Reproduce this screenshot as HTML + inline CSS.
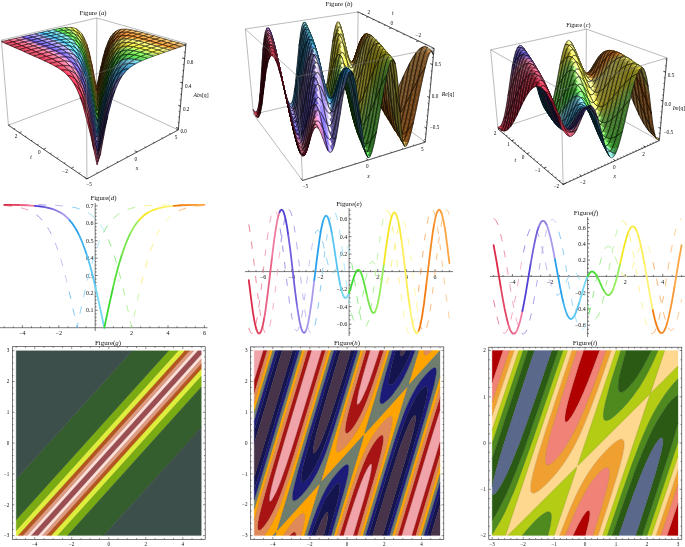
<!DOCTYPE html>
<html><head><meta charset="utf-8"><title>Figure</title>
<style>
html,body{margin:0;padding:0;background:#fff;}
svg{display:block;}
text{font-family:"Liberation Serif","DejaVu Serif",serif;fill:#111;}
.tk{font-size:5.1px;}
.t3{font-size:5.2px;fill:#000;}
.n3{font-size:5.7px;}
.tt{font-size:6.9px;}
.t3t{font-size:6.7px;}
.ax{font-size:6px;}
.m{fill:none;stroke:#000;stroke-width:6.2;stroke-opacity:.9}
</style></head><body>
<svg width="685" height="547" viewBox="0 0 685 547">
<rect width="685" height="547" fill="#fff"/>
<path fill="#9a4e52" stroke="#9a4e52" stroke-width="0.3" fill-rule="evenodd" d="M31,535.6 38.4,535.6 201.3,354.8 201.3,350.7 197.6,350.7Z"/>
<path fill="#ffe0d8" stroke="#ffe0d8" stroke-width="0.3" fill-rule="evenodd" d="M27.1,535.6 31,535.6 197.6,350.7 193.7,350.7ZM38.4,535.6 42.3,535.6 45.1,532.5 201.3,359.1 201.3,354.8Z"/>
<path fill="#e09a80" stroke="#e09a80" stroke-width="0.3" fill-rule="evenodd" d="M22.9,535.6 27.1,535.6 193.7,350.7 189.4,350.7ZM42.3,535.6 46.6,535.6 198.6,366.9 201.3,363.9 201.3,359.1Z"/>
<path fill="#b5561e" stroke="#b5561e" stroke-width="0.3" fill-rule="evenodd" d="M17.9,535.6 22.9,535.6 189.4,350.7 184.5,350.7ZM46.6,535.6 51.5,535.6 199.3,371.5 201.3,369.3 201.3,363.9Z"/>
<path fill="#dfee3a" stroke="#dfee3a" stroke-width="0.3" fill-rule="evenodd" d="M16.2,535.6 17.9,535.6 184.5,350.7 178.2,350.7 16.2,530.5ZM51.5,535.6 57.8,535.6 199.4,378.4 201.3,376.3 201.3,369.3Z"/>
<path fill="#7aab12" stroke="#7aab12" stroke-width="0.3" fill-rule="evenodd" d="M57.8,535.6 67.5,535.6 201.3,387 201.3,376.3ZM16.2,530.2 16.2,530.5 178.2,350.7 168.6,350.7 16.2,519.8Z"/>
<path fill="#355e2e" stroke="#355e2e" stroke-width="0.3" fill-rule="evenodd" d="M67.5,535.6 103.9,535.6 195.6,433.9 201.3,427.5 201.3,387ZM16.2,519.4 16.2,519.8 168.6,350.7 132.1,350.7 16.2,479.3Z"/>
<path fill="#3d4f4b" stroke="#3d4f4b" stroke-width="0.3" fill-rule="evenodd" d="M103.9,535.6 201.3,535.6 201.3,427.5ZM16.2,478.6 16.2,479.3 132.1,350.7 16.2,350.7Z"/>
<path fill="none" stroke="#000" stroke-opacity="0.35" stroke-width="0.3" d="M31,535.6 197.6,350.7M201.3,354.8 38.4,535.6M27.1,535.6 193.7,350.7M201.3,359.1 42.3,535.6M22.9,535.6 189.4,350.7M201.3,363.9 46.6,535.6M17.9,535.6 184.5,350.7M201.3,369.3 51.5,535.6M16.2,530.5 178.2,350.7M201.3,376.3 57.8,535.6M16.2,519.8 168.6,350.7M201.3,387 67.5,535.6M16.2,479.3 132.1,350.7M201.3,427.5 103.9,535.6"/>
<rect x="12.3" y="346.7" width="192.9" height="192.7" fill="none" stroke="#222" stroke-width="0.6"/>
<path fill="none" stroke="#222" stroke-width="0.5" d="M34.7,539.4v-2.2M34.7,346.7v2.2M71.7,539.4v-2.2M71.7,346.7v2.2M108.8,539.4v-2.2M108.8,346.7v2.2M145.8,539.4v-2.2M145.8,346.7v2.2M182.8,539.4v-2.2M182.8,346.7v2.2M16.2,539.4v-1.3M16.2,346.7v1.3M25.5,539.4v-1.3M25.5,346.7v1.3M44,539.4v-1.3M44,346.7v1.3M53.2,539.4v-1.3M53.2,346.7v1.3M62.5,539.4v-1.3M62.5,346.7v1.3M81,539.4v-1.3M81,346.7v1.3M90.2,539.4v-1.3M90.2,346.7v1.3M99.5,539.4v-1.3M99.5,346.7v1.3M118,539.4v-1.3M118,346.7v1.3M127.3,539.4v-1.3M127.3,346.7v1.3M136.5,539.4v-1.3M136.5,346.7v1.3M155,539.4v-1.3M155,346.7v1.3M164.3,539.4v-1.3M164.3,346.7v1.3M173.5,539.4v-1.3M173.5,346.7v1.3M192,539.4v-1.3M192,346.7v1.3M201.3,539.4v-1.3M201.3,346.7v1.3M12.3,535.6h2.2M205.2,535.6h-2.2M12.3,504.8h2.2M205.2,504.8h-2.2M12.3,474h2.2M205.2,474h-2.2M12.3,443.1h2.2M205.2,443.1h-2.2M12.3,412.3h2.2M205.2,412.3h-2.2M12.3,381.5h2.2M205.2,381.5h-2.2M12.3,350.7h2.2M205.2,350.7h-2.2M12.3,529.4h1.3M205.2,529.4h-1.3M12.3,523.3h1.3M205.2,523.3h-1.3M12.3,517.1h1.3M205.2,517.1h-1.3M12.3,510.9h1.3M205.2,510.9h-1.3M12.3,498.6h1.3M205.2,498.6h-1.3M12.3,492.5h1.3M205.2,492.5h-1.3M12.3,486.3h1.3M205.2,486.3h-1.3M12.3,480.1h1.3M205.2,480.1h-1.3M12.3,467.8h1.3M205.2,467.8h-1.3M12.3,461.6h1.3M205.2,461.6h-1.3M12.3,455.5h1.3M205.2,455.5h-1.3M12.3,449.3h1.3M205.2,449.3h-1.3M12.3,437h1.3M205.2,437h-1.3M12.3,430.8h1.3M205.2,430.8h-1.3M12.3,424.7h1.3M205.2,424.7h-1.3M12.3,418.5h1.3M205.2,418.5h-1.3M12.3,406.2h1.3M205.2,406.2h-1.3M12.3,400h1.3M205.2,400h-1.3M12.3,393.8h1.3M205.2,393.8h-1.3M12.3,387.7h1.3M205.2,387.7h-1.3M12.3,375.4h1.3M205.2,375.4h-1.3M12.3,369.2h1.3M205.2,369.2h-1.3M12.3,363h1.3M205.2,363h-1.3M12.3,356.9h1.3M205.2,356.9h-1.3"/>
<text x="34.7" y="545.7" text-anchor="middle" class="tk">−4</text>
<text x="71.7" y="545.7" text-anchor="middle" class="tk">−2</text>
<text x="108.8" y="545.7" text-anchor="middle" class="tk">0</text>
<text x="145.8" y="545.7" text-anchor="middle" class="tk">2</text>
<text x="182.8" y="545.7" text-anchor="middle" class="tk">4</text>
<text x="9.3" y="537.3" text-anchor="end" class="tk">−3</text>
<text x="9.3" y="506.5" text-anchor="end" class="tk">−2</text>
<text x="9.3" y="475.7" text-anchor="end" class="tk">−1</text>
<text x="9.3" y="444.8" text-anchor="end" class="tk">0</text>
<text x="9.3" y="414" text-anchor="end" class="tk">1</text>
<text x="9.3" y="383.2" text-anchor="end" class="tk">2</text>
<text x="9.3" y="352.4" text-anchor="end" class="tk">3</text>
<text x="108" y="345.2" text-anchor="middle" class="tt">Figure(<tspan font-style="italic">g</tspan>)</text>
<path fill="#f0a3a8" stroke="#f0a3a8" stroke-width="0.3" fill-rule="evenodd" d="M343.4,535.6 353.5,535.6 364.1,499.4 367.2,488.2 369.6,479.2 371.1,472.1 371.8,467 371.9,465.4 371.8,464.6 371.1,463.7 370.3,464.1 369.6,464.9 368.8,465.9 367.2,468.5 364.1,474.8 361,482.3 357.2,492.8 353.3,504.2 348.6,518.6ZM401.6,535.6 412,535.6 412.1,535.1 440,442.3 440,409.9 434.6,426.9 428.4,447ZM269.4,500.9 269.7,501.6 270.5,501.6 271.2,500.9 272.8,498.8 275.1,494.6 277.4,489.6 279.7,484 284.4,471.4 289.8,455.1 296.8,433 321.8,350.5 311.4,350.5 285.9,435.4 275.9,470 272.8,481.4 270.5,491.2 269.5,497 269.3,499.4ZM357.1,404.5 357.9,404.7 358.7,404.1 360.3,402 362.6,397.9 365.7,391.1 368.8,383.2 371.9,374.7 375.7,363.2 379.8,350.5 370,350.5 362.6,376.1 358.7,391.1 357.9,394.6 357,399.9 356.8,402.9ZM254.2,380.6 254.2,381.1 263.4,350.5 254.2,350.5Z"/>
<path fill="#a81414" stroke="#a81414" stroke-width="0.3" fill-rule="evenodd" d="M289.7,535.6 296.1,535.6 296,534.3 295.8,533.3 295.2,532.2 294.5,531.9 293.7,532.1 292.1,533.1ZM339.5,535.6 343.4,535.6 348.6,518.6 353.3,504.2 357.2,492.8 361,482.3 364.1,474.8 367.2,468.5 368.8,465.9 369.6,464.9 370.3,464.1 371.1,463.7 371.8,464.6 371.9,465.4 371.8,467 371.1,472.1 369.6,479.2 367.2,488.2 364.1,499.4 353.5,535.6 357.4,535.6 373.4,481.6 377.3,468 380.4,456.3 382.7,446.1 383.5,440.9 383.6,438.4 383.5,436.9 383.3,436.1 382.7,435.2 381.9,435 381.2,435.2 379.6,436.2 377.3,438.6 375,441.6 372.6,445.1 369.6,450.5 367.2,455.1 364.1,461.9 359.5,473.7 354.1,489.2 347.9,508.4ZM397.8,535.6 401.6,535.6 428.4,447 434.6,426.9 440,409.9 440,397.2 434.6,414.2 427.6,436.8ZM412,535.6 415.8,535.6 439.2,457.8 440,455.2 440,442.3ZM258.5,530.2 258.8,530.4 259.6,530.3 260.4,530 261.2,529.5 262.7,528.1 264.3,526.3 265.8,524.3 268.9,519.6 272,514.1 275.1,507.8 278.2,500.6 281.3,492.7 284.4,484.1 287.5,474.9 294.5,453.2 305.3,417.8 325.6,350.5 321.8,350.5 297.6,430.5 291.4,450.3 285.9,466.9 281.3,480 279,485.9 276.7,491.4 274.3,496.1 272.8,498.8 271.2,500.9 270.5,501.6 269.7,501.6 269.4,500.9 269.3,500.1 269.3,498.6 269.6,495.5 271.2,487.7 274.3,475.6 278.2,461.8 284.4,440.6 311.4,350.5 307.6,350.5 275.1,458.6 268.1,482.3 263.5,498.7 259.6,513.8 258,521.7 257.6,525.6 257.6,527.9 257.9,529.4 258.1,529.8ZM345.8,433 346.3,433.4 347.1,433.4 347.9,433.1 348.6,432.6 350.2,431.2 352.5,428.5 354.8,425.3 357.2,421.5 360.3,415.8 362.6,411 364.9,405.7 367.2,400 371.9,387.3 377.3,371.1 383.8,350.5 379.8,350.5 372.6,372.4 369.6,381.2 366.5,389.2 364.1,394.6 361.8,399.4 359.5,403.2 358.7,404.1 357.9,404.7 357.1,404.5 356.8,402.9 356.9,401.4 357.3,398.3 358.7,391.1 362.6,376.1 370,350.5 366,350.5 354.1,391 350.2,404.9 347.9,413.9 346.3,420.7 345.3,426.9 345.1,429.2 345.1,430.7 345.4,432.3ZM254.2,393.7 267.2,350.5 263.4,350.5 263.2,351.3 254.2,381.1Z"/>
<path fill="#e08a5a" stroke="#e08a5a" stroke-width="0.3" fill-rule="evenodd" d="M254.2,535.6 264.5,535.6 268.7,529.4 272.3,523.3 275.7,516.3 279,508.6 282.1,500.6 285.2,491.8 292.9,467.9 304.5,430.1 328.5,350.5 325.6,350.5 303.7,422.9 293.7,455.6 285.9,479.5 282.8,488.4 279.7,496.7 276.7,504.3 273.6,511 271.2,515.6 268.1,520.9 265,525.3 262.7,528.1 261.2,529.5 260.4,530 259.6,530.3 258.8,530.4 258.1,529.8 257.7,528.7 257.5,526.3 257.7,524 258.1,521.4 258.8,517.3 261.2,507.4 265.8,490.4 272.8,466.5 307.6,350.5 304.7,350.5 266.6,477.2 258.8,503.4 254.2,519.7ZM283.3,535.6 289.7,535.6 292.1,533.1 293.7,532.1 294.5,531.9 295.2,532.2 295.8,533.3 296,534.3 296.1,535.6 301.3,535.6 303.7,525.6 304.8,519.4 305,517.1 304.9,515.5 304.6,514 303.9,513.2 303,513.1 302.2,513.3 300.6,514.2 298.3,516.1 295.2,519.2 292.1,522.8 289,526.8 285.9,531.3ZM336.5,535.6 339.5,535.6 348.6,506 354.8,486.9 360.3,471.6 363.4,463.8 365.7,458.4 368,453.5 370.3,449.1 372.6,445.1 375,441.6 377.3,438.6 378.8,436.9 380.4,435.6 381.2,435.2 381.9,435 382.7,435.2 383.3,436.1 383.5,436.9 383.6,438.4 383.5,440.7 383.2,443.1 381.9,449.8 378.8,462.3 375,476.2 368,500.1 357.4,535.6 360.3,535.6 380.4,468.5 385.8,449.7 388.9,438.3 391.2,428.7 392,424.7 392.3,422.2 392.5,419.9 392.4,418.4 392,416.8 391.2,416.2 390.5,416.2 388.9,416.8 386.6,418.6 382.7,422.4 378.8,426.9 375,432.2 371.4,437.7 368.4,443.1 365.4,449.2 363,454.6 360.6,460.8 357.9,467.9 354.8,476.9 347.9,498.6ZM394.9,535.6 397.8,535.6 427.6,436.8 434.6,414.2 440,397.2 440,387.3 434.6,404.4 427.6,427.1ZM415.8,535.6 418.7,535.6 438.5,470.1 440,464.9 440,455.2ZM337.7,452.3 338.6,452.2 339.4,451.9 340.9,450.9 342.5,449.6 345.6,446.6 349.4,442.1 353.3,436.9 356.4,432.2 359.5,426.9 362.3,421.5 364.7,416.1 367,410.7 369.6,403.9 372.1,396.8 378.1,378.6 386.8,350.5 383.8,350.5 376.5,373.5 371.1,389.6 368,398 365.7,403.9 363.4,409.3 361,414.3 358.7,418.8 356.4,422.8 354.8,425.3 352.5,428.5 350.2,431.2 348.6,432.6 347.9,433.1 347.1,433.4 346.3,433.4 345.6,432.8 345.4,432.3 345.1,430.7 345.2,428.4 345.5,425.3 346,422.2 347.9,413.9 350.2,404.9 354.1,391 366,350.5 363.1,350.5 346.3,406.7 341.7,423.1 338.7,434.6 337,441.9 336.2,447.7 336.2,449.2 336.3,450.8 336.6,451.5 337,452.1ZM254.2,402.9 254.2,403.5 270.2,350.5 267.2,350.5 267,351.3 254.2,393.8ZM424.6,355.1 425.3,355.4 426.1,355.3 427.6,354.6 429.9,352.8 432.3,350.5 423.8,350.5 423.7,352 423.8,353.6 424.1,354.4Z"/>
<path fill="#ffa400" stroke="#ffa400" stroke-width="0.3" fill-rule="evenodd" d="M264.5,535.6 272.8,535.6 275.9,532.2 276.1,532.5 276.1,533.3 275.4,535.6 283.3,535.6 285.6,531.7 288.3,527.9 290.6,524.7 293.7,521 296.8,517.6 299.1,515.4 301.4,513.7 303,513.1 303.7,513.2 304.6,514 304.9,515.5 304.9,517.9 304.6,520.9 303.7,525.2 301.3,535.6 304.6,535.6 319.2,487.1 320,484.5 320.1,483.9 320,483.5 319.8,483.9 319.2,484.2 316.9,486.8 278.2,529.6 277.4,530.4 277.3,530.2 277.4,529.4 331.2,350.5 328.5,350.5 306.1,425 295.2,460.5 288.3,482.5 282.5,499.4 278.1,510.9 276.1,515.5 273.8,520.2 271.8,524 269.6,527.9 267.2,531.7ZM333.8,535.6 336.5,535.6 347.9,498.6 354.8,476.9 357.9,467.9 360.9,460 363.7,453.1 366.1,447.7 368.8,442.3 371.4,437.7 374.9,432.3 378.1,427.9 381.9,423.2 385,420 388.1,417.3 389.7,416.4 390.5,416.2 391.2,416.2 392,416.8 392.4,418.4 392.5,419.9 392,424.7 390.5,432.1 387.4,444.1 381.9,463.2 360.3,535.6 363,535.6 363.5,534.1 407.6,387.5 407.6,386.7 407.5,386.6 406.7,387.4 368,430.2 365.7,432.7 365.2,433 364.9,433.5 364.8,433 364.9,432.5 365.7,429.8 389.6,350.5 386.8,350.5 378.1,378.6 371.3,399.1 368.5,406.8 366,413 363.7,418.4 361.1,423.8 358.2,429.2 355.4,433.8 352.2,438.4 348.6,443 345.6,446.6 342.5,449.6 340.1,451.4 338.6,452.2 337.8,452.3 337,452.1 336.6,451.5 336.3,450.4 336.2,449.2 336.5,445.4 337.8,438.4 340.1,428.8 344.8,412.1 351.7,388.3 363.1,350.5 360.4,350.5 360.1,351.3 322.3,476.9 321.3,480.8 321.6,481.6 363.4,435.3 363.6,436.1 362.6,440.1ZM364.1,434.6 364.1,434.5ZM392.2,535.6 394.9,535.6 427.6,427.1 434.6,404.4 440,387.3 440,376.8ZM418.7,535.6 421.4,535.6 421.6,534.8 440,473.8 440,464.9ZM254.2,519.4 254.2,519.7 259.6,500.7 268.1,472 304.7,350.5 302,350.5 254.2,509.3ZM254.2,412.2 272.8,350.5 270.2,350.5 254.2,403.5ZM408.8,384.4 409,384.7 409.8,383.9 440,350.5 432.3,350.5 429.9,352.8 428.4,354 426.8,355 426.1,355.3 425.3,355.4 424.5,355.1 424.1,354.4 423.7,352.8 423.8,350.5 418.8,350.5 409,382.8Z"/>
<path fill="#6e7d6e" stroke="#6e7d6e" stroke-width="0.3" fill-rule="evenodd" d="M272.8,535.6 275.4,535.6 276.1,533.3 276.1,532.5 275.9,532.2ZM304.6,535.6 307.7,535.6 313.4,518.6 318.2,505.5 320.5,500.1 322.6,495.5 325,490.9 327.6,486.2 330.1,482.3 333.2,477.9 336.3,473.9 338.6,471.2 341.7,468 344,466 345.6,465.1 346.3,464.7 347.1,464.6 347.9,464.9 348.3,465.4 348.6,466.5 348.7,467.7 348.5,471.6 347.1,478.7 344.8,488.1 341.7,499.4 331.1,535.6 333.8,535.6 334.8,532.5 362.6,440.1 363.6,436.1 363.4,435.3 321.6,481.6 321.3,480.8 322.3,476.9 360.4,350.5 357.7,350.5 342.5,400.8 333.2,430.6 329.3,442.3 326.2,451.2 323.5,458.5 320.6,465.4 317.7,471.6 314.8,477 311.5,482.4 308.4,487 303.7,492.8 299.9,497 296.8,499.6 295.2,500.5 294.5,500.8 293.7,500.7 292.9,500.1 292.5,498.6 292.4,497 292.6,494.7 293,491.6 293.8,487.8 295.2,481.7 299.1,467.2 305.3,445.8 333.9,350.5 331.2,350.5 330.7,352 277.4,529.4 277.3,530.2 277.4,530.4 278.2,529.6 316.9,486.8 319.2,484.2 319.8,483.9 320,483.5 320.1,483.9 320,484.5 319.2,487.1ZM320.8,482.4 320.8,482.3ZM363,535.6 365.7,535.6 384.3,474.1 394.3,441.6 398.2,429.7 401.3,420.7 404.4,412.2 407.2,405.3 410.3,398.3 413.5,392.1 416.8,386.7 420.4,381.4 424.5,376.2 426.8,373.5 429.2,371.2 430.7,369.8 432.3,368.6 433.8,367.8 434.6,367.7 435.4,367.9 436.1,369 436.3,370.6 436.2,372.9 435.4,378.5 433.1,388.3 429.2,402.8 422.2,426.7 389.5,535.6 392.2,535.6 440,376.8 440,350.5 409,384.7 408.8,384.4 409,382.8 418.8,350.5 415.1,350.5 411.1,361.3 407.6,369.8 404.2,376.7 400.2,383.7 397.7,387.5 395.1,391.2 392,395.1 389.7,397.7 387.4,400.1 385,402.2 383.5,403.2 381.9,403.8 381.2,403.8 380.4,403.1 380,401.4 380,399.9 380.2,397.5 380.9,392.9 382.7,385.2 385,376.2 392.4,350.5 389.6,350.5 365.7,429.8 364.9,432.5 364.8,433 364.9,433.5 365.2,433 365.7,432.7 368,430.2 406.7,387.4 407.5,386.6 407.6,386.7 407.6,387.5ZM421.4,535.6 424,535.6 439.6,483.9 440,482.6 440,473.8ZM254.2,508.6 254.2,509.3 302,350.5 299.3,350.5 254.2,500ZM254.2,420.7 254.2,421.2 254.4,420.7 275.5,350.5 272.8,350.5 254.2,412.3Z"/>
<path fill="#1c1c78" stroke="#1c1c78" stroke-width="0.3" fill-rule="evenodd" d="M307.7,535.6 311,535.6 315.4,523.1 320,511.2 323.9,502.7 327.7,495.4 330.8,490.5 333.9,486.6 335.5,485 337,483.8 337.8,483.5 338.6,483.5 339.4,484.2 339.5,484.7 339.8,487 339.5,490.9 338.6,496.2 337,503 334.7,512 328,535.6 331.1,535.6 340.9,502.1 344,491 346.4,481.6 347.9,475.1 348.6,470 348.7,467.7 348.6,466.5 348.3,465.4 347.9,464.9 347.1,464.6 346.3,464.7 344.8,465.5 343.2,466.7 341.7,468 338.6,471.2 335.5,474.9 332.1,479.3 329,483.9 326.2,488.6 324.2,492.4 321.9,497 319.8,501.7 317.7,506.9 313,519.6ZM365.7,535.6 368.6,535.6 385,481.4 394.3,451.5 398.2,439.7 401.3,430.7 404.4,422.2 406.7,416.4 409.8,409.2 412.1,404.3 414.5,400 417.5,394.9 419.9,391.6 422.2,388.9 423.7,387.5 424.5,387 425.3,386.6 426.1,386.6 426.8,387.2 427.2,388.3 427.4,389.8 427.3,391.4 426.6,396.8 424.5,406.4 420.6,421 414.5,442.6 386.6,535.6 389.5,535.6 419.9,434.6 426.1,413.6 430.7,397.2 433.9,385.2 435.2,379 435.9,375.2 436.2,372.9 436.3,370.6 436.1,369 435.4,367.9 434.6,367.7 433.8,367.8 433,368.2 431.5,369.2 429.9,370.5 427.6,372.7 425.3,375.3 420.6,381.1 416.7,386.7 413.1,392.9 409.8,399.4 406.7,406.4 404.1,413 401.3,420.7 398.2,429.7 394.3,441.6 384.3,474.1ZM424,535.6 427,535.6 438.8,496.3 440,492.3 440,482.6ZM292.9,500.1 293.7,500.7 294.5,500.8 296,500.1 297.6,499 299.1,497.7 301.4,495.4 306.1,490 310,484.7 313.9,478.5 317.3,472.4 320.9,464.6 323.5,458.5 326.4,450.8 329.3,442.3 333.2,430.6 342.5,400.8 357.7,350.5 354.8,350.5 341.7,393.6 333.2,420.7 327,439 323.9,447.4 321.6,453.2 319.2,458.5 316.9,463.4 313.8,469.3 311.5,473.1 309.2,476.4 306.8,479.2 305.3,480.7 304.5,481.3 303.7,481.7 303,481.9 302.2,481.7 301.6,480.8 301.4,480.1 301.3,477.8 301.5,475.4 302.1,471.6 303.7,463.8 307.6,449 313,430 336.8,350.5 333.9,350.5 308.4,435.3 302.2,456.4 297.6,472.8 294.5,484.7 292.9,492.3 292.4,497 292.5,498.6ZM254.2,499.4 254.2,500 260.4,479.7 299.3,350.5 296.4,350.5 254.2,490.2ZM254.2,430.7 278.4,350.5 275.5,350.5 275.1,351.8 254.2,421.2ZM381,403.7 381.9,403.8 383.5,403.2 385.8,401.5 388.1,399.4 390.5,396.9 393.6,393.2 396.6,389.1 399.3,385.2 403.4,378.3 407.2,370.6 411.1,361.3 415.1,350.5 411.4,350.5 408.3,358.3 405.9,363.5 403.6,368.2 400.5,373.8 397.4,378.6 395.1,381.5 392.8,383.9 391.2,384.8 390.5,385 389.7,384.7 389.5,384.4 389.1,383.7 388.9,382.9 388.9,380 389.3,376.7 390,372.9 391.2,367.2 392.8,361 395.6,350.5 392.4,350.5 385,376.2 382.7,385 381.2,391.7 380.4,396 380,399.9 380.1,402.2 380.4,403.1Z"/>
<path fill="#14144e" stroke="#14144e" stroke-width="0.3" fill-rule="evenodd" d="M311,535.6 315.4,535.6 319.2,525.9 322.3,519.1 324.6,514.9 326.2,512.9 327,512.3 327.7,512.4 328,513.2 328.1,514.8 327.8,517.9 326.2,525.8 323.7,535.6 328,535.6 334.7,512 337,503 338.6,496.2 339.5,490.9 339.8,487 339.5,484.7 339.4,484.2 338.6,483.5 337.8,483.5 337,483.8 336.3,484.3 334.7,485.7 333.2,487.5 331.6,489.4 329.3,492.9 325.4,499.6 322.3,505.9 318.5,515 314.6,525.2ZM368.6,535.6 372.4,535.6 390.5,476.5 395.9,459.4 400.5,445.6 405.2,433 409,423.9 410.6,420.8 412.1,418.1 413.7,416 414.5,415.4 415.2,415.4 415.5,416.1 415.6,416.8 415.6,418.4 415.3,421.5 413.7,429.2 411.4,438.5 407.5,452.5 402.8,468.5 382.8,535.6 386.6,535.6 412.9,447.9 419.1,426.5 423,412.5 426,399.9 427.1,393.7 427.4,390.6 427.2,388.3 426.8,387.2 426.1,386.6 425.3,386.6 424.5,387 423.7,387.5 422.2,388.9 420.6,390.6 419.1,392.6 416,397.3 413.7,401.4 410.6,407.5 407.5,414.5 404.4,422.2 399,437.4 392.8,456.4 384.3,483.9ZM427,535.6 430.8,535.6 439.6,506.3 440,505 440,492.3ZM254.2,490.1 265,454.6 296.4,350.5 292.6,350.5 254.2,477.5ZM302.1,481.6 303,481.9 303.7,481.7 305.3,480.7 307.6,478.4 310.7,474.3 313.8,469.3 316.1,465 319.2,458.5 322.3,451.3 324.6,445.3 327.7,436.8 333.9,418.3 341.7,393.6 354.8,350.5 350.9,350.5 342.5,378.4 335.5,400.7 330.1,417.4 326.2,428.5 322.3,438.5 320,443.8 318.5,447 316.9,449.8 315.4,452.1 314.6,452.9 313.8,453.2 313.1,452.3 313,451.7 313.1,450 313.4,447.7 314.6,441.1 316.9,431.6 320,420.3 324.6,404.1 340.6,350.5 336.8,350.5 315.4,422.1 309.9,440.7 306.1,454.7 303,467 301.7,473.9 301.3,477 301.3,479.3 301.6,480.8ZM254.2,443.1 254.2,443.6 254.6,442.3 282.2,350.5 278.4,350.5 278.2,351.2 254.2,430.9ZM389.5,384.4 389.7,384.7 390.5,385 391.2,384.8 392.8,383.9 394.3,382.4 395.9,380.6 399,376.3 402.1,371.1 405.2,365.1 408.3,358.3 411.4,350.5 405.8,350.5 404.4,353 402.8,355.2 402.1,356 401.3,356.3 400.9,355.9 400.7,355.1 400.6,354.4 400.9,350.5 395.6,350.5 392,364 389.7,374.4 389.1,378.3 388.9,381.4 388.9,382.9 389.1,383.7Z"/>
<path fill="#48344a" stroke="#48344a" stroke-width="0.3" fill-rule="evenodd" d="M315.4,535.6 323.7,535.6 326.2,525.8 327.7,518.1 328.1,514.8 328,513.2 327.7,512.4 327,512.3 326.2,512.9 324.6,514.9 323.1,517.6 321.6,520.7 319.2,525.9ZM372.4,535.6 382.8,535.6 401.3,473.7 406.7,455.2 410.6,441.3 413.7,429.2 415.2,421.7 415.6,417.6 415.5,416.1 415.2,415.4 414.5,415.4 413.7,416 412.9,417 411.4,419.4 409.8,422.3 408.3,425.6 405.9,431 401.3,443.4 396.6,457 391.2,474ZM430.8,535.6 440,535.6 440,505ZM254.2,477 254.2,477.5 261.2,454.7 292.6,350.5 282.2,350.5 282.1,351 254.2,443.6ZM313.6,453.1 313.8,453.2 314.6,452.9 315.4,452.1 316.9,449.8 318.5,447 320,443.8 322.3,438.5 326.2,428.5 330.1,417.4 335.5,400.7 342.5,378.4 350.9,350.5 340.6,350.5 324.6,404.1 320,420.3 316.9,431.6 314.6,441.1 313.5,446.9 313.1,450 313,451.5 313.1,452.3ZM400.9,355.9 401.3,356.3 402.1,356 402.8,355.2 404.4,353 405.8,350.5 400.9,350.5 400.6,354.4 400.7,355.1Z"/>
<path fill="none" stroke="#000" stroke-opacity="0.35" stroke-width="0.3" d="M343.4,535.6 348.6,518.6 353.3,504.2 357.2,492.8 361,482.3 364.1,474.8 367.2,468.5 368.8,465.9 369.6,464.9 370.3,464.1 371.1,463.7 371.8,464.6 371.9,465.4 371.8,467 371.1,472.1 369.6,479.2 367.2,488.2 364.1,499.4 353.5,535.6M401.6,535.6 428.4,447 434.6,426.9 440,409.9M440,442.3 412,535.6M263.4,350.5 254.2,381.1M321.8,350.5 297.6,430.5 291.4,450.3 285.9,466.9 281.3,480 279,485.9 276.7,491.4 274.3,496.1 272.8,498.8 271.2,500.9 270.5,501.6 269.7,501.6 269.4,500.9 269.3,500.1 269.3,498.6 269.6,495.5 271.2,487.7 274.3,475.6 278.2,461.8 284.4,440.6 311.4,350.5M379.8,350.5 372.6,372.4 369.6,381.2 366.5,389.2 364.1,394.6 361.8,399.4 359.5,403.2 358.7,404.1 357.9,404.7 357.1,404.5 356.8,402.9 356.9,401.4 357.3,398.3 358.7,391.1 362.6,376.1 370,350.5M289.7,535.6 292.1,533.1 293.7,532.1 294.5,531.9 295.2,532.2 295.8,533.3 296,534.3 296.1,535.6M339.5,535.6 347.9,508.4 354.1,489.2 359.5,473.7 364.1,461.9 366.5,456.7 368.8,452 371.1,447.7 373.4,443.9 375.7,440.5 378.1,437.7 379.6,436.2 380.4,435.6 381.2,435.2 381.9,435 382.7,435.2 383.3,436.1 383.5,436.9 383.6,439.2 383.4,441.5 382.8,445.4 381.2,453.1 378.1,465.1 373.4,481.6 357.4,535.6M397.8,535.6 427.6,436.8 434.6,414.2 440,397.2M440,455.2 415.8,535.6M267.2,350.5 254.2,393.8M325.6,350.5 305.3,417.8 294.5,453.2 287.5,474.9 284.4,484.1 281.3,492.7 278.2,500.6 275.1,507.8 272,514.1 268.9,519.6 265.8,524.3 264.3,526.3 262.7,528.1 261.2,529.5 260.4,530 259.6,530.3 258.8,530.4 258.1,529.8 257.7,528.7 257.6,527.9 257.6,525.6 257.9,522.5 258.7,517.9 259.6,513.8 262.7,501.6 267.4,485 274.3,461.3 307.6,350.5M383.8,350.5 377.3,371.1 371.9,387.3 367.2,400 363.4,409.3 361,414.3 358.7,418.8 356.4,422.8 354.1,426.4 351.7,429.5 349.4,432 347.9,433.1 347.1,433.4 346.3,433.4 345.6,432.8 345.4,432.3 345.1,430.7 345.2,428.4 345.5,425.3 346,422.2 347.9,413.9 350.2,404.9 354.1,391 366,350.5M283.3,535.6 285.6,531.7 288.3,527.9 290.6,524.7 293.7,521 296.8,517.6 299.1,515.4 301.4,513.7 303,513.1 303.7,513.2 304.6,514 304.9,515.5 304.9,517.9 304.6,520.9 303.7,525.2 301.3,535.6M336.5,535.6 347.1,501.1 354.6,477.8 360,462.3 362.6,455.7 365,450 367.6,444.6 370.5,439.2 373.9,433.8 377.3,428.9 381.2,424.1 385,420 388.1,417.3 389.7,416.4 390.5,416.2 391.2,416.2 392,416.8 392.4,418.4 392.5,419.9 392.3,422.2 391.9,425.3 391.1,429.2 389.7,435.3 386.6,446.9 381.2,465.9 360.3,535.6M394.9,535.6 427.6,427.1 434.6,404.4 440,387.3M254.2,519.7 258.8,503.4 266.6,477.2 304.7,350.5M440,464.9 418.7,535.6M270.2,350.5 254.2,403.5M328.5,350.5 296.8,455.5 289.8,477.7 284.4,494.1 281.7,501.7 279.3,507.8 277.1,513.2 274.6,518.6 272.3,523.3 270.1,527.1 267.4,531.5 264.5,535.6M386.8,350.5 378.1,378.6 372.1,396.8 369.6,403.9 367,410.7 364.7,416.1 362.3,421.5 359.5,426.9 356.9,431.5 353.9,436.1 350.2,441.1 346.3,445.7 342.5,449.6 340.1,451.4 338.6,452.2 337.8,452.3 337,452.1 336.6,451.5 336.3,450.4 336.2,448.4 336.4,446.1 337,442.3 338.6,434.9 341.7,423.1 346.3,406.7 363.1,350.5M432.3,350.5 429.9,352.8 428.4,354 426.8,355 426.1,355.3 425.3,355.4 424.5,355.1 424.1,354.4 423.7,352.8 423.8,350.5M275.4,535.6 276.1,533.3 276.1,532.5 275.9,532.2 272.8,535.6M333.8,535.6 362.6,440.1 363.6,436.1 363.4,435.3 321.6,481.6 321.3,480.8 322.3,476.9 360.4,350.5M392.2,535.6 440,376.8M254.2,509.3 302,350.5M320.8,482.4 320.8,482.3 320.8,482.4M440,473.8 421.4,535.6M364.1,434.6 364.1,434.6M272.8,350.5 254.2,412.3M331.2,350.5 277.4,529.4 277.3,530.2 277.4,530.4 278.2,529.6 316.9,486.8 319.2,484.2 319.8,483.9 320,483.5 320.1,483.9 320,484.5 319.2,487.1 304.6,535.6M389.6,350.5 365.7,429.8 364.9,432.5 364.8,433 364.9,433.5 365.2,433 365.7,432.7 368,430.2 406.7,387.4 407.5,386.6 407.6,386.7 407.6,387.5 363,535.6M440,350.5 409,384.7 408.8,384.4 409,382.8 418.8,350.5M331.1,535.6 341.7,499.4 344.8,488.1 347.1,478.7 348.5,471.6 348.7,467.7 348.6,466.5 348.3,465.4 347.9,464.9 347.1,464.6 346.3,464.7 345.6,465.1 343.2,466.7 340.1,469.6 337,473 333.9,476.8 331,480.8 328.5,484.7 325.8,489.3 323.8,493.2 321.5,497.8 319.5,502.4 317.3,507.8 313,519.6 307.7,535.6M389.5,535.6 419.9,434.6 426.8,410.9 431.5,394.4 434.6,382.1 435.4,378.3 436.2,373.6 436.3,371.3 436.1,369.2 435.7,368.2 435.4,367.9 434.6,367.7 433.8,367.8 432.3,368.6 430.7,369.8 428.4,371.9 424.5,376.2 419.9,382.1 416,387.9 412.7,393.7 409.6,399.9 406.5,406.8 403.6,414.2 400.7,422.2 397.4,432.1 393.6,444.1 384.3,474.1 365.7,535.6M254.2,500 299.3,350.5M440,482.6 424,535.6M275.5,350.5 254.2,421.2M333.9,350.5 306.1,443.2 299.9,464.5 296,478.6 293.6,488.6 292.9,492.4 292.4,496.3 292.5,498.6 292.9,500.1 293.7,500.7 294.5,500.8 295.2,500.5 296.8,499.6 298.3,498.4 300.6,496.2 304.5,491.9 308.9,486.2 312.5,480.8 315.7,475.4 318.8,469.3 321.6,463.1 324.1,456.9 327,449 333.2,430.6 342.5,400.8 357.7,350.5M392.4,350.5 385,376.2 382.7,385.2 380.9,392.9 380.2,397.5 380,399.9 380,401.4 380.4,403.1 381.2,403.8 381.9,403.8 383.5,403.2 385,402.2 387.4,400.1 389.7,397.7 392,395.1 395.1,391.2 397.7,387.5 400.2,383.7 404.2,376.7 407.6,369.8 411.1,361.3 415.1,350.5M328,535.6 334.7,512 337,503 338.6,496.2 339.5,490.9 339.8,487 339.5,484.7 339.4,484.2 338.6,483.5 337.8,483.5 337,483.8 336.3,484.3 334.7,485.7 333.2,487.5 331.6,489.4 329.3,492.9 325.4,499.6 322.3,505.9 318.5,515 314.6,525.2 311,535.6M386.6,535.6 412.9,447.9 419.1,426.5 423,412.5 426,399.9 427.1,393.7 427.4,390.6 427.2,388.3 426.8,387.2 426.1,386.6 425.3,386.6 424.5,387 423.7,387.5 422.2,388.9 420.6,390.6 419.1,392.6 416,397.3 413.7,401.4 410.6,407.5 407.5,414.5 404.4,422.2 399,437.4 392.8,456.4 384.3,483.9 368.6,535.6M440,492.3 427,535.6M254.2,490.2 296.4,350.5M278.4,350.5 254.2,430.9M336.8,350.5 314.6,424.7 309.2,443.4 305.3,457.6 302.9,467.7 302.1,471.6 301.4,476.2 301.3,478.5 301.4,480.2 301.6,480.8 302.1,481.6 303,481.9 303.7,481.7 304.5,481.3 305.3,480.7 306.8,479.2 309.2,476.4 312.3,471.9 314.6,467.9 317.7,461.9 320,456.8 323.1,449.3 325.4,443.3 328.5,434.6 334.7,415.9 342.5,391 354.8,350.5M395.6,350.5 392.8,361 391.2,367.2 390,372.9 389.3,376.7 388.9,380 388.9,382.9 389.1,383.7 389.5,384.4 389.7,384.7 390.5,385 391.2,384.8 392.8,383.9 395.1,381.5 397.4,378.6 400.5,373.8 403.6,368.2 405.9,363.5 408.3,358.3 411.4,350.5M323.7,535.6 326.2,525.8 327.8,517.9 328.1,514.8 328,513.2 327.7,512.4 327,512.3 326.2,512.9 324.6,514.9 322.3,519.1 319.2,525.9 315.4,535.6M382.8,535.6 402.8,468.5 407.5,452.5 411.4,438.5 413.7,429.2 415.3,421.5 415.6,418.4 415.6,416.8 415.5,416.1 415.2,415.4 414.5,415.4 413.7,416 412.1,418.1 410.6,420.8 409,423.9 405.2,433 400.5,445.6 395.9,459.4 390.5,476.5 372.4,535.6M440,505 430.8,535.6M254.2,477.5 292.6,350.5M282.2,350.5 254.2,443.6M340.6,350.5 324.6,404.1 320,420.3 316.9,431.6 314.6,441.1 313.4,447.7 313.1,450 313,451.7 313.1,452.3 313.8,453.2 314.6,452.9 315.4,452.1 316.9,449.8 318.5,447 320,443.8 322.3,438.5 326.2,428.5 330.1,417.4 335.5,400.7 342.5,378.4 350.9,350.5M400.9,350.5 400.6,354.4 400.7,355.1 400.9,355.9 401.3,356.3 402.1,356 402.8,355.2 404.4,353 405.8,350.5"/>
<rect x="250.5" y="346.9" width="193.3" height="192.4" fill="none" stroke="#222" stroke-width="0.6"/>
<path fill="none" stroke="#222" stroke-width="0.5" d="M272.8,539.3v-2.2M272.8,346.9v2.2M309.9,539.3v-2.2M309.9,346.9v2.2M347.1,539.3v-2.2M347.1,346.9v2.2M384.3,539.3v-2.2M384.3,346.9v2.2M421.4,539.3v-2.2M421.4,346.9v2.2M254.2,539.3v-1.3M254.2,346.9v1.3M263.5,539.3v-1.3M263.5,346.9v1.3M282.1,539.3v-1.3M282.1,346.9v1.3M291.4,539.3v-1.3M291.4,346.9v1.3M300.6,539.3v-1.3M300.6,346.9v1.3M319.2,539.3v-1.3M319.2,346.9v1.3M328.5,539.3v-1.3M328.5,346.9v1.3M337.8,539.3v-1.3M337.8,346.9v1.3M356.4,539.3v-1.3M356.4,346.9v1.3M365.7,539.3v-1.3M365.7,346.9v1.3M375,539.3v-1.3M375,346.9v1.3M393.6,539.3v-1.3M393.6,346.9v1.3M402.8,539.3v-1.3M402.8,346.9v1.3M412.1,539.3v-1.3M412.1,346.9v1.3M430.7,539.3v-1.3M430.7,346.9v1.3M440,539.3v-1.3M440,346.9v1.3M250.5,535.6h2.2M443.8,535.6h-2.2M250.5,504.8h2.2M443.8,504.8h-2.2M250.5,473.9h2.2M443.8,473.9h-2.2M250.5,443.1h2.2M443.8,443.1h-2.2M250.5,412.2h2.2M443.8,412.2h-2.2M250.5,381.4h2.2M443.8,381.4h-2.2M250.5,350.5h2.2M443.8,350.5h-2.2M250.5,529.4h1.3M443.8,529.4h-1.3M250.5,523.3h1.3M443.8,523.3h-1.3M250.5,517.1h1.3M443.8,517.1h-1.3M250.5,510.9h1.3M443.8,510.9h-1.3M250.5,498.6h1.3M443.8,498.6h-1.3M250.5,492.4h1.3M443.8,492.4h-1.3M250.5,486.2h1.3M443.8,486.2h-1.3M250.5,480.1h1.3M443.8,480.1h-1.3M250.5,467.7h1.3M443.8,467.7h-1.3M250.5,461.6h1.3M443.8,461.6h-1.3M250.5,455.4h1.3M443.8,455.4h-1.3M250.5,449.2h1.3M443.8,449.2h-1.3M250.5,436.9h1.3M443.8,436.9h-1.3M250.5,430.7h1.3M443.8,430.7h-1.3M250.5,424.5h1.3M443.8,424.5h-1.3M250.5,418.4h1.3M443.8,418.4h-1.3M250.5,406h1.3M443.8,406h-1.3M250.5,399.9h1.3M443.8,399.9h-1.3M250.5,393.7h1.3M443.8,393.7h-1.3M250.5,387.5h1.3M443.8,387.5h-1.3M250.5,375.2h1.3M443.8,375.2h-1.3M250.5,369h1.3M443.8,369h-1.3M250.5,362.8h1.3M443.8,362.8h-1.3M250.5,356.7h1.3M443.8,356.7h-1.3"/>
<text x="272.8" y="545.6" text-anchor="middle" class="tk">−4</text>
<text x="309.9" y="545.6" text-anchor="middle" class="tk">−2</text>
<text x="347.1" y="545.6" text-anchor="middle" class="tk">0</text>
<text x="384.3" y="545.6" text-anchor="middle" class="tk">2</text>
<text x="421.4" y="545.6" text-anchor="middle" class="tk">4</text>
<text x="247.5" y="537.3" text-anchor="end" class="tk">−3</text>
<text x="247.5" y="506.4" text-anchor="end" class="tk">−2</text>
<text x="247.5" y="475.6" text-anchor="end" class="tk">−1</text>
<text x="247.5" y="444.8" text-anchor="end" class="tk">0</text>
<text x="247.5" y="413.9" text-anchor="end" class="tk">1</text>
<text x="247.5" y="383.1" text-anchor="end" class="tk">2</text>
<text x="247.5" y="352.2" text-anchor="end" class="tk">3</text>
<text x="347" y="345.2" text-anchor="middle" class="tt">Figure(<tspan font-style="italic">h</tspan>)</text>
<path fill="#b00000" stroke="#b00000" stroke-width="0.3" fill-rule="evenodd" d="M573,535.6 585.5,535.6 588.2,524.9 589,521.3 589.7,517.1 589.9,514.8 589.9,512.5 589.7,511.6 589.4,510.9 589,510.5 588.2,510.5 587.4,510.9 586.6,511.5 585.1,513.2 582.8,516.6 580.5,520.5 578.1,524.8 575.8,529.5ZM667.1,535.6 678,535.6 678,503.3ZM565.3,421.5 565.7,421.9 566.5,421.9 567.3,421.5 568.1,420.9 569.6,419.1 571.2,417 573.5,413.3 575.8,409.1 578.1,404.5 582.8,394.3 587.4,383.2 592.8,369.2 599.7,350.5 583.5,350.5 578.1,367.1 573.5,382.1 570.4,392.6 568.1,401.1 566.5,407.6 565.7,411.1 565.1,415.3 564.8,419.1 565,420.7ZM492.2,382.9 503.1,350.5 492.2,350.5Z"/>
<path fill="#f08278" stroke="#f08278" stroke-width="0.3" fill-rule="evenodd" d="M565.2,535.6 573,535.6 575.8,529.5 578.1,524.8 580.5,520.5 582.8,516.6 585.1,513.2 586.6,511.5 587.4,510.9 588.2,510.5 589,510.5 589.4,510.9 589.7,511.6 589.9,512.5 589.9,514.8 589.7,517.1 589,521.3 588.2,524.9 585.5,535.6 593,535.6 598.3,519 602.1,506.1 605.2,495.1 607.6,485.8 609.1,477.8 609.5,473.1 609.4,470.8 609.1,469.4 608.7,468.5 608,467.7 607.6,467.5 606.8,467.3 606,467.4 604.5,468.1 602.1,469.7 599.8,471.8 597.5,474.3 594.4,478.1 591.3,482.3 588.2,487 585.9,490.8 582.8,496.3 577.4,507 574.3,513.7 571.2,520.8ZM660.7,535.6 667.1,535.6 677.5,504.8 678,503.3 678,484.3ZM546.7,464.6 547.2,464.9 547.9,465 548.7,464.9 549.5,464.7 551,463.8 552.6,462.7 554.1,461.3 558,457.2 561.9,452.3 565.7,446.6 569.6,440.2 573.5,433.2 576.6,427 580.5,418.7 584.3,409.7 588.2,400.2 592.1,390.2 596.7,377.7 606.3,350.5 599.7,350.5 593.6,367.1 588.2,381.2 583.6,392.5 578.9,402.9 575,410.5 572.7,414.6 571.2,417 569.6,419.1 568.1,420.9 567.3,421.5 566.5,421.9 565.7,421.9 565.3,421.5 565,420.7 564.8,419.1 564.9,416.8 565.7,411.1 567.3,404.2 569.6,395.4 573.5,382.1 578.1,367.1 583.5,350.5 576.8,350.5 566.5,381.9 558.8,406 553.4,423.6 549.5,437.3 546.9,447.7 546,452.3 545.5,456.2 545.2,459.2 545.3,461.6 545.6,463.1 546,463.9ZM492.2,401.4 492.2,402.1 509.5,350.5 503.1,350.5 502.8,351.3 492.2,383Z"/>
<path fill="#f0a030" stroke="#f0a030" stroke-width="0.3" fill-rule="evenodd" d="M559.5,535.6 565.2,535.6 571.2,520.8 576.6,508.6 582,497.7 585.1,492.2 587.4,488.3 589.7,484.6 592.8,480.1 595.9,476.1 598.3,473.4 600.6,471 602.9,469.1 605.2,467.7 606.8,467.3 607.6,467.5 608.3,468 609.1,469.3 609.4,470.8 609.5,473.1 609.3,475.4 608.9,478.5 608.3,482.4 606,492.2 602.9,503.5 599,516.5 593,535.6 598.2,535.6 607.6,507 613.7,487.4 618.4,472 621.4,460.8 623.4,452.3 623.9,449.2 624.3,446.1 624.3,443.8 624.2,442.3 623.8,440.7 623,439.6 622.3,439.2 621.5,439.1 619.9,439.3 618.4,440 616.8,440.9 614.5,442.6 609.9,446.6 604.5,452 599,458.1 593.6,465 589,471.6 585.1,477.7 581.6,483.9 578.1,490.5 574.7,497.8 571.2,505.7 567.8,514 563.8,524ZM655.9,535.6 660.7,535.6 677.9,484.7 678,484.3 678,469.7ZM532.4,493.2 533.2,493.3 534,493.2 535.6,492.7 537.1,491.9 539.4,490.4 541.7,488.6 544.8,485.8 547.9,482.8 551,479.6 557.2,472.4 562.5,465.4 567.7,457.7 572.3,450 576.4,442.3 580.1,434.6 584.1,425.3 588.5,414.5 592.8,403.1 598.3,388.3 611.4,350.5 606.3,350.5 595.2,381.9 590.5,394.3 586.6,404.1 582.8,413.4 578.9,422.1 575,430.1 571.2,437.5 568.1,442.9 564.2,448.9 561.1,453.3 558,457.2 554.9,460.6 551.8,463.3 549.5,464.7 547.9,465 547.2,464.9 546.4,464.4 545.6,463.1 545.3,461.6 545.2,459.2 545.6,455.4 546.3,450.8 547.2,446.6 548.7,440.2 552.6,426.2 558,408.4 565.7,384.2 576.8,350.5 571.9,350.5 556.5,397 546.4,427.8 539.4,450 534.8,465.9 533.2,471.8 531.7,478.4 530.9,482.6 530.5,486.2 530.4,488.6 530.6,490.9 530.9,491.7 531.3,492.4 531.7,492.8ZM492.2,416.1 492.2,416.6 514.3,350.5 509.5,350.5 492.2,402.1Z"/>
<path fill="#ffd890" stroke="#ffd890" stroke-width="0.3" fill-rule="evenodd" d="M505.5,535.6 507.7,535.6 576.6,467 576.7,467.7 576.6,468.5 554.1,535.6 559.5,535.6 567.3,515.2 570.9,506.3 574.3,498.7 577.6,491.6 580.7,485.5 584.2,479.3 587.5,473.9 591.6,467.7 596.2,461.6 601.4,455.4 606,450.4 610.6,445.8 615.3,442 617.6,440.4 619.2,439.6 620.7,439.1 621.5,439.1 622.3,439.2 623,439.6 623.8,440.7 624.2,442.3 624.3,443.8 624.3,446.1 623.8,449.8 622.2,457.7 619.2,469.3 614.5,484.9 607.6,507 598.2,535.6 602.8,535.6 647,403.3 649.4,396.3 649.6,395.2 649.4,394.5 578.1,465.4 578,464.6 578.1,463.9 616.1,350.5 611.4,350.5 603.7,372.9 597.5,390.4 592.1,405.2 587.6,416.8 583.1,427.6 579,436.9 575,444.9 571,452.3 566.5,459.6 561.9,466.3 556.5,473.3 551,479.6 545.6,485.1 542.5,487.9 540.2,489.8 537.9,491.5 536.3,492.4 534.8,493 533.2,493.3 532.5,493.2 531.7,492.8 530.9,491.7 530.5,490.1 530.4,488.6 530.5,486.2 530.9,482.6 532.5,474.7 534.7,466.2 537.1,457.7 544.1,435.1 554.9,401.7 571.9,350.5 567.4,350.5ZM651.4,535.6 655.9,535.6 678,469.7 678,456.2ZM492.2,429.9 518.8,350.5 514.3,350.5 492.4,416.1 492.2,416.6ZM650.9,392.9 678,365.9 678,350.5 664.7,350.5 651.7,389.5 650.8,392.1Z"/>
<path fill="#b4cc14" stroke="#b4cc14" stroke-width="0.3" fill-rule="evenodd" d="M492.2,535.6 505.5,535.6 567.4,350.5 563,350.5 545.6,402.1 534,436.1 524.7,462.6 517.7,481.5 511.6,497 508.6,504 505.8,510.1 502.3,517.1 499.2,523 495.8,528.7 492.2,534.3ZM507.7,535.6 522.2,535.6 526.3,530.6 530.1,526.1 534,522.1 537.9,518.4 541,515.7 544.1,513.5 546.4,512.2 547.9,511.8 548.7,511.7 549.5,511.9 550.3,512.4 550.8,513.2 551.2,514.8 551.3,517.9 551.1,520.9 550.3,525.6 547.9,535.6 554.1,535.6 576.6,468.5 576.7,467.7 576.6,467ZM602.8,535.6 607.3,535.6 623,489.5 633.9,459.2 638.2,447.7 642.4,437.2 646.1,428.4 649.7,420.7 652.8,414.5 656.1,408.3 659.4,402.9 662.5,398.1 666.1,392.9 669.7,388.3 674.1,382.9 678,378.7 678,365.9 650.9,392.9 650.8,392.1 651.7,389.5 664.7,350.5 658,350.5 652.2,363.6 649.4,369.5 646.4,375.2 643.4,380.6 640.6,385.2 637.5,389.8 634.2,394.5 630,399.9 626.1,404.5 621.5,409.5 617.6,413.3 613.7,416.7 610.6,418.9 608.3,420.1 606.8,420.6 606,420.6 605.2,420.5 604.4,419.9 603.7,418.5 603.4,416.8 603.4,414.5 603.6,412.2 604.6,406 606.8,396.8 609.9,385.7 614.5,370.4 620.9,350.5 616.1,350.5 578.1,463.9 578,464.6 578.1,465.4 649.4,394.5 649.6,395.2 649.4,396.3 647,403.3ZM647,535.6 651.4,535.6 678,456.2 678,442 666.4,477.3ZM492.2,443.1 492.2,443.4 523.2,350.5 518.8,350.5 492.2,429.9Z"/>
<path fill="#4e8a1e" stroke="#4e8a1e" stroke-width="0.3" fill-rule="evenodd" d="M522.2,535.6 547.9,535.6 550.3,525.7 551.2,519.4 551.4,517.1 551.2,514.8 550.8,513.2 550.3,512.5 549.5,511.9 548.7,511.7 547.9,511.8 546.4,512.2 544.8,513 543.3,514 540.2,516.3 536.3,519.8 531.7,524.5 527,529.7ZM607.3,535.6 612.3,535.6 626.1,495.5 631.5,480.4 636.2,467.9 640.8,456.1 644.7,446.7 648.6,438 652.5,429.9 655.5,424 658.6,418.5 662.5,412.2 665.6,407.7 669.5,402.7 672.6,399.3 675.7,396.5 678,395.1 678,378.7 673.4,383.8 669.1,389.1 664.8,394.7 661,400.4 657.1,406.7 653.6,413 650.1,419.8 646.8,426.9 643.5,434.6 639.7,443.8 635.9,453.8 631.5,465.5 621.5,494ZM642.1,535.6 647,535.6 666.4,477.3 678,442 678,423.2 673.4,439.3 666.4,461.7 656.3,492.6ZM492.2,534.1 492.2,534.3 493.9,531.7 498.1,524.8 501.1,519.4 504.3,513.2 507.2,507.1 510.2,500.1 513.5,492.4 517,483.5 523.9,464.7 533.2,438.4 544.8,404.3 563,350.5 558.1,350.5 543.3,394.3 532.5,425.9 523.9,449.8 517,468.5 510.8,483.8 507.7,490.9 504.6,497.7 501.5,504 498.4,509.8 495.3,515.2 492.2,520.2ZM492.2,458.5 528.1,350.5 523.2,350.5 492.2,443.4ZM604.4,419.9 605.2,420.5 606,420.6 606.8,420.6 608.3,420.1 609.9,419.4 611.4,418.4 614.5,416 618.4,412.6 623,407.9 627.7,402.7 632.3,397 635.9,392.1 639.3,387.2 642.5,382.1 645.6,376.7 648.6,371.1 651.7,364.8 654.8,358 658,350.5 651.4,350.5 647,359.3 643.2,366.5 639.3,373 634.6,379.8 630.8,384.7 626.9,388.8 624.6,390.7 623,391.7 621.5,392.3 620.7,392.3 619.9,392.2 619.2,391.5 618.7,390.6 618.4,389.5 618.2,388.3 618.2,386 618.6,382.1 619.9,375.2 621.5,368.3 623.8,359.6 626.5,350.5 620.9,350.5 615.3,367.9 610.6,383.1 607.6,393.9 605.3,402.9 603.9,409.9 603.4,414.5 603.5,417.6 603.9,419.1Z"/>
<path fill="#2a5a14" stroke="#2a5a14" stroke-width="0.3" fill-rule="evenodd" d="M612.3,535.6 618.8,535.6 626.9,512.3 633.9,493.1 640.1,477 645.5,464 648.6,457.2 650.9,452.5 653.2,448.1 655.5,444.2 657.9,440.8 659.4,439 660.2,438.3 661,437.9 661.7,437.7 662.5,438.4 662.7,439.2 662.9,441.5 662.7,443.8 661.7,449.5 659.4,459.3 655.5,473.1 650.9,488.3 643.9,510.1 635.6,535.6 642.1,535.6 656.3,492.6 666.4,461.7 673.4,439.3 678,423.2 678,395.1 676.5,396 674.9,397.2 671.8,400.1 667.9,404.6 664.1,409.9 660.2,415.9 656.3,422.6 653.2,428.4 649.4,436.3 646.3,443.2 642.4,452.3 638.5,461.9 633.9,474.1 624.6,499.9ZM492.2,519.4 492.2,520.2 496.1,513.9 499.9,507 503,500.9 506.1,494.4 509.2,487.4 512.3,480.1 516.2,470.4 523.2,452 531.7,428.1 542.5,396.6 558.1,350.5 551.7,350.5 537.1,393.4 527,422.2 519.3,443.4 512.3,461.1 508.5,470.1 505.4,476.8 502.3,482.8 499.9,486.9 497.6,490.5 495.3,493.4 494.5,494.1 493.7,494.5 493,494.7 492.2,494ZM492.2,487 493.7,479.3 496.1,470.2 499.2,459.3 503,446.6 514.7,410.4 534.5,350.5 528.1,350.5 505.4,418.7 492.2,458.7ZM619.9,392.1 620.7,392.3 621.5,392.3 622.3,392.1 623.8,391.3 625.4,390.2 626.9,388.8 629.2,386.5 631.5,383.8 633.9,380.9 637.7,375.4 642.4,367.9 647,359.3 651.4,350.5 626.5,350.5 623.8,359.6 621.5,368.3 619.9,374.8 618.8,380.6 618.3,384.4 618.2,388.3 618.4,389.5 618.7,390.6 619.2,391.5Z"/>
<path fill="#5a688c" stroke="#5a688c" stroke-width="0.3" fill-rule="evenodd" d="M618.8,535.6 635.6,535.6 643.9,510.1 650.9,488.3 655.5,473.1 659.4,459.3 661.7,449.5 662.7,443.8 662.9,441.5 662.7,439.2 662.5,438.4 661.7,437.7 661,437.9 660.2,438.3 659.4,439 657.9,440.8 655.5,444.2 653.2,448.1 650.9,452.5 648.6,457.2 645.5,464 640.1,477 633.9,493.1 626.9,512.3ZM492.2,494 493,494.7 493.7,494.5 494.5,494.1 495.3,493.4 497.6,490.5 499.9,486.9 502.3,482.8 505.4,476.8 508.5,470.1 512.3,461.1 519.3,443.4 527,422.2 537.1,393.4 551.7,350.5 534.5,350.5 511.6,419.9 504.6,441.6 499.2,459.3 495.3,473.1 493,482.8 492.2,487.1Z"/>
<path fill="none" stroke="#000" stroke-opacity="0.35" stroke-width="0.3" d="M573,535.6 575.8,529.5 578.1,524.8 580.5,520.5 582.8,516.6 585.1,513.2 586.6,511.5 587.4,510.9 588.2,510.5 589,510.5 589.4,510.9 589.7,511.6 589.9,512.5 589.9,514.8 589.7,517.1 589,521.3 588.2,524.9 585.5,535.6M667.1,535.6 678,503.3M503.1,350.5 492.2,383M599.7,350.5 593.6,367.1 588.2,381.2 583.6,392.5 578.9,402.9 575,410.5 572.7,414.6 571.2,417 569.6,419.1 568.1,420.9 567.3,421.5 566.5,421.9 565.7,421.9 565.3,421.5 565,420.7 564.8,419.1 564.9,416.8 565.7,411.1 567.3,404.2 569.6,395.4 573.5,382.1 578.1,367.1 583.5,350.5M565.2,535.6 571.2,520.8 576.6,508.6 582,497.7 585.1,492.2 587.4,488.3 589.7,484.6 592.8,480.1 595.9,476.1 598.3,473.4 600.6,471 602.9,469.1 605.2,467.7 606.8,467.3 607.6,467.5 608.3,468 609.1,469.3 609.4,470.8 609.5,473.1 609.3,475.4 608.9,478.5 608.3,482.4 606,492.2 602.9,503.5 599,516.5 593,535.6M660.7,535.6 678,484.3M509.5,350.5 492.2,402.1M606.3,350.5 596.7,377.7 592.1,390.2 588.2,400.2 584.3,409.7 581.2,416.9 577.4,425.4 574.3,431.7 570.4,438.9 566.5,445.4 563.4,450.1 559.6,455.3 555.7,459.8 552.6,462.7 550.3,464.3 548.7,464.9 547.9,465 547.2,464.9 546.4,464.4 545.6,463.1 545.3,461.6 545.2,459.2 545.6,455.4 546.3,450.8 547.2,446.6 548.7,440.2 552.6,426.2 558,408.4 565.7,384.2 576.8,350.5M559.5,535.6 567.3,515.2 570.9,506.3 574.3,498.7 577.6,491.6 580.7,485.5 584.2,479.3 587.5,473.9 591.6,467.7 596.2,461.6 601.4,455.4 606,450.4 610.6,445.8 615.3,442 617.6,440.4 619.2,439.6 620.7,439.1 621.5,439.1 622.3,439.2 623,439.6 623.8,440.7 624.2,442.3 624.3,443.8 624.3,446.1 623.8,449.8 622.2,457.7 619.2,469.3 614.5,484.9 607.6,507 598.2,535.6M655.9,535.6 678,469.7M514.3,350.5 492.2,416.6M611.4,350.5 598.3,388.3 593.6,401.1 589,413.3 584.8,423.8 580.8,433 577.1,440.7 573.2,448.4 568.7,456.2 563.6,463.9 558,471.4 552.6,477.8 546.4,484.3 543.3,487.2 541,489.2 538.6,490.9 536.3,492.4 534.8,493 533.2,493.3 532.5,493.2 531.7,492.8 530.9,491.7 530.6,490.9 530.4,489.3 530.4,487 530.8,483.2 531.7,478.5 533.1,472.4 534.7,466.2 539.4,450 546.4,427.8 556.5,397 571.9,350.5M505.5,535.6 567.4,350.5M554.1,535.6 576.6,468.5 576.7,467.7 576.6,467 507.7,535.6M651.4,535.6 678,456.2M650.1,393.7 650.1,393.7M678,365.9 650.9,392.9 650.8,392.1 651.7,389.5 664.7,350.5M518.8,350.5 492.2,429.9M616.1,350.5 578.1,463.9 578,464.6 578.1,465.4 649.4,394.5 649.6,395.2 649.4,396.3 647,403.3 602.8,535.6M547.9,535.6 550.3,525.6 551.1,520.9 551.3,517.9 551.2,514.8 550.8,513.2 550.3,512.4 549.5,511.9 548.7,511.7 547.9,511.8 546.4,512.2 544.1,513.5 541,515.7 537.9,518.4 534,522.1 530.1,526.1 526.3,530.6 522.2,535.6M647,535.6 666.4,477.3 678,442M492.2,534.3 495.4,529.4 498.4,524.3 501.1,519.4 504.3,513.2 507.2,507.1 510.2,500.1 513.5,492.4 517,483.5 523.9,464.7 533.2,438.4 544.8,404.3 563,350.5M678,378.7 673.4,383.8 669.1,389.1 664.8,394.7 661,400.4 657.1,406.7 653.6,413 650.1,419.8 646.8,426.9 643.5,434.6 639.7,443.8 635.9,453.8 631.5,465.5 621.5,494 607.3,535.6M523.2,350.5 492.2,443.4M620.9,350.5 614.5,370.4 609.9,385.7 606.8,396.8 604.6,406 603.6,412.2 603.4,414.5 603.4,416.8 603.7,418.5 604.4,419.9 605.2,420.5 606,420.6 606.8,420.6 608.3,420.1 610.6,418.9 613.7,416.7 617.6,413.3 621.5,409.5 626.1,404.5 630,399.9 634.2,394.5 637.5,389.8 640.6,385.2 643.4,380.6 646.4,375.2 649.4,369.5 652.2,363.6 658,350.5M642.1,535.6 656.3,492.6 666.4,461.7 673.4,439.3 678,423.2M492.2,520.2 495.3,515.2 498.4,509.8 501.5,504 504.6,497.7 507.7,490.9 510.8,483.8 517,468.5 523.9,449.8 532.5,425.9 543.3,394.3 558.1,350.5M678,395.1 676.5,396 674.9,397.2 671.8,400.1 667.9,404.6 664.1,409.9 660.2,415.9 656.3,422.6 653.2,428.4 649.4,436.3 646.3,443.2 642.4,452.3 638.5,461.9 633.9,474.1 624.6,499.9 612.3,535.6M528.1,350.5 505.4,418.7 492.2,458.7M626.5,350.5 623.8,359.6 621.5,368.3 619.9,375.2 618.6,382.1 618.2,386 618.2,388.3 618.4,389.5 618.7,390.6 619.2,391.5 619.9,392.2 620.7,392.3 621.5,392.3 623,391.7 624.6,390.7 626.9,388.8 630.8,384.7 634.6,379.8 639.3,373 643.2,366.5 647,359.3 651.4,350.5M635.6,535.6 643.9,510.1 650.9,488.3 655.5,473.1 659.4,459.3 661.7,449.5 662.7,443.8 662.9,441.5 662.7,439.2 662.5,438.4 661.7,437.7 661,437.9 660.2,438.3 659.4,439 657.9,440.8 655.5,444.2 653.2,448.1 650.9,452.5 648.6,457.2 645.5,464 640.1,477 633.9,493.1 626.9,512.3 618.8,535.6M492.2,494 493,494.7 493.7,494.5 494.5,494.1 495.3,493.4 497.6,490.5 499.9,486.9 502.3,482.8 505.4,476.8 508.5,470.1 512.3,461.1 519.3,443.4 527,422.2 537.1,393.4 551.7,350.5M534.5,350.5 513.9,412.8 502.3,449.1 498.4,462 495.3,473.1 493.7,479.3 492.2,487.1"/>
<rect x="488.8" y="347.2" width="193" height="192.1" fill="none" stroke="#222" stroke-width="0.6"/>
<path fill="none" stroke="#222" stroke-width="0.5" d="M492.2,539.3v-2.2M492.2,347.2v2.2M523.2,539.3v-2.2M523.2,347.2v2.2M554.1,539.3v-2.2M554.1,347.2v2.2M585.1,539.3v-2.2M585.1,347.2v2.2M616.1,539.3v-2.2M616.1,347.2v2.2M647,539.3v-2.2M647,347.2v2.2M678,539.3v-2.2M678,347.2v2.2M498.4,539.3v-1.3M498.4,347.2v1.3M504.6,539.3v-1.3M504.6,347.2v1.3M510.8,539.3v-1.3M510.8,347.2v1.3M517,539.3v-1.3M517,347.2v1.3M529.4,539.3v-1.3M529.4,347.2v1.3M535.6,539.3v-1.3M535.6,347.2v1.3M541.7,539.3v-1.3M541.7,347.2v1.3M547.9,539.3v-1.3M547.9,347.2v1.3M560.3,539.3v-1.3M560.3,347.2v1.3M566.5,539.3v-1.3M566.5,347.2v1.3M572.7,539.3v-1.3M572.7,347.2v1.3M578.9,539.3v-1.3M578.9,347.2v1.3M591.3,539.3v-1.3M591.3,347.2v1.3M597.5,539.3v-1.3M597.5,347.2v1.3M603.7,539.3v-1.3M603.7,347.2v1.3M609.9,539.3v-1.3M609.9,347.2v1.3M622.3,539.3v-1.3M622.3,347.2v1.3M628.5,539.3v-1.3M628.5,347.2v1.3M634.6,539.3v-1.3M634.6,347.2v1.3M640.8,539.3v-1.3M640.8,347.2v1.3M653.2,539.3v-1.3M653.2,347.2v1.3M659.4,539.3v-1.3M659.4,347.2v1.3M665.6,539.3v-1.3M665.6,347.2v1.3M671.8,539.3v-1.3M671.8,347.2v1.3M488.8,535.6h2.2M681.8,535.6h-2.2M488.8,489.3h2.2M681.8,489.3h-2.2M488.8,443.1h2.2M681.8,443.1h-2.2M488.8,396.8h2.2M681.8,396.8h-2.2M488.8,350.5h2.2M681.8,350.5h-2.2M488.8,526.3h1.3M681.8,526.3h-1.3M488.8,517.1h1.3M681.8,517.1h-1.3M488.8,507.8h1.3M681.8,507.8h-1.3M488.8,498.6h1.3M681.8,498.6h-1.3M488.8,480.1h1.3M681.8,480.1h-1.3M488.8,470.8h1.3M681.8,470.8h-1.3M488.8,461.6h1.3M681.8,461.6h-1.3M488.8,452.3h1.3M681.8,452.3h-1.3M488.8,433.8h1.3M681.8,433.8h-1.3M488.8,424.5h1.3M681.8,424.5h-1.3M488.8,415.3h1.3M681.8,415.3h-1.3M488.8,406h1.3M681.8,406h-1.3M488.8,387.5h1.3M681.8,387.5h-1.3M488.8,378.3h1.3M681.8,378.3h-1.3M488.8,369h1.3M681.8,369h-1.3M488.8,359.8h1.3M681.8,359.8h-1.3"/>
<text x="492.2" y="545.6" text-anchor="middle" class="tk">−3</text>
<text x="523.2" y="545.6" text-anchor="middle" class="tk">−2</text>
<text x="554.1" y="545.6" text-anchor="middle" class="tk">−1</text>
<text x="585.1" y="545.6" text-anchor="middle" class="tk">0</text>
<text x="616.1" y="545.6" text-anchor="middle" class="tk">1</text>
<text x="647" y="545.6" text-anchor="middle" class="tk">2</text>
<text x="678" y="545.6" text-anchor="middle" class="tk">3</text>
<text x="485.8" y="537.3" text-anchor="end" class="tk">−2</text>
<text x="485.8" y="491" text-anchor="end" class="tk">−1</text>
<text x="485.8" y="444.8" text-anchor="end" class="tk">0</text>
<text x="485.8" y="398.5" text-anchor="end" class="tk">1</text>
<text x="485.8" y="352.2" text-anchor="end" class="tk">2</text>
<text x="585" y="345.2" text-anchor="middle" class="tt">Figure(<tspan font-style="italic">i</tspan>)</text>
<path fill="none" stroke="#222" stroke-width="0.6" d="M0,327.7H207.5M95.2,203V331M22.4,327.7v-2.4M58.8,327.7v-2.4M131.6,327.7v-2.4M168,327.7v-2.4M204.4,327.7v-2.4M4.2,327.7v-1.4M13.3,327.7v-1.4M31.5,327.7v-1.4M40.6,327.7v-1.4M49.7,327.7v-1.4M67.9,327.7v-1.4M77,327.7v-1.4M86.1,327.7v-1.4M104.3,327.7v-1.4M113.4,327.7v-1.4M122.5,327.7v-1.4M140.7,327.7v-1.4M149.8,327.7v-1.4M158.9,327.7v-1.4M177.1,327.7v-1.4M186.2,327.7v-1.4M195.3,327.7v-1.4M95.2,310.3h2.4M95.2,292.9h2.4M95.2,275.5h2.4M95.2,258.1h2.4M95.2,240.7h2.4M95.2,223.3h2.4M95.2,205.9h2.4M95.2,324.2h1.4M95.2,320.7h1.4M95.2,317.3h1.4M95.2,313.8h1.4M95.2,306.8h1.4M95.2,303.3h1.4M95.2,299.9h1.4M95.2,296.4h1.4M95.2,289.4h1.4M95.2,285.9h1.4M95.2,282.5h1.4M95.2,279h1.4M95.2,272h1.4M95.2,268.5h1.4M95.2,265.1h1.4M95.2,261.6h1.4M95.2,254.6h1.4M95.2,251.1h1.4M95.2,247.7h1.4M95.2,244.2h1.4M95.2,237.2h1.4M95.2,233.7h1.4M95.2,230.3h1.4M95.2,226.8h1.4M95.2,219.8h1.4M95.2,216.3h1.4M95.2,212.9h1.4M95.2,209.4h1.4"/><text x="22.4" y="334.9" text-anchor="middle" class="ax">−4</text><text x="58.8" y="334.9" text-anchor="middle" class="ax">−2</text><text x="131.6" y="334.9" text-anchor="middle" class="ax">2</text><text x="168" y="334.9" text-anchor="middle" class="ax">4</text><text x="204.4" y="334.9" text-anchor="middle" class="ax">6</text><text x="93.4" y="312.3" text-anchor="end" class="ax">0.1</text><text x="93.4" y="294.9" text-anchor="end" class="ax">0.2</text><text x="93.4" y="277.5" text-anchor="end" class="ax">0.3</text><text x="93.4" y="260.1" text-anchor="end" class="ax">0.4</text><text x="93.4" y="242.7" text-anchor="end" class="ax">0.5</text><text x="93.4" y="225.3" text-anchor="end" class="ax">0.6</text><text x="93.4" y="207.9" text-anchor="end" class="ax">0.7</text>
<g fill="none" stroke-width="0.8"><polyline points="4.2,205.5 8.3,205.8 12.1,206.2" stroke="#e66b80"/><polyline points="21,207.8 24.9,208.9 28.5,210.2" stroke="#f093ab"/><polyline points="36.5,214.8 39.5,217.3 42.3,220.2" stroke="#877ce1"/><polyline points="47.6,227.4 49.5,230.6 51.3,234.2" stroke="#9e93e8"/><polyline points="55.2,242.9 57.9,250.1" stroke="#afa4ec"/><polyline points="60.7,258.7 62.8,266.1" stroke="#bbb0ef"/><polyline points="65.2,275.1 67.1,282.6" stroke="#c5baf2"/><polyline points="69.2,291.7 70.8,298.8" stroke="#61b8f0"/><polyline points="73,308.6 74.5,315.6" stroke="#69bdf1"/><polyline points="76.5,325.1 77,327.6 78.1,322.7" stroke="#70c2f2"/><polyline points="79.9,313.8 81.5,306.3" stroke="#77c7f3"/><polyline points="83.5,297.1 85.3,289.5" stroke="#7eccf4"/><polyline points="87.4,280.5 89.3,273.1" stroke="#86d2f5"/><polyline points="91.8,263.8 93.9,256.7" stroke="#8fd9f6"/><polyline points="96.9,247.9 99.7,240.7" stroke="#9ae1f7"/><polyline points="103.6,232.4 105.6,228.8 107.6,225.6" stroke="#6ee36a"/><polyline points="113.3,218.5 114.8,217.1 116.3,215.8 117.7,214.6 119.3,213.5" stroke="#89e976"/><polyline points="127.5,209.4 131.1,208.3 135.1,207.3" stroke="#adf087"/><polyline points="144.2,206 151.9,205.4" stroke="#f9ef6e"/><polyline points="161.1,205 169,204.9" stroke="#fdf593"/><polyline points="178.1,204.8 186,204.7" stroke="#f7a960"/><polyline points="195.1,204.7 202.9,204.7" stroke="#fcbe7b"/></g>
<g fill="none" stroke-width="0.8"><polyline points="4.2,204.7 12.1,204.7" stroke="#e66b80"/><polyline points="21.3,204.7 29.2,204.7" stroke="#f094ac"/><polyline points="38.3,204.8 46.1,205" stroke="#8d82e3"/><polyline points="55.2,205.3 63.1,205.9" stroke="#b5aaee"/><polyline points="72.2,207.1 76.2,207.9 79.8,209" stroke="#6dc0f2"/><polyline points="88.1,212.7 89.7,213.8 91.3,214.9 92.9,216.2 94.4,217.6" stroke="#8cd6f6"/><polyline points="100.2,224.4 102.4,227.7 104.4,231.1" stroke="#a2e6f8"/><polyline points="108.4,239.4 111.2,246.5" stroke="#79e56f"/><polyline points="114.2,255.4 116.5,262.9" stroke="#86e875"/><polyline points="118.9,271.6 120.8,278.9" stroke="#91ea7a"/><polyline points="123.1,288.3 124.7,295.3" stroke="#9bed7f"/><polyline points="126.8,305 128.3,311.9" stroke="#a4ef83"/><polyline points="130.3,321.4 131.6,327.6 131.9,326.4" stroke="#acf087"/><polyline points="133.9,316.8 135.4,309.9" stroke="#b5f28b"/><polyline points="137.4,300.6 139,293.5" stroke="#bdf48f"/><polyline points="141.2,283.7 143,276.7" stroke="#f8ed61"/><polyline points="145.4,267.5 147.5,260.1" stroke="#f9ee6b"/><polyline points="150.3,251.3 153,243.9" stroke="#faf076"/><polyline points="156.6,235.5 158.3,232.1 160.2,228.7" stroke="#fcf285"/><polyline points="165.5,221.1 168.2,218.2 171,215.7" stroke="#fef69a"/><polyline points="178.8,210.8 182.4,209.3 186.2,208.1" stroke="#f7a960"/><polyline points="195.2,206.4 198.9,206 202.9,205.6" stroke="#fcbe7b"/></g>
<g fill="none" stroke-width="1.8" stroke-linecap="round"><polyline points="4.2,204.8 11.9,204.9" stroke="#db2b49"/><polyline points="11.9,204.9 19.5,205" stroke="#e14665"/><polyline points="19.5,205 27.2,205.3" stroke="#e86082"/><polyline points="27.2,205.3 34.9,205.8" stroke="#ef7b9e"/><polyline points="34.9,205.8 39.6,206.3 43.6,206.8" stroke="#5343d4"/><polyline points="43.6,206.8 48.2,207.8 52.2,208.9" stroke="#7060dc"/><polyline points="52.2,208.9 54.9,209.9 56.9,210.7 58.9,211.7 60.9,212.8" stroke="#8d7de4"/><polyline points="60.9,212.8 63.6,214.6 65.6,216.2 67.6,218.1 69.6,220.2" stroke="#aa9aec"/><polyline points="69.6,220.2 72.3,223.5 74.3,226.4 76.3,229.7 78.3,233.4" stroke="#28a1ec"/><polyline points="78.3,233.4 80.9,239.1 82.9,244 84.9,249.4 86.9,255.4" stroke="#42b3ee"/><polyline points="86.9,255.4 89,261.9 91,269.1 93,276.7 95.6,287.7" stroke="#5ac5f2"/><polyline points="95.6,287.7 99.6,305.6 104.3,327.7" stroke="#74d7f4"/><polyline points="104.3,327.7 109,305.6 113,287.7" stroke="#3bd92f"/><polyline points="113,287.7 115.6,276.7 117.6,269.1 119.6,261.9 121.7,255.4" stroke="#59e03d"/><polyline points="121.7,255.4 123.7,249.4 125.7,244 127.7,239.1 130.3,233.4" stroke="#77e64b"/><polyline points="130.3,233.4 132.3,229.7 134.3,226.4 136.3,223.5 139,220.2" stroke="#95ed59"/><polyline points="139,220.2 141,218.1 143,216.2 145,214.6 147.7,212.8" stroke="#f5e622"/><polyline points="147.7,212.8 149.7,211.7 151.7,210.7 153.7,209.9 156.4,208.9" stroke="#f8ea3c"/><polyline points="156.4,208.9 160.4,207.8 165,206.8" stroke="#fbee58"/><polyline points="165,206.8 169,206.3 173.7,205.8" stroke="#fef272"/><polyline points="173.7,205.8 181.4,205.3" stroke="#f27b11"/><polyline points="181.4,205.3 189.1,205" stroke="#f58923"/><polyline points="189.1,205 196.7,204.9" stroke="#f89734"/><polyline points="196.7,204.9 204.4,204.8" stroke="#fca646"/></g>
<text x="103.4" y="199.5" text-anchor="middle" class="tt">Figure(<tspan font-style="italic">d</tspan>)</text>
<path fill="none" stroke="#222" stroke-width="0.6" d="M245,271.6H453M349.1,208V336M263.1,271.6v-2.4M291.8,271.6v-2.4M320.4,271.6v-2.4M377.8,271.6v-2.4M406.4,271.6v-2.4M435.1,271.6v-2.4M248.8,271.6v-1.4M256,271.6v-1.4M270.3,271.6v-1.4M277.5,271.6v-1.4M284.6,271.6v-1.4M298.9,271.6v-1.4M306.1,271.6v-1.4M313.3,271.6v-1.4M327.6,271.6v-1.4M334.8,271.6v-1.4M341.9,271.6v-1.4M356.3,271.6v-1.4M363.4,271.6v-1.4M370.6,271.6v-1.4M384.9,271.6v-1.4M392.1,271.6v-1.4M399.3,271.6v-1.4M413.6,271.6v-1.4M420.8,271.6v-1.4M427.9,271.6v-1.4M442.2,271.6v-1.4M449.4,271.6v-1.4M349.1,324.2h2.4M349.1,306.6h2.4M349.1,289.1h2.4M349.1,254.1h2.4M349.1,236.6h2.4M349.1,219h2.4M349.1,332.9h1.4M349.1,328.5h1.4M349.1,319.8h1.4M349.1,315.4h1.4M349.1,311h1.4M349.1,302.3h1.4M349.1,297.9h1.4M349.1,293.5h1.4M349.1,284.7h1.4M349.1,280.4h1.4M349.1,276h1.4M349.1,267.2h1.4M349.1,262.8h1.4M349.1,258.5h1.4M349.1,249.7h1.4M349.1,245.3h1.4M349.1,240.9h1.4M349.1,232.2h1.4M349.1,227.8h1.4M349.1,223.4h1.4M349.1,214.7h1.4M349.1,210.3h1.4"/><text x="263.1" y="278.8" text-anchor="middle" class="ax">−6</text><text x="291.8" y="278.8" text-anchor="middle" class="ax">−4</text><text x="320.4" y="278.8" text-anchor="middle" class="ax">−2</text><text x="377.8" y="278.8" text-anchor="middle" class="ax">2</text><text x="406.4" y="278.8" text-anchor="middle" class="ax">4</text><text x="435.1" y="278.8" text-anchor="middle" class="ax">6</text><text x="347.3" y="326.2" text-anchor="end" class="ax">−0.6</text><text x="347.3" y="308.6" text-anchor="end" class="ax">−0.4</text><text x="347.3" y="291.1" text-anchor="end" class="ax">−0.2</text><text x="347.3" y="256.1" text-anchor="end" class="ax">0.2</text><text x="347.3" y="238.6" text-anchor="end" class="ax">0.4</text><text x="347.3" y="221" text-anchor="end" class="ax">0.6</text>
<g fill="none" stroke-width="0.8"><polyline points="248.8,327.8 249.3,329.6 249.9,331 250.4,332.2 250.8,332.8 251.3,333.3 251.9,333.5 252.3,333.4 252.8,333" stroke="#e5667b"/><polyline points="255.9,324.2 257.2,317.2" stroke="#e8748a"/><polyline points="258.7,307.7 259.8,299.8" stroke="#ea7b91"/><polyline points="261,290.2 261.8,283.4" stroke="#eb8096"/><polyline points="263,273.1 263.8,266.2" stroke="#ec859b"/><polyline points="265,256 265.8,249.4" stroke="#ed89a0"/><polyline points="267,240 268.1,232.5" stroke="#ef8fa6"/><polyline points="269.7,222.9 270.5,219 271.3,215.7" stroke="#f096ae"/><polyline points="276.1,211.7 276.6,213 277.2,214.6 278.2,218.7" stroke="#f4a6bf"/><polyline points="280.1,228.6 281.2,235.7" stroke="#7f73df"/><polyline points="282.5,245.6 283.3,252" stroke="#8479e0"/><polyline points="284.5,261.9 285.3,268.8" stroke="#897de2"/><polyline points="286.5,279 287.3,285.7" stroke="#8d82e3"/><polyline points="288.7,296.3 289.6,303.3" stroke="#9387e4"/><polyline points="291.1,313 292.3,319.6" stroke="#998de6"/><polyline points="295,329 295.5,329.9 296,330.4 296.6,330.7 297.1,330.6 297.6,330.1 298.2,329.4 298.7,328.3 299.4,326.5" stroke="#a59ae9"/><polyline points="301.5,317.6 302.9,310" stroke="#b1a6ed"/><polyline points="304.3,300.2 305.3,293.5" stroke="#b7acee"/><polyline points="306.6,283.4 307.5,276.3" stroke="#bdb1f0"/><polyline points="308.9,266.3 309.8,259.7" stroke="#c2b7f1"/><polyline points="311.3,250.2 312.6,242.8" stroke="#c8bdf3"/><polyline points="315,233.6 315.6,232.3 316.1,231.3 316.6,230.7 317.3,230.3 317.8,230.3 318.5,230.7 319.1,231.4 319.7,232.6" stroke="#66bbf1"/><polyline points="322.5,241.3 324.3,248.6" stroke="#73c4f3"/><polyline points="326.4,258 328.3,265.3" stroke="#7acaf3"/><polyline points="332.4,273.3 332.8,273.3 333.4,273.2 333.9,272.7 334.4,272.1 335.5,270.2 336.6,267.5" stroke="#89d4f5"/><polyline points="339.4,258.6 341.7,251.3" stroke="#95ddf7"/><polyline points="347,246.2 347.7,247.4 348.4,249 349,251 349.7,253.4" stroke="#a5e8f9"/><polyline points="351.7,262.9 352.9,269.9" stroke="#73e46c"/><polyline points="354.4,279.3 355.5,286.4" stroke="#79e56f"/><polyline points="356.9,296.2 358.1,303.9" stroke="#80e772"/><polyline points="359.7,313 360.5,316.9 361.3,320.2" stroke="#87e875"/><polyline points="366,326.7 366.6,325.9 367.2,324.4 367.9,322.4 368.6,320" stroke="#97ec7d"/><polyline points="370.6,309.9 371.7,303.1" stroke="#a0ee81"/><polyline points="373,293.4 373.9,286.1" stroke="#a6ef84"/><polyline points="375.1,276.3 375.9,269.6" stroke="#abf086"/><polyline points="377.1,259.6 377.9,253.1" stroke="#b0f189"/><polyline points="379.3,242.6 380.2,235.9" stroke="#b5f28b"/><polyline points="381.8,225.8 383.2,219" stroke="#bcf48e"/><polyline points="386.8,210.4 387.2,210.4 387.6,210.6 388,210.9 388.5,211.7 389.3,213.5 390.3,216.6" stroke="#f8ee65"/><polyline points="392.3,226.2 393.3,232.9" stroke="#f9ef6e"/><polyline points="394.8,243.4 395.6,249.7" stroke="#faf073"/><polyline points="396.8,259.7 397.6,266.5" stroke="#faf078"/><polyline points="398.8,276.9 399.6,283.7" stroke="#fbf17c"/><polyline points="400.8,293.7 401.8,301" stroke="#fbf281"/><polyline points="403.1,310.6 404.2,317.3" stroke="#fcf285"/><polyline points="406.2,327.1 407.1,330.2 407.9,332 408.5,332.8 408.9,333.2 409.3,333.4 409.7,333.4" stroke="#fdf48f"/><polyline points="413.3,324.9 414.6,318.2" stroke="#fef69c"/><polyline points="416.2,308 417.2,301.1" stroke="#fff7a2"/><polyline points="418.4,291.6 419.2,284.9" stroke="#f59e52"/><polyline points="420.4,274.6 421.2,267.7" stroke="#f5a056"/><polyline points="422.4,257.4 423.2,250.8" stroke="#f6a359"/><polyline points="424.5,240.3 425.5,233.6" stroke="#f6a65c"/><polyline points="427.1,223.7 427.9,219.6 428.5,216.7" stroke="#f7aa61"/><polyline points="432.9,210.2 433.6,211.3 434.3,212.9 435,215 435.6,217.5" stroke="#f9b26b"/><polyline points="437.5,227.2 438.6,234.1" stroke="#fab771"/><polyline points="439.9,243.9 440.7,250.3" stroke="#fbba75"/><polyline points="441.9,260.3 442.7,267.2" stroke="#fcbc78"/><polyline points="443.9,277.6 444.7,284.5" stroke="#fcbf7b"/><polyline points="445.9,294.4 446.9,301.7" stroke="#fdc27f"/><polyline points="448.2,311.3 449.4,318.7" stroke="#fec583"/></g>
<g fill="none" stroke-width="0.8"><polyline points="248.8,224.5 250,231.9" stroke="#e46377"/><polyline points="251.3,241.5 252.3,248.8" stroke="#e5697e"/><polyline points="253.5,258.7 254.3,265.6" stroke="#e66e83"/><polyline points="255.5,276 256.3,282.9" stroke="#e87388"/><polyline points="257.5,292.9 258.3,299.3" stroke="#e9778d"/><polyline points="259.6,309.1 260.7,316" stroke="#ea7d93"/><polyline points="262.6,325.7 263.2,328.3 263.9,330.3 264.6,331.9 265.3,333" stroke="#ec869d"/><polyline points="269.7,326.5 270.3,323.6 271.1,319.5" stroke="#f096ae"/><polyline points="272.7,309.6 273.7,302.9" stroke="#f29db5"/><polyline points="275,292.4 275.8,285.8" stroke="#f3a2ba"/><polyline points="277,275.5 277.8,268.6" stroke="#f5a7bf"/><polyline points="279,258.3 279.8,251.6" stroke="#f6abc5"/><polyline points="281,242.1 282,235.2" stroke="#8176df"/><polyline points="283.6,225 284.9,218.2" stroke="#877ce1"/><polyline points="288.5,209.7 288.9,209.7 289.3,209.9 289.7,210.3 290.3,211.1 291.1,213 292,216.1" stroke="#958ae5"/><polyline points="294,225.8 295.1,232.5" stroke="#9f94e8"/><polyline points="296.4,242.1 297.4,249.5" stroke="#a59ae9"/><polyline points="298.6,259.5 299.4,266.3" stroke="#a99eeb"/><polyline points="300.6,276.7 301.4,283.6" stroke="#aea3ec"/><polyline points="302.6,293.6 303.4,299.9" stroke="#b3a8ed"/><polyline points="304.7,309.6 305.9,317.2" stroke="#b8adef"/><polyline points="307.8,326.5 308.6,329.3 309.4,331.4 310.2,332.8 310.6,333.1 310.9,333.3" stroke="#c2b7f1"/><polyline points="314.9,325.4 315.6,322.4 316.4,318.1" stroke="#63b9f1"/><polyline points="317.8,308.8 318.8,302.1" stroke="#68bdf1"/><polyline points="320.1,291.6 320.9,285" stroke="#6dc0f2"/><polyline points="322.1,274.8 322.9,267.9" stroke="#71c3f2"/><polyline points="324.1,257.7 324.9,251.1" stroke="#75c6f3"/><polyline points="326.3,240.8 327.2,234.2" stroke="#79c9f3"/><polyline points="328.8,224.5 329.6,220.6 330.4,217.2" stroke="#7fcdf4"/><polyline points="335.2,212.8 335.8,214 336.3,215.5 337.5,220" stroke="#8dd7f6"/><polyline points="339.4,229.8 340.5,236.7" stroke="#94dcf6"/><polyline points="341.8,246.3 342.7,253.5" stroke="#98e0f7"/><polyline points="343.9,263.1 344.9,270.6" stroke="#9de3f8"/><polyline points="346.1,280.1 347,287.2" stroke="#a1e6f8"/><polyline points="348.4,296.6 349.6,304.1" stroke="#a6e9f9"/><polyline points="351.4,313.3 352.2,316.2 352.9,318.1 353.6,319.5 354.3,320.5" stroke="#75e46d"/><polyline points="358.9,313.7 359.7,310.6 360.7,306.4" stroke="#85e875"/><polyline points="362.6,296.8 363.8,290.2" stroke="#8dea78"/><polyline points="365.6,280.3 367.1,273.3" stroke="#95eb7c"/><polyline points="369.9,264.1 370.6,262.9 371.1,262.2 371.7,261.7 372.3,261.5 373,261.7 373.7,262.3 374.3,263.1 375,264.3" stroke="#a4ef83"/><polyline points="378.2,273 379.7,277.4 380.8,280.3" stroke="#b5f28b"/><polyline points="386.2,284 386.8,283 387.4,281.3 388.1,279.3 388.8,276.9" stroke="#f8ed63"/><polyline points="390.9,267.2 392.3,259.9" stroke="#f9ef6b"/><polyline points="393.9,250.7 395.2,243.1" stroke="#faf072"/><polyline points="396.9,234 397.9,229.8 398.7,226.7" stroke="#faf179"/><polyline points="403.5,221.2 404,222.2 404.7,223.8 405.4,225.9 406,228.5" stroke="#fcf388"/><polyline points="407.9,238 409,244.8" stroke="#fdf490"/><polyline points="410.5,255.3 411.3,261.4" stroke="#fdf595"/><polyline points="412.6,272.1 413.4,278.7" stroke="#fef59a"/><polyline points="414.6,288.4 415.5,295.7" stroke="#fef69e"/><polyline points="416.9,305.5 418,312.5" stroke="#fff7a3"/><polyline points="419.7,322.1 420.8,326.5 421.7,329.4" stroke="#f5a056"/><polyline points="426.7,327.8 427.5,324.8 428.4,320.5" stroke="#f7a961"/><polyline points="430,311.2 431.1,303.9" stroke="#f8ad65"/><polyline points="432.4,293.7 433.2,287.1" stroke="#f9b069"/><polyline points="434.4,277 435.2,270.1" stroke="#f9b36c"/><polyline points="436.4,259.8 437.2,253.1" stroke="#fab56f"/><polyline points="438.4,243.5 439.4,236.6" stroke="#fbb873"/><polyline points="440.8,227 442.3,219.2" stroke="#fbbb77"/><polyline points="445.3,210.5 445.8,210 446.3,209.8 446.7,209.9 447.3,210.3 447.7,210.9 448.2,211.9 448.7,213.3 449.3,215" stroke="#fdc380"/></g>
<g fill="none" stroke-width="1.8" stroke-linecap="round"><polyline points="248.8,280.1 251.2,299.5 252.9,312.2 254.1,319.3 254.7,322.4 255.9,327.6 256.5,329.6" stroke="#db2b49"/><polyline points="256.5,329.6 257.1,331.2 257.7,332.4 258.3,333.1 258.8,333.5 259.4,333.4 260,333 260.6,332.1 261.2,330.8 261.8,329 263,324.5 264.2,318.4" stroke="#e14665"/><polyline points="264.2,318.4 265.4,311.1 267.1,298.3 268.9,283.7 271.9,258.4" stroke="#e86082"/><polyline points="271.9,258.4 274.2,239.5 276,227.5 277.2,220.9 277.8,218.2 279,213.8 279.6,212.2" stroke="#ef7b9e"/><polyline points="279.6,212.2 280.2,210.8 280.9,210 281.6,209.7 282.2,210 282.9,210.8 283.6,212.1 284.2,214 284.9,216.3 285.6,219.2 286.9,226.2 288.2,234.7" stroke="#5242d4"/><polyline points="288.2,234.7 290.3,249.9 294.9,289.5 296.9,305" stroke="#7060dc"/><polyline points="296.9,305 298.3,314 299.6,321.5 300.3,324.6 301,327.3 301.6,329.4 302.3,331 303,332.2 303.6,332.7 304.3,332.8 305,332.3 305.6,331.3" stroke="#8c7ce4"/><polyline points="305.6,331.3 306.3,329.7 307,327.7 307.6,325.2 308.3,322.2 309.6,314.9 311.7,301.3 314.3,280" stroke="#aa9aec"/><polyline points="314.3,280 317.7,252.6 319.7,238.2 321,230.1 321.7,226.7 322.4,223.7 323,221.1" stroke="#28a1ec"/><polyline points="323,221.1 323.7,219.1 324.4,217.5 325,216.4 325.7,215.9 326.4,215.8 327,216.3 327.7,217.3 328.4,218.8 329,220.7 329.7,223 330.4,225.8 331.7,232.4" stroke="#42b3ee"/><polyline points="331.7,232.4 333.7,244.4 337.7,270.9 339.1,278.9 340.4,285.8" stroke="#5ac5f2"/><polyline points="340.4,285.8 341.7,291.3 342.4,293.5 343.1,295.3 343.8,296.6 344.4,297.5 345.1,297.9 345.8,298 346.4,297.6 347.1,296.8 347.8,295.7 348.4,294.3 349.1,292.6" stroke="#74d7f4"/><polyline points="349.1,292.6 350.4,288.6 353.1,279.7 354.4,275.7 355.8,272.5 356.5,271.3 357.1,270.5 357.8,270" stroke="#3bd92f"/><polyline points="357.8,270 358.5,269.9 359.1,270.1 359.8,270.8 360.5,271.8 361.1,273.2 361.8,274.9 362.5,277 363.8,281.8 366.5,293.4" stroke="#59e03d"/><polyline points="366.5,293.4 367.8,299.2 369.2,304.4 370.5,308.7 371.2,310.3 371.8,311.6 372.5,312.5 373.2,312.9 373.8,312.9 374.5,312.4 375.2,311.4" stroke="#77e64b"/><polyline points="375.2,311.4 375.8,310 376.5,308.1 377.2,305.8 377.9,303 379.2,296.2 381.2,283.6 383.9,264" stroke="#95ed59"/><polyline points="383.9,264 386.5,244.1 388.6,230.9 389.9,223.7 390.6,220.7 391.2,218.1 391.9,216 392.6,214.4" stroke="#f5e622"/><polyline points="392.6,214.4 393.2,213.2 393.9,212.6 394.6,212.5 395.2,213 395.9,213.9 396.6,215.4 397.2,217.4 397.9,219.9 398.6,222.8 399.9,230 401.3,238.8" stroke="#f8ea3c"/><polyline points="401.3,238.8 403.3,254 407.9,293.1 410,308.2" stroke="#fbee58"/><polyline points="410,308.2 411.3,316.7 412.6,323.7 413.3,326.6 414,328.9 414.6,330.8 415.3,332.1 416,332.9 416.6,333.2 417.3,333 418,332.2 418.6,330.8" stroke="#fef272"/><polyline points="418.6,330.8 419.2,329.2 420.4,324.9 421,322.1 422.2,315.6 424,303.7 426.3,284.8" stroke="#f27b11"/><polyline points="426.3,284.8 429.3,259.5 431.1,245 432.8,232.1 434,224.8" stroke="#f58923"/><polyline points="434,224.8 435.2,218.8 436.4,214.2 437,212.5 437.6,211.2 438.2,210.3 438.8,209.8 439.4,209.7 439.9,210.1 440.5,210.9 441.1,212.1 441.7,213.7" stroke="#f89734"/><polyline points="441.7,213.7 442.3,215.7 443.5,220.8 444.1,223.9 445.3,231 447,243.7 449.4,263.1" stroke="#fca646"/></g>
<text x="349" y="206" text-anchor="middle" class="tt">Figure(<tspan font-style="italic">e</tspan>)</text>
<path fill="none" stroke="#222" stroke-width="0.6" d="M490,276.4H685M587.6,217V337M512.4,276.4v-2.4M550,276.4v-2.4M625.2,276.4v-2.4M662.8,276.4v-2.4M493.6,276.4v-1.4M503,276.4v-1.4M521.8,276.4v-1.4M531.2,276.4v-1.4M540.6,276.4v-1.4M559.4,276.4v-1.4M568.8,276.4v-1.4M578.2,276.4v-1.4M597,276.4v-1.4M606.4,276.4v-1.4M615.8,276.4v-1.4M634.6,276.4v-1.4M644,276.4v-1.4M653.4,276.4v-1.4M672.2,276.4v-1.4M681.6,276.4v-1.4M587.6,325.2h2.4M587.6,309h2.4M587.6,292.7h2.4M587.6,260.1h2.4M587.6,243.8h2.4M587.6,227.6h2.4M587.6,333.4h1.4M587.6,329.3h1.4M587.6,321.2h1.4M587.6,317.1h1.4M587.6,313h1.4M587.6,304.9h1.4M587.6,300.8h1.4M587.6,296.7h1.4M587.6,288.6h1.4M587.6,284.5h1.4M587.6,280.5h1.4M587.6,272.3h1.4M587.6,268.3h1.4M587.6,264.2h1.4M587.6,256h1.4M587.6,252h1.4M587.6,247.9h1.4M587.6,239.8h1.4M587.6,235.7h1.4M587.6,231.6h1.4M587.6,223.5h1.4M587.6,219.4h1.4"/><text x="512.4" y="283.6" text-anchor="middle" class="ax">−4</text><text x="550" y="283.6" text-anchor="middle" class="ax">−2</text><text x="625.2" y="283.6" text-anchor="middle" class="ax">2</text><text x="662.8" y="283.6" text-anchor="middle" class="ax">4</text><text x="585.8" y="327.2" text-anchor="end" class="ax">−0.6</text><text x="585.8" y="311" text-anchor="end" class="ax">−0.4</text><text x="585.8" y="294.7" text-anchor="end" class="ax">−0.2</text><text x="585.8" y="262.1" text-anchor="end" class="ax">0.2</text><text x="585.8" y="245.8" text-anchor="end" class="ax">0.4</text><text x="585.8" y="229.6" text-anchor="end" class="ax">0.6</text>
<g fill="none" stroke-width="0.8"><polyline points="493.6,300 495,307.3" stroke="#e46378"/><polyline points="497,316.7 498,320.8 499,324.3" stroke="#e66d82"/><polyline points="502.9,332.4 503.5,332.9 504.1,333.1 504.8,333 505.4,332.7 506,332.1 506.6,331.3 507.3,330.2 508,328.6" stroke="#eb8096"/><polyline points="510.9,319.5 512.5,312.5" stroke="#ef90a8"/><polyline points="514.5,302.5 515.8,295.7" stroke="#f199b1"/><polyline points="517.4,286.4 518.7,279.1" stroke="#f3a0b9"/><polyline points="520.3,269.6 521.7,261.8" stroke="#f5a8c1"/><polyline points="523.4,252.5 525,245.4" stroke="#8175df"/><polyline points="527.3,236.1 528.7,232 529.5,230.2 530.1,229" stroke="#8c81e2"/><polyline points="536.5,230 537.7,232.9 539.1,237" stroke="#a397e9"/><polyline points="541.6,246.2 543.4,253.6" stroke="#aea3ec"/><polyline points="545.4,262.5 547.2,270.2" stroke="#b8acee"/><polyline points="549.4,279.2 550.5,283.2 551.5,286.3" stroke="#c2b7f1"/><polyline points="555.9,294.5 556.6,294.8 557.3,295 557.9,295 558.7,294.7 559.4,294.1 560.2,293.3 560.9,292.3 561.8,290.9" stroke="#69bdf1"/><polyline points="565.8,282.6 567.7,278.5 569.2,275.6" stroke="#7bcaf4"/><polyline points="576.1,273 577,274.2 577.9,275.8 578.8,277.6 579.6,279.8" stroke="#91daf6"/><polyline points="582.6,288.9 584.7,295.9" stroke="#9ee3f8"/><polyline points="587.3,304.9 588.5,308.8 589.8,312.2" stroke="#6ee36a"/><polyline points="595.4,318.8 595.9,318.5 596.4,318.1 597.4,316.9 598.4,315.1 599.6,312.4" stroke="#85e874"/><polyline points="602.2,303.5 604,295.9" stroke="#93eb7b"/><polyline points="605.8,286.5 607.1,279.8" stroke="#9ced7f"/><polyline points="608.9,270.2 610.2,262.5" stroke="#a4ef83"/><polyline points="612,253.1 613.4,246.1" stroke="#acf087"/><polyline points="615.5,236.5 616.5,232.6 617.4,229.6" stroke="#b6f28b"/><polyline points="621.5,221.3 622.2,220.9 622.8,220.8 623.4,221 624,221.4 624.7,222 625.3,222.9 625.9,224.1 626.7,225.7" stroke="#f8ed64"/><polyline points="629.4,234.7 631.1,241.8" stroke="#faf072"/><polyline points="632.9,251.3 634.2,258.2" stroke="#faf17a"/><polyline points="635.9,268.5 637.1,275.3" stroke="#fbf281"/><polyline points="638.7,285.1 639.8,291.8" stroke="#fcf387"/><polyline points="641.6,301.8 643,309" stroke="#fdf48e"/><polyline points="645,318.2 646,322.2 647,325.6" stroke="#fdf596"/><polyline points="651.2,333.5 651.9,333.7 652.4,333.7 653,333.4 653.6,332.9 654.3,332.2 654.9,331.1 656.1,328.4" stroke="#f59f54"/><polyline points="658.8,319.7 660.4,312.5" stroke="#f7a75e"/><polyline points="662.3,302.9 663.5,295.9" stroke="#f8ac64"/><polyline points="665.2,286.3 666.4,278.7" stroke="#f9b068"/><polyline points="667.9,269.5 669.2,261.9" stroke="#fab36d"/><polyline points="670.8,252.5 672.2,245.1" stroke="#fbb872"/><polyline points="674.2,235.6 676,228.8" stroke="#fcbc78"/><polyline points="679.6,220.1 680.1,219.6 680.6,219.2 681.1,218.9 681.6,218.9" stroke="#fdc482"/></g>
<g fill="none" stroke-width="0.8"><polyline points="493.6,218.8 494.1,218.9 494.6,219.1 495.1,219.5 495.7,220.3 496.9,222.2 498,224.9" stroke="#e5677c"/><polyline points="500.6,234 502.3,241.4" stroke="#e8768b"/><polyline points="504,250.5 505.3,257.5" stroke="#ea7e94"/><polyline points="506.9,267.2 508.1,274.8" stroke="#ec859c"/><polyline points="509.7,284 510.9,291.5" stroke="#ee8ca4"/><polyline points="512.5,300.9 513.9,308.2" stroke="#f094ac"/><polyline points="515.9,317.7 516.9,321.7 517.8,324.8" stroke="#f29eb6"/><polyline points="521.7,333.2 522.3,333.7 522.9,333.9 523.6,333.9 524.2,333.6 524.8,333 525.5,332.2 526.1,331.2 526.8,329.6" stroke="#8176df"/><polyline points="529.7,320.5 531.4,313.5" stroke="#9085e4"/><polyline points="533.2,304 534.6,296.3" stroke="#998ee6"/><polyline points="536.2,286.7 537.4,279.9" stroke="#a095e8"/><polyline points="539,269.9 540.1,263.1" stroke="#a79cea"/><polyline points="541.8,253.7 543.1,246.3" stroke="#aea3ec"/><polyline points="545.1,236.7 546.9,229.7" stroke="#b7acee"/><polyline points="550.4,220.9 551.2,220 551.8,219.6 552.5,219.3 553.2,219.4 553.8,219.8 554.6,220.5 555.2,221.4 555.9,222.8" stroke="#c9bef3"/><polyline points="558.9,231.7 560.7,239" stroke="#6abef2"/><polyline points="562.6,248.3 563.8,255.1" stroke="#72c4f2"/><polyline points="565.6,265.2 566.7,271.9" stroke="#78c8f3"/><polyline points="568.3,281.6 569.6,289" stroke="#7eccf4"/><polyline points="571.4,298.7 572.7,305.8" stroke="#85d1f5"/><polyline points="574.7,314.9 575.9,319.1 576.9,322.4" stroke="#8dd7f6"/><polyline points="581.8,329.7 582.3,329.6 582.8,329.3 583.3,328.9 583.9,328.2 585,326.3 586.2,323.7" stroke="#9ee4f8"/><polyline points="588.9,314.7 590.7,307.3" stroke="#71e46b"/><polyline points="592.7,297.9 594.1,291" stroke="#7ae670"/><polyline points="595.9,281.6 597.4,274.3" stroke="#83e773"/><polyline points="599.6,264.8 601.5,257.7" stroke="#8dea78"/><polyline points="604.8,248.9 605.6,247.8 606.3,247 607.1,246.4 607.9,246.2 608.6,246.3 609.4,246.7 610.1,247.3 610.9,248.2" stroke="#a0ee81"/><polyline points="614.9,256.3 617.6,263.5" stroke="#b5f28b"/><polyline points="621.4,272.2 622.2,273.4 622.9,274.5 623.7,275.4 624.3,275.9 625,276.3 625.7,276.5 626.3,276.5 627,276.2" stroke="#f8ee64"/><polyline points="631.9,268.6 633.2,265.5 634.7,261.3" stroke="#faf179"/><polyline points="637.8,252.7 639.6,248.4 641.1,245.6" stroke="#fcf387"/><polyline points="647.7,245.7 648.4,246.9 649.1,248.6 650.6,253" stroke="#fef69e"/><polyline points="653,262.1 654.6,269.4" stroke="#f59f54"/><polyline points="656.5,278.7 657.9,285.8" stroke="#f6a45a"/><polyline points="659.8,295.5 661.2,302.4" stroke="#f7a85f"/><polyline points="663.3,312.1 665.2,319.4" stroke="#f8ae66"/><polyline points="668.4,327.9 669.2,329.1 669.9,329.9 670.7,330.3 671.3,330.4 671.9,330.3 672.7,329.7 673.3,329 674.1,327.9" stroke="#fab772"/><polyline points="677.2,319.4 678.1,316.1 679.1,311.9" stroke="#fdc17e"/><polyline points="681,302.8 681.6,299.4" stroke="#fec583"/></g>
<g fill="none" stroke-width="1.8" stroke-linecap="round"><polyline points="493.6,245.1 496.4,260.5 500.8,287.3" stroke="#db2b49"/><polyline points="500.8,287.3 503,300.2 504.7,309 506.4,316.8 508,323.4" stroke="#e14665"/><polyline points="508,323.4 509.1,326.9 510.2,329.8 511.3,331.9 511.9,332.6 512.4,333.2 513,333.6 513.6,333.7 514.1,333.7 514.7,333.5 515.2,333" stroke="#e86082"/><polyline points="515.2,333 515.8,332.4 516.9,330.6 517.4,329.4 518.5,326.4 520.2,320.7 521.3,316.1 522.4,311" stroke="#ef7b9e"/><polyline points="522.4,311 523.7,304.6 525.6,294.2 530.6,264.2" stroke="#5242d4"/><polyline points="530.6,264.2 533.1,250.1 535,240.7 536.8,232.9 538.1,228.6 538.7,226.8" stroke="#7060dc"/><polyline points="538.7,226.8 540,223.9 540.6,222.8 541.2,221.9 541.9,221.3 542.5,220.9 543.1,220.8 543.7,221 544.4,221.3 545,222 545.6,222.9 546.2,224 546.9,225.3" stroke="#8c7ce4"/><polyline points="546.9,225.3 547.5,226.9 548.7,230.7 550.6,237.9 552.5,246.5 555,259.5" stroke="#aa9aec"/><polyline points="555,259.5 560,286.9 561.9,296.2 563.2,301.8" stroke="#28a1ec"/><polyline points="563.2,301.8 564.4,306.7 565.7,310.8 566.9,314.2 567.5,315.5 568.2,316.6 568.8,317.5 569.4,318.2 570.1,318.6 570.7,318.9 571.3,318.8" stroke="#41b3ee"/><polyline points="571.3,318.8 571.9,318.6 572.6,318.1 573.2,317.5 573.8,316.6 575.1,314.3 575.7,312.9 576.9,309.6 578.2,305.9 579.5,301.8" stroke="#5ac5f2"/><polyline points="579.5,301.8 582.6,290.9 584.5,284.7 586.3,279.3 587.6,276.4" stroke="#74d7f4"/><polyline points="587.6,276.4 588.9,274.1 589.5,273.2 590.1,272.6 590.7,272 591.4,271.7 592,271.6 592.6,271.6 593.2,271.8 593.9,272.2 594.5,272.8 595.7,274.3" stroke="#3bd92f"/><polyline points="595.7,274.3 596.4,275.3 597.6,277.6 598.9,280.2 602,287.1 603.9,290.8" stroke="#59e03d"/><polyline points="603.9,290.8 605.1,292.8 605.8,293.5 606.4,294.2 607,294.6 607.7,294.9 608.3,295 608.9,295 609.5,294.7 610.2,294.2 610.8,293.5 611.4,292.7 612,291.6" stroke="#77e64b"/><polyline points="612,291.6 612.7,290.3 613.9,287.2 615.8,281.3 617.7,274.2 620.2,263.5" stroke="#95ed59"/><polyline points="620.2,263.5 623.3,249.7 625.2,242.2 627.1,235.7 628.3,232.2" stroke="#f5e622"/><polyline points="628.3,232.2 629.6,229.4 630.2,228.4 630.8,227.5 631.5,226.9 632.1,226.5 632.7,226.4 633.3,226.5 634,226.8 634.6,227.4 635.2,228.2 635.9,229.2 636.5,230.5" stroke="#f8ea3c"/><polyline points="636.5,230.5 637.1,232 638.4,235.7 640.2,242.8 642.1,251.4 644.6,264.7" stroke="#fbee58"/><polyline points="644.6,264.7 650.3,297.2 652.8,310.2" stroke="#fef272"/><polyline points="652.8,310.2 653.9,315.3 655,319.9 656.7,325.6 657.8,328.5 658.3,329.8 659.4,331.6 660,332.3" stroke="#f27b11"/><polyline points="660,332.3 660.5,332.7 661.1,333 661.6,333.1 662.2,332.9 662.8,332.6 663.3,332 663.9,331.3 665,329.3 666.1,326.5 667.2,323" stroke="#f58923"/><polyline points="667.2,323 668.8,316.6 670.5,308.8 672.2,300.1 674.4,287.3" stroke="#f89734"/><polyline points="674.4,287.3 678.8,260.5 681.6,245.2" stroke="#fca646"/></g>
<text x="586" y="215" text-anchor="middle" class="tt">Figure(<tspan font-style="italic">f</tspan>)</text>
<path fill="none" stroke="#777" stroke-width="0.5" d="M8.4,125.2L96.4,92.1M178.3,129.9L96.4,92.1M96.4,92.1L96.9,18"/>
<g transform="scale(0.1)" fill="currentColor" stroke="currentColor" stroke-width="3" stroke-linejoin="round"><path color="#ffdd73" d="M963,882l24,-104 -22,88 -24,-103z"/><path color="#ec9b43" d="M939,767l24,115 -22,-119 -24,-127z"/><path color="#6d4b23" d="M985,810l25,-146 -23,114 -24,104z"/><path color="#ffac4c" d="M961,893l24,-83 -22,72 -24,-115z"/><path class="m" d="M961,893l24,-83 25,-146 -23,114 -22,88 -24,-103 -24,-127 22,131z"/>
<path color="#ed9236" d="M915,640l24,127 -22,-131 -24,-111z"/><path color="#f18b2a" d="M890,531l25,109 -22,-115 -26,-86z"/><path color="#ea9035" d="M937,771l24,122 -22,-126 -24,-127z"/><path color="#eb8728" d="M912,644l25,127 -22,-131 -25,-109z"/><path class="m" d="M912,644l25,127 24,122 -22,-126 -22,-131 -24,-111 -26,-86 23,92z"/>
<path color="#f9861e" d="M864,446l26,85 -23,-92 -26,-64z"/><path color="#ffd158" d="M837,384l27,62 -23,-71 -27,-43z"/><path color="#ef801c" d="M887,536l25,108 -22,-113 -26,-85z"/><path color="#ffc652" d="M860,453l27,83 -23,-90 -27,-62z"/><path class="m" d="M860,453l27,83 25,108 -22,-113 -23,-92 -26,-64 -27,-43 23,52z"/>
<path color="#ffff83" d="M810,342l27,42 -23,-52 -27,-28z"/><path color="#ffff76" d="M783,315l27,27 -23,-38 -27,-17z"/><path color="#ffff7a" d="M834,393l26,60 -23,-69 -27,-42z"/><path color="#ffff6e" d="M806,353l28,40 -24,-51 -27,-27z"/><path class="m" d="M806,353l28,40 26,60 -23,-69 -23,-52 -27,-28 -27,-17 23,28z"/>
<path color="#ffff64" d="M756,299l27,16 -23,-28 -27,-9z"/><path color="#ffff4e" d="M728,291l28,8 -23,-21 -28,-4z"/><path color="#ffff60" d="M779,327l27,26 -23,-38 -27,-16z"/><path color="#ffff4d" d="M751,312l28,15 -23,-28 -28,-8z"/><path class="m" d="M751,312l28,15 27,26 -23,-38 -23,-28 -27,-9 -28,-4 23,17z"/>
<path color="#ffff5c" d="M700,288l28,3 -23,-17 -28,0z"/><path color="#bcff7b" d="M671,288l29,0 -23,-14 -28,3z"/><path color="#ffff5e" d="M723,304l28,8 -23,-21 -28,-3z"/><path color="#c1ff7f" d="M694,301l29,3 -23,-16 -29,0z"/><path class="m" d="M694,301l29,3 28,8 -23,-21 -23,-17 -28,0 -28,3 22,11z"/>
<path color="#9fff6d" d="M643,290l28,-2 -22,-11 -29,3z"/><path color="#84ff60" d="M614,295l29,-5 -23,-10 -29,5z"/><path color="#a3ff70" d="M666,302l28,-1 -23,-13 -28,2z"/><path color="#87ff61" d="M637,305l29,-3 -23,-12 -29,5z"/><path class="m" d="M637,305l29,-3 28,-1 -23,-13 -22,-11 -29,3 -29,5 23,10z"/>
<path color="#6aff53" d="M585,300l29,-5 -23,-10 -29,6z"/><path color="#5efd66" d="M555,306l30,-6 -23,-9 -29,6z"/><path color="#6cff54" d="M607,309l30,-4 -23,-10 -29,5z"/><path color="#5fff67" d="M578,315l29,-6 -22,-9 -30,6z"/><path class="m" d="M578,315l29,-6 30,-4 -23,-10 -23,-10 -29,6 -29,6 22,9z"/>
<path color="#87fafa" d="M525,312l30,-6 -22,-9 -30,7z"/><path color="#80ecff" d="M495,319l30,-7 -22,-8 -30,6z"/><path color="#88fbfb" d="M548,321l30,-6 -23,-9 -30,6z"/><path color="#80edff" d="M518,327l30,-6 -23,-9 -30,7z"/><path class="m" d="M518,327l30,-6 30,-6 -23,-9 -22,-9 -30,7 -30,6 22,9z"/>
<path color="#6cdeff" d="M465,325l30,-6 -22,-9 -31,7z"/><path color="#58cfff" d="M434,332l31,-7 -23,-8 -30,7z"/><path color="#6cdeff" d="M487,334l31,-7 -23,-8 -30,6z"/><path color="#58d0ff" d="M456,341l31,-7 -22,-9 -31,7z"/><path class="m" d="M456,341l31,-7 31,-7 -23,-8 -22,-9 -31,7 -30,7 22,8z"/>
<path color="#44c1ff" d="M403,340l31,-8 -22,-8 -31,7z"/><path color="#8dbaff" d="M371,347l32,-7 -22,-9 -32,8z"/><path color="#44c1ff" d="M425,348l31,-7 -22,-9 -31,8z"/><path color="#8dbaff" d="M394,356l31,-8 -22,-8 -32,7z"/><path class="m" d="M394,356l31,-8 31,-7 -22,-9 -22,-8 -31,7 -32,8 22,8z"/>
<path color="#bcabff" d="M339,355l32,-8 -22,-8 -32,7z"/><path color="#a595ff" d="M307,362l32,-7 -22,-9 -32,8z"/><path color="#bcacff" d="M362,363l32,-7 -23,-9 -32,8z"/><path color="#a695ff" d="M329,371l33,-8 -23,-8 -32,7z"/><path class="m" d="M329,371l33,-8 32,-7 -23,-9 -22,-8 -32,7 -32,8 22,8z"/>
<path color="#8f7efd" d="M275,370l32,-8 -22,-8 -32,7z"/><path color="#7867f7" d="M242,378l33,-8 -22,-9 -33,8z"/><path color="#8f7efd" d="M297,379l32,-8 -22,-9 -32,8z"/><path color="#7868f7" d="M264,386l33,-7 -22,-9 -33,8z"/><path class="m" d="M264,386l33,-7 32,-8 -22,-9 -22,-8 -32,7 -33,8 22,9z"/>
<path color="#b176de" d="M209,385l33,-7 -22,-9 -33,8z"/><path color="#ff91b5" d="M175,393l34,-8 -22,-8 -34,7z"/><path color="#b176de" d="M231,394l33,-8 -22,-8 -33,7z"/><path color="#ff91b5" d="M197,402l34,-8 -22,-9 -34,8z"/><path class="m" d="M197,402l34,-8 33,-8 -22,-8 -22,-9 -33,8 -34,7 22,9z"/>
<path color="#ff7a9c" d="M141,401l34,-8 -22,-9 -34,8z"/><path color="#ff6283" d="M106,410l35,-9 -22,-9 -34,8z"/><path color="#ff7a9c" d="M163,411l34,-9 -22,-9 -34,8z"/><path color="#ff6283" d="M128,419l35,-8 -22,-10 -35,9z"/><path class="m" d="M128,419l35,-8 34,-9 -22,-9 -22,-9 -34,8 -34,8 21,10z"/>
<path color="#fc4b6a" d="M72,418l34,-8 -21,-10 -35,9z"/><path color="#f73452" d="M36,426l36,-8 -22,-9 -35,8z"/><path color="#fd4b6a" d="M93,427l35,-8 -22,-9 -34,8z"/><path color="#f73452" d="M58,436l35,-9 -21,-9 -36,8z"/><path class="m" d="M58,436l35,-9 35,-8 -22,-9 -21,-10 -35,9 -35,8 21,9z"/>
<path color="#6e4b23" d="M1009,694l25,-133 -24,103 -25,146z"/><path color="#6c461c" d="M983,842l26,-148 -24,116 -24,83z"/><path color="#704d24" d="M1033,589l26,-112 -25,84 -25,133z"/><path color="#6d461c" d="M1007,725l26,-136 -24,105 -26,148z"/><path class="m" d="M1007,725l26,-136 26,-112 -25,84 -24,103 -25,146 -24,83 22,-51z"/>
<path color="#f49738" d="M958,903l25,-61 -22,51 -24,-122z"/><path color="#e78527" d="M934,775l24,128 -21,-132 -25,-127z"/><path color="#6b4116" d="M981,875l26,-150 -24,117 -25,61z"/><path color="#ec8829" d="M956,910l25,-35 -23,28 -24,-128z"/><path class="m" d="M956,910l25,-35 26,-150 -24,117 -22,51 -24,-122 -25,-127 22,131z"/>
<path color="#e97d1a" d="M909,648l25,127 -22,-131 -25,-108z"/><path color="#f6be4e" d="M883,542l26,106 -22,-112 -27,-83z"/><path color="#e57a1a" d="M932,779l24,131 -22,-135 -25,-127z"/><path color="#efb84b" d="M906,653l26,126 -23,-131 -26,-106z"/><path class="m" d="M906,653l26,126 24,131 -22,-135 -22,-131 -25,-108 -27,-83 23,89z"/>
<path color="#fffa72" d="M857,461l26,81 -23,-89 -26,-60z"/><path color="#ffff66" d="M830,403l27,58 -23,-68 -28,-40z"/><path color="#fbf06d" d="M880,549l26,104 -23,-111 -26,-81z"/><path color="#fff85f" d="M853,469l27,80 -23,-88 -27,-58z"/><path class="m" d="M853,469l27,80 26,104 -23,-111 -23,-89 -26,-60 -28,-40 24,50z"/>
<path color="#ffff59" d="M802,364l28,39 -24,-50 -27,-26z"/><path color="#ffff49" d="M774,339l28,25 -23,-37 -28,-15z"/><path color="#ffff51" d="M826,413l27,56 -23,-66 -28,-39z"/><path color="#ffff43" d="M798,375l28,38 -24,-49 -28,-25z"/><path class="m" d="M798,375l28,38 27,56 -23,-66 -24,-50 -27,-26 -28,-15 23,27z"/>
<path color="#ffff5d" d="M746,325l28,14 -23,-27 -28,-8z"/><path color="#c4ff81" d="M718,318l28,7 -23,-21 -29,-3z"/><path color="#ffff59" d="M770,352l28,23 -24,-36 -28,-14z"/><path color="#c5ff81" d="M741,338l29,14 -24,-27 -28,-7z"/><path class="m" d="M741,338l29,14 28,23 -24,-36 -23,-27 -28,-8 -29,-3 24,17z"/>
<path color="#a7ff73" d="M689,315l29,3 -24,-17 -28,1z"/><path color="#8aff64" d="M660,316l29,-1 -23,-13 -29,3z"/><path color="#aaff75" d="M712,331l29,7 -23,-20 -29,-3z"/><path color="#8dff67" d="M683,330l29,1 -23,-16 -29,1z"/><path class="m" d="M683,330l29,1 29,7 -23,-20 -24,-17 -28,1 -29,3 23,11z"/>
<path color="#6eff56" d="M630,319l30,-3 -23,-11 -30,4z"/><path color="#61ff69" d="M601,324l29,-5 -23,-10 -29,6z"/><path color="#70ff58" d="M654,331l29,-1 -23,-14 -30,3z"/><path color="#63ff6b" d="M624,334l30,-3 -24,-12 -29,5z"/><path class="m" d="M624,334l30,-3 29,-1 -23,-14 -23,-11 -30,4 -29,6 23,9z"/>
<path color="#89fdfd" d="M571,330l30,-6 -23,-9 -30,6z"/><path color="#81eeff" d="M541,336l30,-6 -23,-9 -30,6z"/><path color="#8bffff" d="M594,339l30,-5 -23,-10 -30,6z"/><path color="#82f0ff" d="M564,345l30,-6 -23,-9 -30,6z"/><path class="m" d="M564,345l30,-6 30,-5 -23,-10 -23,-9 -30,6 -30,6 23,9z"/>
<path color="#6ddfff" d="M510,343l31,-7 -23,-9 -31,7z"/><path color="#59d0ff" d="M479,350l31,-7 -23,-9 -31,7z"/><path color="#6de0ff" d="M533,352l31,-7 -23,-9 -31,7z"/><path color="#59d1ff" d="M502,358l31,-6 -23,-9 -31,7z"/><path class="m" d="M502,358l31,-6 31,-7 -23,-9 -23,-9 -31,7 -31,7 23,9z"/>
<path color="#45c2ff" d="M448,357l31,-7 -23,-9 -31,7z"/><path color="#8dbaff" d="M416,364l32,-7 -23,-9 -31,8z"/><path color="#45c2ff" d="M471,366l31,-8 -23,-8 -31,7z"/><path color="#8ebbff" d="M439,373l32,-7 -23,-9 -32,7z"/><path class="m" d="M439,373l32,-7 31,-8 -23,-8 -23,-9 -31,7 -31,8 22,8z"/>
<path color="#bcacff" d="M384,372l32,-8 -22,-8 -32,7z"/><path color="#a695ff" d="M352,380l32,-8 -22,-9 -33,8z"/><path color="#bdacff" d="M407,381l32,-8 -23,-9 -32,8z"/><path color="#a695ff" d="M375,388l32,-7 -23,-9 -32,8z"/><path class="m" d="M375,388l32,-7 32,-8 -23,-9 -22,-8 -32,7 -33,8 23,9z"/>
<path color="#8f7efd" d="M319,387l33,-7 -23,-9 -32,8z"/><path color="#7868f7" d="M286,395l33,-8 -22,-8 -33,7z"/><path color="#8f7ffd" d="M342,396l33,-8 -23,-8 -33,7z"/><path color="#7968f7" d="M309,404l33,-8 -23,-9 -33,8z"/><path class="m" d="M309,404l33,-8 33,-8 -23,-8 -23,-9 -32,8 -33,7 22,9z"/>
<path color="#b176df" d="M253,403l33,-8 -22,-9 -33,8z"/><path color="#ff91b5" d="M219,412l34,-9 -22,-9 -34,8z"/><path color="#b177df" d="M275,413l34,-9 -23,-9 -33,8z"/><path color="#ff91b6" d="M241,421l34,-8 -22,-10 -34,9z"/><path class="m" d="M241,421l34,-8 34,-9 -23,-9 -22,-9 -33,8 -34,8 22,10z"/>
<path color="#ff7a9c" d="M185,420l34,-8 -22,-10 -34,9z"/><path color="#ff6284" d="M150,428l35,-8 -22,-9 -35,8z"/><path color="#ff7a9d" d="M207,429l34,-8 -22,-9 -34,8z"/><path color="#ff6384" d="M172,438l35,-9 -22,-9 -35,8z"/><path class="m" d="M172,438l35,-9 34,-8 -22,-9 -22,-10 -34,9 -35,8 22,9z"/>
<path color="#fd4b6b" d="M115,437l35,-9 -22,-9 -35,8z"/><path color="#f73452" d="M80,445l35,-8 -22,-10 -35,9z"/><path color="#fd4b6b" d="M137,446l35,-8 -22,-10 -35,9z"/><path color="#f73452" d="M102,455l35,-9 -22,-9 -35,8z"/><path class="m" d="M102,455l35,-9 35,-8 -22,-10 -22,-9 -35,8 -35,9 22,9z"/>
<path color="#745025" d="M1057,502l27,-90 -25,65 -26,112z"/><path color="#6f481d" d="M1031,618l26,-116 -24,87 -26,136z"/><path color="#7b5427" d="M1082,434l27,-69 -25,47 -27,90z"/><path color="#734a1e" d="M1056,528l26,-94 -25,68 -26,116z"/><path class="m" d="M1056,528l26,-94 27,-69 -25,47 -25,65 -26,112 -26,136 24,-107z"/>
<path color="#6b4116" d="M1005,757l26,-139 -24,107 -26,150z"/><path color="#6a3c0f" d="M979,908l26,-151 -24,118 -25,35z"/><path color="#6d4216" d="M1029,647l27,-119 -25,90 -26,139z"/><path color="#6a3c0f" d="M1003,790l26,-143 -24,110 -26,151z"/><path class="m" d="M1003,790l26,-143 27,-119 -25,90 -24,107 -26,150 -25,35 23,-2z"/>
<path color="#e77b1a" d="M954,917l25,-9 -23,2 -24,-131z"/><path color="#ebb54a" d="M929,783l25,134 -22,-138 -26,-126z"/><path color="#693709" d="M977,940l26,-150 -24,118 -25,9z"/><path color="#ebb54a" d="M952,923l25,17 -23,-23 -25,-134z"/><path class="m" d="M952,923l25,17 26,-150 -24,118 -23,2 -24,-131 -26,-126 23,130z"/>
<path color="#f4e869" d="M904,658l25,125 -23,-130 -26,-104z"/><path color="#faee5a" d="M877,556l27,102 -24,-109 -27,-80z"/><path color="#efe467" d="M927,788l25,135 -23,-140 -25,-125z"/><path color="#f2e657" d="M901,664l26,124 -23,-130 -27,-102z"/><path class="m" d="M901,664l26,124 25,135 -23,-140 -23,-130 -26,-104 -27,-80 24,87z"/>
<path color="#fff74b" d="M850,478l27,78 -24,-87 -27,-56z"/><path color="#ffff3d" d="M822,423l28,55 -24,-65 -28,-38z"/><path color="#f9ec47" d="M874,563l27,101 -24,-108 -27,-78z"/><path color="#fff537" d="M846,487l28,76 -24,-85 -28,-55z"/><path class="m" d="M846,487l28,76 27,101 -24,-108 -24,-87 -27,-56 -28,-38 24,48z"/>
<path color="#fbff53" d="M794,387l28,36 -24,-48 -28,-23z"/><path color="#c0ff7d" d="M765,364l29,23 -24,-35 -29,-14z"/><path color="#ecff4c" d="M818,434l28,53 -24,-64 -28,-36z"/><path color="#b7ff76" d="M789,399l29,35 -24,-47 -29,-23z"/><path class="m" d="M789,399l29,35 28,53 -24,-64 -24,-48 -28,-23 -29,-14 24,26z"/>
<path color="#abff75" d="M736,352l29,12 -24,-26 -29,-7z"/><path color="#90ff69" d="M707,346l29,6 -24,-21 -29,-1z"/><path color="#a7ff72" d="M760,378l29,21 -24,-35 -29,-12z"/><path color="#91ff69" d="M731,366l29,12 -24,-26 -29,-6z"/><path class="m" d="M731,366l29,12 29,21 -24,-35 -24,-26 -29,-7 -29,-1 24,16z"/>
<path color="#73ff5b" d="M678,344l29,2 -24,-16 -29,1z"/><path color="#65ff6d" d="M648,346l30,-2 -24,-13 -30,3z"/><path color="#76ff5d" d="M702,360l29,6 -24,-20 -29,-2z"/><path color="#68ff70" d="M672,359l30,1 -24,-16 -30,2z"/><path class="m" d="M672,359l30,1 29,6 -24,-20 -24,-16 -29,1 -30,3 24,12z"/>
<path color="#8dffff" d="M618,350l30,-4 -24,-12 -30,5z"/><path color="#84f3ff" d="M587,355l31,-5 -24,-11 -30,6z"/><path color="#90ffff" d="M642,361l30,-2 -24,-13 -30,4z"/><path color="#86f6ff" d="M611,366l31,-5 -24,-11 -31,5z"/><path class="m" d="M611,366l31,-5 30,-2 -24,-13 -24,-12 -30,5 -30,6 23,10z"/>
<path color="#6ee2ff" d="M557,361l30,-6 -23,-10 -31,7z"/><path color="#5ad2ff" d="M526,368l31,-7 -24,-9 -31,6z"/><path color="#70e4ff" d="M580,371l31,-5 -24,-11 -30,6z"/><path color="#5ad4ff" d="M549,377l31,-6 -23,-10 -31,7z"/><path class="m" d="M549,377l31,-6 31,-5 -24,-11 -23,-10 -31,7 -31,6 24,10z"/>
<path color="#45c3ff" d="M494,375l32,-7 -24,-10 -31,8z"/><path color="#8ebbff" d="M462,382l32,-7 -23,-9 -32,7z"/><path color="#46c4ff" d="M518,384l31,-7 -23,-9 -32,7z"/><path color="#8fbcff" d="M486,391l32,-7 -24,-9 -32,7z"/><path class="m" d="M486,391l32,-7 31,-7 -23,-9 -24,-10 -31,8 -32,7 23,9z"/>
<path color="#bdacff" d="M430,390l32,-8 -23,-9 -32,8z"/><path color="#a696ff" d="M398,398l32,-8 -23,-9 -32,7z"/><path color="#beadff" d="M454,399l32,-8 -24,-9 -32,8z"/><path color="#a796ff" d="M421,407l33,-8 -24,-9 -32,8z"/><path class="m" d="M421,407l33,-8 32,-8 -24,-9 -23,-9 -32,8 -32,7 23,10z"/>
<path color="#8f7ffe" d="M365,406l33,-8 -23,-10 -33,8z"/><path color="#7968f7" d="M332,414l33,-8 -23,-10 -33,8z"/><path color="#907ffe" d="M388,415l33,-8 -23,-9 -33,8z"/><path color="#7968f8" d="M355,423l33,-8 -23,-9 -33,8z"/><path class="m" d="M355,423l33,-8 33,-8 -23,-9 -23,-10 -33,8 -33,8 23,10z"/>
<path color="#b277df" d="M298,422l34,-8 -23,-10 -34,9z"/><path color="#ff92b6" d="M264,430l34,-8 -23,-9 -34,8z"/><path color="#b277df" d="M321,431l34,-8 -23,-9 -34,8z"/><path color="#ff92b6" d="M287,440l34,-9 -23,-9 -34,8z"/><path class="m" d="M287,440l34,-9 34,-8 -23,-9 -23,-10 -34,9 -34,8 23,9z"/>
<path color="#ff7a9d" d="M230,439l34,-9 -23,-9 -34,8z"/><path color="#ff6384" d="M195,447l35,-8 -23,-10 -35,9z"/><path color="#ff7a9d" d="M253,448l34,-8 -23,-10 -34,9z"/><path color="#ff6384" d="M218,457l35,-9 -23,-9 -35,8z"/><path class="m" d="M218,457l35,-9 34,-8 -23,-10 -23,-9 -34,8 -35,9 23,9z"/>
<path color="#fd4b6b" d="M160,456l35,-9 -23,-9 -35,8z"/><path color="#f73452" d="M124,465l36,-9 -23,-10 -35,9z"/><path color="#fd4c6b" d="M182,466l36,-9 -23,-10 -35,9z"/><path color="#f73553" d="M147,475l35,-9 -22,-10 -36,9z"/><path class="m" d="M147,475l35,-9 36,-9 -23,-10 -23,-9 -35,8 -35,9 22,10z"/>
<path color="#835a2a" d="M1108,385l26,-52 -25,32 -27,69z"/><path color="#784e20" d="M1081,457l27,-72 -26,49 -26,94z"/><path color="#8e622f" d="M1133,351l26,-39 -25,21 -26,52z"/><path color="#815422" d="M1107,406l26,-55 -25,34 -27,72z"/><path class="m" d="M1107,406l26,-55 26,-39 -25,21 -25,32 -27,69 -26,94 25,-71z"/>
<path color="#714417" d="M1055,554l26,-97 -25,71 -27,119z"/><path color="#6c3d10" d="M1028,677l27,-123 -26,93 -26,143z"/><path color="#764818" d="M1080,481l27,-75 -26,51 -26,97z"/><path color="#6f3f10" d="M1053,581l27,-100 -25,73 -27,123z"/><path class="m" d="M1053,581l27,-100 27,-75 -26,51 -25,71 -27,119 -26,143 25,-113z"/>
<path color="#683609" d="M1001,823l27,-146 -25,113 -26,150z"/><path color="#6d5320" d="M975,973l26,-150 -24,117 -25,-17z"/><path color="#6a3709" d="M1026,708l27,-127 -25,96 -27,146z"/><path color="#6b521f" d="M999,857l27,-149 -25,115 -26,150z"/><path class="m" d="M999,857l27,-149 27,-127 -25,96 -25,113 -26,150 -25,-17 23,50z"/>
<path color="#eee367" d="M949,929l26,44 -23,-50 -25,-135z"/><path color="#eee254" d="M924,793l25,136 -22,-141 -26,-124z"/><path color="#716c2f" d="M972,1004l27,-147 -24,116 -26,-44z"/><path color="#ece054" d="M947,935l25,69 -23,-75 -25,-136z"/><path class="m" d="M947,935l25,69 27,-147 -24,116 -23,-50 -25,-135 -26,-124 23,129z"/>
<path color="#f1e444" d="M898,670l26,123 -23,-129 -27,-101z"/><path color="#f8ea34" d="M870,571l28,99 -24,-107 -28,-76z"/><path color="#ecdf42" d="M921,798l26,137 -23,-142 -26,-123z"/><path color="#f0e231" d="M895,677l26,121 -23,-128 -28,-99z"/><path class="m" d="M895,677l26,121 26,137 -23,-142 -23,-129 -27,-101 -28,-76 24,84z"/>
<path color="#dff946" d="M842,497l28,74 -24,-84 -28,-53z"/><path color="#abff6d" d="M814,446l28,51 -24,-63 -29,-35z"/><path color="#d4ed41" d="M867,579l28,98 -25,-106 -28,-74z"/><path color="#a0fd65" d="M838,507l29,72 -25,-82 -28,-51z"/><path class="m" d="M838,507l29,72 28,98 -25,-106 -24,-84 -28,-53 -29,-35 25,47z"/>
<path color="#9fff6b" d="M785,412l29,34 -25,-47 -29,-21z"/><path color="#8eff66" d="M756,391l29,21 -25,-34 -29,-12z"/><path color="#94ff63" d="M810,457l28,50 -24,-61 -29,-34z"/><path color="#86ff60" d="M780,425l30,32 -25,-45 -29,-21z"/><path class="m" d="M780,425l30,32 28,50 -24,-61 -25,-47 -29,-21 -29,-12 25,25z"/>
<path color="#77ff5d" d="M726,380l30,11 -25,-25 -29,-6z"/><path color="#6aff73" d="M696,375l30,5 -24,-20 -30,-1z"/><path color="#74ff5b" d="M751,405l29,20 -24,-34 -30,-11z"/><path color="#6bff74" d="M721,395l30,10 -25,-25 -30,-5z"/><path class="m" d="M721,395l30,10 29,20 -24,-34 -25,-25 -29,-6 -30,-1 24,16z"/>
<path color="#94ffff" d="M666,375l30,0 -24,-16 -30,2z"/><path color="#89fbff" d="M635,377l31,-2 -24,-14 -31,5z"/><path color="#97ffff" d="M690,391l31,4 -25,-20 -30,0z"/><path color="#8cffff" d="M660,391l30,0 -24,-16 -31,2z"/><path class="m" d="M660,391l30,0 31,4 -25,-20 -24,-16 -30,2 -31,5 24,11z"/>
<path color="#71e7ff" d="M604,382l31,-5 -24,-11 -31,5z"/><path color="#5cd6ff" d="M573,387l31,-5 -24,-11 -31,6z"/><path color="#74ecff" d="M629,394l31,-3 -25,-14 -31,5z"/><path color="#5dd9ff" d="M597,398l32,-4 -25,-12 -31,5z"/><path class="m" d="M597,398l32,-4 31,-3 -25,-14 -24,-11 -31,5 -31,6 24,10z"/>
<path color="#47c5ff" d="M542,394l31,-7 -24,-10 -31,7z"/><path color="#8fbdff" d="M510,401l32,-7 -24,-10 -32,7z"/><path color="#48c7ff" d="M566,404l31,-6 -24,-11 -31,7z"/><path color="#90beff" d="M534,411l32,-7 -24,-10 -32,7z"/><path class="m" d="M534,411l32,-7 31,-6 -24,-11 -24,-10 -31,7 -32,7 24,10z"/>
<path color="#beadff" d="M477,408l33,-7 -24,-10 -32,8z"/><path color="#a796ff" d="M445,416l32,-8 -23,-9 -33,8z"/><path color="#bfaeff" d="M501,418l33,-7 -24,-10 -33,7z"/><path color="#a897ff" d="M469,426l32,-8 -24,-10 -32,8z"/><path class="m" d="M469,426l32,-8 33,-7 -24,-10 -24,-10 -32,8 -33,8 24,9z"/>
<path color="#907ffe" d="M412,424l33,-8 -24,-9 -33,8z"/><path color="#7968f8" d="M378,433l34,-9 -24,-9 -33,8z"/><path color="#9080ff" d="M436,434l33,-8 -24,-10 -33,8z"/><path color="#7969f8" d="M402,442l34,-8 -24,-10 -34,9z"/><path class="m" d="M402,442l34,-8 33,-8 -24,-10 -24,-9 -33,8 -33,8 23,10z"/>
<path color="#b277df" d="M345,441l33,-8 -23,-10 -34,8z"/><path color="#ff92b6" d="M310,449l35,-8 -24,-10 -34,9z"/><path color="#b277e0" d="M368,451l34,-9 -24,-9 -33,8z"/><path color="#ff92b6" d="M334,459l34,-8 -23,-10 -35,8z"/><path class="m" d="M334,459l34,-8 34,-9 -24,-9 -23,-10 -34,8 -34,9 23,9z"/>
<path color="#ff7a9d" d="M276,458l34,-9 -23,-9 -34,8z"/><path color="#ff6384" d="M241,467l35,-9 -23,-10 -35,9z"/><path color="#ff7b9d" d="M299,468l35,-9 -24,-10 -34,9z"/><path color="#ff6384" d="M264,477l35,-9 -23,-10 -35,9z"/><path class="m" d="M264,477l35,-9 35,-9 -24,-10 -23,-9 -34,8 -35,9 23,10z"/>
<path color="#fd4c6b" d="M205,476l36,-9 -23,-10 -36,9z"/><path color="#f83553" d="M170,485l35,-9 -23,-10 -35,9z"/><path color="#fe4c6b" d="M229,486l35,-9 -23,-10 -36,9z"/><path color="#f83553" d="M193,495l36,-9 -24,-10 -35,9z"/><path class="m" d="M193,495l36,-9 35,-9 -23,-10 -23,-10 -36,9 -35,9 23,10z"/>
<path color="#a47237" d="M1159,329l26,-30 -26,13 -26,39z"/><path color="#8c5b26" d="M1133,370l26,-41 -26,22 -26,55z"/><path color="#c08643" d="M1185,315l26,-22 -26,6 -26,30z"/><path color="#9f682d" d="M1159,346l26,-31 -26,14 -26,41z"/><path class="m" d="M1159,346l26,-31 26,-22 -26,6 -26,13 -26,39 -26,55 26,-36z"/>
<path color="#7e4d1b" d="M1106,427l27,-57 -26,36 -27,75z"/><path color="#744211" d="M1079,505l27,-78 -26,54 -27,100z"/><path color="#89541e" d="M1132,389l27,-43 -26,24 -27,57z"/><path color="#7c4613" d="M1105,449l27,-60 -26,38 -27,78z"/><path class="m" d="M1105,449l27,-60 27,-43 -26,24 -26,36 -27,75 -27,100 26,-76z"/>
<path color="#6d3909" d="M1052,609l27,-104 -26,76 -27,127z"/><path color="#6d5320" d="M1024,740l28,-131 -26,99 -27,149z"/><path color="#723c0a" d="M1078,531l27,-82 -26,56 -27,104z"/><path color="#705521" d="M1050,638l28,-107 -26,78 -28,131z"/><path class="m" d="M1050,638l28,-107 27,-82 -26,56 -26,76 -27,127 -27,149 25,-117z"/>
<path color="#6d672d" d="M997,892l27,-152 -25,117 -27,147z"/><path color="#777128" d="M970,1033l27,-141 -25,112 -25,-69z"/><path color="#6e692e" d="M1022,773l28,-135 -26,102 -27,152z"/><path color="#6c6624" d="M995,928l27,-155 -25,119 -27,141z"/><path class="m" d="M995,928l27,-155 28,-135 -26,102 -25,117 -27,147 -25,-69 23,98z"/>
<path color="#eadd41" d="M945,941l25,92 -23,-98 -26,-137z"/><path color="#ebdd2f" d="M919,804l26,137 -24,-143 -26,-121z"/><path color="#9a922b" d="M968,1057l27,-129 -25,105 -25,-92z"/><path color="#e8db2f" d="M942,947l26,110 -23,-116 -26,-137z"/><path class="m" d="M942,947l26,110 27,-129 -25,105 -23,-98 -26,-137 -26,-121 24,127z"/>
<path color="#cce53e" d="M891,684l28,120 -24,-127 -28,-98z"/><path color="#98f15f" d="M863,588l28,96 -24,-105 -29,-72z"/><path color="#c7df3c" d="M916,810l26,137 -23,-143 -28,-120z"/><path color="#92e85b" d="M888,691l28,119 -25,-126 -28,-96z"/><path class="m" d="M888,691l28,119 26,137 -23,-143 -24,-127 -28,-98 -29,-72 25,81z"/>
<path color="#8af95b" d="M835,518l28,70 -25,-81 -28,-50z"/><path color="#7dff58" d="M805,470l30,48 -25,-61 -30,-32z"/><path color="#83ed55" d="M860,597l28,94 -25,-103 -28,-70z"/><path color="#74f651" d="M830,529l30,68 -25,-79 -30,-48z"/><path class="m" d="M830,529l30,68 28,94 -25,-103 -25,-81 -28,-50 -30,-32 25,45z"/>
<path color="#6eff55" d="M776,439l29,31 -25,-45 -29,-20z"/><path color="#69ff72" d="M745,420l31,19 -25,-34 -30,-10z"/><path color="#66ff4e" d="M801,482l29,47 -25,-59 -29,-31z"/><path color="#63ff6c" d="M771,453l30,29 -25,-43 -31,-19z"/><path class="m" d="M771,453l30,29 29,47 -25,-59 -25,-45 -29,-20 -30,-10 24,25z"/>
<path color="#99ffff" d="M715,410l30,10 -24,-25 -31,-4z"/><path color="#8fffff" d="M684,407l31,3 -25,-19 -30,0z"/><path color="#98ffff" d="M740,435l31,18 -26,-33 -30,-10z"/><path color="#91ffff" d="M709,426l31,9 -25,-25 -31,-3z"/><path class="m" d="M709,426l31,9 31,18 -26,-33 -24,-25 -31,-4 -30,0 24,16z"/>
<path color="#77f1ff" d="M653,407l31,0 -24,-16 -31,3z"/><path color="#5fddff" d="M622,410l31,-3 -24,-13 -32,4z"/><path color="#7af7ff" d="M678,423l31,3 -25,-19 -31,0z"/><path color="#62e1ff" d="M647,424l31,-1 -25,-16 -31,3z"/><path class="m" d="M647,424l31,-1 31,3 -25,-19 -24,-16 -31,3 -32,4 25,12z"/>
<path color="#49caff" d="M590,415l32,-5 -25,-12 -31,6z"/><path color="#92c0ff" d="M558,421l32,-6 -24,-11 -32,7z"/><path color="#4bceff" d="M615,427l32,-3 -25,-14 -32,5z"/><path color="#94c3ff" d="M583,433l32,-6 -25,-12 -32,6z"/><path class="m" d="M583,433l32,-6 32,-3 -25,-14 -25,-12 -31,6 -32,7 24,10z"/>
<path color="#c0b0ff" d="M526,428l32,-7 -24,-10 -33,7z"/><path color="#a898ff" d="M493,436l33,-8 -25,-10 -32,8z"/><path color="#c2b1ff" d="M551,439l32,-6 -25,-12 -32,7z"/><path color="#aa99ff" d="M518,446l33,-7 -25,-11 -33,8z"/><path class="m" d="M518,446l33,-7 32,-6 -25,-12 -24,-10 -33,7 -32,8 24,10z"/>
<path color="#9180ff" d="M460,444l33,-8 -24,-10 -33,8z"/><path color="#7a69f9" d="M426,452l34,-8 -24,-10 -34,8z"/><path color="#9281ff" d="M484,454l34,-8 -25,-10 -33,8z"/><path color="#7a6afa" d="M451,462l33,-8 -24,-10 -34,8z"/><path class="m" d="M451,462l33,-8 34,-8 -25,-10 -24,-10 -33,8 -34,8 24,10z"/>
<path color="#b378e0" d="M392,461l34,-9 -24,-10 -34,9z"/><path color="#ff92b7" d="M358,469l34,-8 -24,-10 -34,8z"/><path color="#b378e1" d="M417,471l34,-9 -25,-10 -34,9z"/><path color="#ff93b7" d="M382,479l35,-8 -25,-10 -34,8z"/><path class="m" d="M382,479l35,-8 34,-9 -25,-10 -24,-10 -34,9 -34,8 24,10z"/>
<path color="#ff7b9e" d="M323,478l35,-9 -24,-10 -35,9z"/><path color="#ff6384" d="M288,487l35,-9 -24,-10 -35,9z"/><path color="#ff7b9e" d="M347,488l35,-9 -24,-10 -35,9z"/><path color="#ff6485" d="M312,497l35,-9 -24,-10 -35,9z"/><path class="m" d="M312,497l35,-9 35,-9 -24,-10 -24,-10 -35,9 -35,9 24,10z"/>
<path color="#fe4c6b" d="M252,496l36,-9 -24,-10 -35,9z"/><path color="#f83553" d="M216,505l36,-9 -23,-10 -36,9z"/><path color="#fe4c6c" d="M276,507l36,-10 -24,-10 -36,9z"/><path color="#f83553" d="M240,516l36,-9 -24,-11 -36,9z"/><path class="m" d="M240,516l36,-9 36,-10 -24,-10 -24,-10 -35,9 -36,9 23,10z"/>
<path color="#d8984d" d="M1211,308l26,-17 -26,2 -26,22z"/><path color="#bb7c37" d="M1185,332l26,-24 -26,7 -26,31z"/><path color="#eba656" d="M1237,306l26,-14 -26,-1 -26,17z"/><path color="#d38d40" d="M1211,325l26,-19 -26,2 -26,24z"/><path class="m" d="M1211,325l26,-19 26,-14 -26,-1 -26,2 -26,22 -26,31 26,-14z"/>
<path color="#9a5f23" d="M1158,364l27,-32 -26,14 -27,43z"/><path color="#864c15" d="M1131,409l27,-45 -26,25 -27,60z"/><path color="#b6712b" d="M1185,349l26,-24 -26,7 -27,32z"/><path color="#955619" d="M1158,383l27,-34 -27,15 -27,45z"/><path class="m" d="M1158,383l27,-34 26,-24 -26,7 -26,14 -27,43 -27,60 26,-40z"/>
<path color="#79400b" d="M1104,472l27,-63 -26,40 -27,82z"/><path color="#745922" d="M1076,557l28,-85 -26,59 -28,107z"/><path color="#83450d" d="M1131,430l27,-47 -27,26 -27,63z"/><path color="#7b5f25" d="M1103,495l28,-65 -27,42 -28,85z"/><path class="m" d="M1103,495l28,-65 27,-47 -27,26 -26,40 -27,82 -28,107 26,-81z"/>
<path color="#716c2f" d="M1048,668l28,-111 -26,81 -28,135z"/><path color="#6d6725" d="M1020,806l28,-138 -26,105 -27,155z"/><path color="#767031" d="M1075,583l28,-88 -27,62 -28,111z"/><path color="#706a26" d="M1047,699l28,-116 -27,85 -28,138z"/><path class="m" d="M1047,699l28,-116 28,-88 -27,62 -26,81 -28,135 -27,155 25,-122z"/>
<path color="#6b651c" d="M993,964l27,-158 -25,122 -27,129z"/><path color="#ffff4a" d="M966,1077l27,-113 -25,93 -26,-110z"/><path color="#6c661c" d="M1019,841l28,-142 -27,107 -27,158z"/><path color="#6a6413" d="M991,1001l28,-160 -26,123 -27,113z"/><path class="m" d="M991,1001l28,-160 28,-142 -27,107 -25,122 -27,129 -26,-110 24,130z"/>
<path color="#c5dc3b" d="M940,954l26,123 -24,-130 -26,-137z"/><path color="#8ee258" d="M913,817l27,137 -24,-144 -28,-119z"/><path color="#d9f343" d="M963,1092l28,-91 -25,76 -26,-123z"/><path color="#8cdf57" d="M937,960l26,132 -23,-138 -27,-137z"/><path class="m" d="M937,960l26,132 28,-91 -25,76 -24,-130 -26,-137 -28,-119 25,126z"/>
<path color="#7de451" d="M885,699l28,118 -25,-126 -28,-94z"/><path color="#6de94c" d="M856,607l29,92 -25,-102 -30,-68z"/><path color="#79de4f" d="M910,824l27,136 -24,-143 -28,-118z"/><path color="#68e048" d="M881,708l29,116 -25,-125 -29,-92z"/><path class="m" d="M881,708l29,116 27,136 -24,-143 -25,-126 -28,-94 -30,-68 26,78z"/>
<path color="#5ef347" d="M826,541l30,66 -26,-78 -29,-47z"/><path color="#5bff64" d="M796,496l30,45 -25,-59 -30,-29z"/><path color="#58e642" d="M852,618l29,90 -25,-101 -30,-66z"/><path color="#54f15c" d="M822,553l30,65 -26,-77 -30,-45z"/><path class="m" d="M822,553l30,65 29,90 -25,-101 -26,-78 -29,-47 -30,-29 25,43z"/>
<path color="#91ffff" d="M766,467l30,29 -25,-43 -31,-18z"/><path color="#90ffff" d="M735,450l31,17 -26,-32 -31,-9z"/><path color="#88ffff" d="M792,509l30,44 -26,-57 -30,-29z"/><path color="#8affff" d="M761,482l31,27 -26,-42 -31,-17z"/><path class="m" d="M761,482l31,27 30,44 -26,-57 -25,-43 -31,-18 -31,-9 26,24z"/>
<path color="#7cfbff" d="M704,442l31,8 -26,-24 -31,-3z"/><path color="#64e7ff" d="M672,440l32,2 -26,-19 -31,1z"/><path color="#7bfbff" d="M729,466l32,16 -26,-32 -31,-8z"/><path color="#66ebff" d="M698,459l31,7 -25,-24 -32,-2z"/><path class="m" d="M698,459l31,7 32,16 -26,-32 -26,-24 -31,-3 -31,1 25,16z"/>
<path color="#4dd2ff" d="M640,441l32,-1 -25,-16 -32,3z"/><path color="#97c6ff" d="M608,445l32,-4 -25,-14 -32,6z"/><path color="#4fd7ff" d="M666,457l32,2 -26,-19 -32,1z"/><path color="#9acaff" d="M634,459l32,-2 -26,-16 -32,4z"/><path class="m" d="M634,459l32,-2 32,2 -26,-19 -25,-16 -32,3 -32,6 25,12z"/>
<path color="#c5b3ff" d="M576,450l32,-5 -25,-12 -32,6z"/><path color="#ab9aff" d="M543,457l33,-7 -25,-11 -33,7z"/><path color="#c8b7ff" d="M601,463l33,-4 -26,-14 -32,5z"/><path color="#ad9cff" d="M568,469l33,-6 -25,-13 -33,7z"/><path class="m" d="M568,469l33,-6 33,-4 -26,-14 -25,-12 -32,6 -33,7 25,11z"/>
<path color="#9382ff" d="M509,465l34,-8 -25,-11 -34,8z"/><path color="#7b6afb" d="M476,473l33,-8 -25,-11 -33,8z"/><path color="#9483ff" d="M534,476l34,-7 -25,-12 -34,8z"/><path color="#7c6bfc" d="M501,483l33,-7 -25,-11 -33,8z"/><path class="m" d="M501,483l33,-7 34,-7 -25,-12 -25,-11 -34,8 -33,8 25,11z"/>
<path color="#b479e1" d="M441,481l35,-8 -25,-11 -34,9z"/><path color="#ff93b7" d="M407,490l34,-9 -24,-10 -35,8z"/><path color="#b479e2" d="M466,492l35,-9 -25,-10 -35,8z"/><path color="#ff94b8" d="M432,500l34,-8 -25,-11 -34,9z"/><path class="m" d="M432,500l34,-8 35,-9 -25,-10 -25,-11 -34,9 -35,8 25,11z"/>
<path color="#ff7b9e" d="M372,499l35,-9 -25,-11 -35,9z"/><path color="#ff6485" d="M337,508l35,-9 -25,-11 -35,9z"/><path color="#ff7c9e" d="M397,509l35,-9 -25,-10 -35,9z"/><path color="#ff6485" d="M361,519l36,-10 -25,-10 -35,9z"/><path class="m" d="M361,519l36,-10 35,-9 -25,-10 -25,-11 -35,9 -35,9 25,11z"/>
<path color="#fe4c6c" d="M301,517l36,-9 -25,-11 -36,10z"/><path color="#f83553" d="M264,527l37,-10 -25,-10 -36,9z"/><path color="#fe4d6c" d="M325,528l36,-9 -24,-11 -36,9z"/><path color="#f93654" d="M289,538l36,-10 -24,-11 -37,10z"/><path class="m" d="M289,538l36,-10 36,-9 -24,-11 -25,-11 -36,10 -36,9 24,11z"/>
<path color="#fdb45d" d="M1264,307l25,-12 -26,-3 -26,14z"/><path color="#e69b48" d="M1238,322l26,-15 -27,-1 -26,19z"/><path color="#ffbc62" d="M1291,310l25,-10 -27,-5 -25,12z"/><path color="#f9a84f" d="M1265,323l26,-13 -27,-3 -26,15z"/><path class="m" d="M1265,323l26,-13 25,-10 -27,-5 -26,-3 -26,14 -26,19 27,-3z"/>
<path color="#cf8234" d="M1212,341l26,-19 -27,3 -26,24z"/><path color="#b16720" d="M1185,367l27,-26 -27,8 -27,34z"/><path color="#e28f3b" d="M1238,338l27,-15 -27,-1 -26,19z"/><path color="#ca7727" d="M1212,358l26,-20 -26,3 -27,26z"/><path class="m" d="M1212,358l26,-20 27,-15 -27,-1 -27,3 -26,24 -27,34 27,-16z"/>
<path color="#914d10" d="M1158,402l27,-35 -27,16 -27,47z"/><path color="#856628" d="M1130,451l28,-49 -27,28 -28,65z"/><path color="#ac5d15" d="M1185,385l27,-27 -27,9 -27,35z"/><path color="#91702d" d="M1157,422l28,-37 -27,17 -28,49z"/><path class="m" d="M1157,422l28,-37 27,-27 -27,9 -27,16 -27,47 -28,65 27,-44z"/>
<path color="#7d7734" d="M1102,519l28,-68 -27,44 -28,88z"/><path color="#746e27" d="M1074,611l28,-92 -27,64 -28,116z"/><path color="#868038" d="M1129,473l28,-51 -27,29 -28,68z"/><path color="#7b742a" d="M1101,544l28,-71 -27,46 -28,92z"/><path class="m" d="M1101,544l28,-71 28,-51 -27,29 -27,44 -28,88 -28,116 27,-88z"/>
<path color="#6f681d" d="M1045,730l29,-119 -27,88 -28,142z"/><path color="#6b6413" d="M1017,876l28,-146 -26,111 -28,160z"/><path color="#736c1e" d="M1072,640l29,-96 -27,67 -29,119z"/><path color="#6d6713" d="M1044,763l28,-123 -27,90 -28,146z"/><path class="m" d="M1044,763l28,-123 29,-96 -27,67 -27,88 -28,142 -28,160 26,-125z"/>
<path color="#596419" d="M988,1038l29,-162 -26,125 -28,91z"/><path color="#92e85b" d="M961,1105l27,-67 -25,54 -26,-132z"/><path color="#5a6519" d="M1015,912l29,-149 -27,113 -29,162z"/><path color="#3f6626" d="M986,1076l29,-164 -27,126 -27,67z"/><path class="m" d="M986,1076l29,-164 29,-149 -27,113 -26,125 -28,91 -26,-132 24,145z"/>
<path color="#77db4d" d="M934,967l27,138 -24,-145 -27,-136z"/><path color="#65da45" d="M907,831l27,136 -24,-143 -29,-116z"/><path color="#7adf4f" d="M959,1116l27,-40 -25,29 -27,-138z"/><path color="#63d644" d="M932,974l27,142 -25,-149 -27,-136z"/><path class="m" d="M932,974l27,142 27,-40 -25,29 -24,-145 -27,-136 -29,-116 26,123z"/>
<path color="#53dc3e" d="M878,716l29,115 -26,-123 -29,-90z"/><path color="#4ee455" d="M848,629l30,87 -26,-98 -30,-65z"/><path color="#50d63c" d="M903,839l29,135 -25,-143 -29,-115z"/><path color="#4ada51" d="M874,726l29,113 -25,-123 -30,-87z"/><path class="m" d="M874,726l29,113 29,135 -25,-143 -26,-123 -29,-90 -30,-65 26,76z"/>
<path color="#7ef0f0" d="M818,566l30,63 -26,-76 -30,-44z"/><path color="#81f4ff" d="M787,524l31,42 -26,-57 -31,-27z"/><path color="#76e3e3" d="M844,640l30,86 -26,-97 -30,-63z"/><path color="#78e5ff" d="M813,579l31,61 -26,-74 -31,-42z"/><path class="m" d="M813,579l31,61 30,86 -26,-97 -26,-76 -30,-44 -31,-27 26,42z"/>
<path color="#76f4ff" d="M756,498l31,26 -26,-42 -32,-16z"/><path color="#65ebff" d="M724,483l32,15 -27,-32 -31,-7z"/><path color="#6ee7ff" d="M782,538l31,41 -26,-55 -31,-26z"/><path color="#61e5ff" d="M750,514l32,24 -26,-40 -32,-15z"/><path class="m" d="M750,514l32,24 31,41 -26,-55 -26,-42 -32,-16 -31,-7 26,24z"/>
<path color="#50dbff" d="M692,476l32,7 -26,-24 -32,-2z"/><path color="#9ecfff" d="M659,474l33,2 -26,-19 -32,2z"/><path color="#50dcff" d="M718,500l32,14 -26,-31 -32,-7z"/><path color="#a1d3ff" d="M686,494l32,6 -26,-24 -33,-2z"/><path class="m" d="M686,494l32,6 32,14 -26,-31 -26,-24 -32,-2 -32,2 25,15z"/>
<path color="#ccbbff" d="M627,477l32,-3 -25,-15 -33,4z"/><path color="#b09fff" d="M594,481l33,-4 -26,-14 -33,6z"/><path color="#d1bfff" d="M653,493l33,1 -27,-20 -32,3z"/><path color="#b4a2ff" d="M620,495l33,-2 -26,-16 -33,4z"/><path class="m" d="M620,495l33,-2 33,1 -27,-20 -25,-15 -33,4 -33,6 26,12z"/>
<path color="#9685ff" d="M560,487l34,-6 -26,-12 -34,7z"/><path color="#7d6cfe" d="M526,495l34,-8 -26,-11 -33,7z"/><path color="#9887ff" d="M586,500l34,-5 -26,-14 -34,6z"/><path color="#7f6dff" d="M552,507l34,-7 -26,-13 -34,8z"/><path class="m" d="M552,507l34,-7 34,-5 -26,-14 -26,-12 -34,7 -33,7 25,12z"/>
<path color="#b57ae3" d="M492,503l34,-8 -25,-12 -35,9z"/><path color="#ff94b9" d="M457,511l35,-8 -26,-11 -34,8z"/><path color="#b77be5" d="M518,514l34,-7 -26,-12 -34,8z"/><path color="#ff95ba" d="M483,523l35,-9 -26,-11 -35,8z"/><path class="m" d="M483,523l35,-9 34,-7 -26,-12 -25,-12 -35,9 -34,8 25,11z"/>
<path color="#ff7c9f" d="M422,520l35,-9 -25,-11 -35,9z"/><path color="#ff6486" d="M386,530l36,-10 -25,-11 -36,10z"/><path color="#ff7da0" d="M448,531l35,-8 -26,-12 -35,9z"/><path color="#ff6586" d="M412,541l36,-10 -26,-11 -36,10z"/><path class="m" d="M412,541l36,-10 35,-8 -26,-12 -25,-11 -35,9 -36,10 25,11z"/>
<path color="#ff4d6c" d="M350,539l36,-9 -25,-11 -36,9z"/><path color="#f93654" d="M314,549l36,-10 -25,-11 -36,10z"/><path color="#ff4d6d" d="M376,550l36,-9 -26,-11 -36,9z"/><path color="#f93654" d="M339,560l37,-10 -26,-11 -36,10z"/><path class="m" d="M339,560l37,-10 36,-9 -26,-11 -25,-11 -36,9 -36,10 25,11z"/>
<path color="#ffc265" d="M1318,315l25,-9 -27,-6 -25,10z"/><path color="#ffb054" d="M1292,326l26,-11 -27,-5 -26,13z"/><path color="#ffc667" d="M1345,321l26,-9 -28,-6 -25,9z"/><path color="#ffb657" d="M1319,331l26,-10 -27,-6 -26,11z"/><path class="m" d="M1319,331l26,-10 26,-9 -28,-6 -27,-6 -25,10 -26,13 27,3z"/>
<path color="#f59c41" d="M1266,339l26,-13 -27,-3 -27,15z"/><path color="#dd832d" d="M1239,355l27,-16 -28,-1 -26,20z"/><path color="#ffa445" d="M1293,342l26,-11 -27,-5 -26,13z"/><path color="#f19033" d="M1267,355l26,-13 -27,-3 -27,16z"/><path class="m" d="M1267,355l26,-13 26,-11 -27,-5 -27,-3 -27,15 -26,20 27,-3z"/>
<path color="#c66c1b" d="M1212,376l27,-21 -27,3 -27,27z"/><path color="#ad8637" d="M1185,404l27,-28 -27,9 -28,37z"/><path color="#d97820" d="M1240,372l27,-17 -28,0 -27,21z"/><path color="#c89b42" d="M1213,393l27,-21 -28,4 -27,28z"/><path class="m" d="M1213,393l27,-21 27,-17 -28,0 -27,3 -27,27 -28,37 28,-18z"/>
<path color="#928b3e" d="M1157,442l28,-38 -28,18 -28,51z"/><path color="#847d2d" d="M1129,496l28,-54 -28,31 -28,71z"/><path color="#ada54b" d="M1185,423l28,-30 -28,11 -28,38z"/><path color="#908832" d="M1157,463l28,-40 -28,19 -28,54z"/><path class="m" d="M1157,463l28,-40 28,-30 -28,11 -28,18 -28,51 -28,71 28,-48z"/>
<path color="#797220" d="M1100,570l29,-74 -28,48 -29,96z"/><path color="#716a14" d="M1071,669l29,-99 -28,70 -28,123z"/><path color="#827b22" d="M1128,519l29,-56 -28,33 -29,74z"/><path color="#777016" d="M1099,596l29,-77 -28,51 -29,99z"/><path class="m" d="M1099,596l29,-77 29,-56 -28,33 -28,48 -29,96 -28,123 27,-94z"/>
<path color="#5c6719" d="M1042,797l29,-128 -27,94 -29,149z"/><path color="#3f6626" d="M1013,950l29,-153 -27,115 -29,164z"/><path color="#5f6b1a" d="M1070,699l29,-103 -28,73 -29,128z"/><path color="#406827" d="M1040,831l30,-132 -28,98 -29,153z"/><path class="m" d="M1040,831l30,-132 29,-103 -28,73 -27,94 -29,149 -29,164 27,-126z"/>
<path color="#356421" d="M984,1115l29,-165 -27,126 -27,40z"/><path color="#64d844" d="M956,1126l28,-11 -25,1 -27,-142z"/><path color="#356421" d="M1011,988l29,-157 -27,119 -29,165z"/><path color="#2c621d" d="M981,1153l30,-165 -27,127 -28,11z"/><path class="m" d="M981,1153l30,-165 29,-157 -27,119 -27,126 -27,40 -27,-142 24,152z"/>
<path color="#4ed23a" d="M929,982l27,144 -24,-152 -29,-135z"/><path color="#47d34e" d="M900,847l29,135 -26,-143 -29,-113z"/><path color="#4fd23a" d="M954,1136l27,17 -25,-27 -27,-144z"/><path color="#45cf4c" d="M926,990l28,146 -25,-154 -29,-135z"/><path class="m" d="M926,990l28,146 27,17 -25,-27 -24,-152 -29,-135 -29,-113 26,121z"/>
<path color="#70d9d9" d="M870,736l30,111 -26,-121 -30,-86z"/><path color="#70d8ff" d="M840,652l30,84 -26,-96 -31,-61z"/><path color="#6cd2d2" d="M897,856l29,134 -26,-143 -30,-111z"/><path color="#6acef4" d="M867,747l30,109 -27,-120 -30,-84z"/><path class="m" d="M867,747l30,109 29,134 -26,-143 -26,-121 -30,-86 -31,-61 27,73z"/>
<path color="#65d9ff" d="M809,593l31,59 -27,-73 -31,-41z"/><path color="#5adaff" d="M777,554l32,39 -27,-55 -32,-24z"/><path color="#5eccff" d="M836,665l31,82 -27,-95 -31,-59z"/><path color="#52ccff" d="M804,607l32,58 -27,-72 -32,-39z"/><path class="m" d="M804,607l32,58 31,82 -27,-95 -27,-73 -31,-41 -32,-24 27,40z"/>
<path color="#4cd7ff" d="M745,530l32,24 -27,-40 -32,-14z"/><path color="#a2d5ff" d="M712,517l33,13 -27,-30 -32,-6z"/><path color="#46ccff" d="M772,570l32,37 -27,-53 -32,-24z"/><path color="#9ed0ff" d="M739,547l33,23 -27,-40 -33,-13z"/><path class="m" d="M739,547l33,23 32,37 -27,-53 -27,-40 -32,-14 -32,-6 26,23z"/>
<path color="#d6c3ff" d="M679,512l33,5 -26,-23 -33,-1z"/><path color="#b8a6ff" d="M646,511l33,1 -26,-19 -33,2z"/><path color="#d7c5ff" d="M706,535l33,12 -27,-30 -33,-5z"/><path color="#bcaaff" d="M673,530l33,5 -27,-23 -33,-1z"/><path class="m" d="M673,530l33,5 33,12 -27,-30 -26,-23 -33,-1 -33,2 26,16z"/>
<path color="#9c8aff" d="M612,514l34,-3 -26,-16 -34,5z"/><path color="#816fff" d="M578,520l34,-6 -26,-14 -34,7z"/><path color="#a08eff" d="M639,530l34,0 -27,-19 -34,3z"/><path color="#8472ff" d="M605,534l34,-4 -27,-16 -34,6z"/><path class="m" d="M605,534l34,-4 34,0 -27,-19 -26,-16 -34,5 -34,7 26,13z"/>
<path color="#b97de8" d="M544,526l34,-6 -26,-13 -34,7z"/><path color="#ff96bb" d="M509,534l35,-8 -26,-12 -35,9z"/><path color="#bc7feb" d="M570,540l35,-6 -27,-14 -34,6z"/><path color="#ff98bd" d="M535,547l35,-7 -26,-14 -35,8z"/><path class="m" d="M535,547l35,-7 35,-6 -27,-14 -26,-13 -34,7 -35,9 26,11z"/>
<path color="#ff7ea1" d="M474,543l35,-9 -26,-11 -35,8z"/><path color="#ff6587" d="M438,552l36,-9 -26,-12 -36,10z"/><path color="#ff7fa2" d="M500,555l35,-8 -26,-13 -35,9z"/><path color="#ff6687" d="M464,564l36,-9 -26,-12 -36,9z"/><path class="m" d="M464,564l36,-9 35,-8 -26,-13 -26,-11 -35,8 -36,10 26,11z"/>
<path color="#ff4d6d" d="M402,562l36,-10 -26,-11 -36,9z"/><path color="#fa3654" d="M365,571l37,-9 -26,-12 -37,10z"/><path color="#ff4e6e" d="M428,573l36,-9 -26,-12 -36,10z"/><path color="#fa3755" d="M391,583l37,-10 -26,-11 -37,9z"/><path class="m" d="M391,583l37,-10 36,-9 -26,-12 -26,-11 -36,9 -37,10 26,11z"/>
<path color="#ffc869" d="M1373,327l26,-8 -28,-7 -26,9z"/><path color="#ffba59" d="M1347,336l26,-9 -28,-6 -26,10z"/><path color="#ffca6a" d="M1401,335l26,-8 -28,-8 -26,8z"/><path color="#ffbc5a" d="M1375,343l26,-8 -28,-8 -26,9z"/><path class="m" d="M1375,343l26,-8 26,-8 -28,-8 -28,-7 -26,9 -26,10 28,5z"/>
<path color="#ffaa48" d="M1321,346l26,-10 -28,-5 -26,11z"/><path color="#fe9837" d="M1295,358l26,-12 -28,-4 -26,13z"/><path color="#ffae4a" d="M1349,352l26,-9 -28,-7 -26,10z"/><path color="#ff9e39" d="M1323,363l26,-11 -28,-6 -26,12z"/><path class="m" d="M1323,363l26,-11 26,-9 -28,-7 -28,-5 -26,11 -26,13 28,3z"/>
<path color="#ed8425" d="M1268,372l27,-14 -28,-3 -27,17z"/><path color="#dcac4b" d="M1241,389l27,-17 -28,0 -27,21z"/><path color="#fb8c28" d="M1296,375l27,-12 -28,-5 -27,14z"/><path color="#f0bc53" d="M1269,389l27,-14 -28,-3 -27,17z"/><path class="m" d="M1269,389l27,-14 27,-12 -28,-5 -28,-3 -27,17 -27,21 28,-4z"/>
<path color="#c8bf59" d="M1213,412l28,-23 -28,4 -28,30z"/><path color="#a8a03d" d="M1185,443l28,-31 -28,11 -28,40z"/><path color="#ded464" d="M1241,407l28,-18 -28,0 -28,23z"/><path color="#c4ba49" d="M1213,431l28,-24 -28,5 -28,31z"/><path class="m" d="M1213,431l28,-24 28,-18 -28,0 -28,4 -28,30 -28,40 28,-20z"/>
<path color="#8d8526" d="M1156,485l29,-42 -28,20 -29,56z"/><path color="#807818" d="M1127,543l29,-58 -28,34 -29,77z"/><path color="#a49b2e" d="M1185,463l28,-32 -28,12 -29,42z"/><path color="#8b821b" d="M1156,507l29,-44 -29,22 -29,58z"/><path class="m" d="M1156,507l29,-44 28,-32 -28,12 -28,20 -29,56 -29,77 28,-53z"/>
<path color="#64701c" d="M1098,624l29,-81 -28,53 -29,103z"/><path color="#426b28" d="M1068,731l30,-107 -28,75 -30,132z"/><path color="#6b781e" d="M1127,568l29,-61 -29,36 -29,81z"/><path color="#46712a" d="M1097,652l30,-84 -29,56 -30,107z"/><path class="m" d="M1097,652l30,-84 29,-61 -29,36 -28,53 -29,103 -30,132 28,-100z"/>
<path color="#366622" d="M1038,867l30,-136 -28,100 -29,157z"/><path color="#2b611d" d="M1008,1027l30,-160 -27,121 -30,165z"/><path color="#386923" d="M1067,763l30,-111 -29,79 -30,136z"/><path color="#2c631d" d="M1036,903l31,-140 -29,104 -30,160z"/><path class="m" d="M1036,903l31,-140 30,-111 -29,79 -28,100 -29,157 -30,165 27,-126z"/>
<path color="#226119" d="M979,1191l29,-164 -27,126 -27,-17z"/><path color="#45cf4c" d="M951,1145l28,46 -25,-55 -28,-146z"/><path color="#225f18" d="M1006,1067l30,-164 -28,124 -29,164z"/><path color="#1e6222" d="M977,1228l29,-161 -27,124 -28,-46z"/><path class="m" d="M977,1228l29,-161 30,-164 -28,124 -27,126 -27,-17 -28,-146 25,155z"/>
<path color="#69cece" d="M923,998l28,147 -25,-155 -29,-134z"/><path color="#66c7ec" d="M893,865l30,133 -26,-142 -30,-109z"/><path color="#69cccc" d="M949,1155l28,73 -26,-83 -28,-147z"/><path color="#63c3e7" d="M920,1007l29,148 -26,-157 -30,-133z"/><path class="m" d="M920,1007l29,148 28,73 -26,-83 -25,-155 -29,-134 -30,-109 26,118z"/>
<path color="#58c2f3" d="M863,758l30,107 -26,-118 -31,-82z"/><path color="#4bc0fe" d="M831,678l32,80 -27,-93 -32,-58z"/><path color="#55bbeb" d="M890,875l30,132 -27,-142 -30,-107z"/><path color="#47b6f2" d="M859,770l31,105 -27,-117 -32,-80z"/><path class="m" d="M859,770l31,105 30,132 -27,-142 -26,-118 -31,-82 -32,-58 27,71z"/>
<path color="#3fbfff" d="M799,622l32,56 -27,-71 -32,-37z"/><path color="#95c6ff" d="M767,586l32,36 -27,-52 -33,-23z"/><path color="#39b3fd" d="M827,692l32,78 -28,-92 -32,-56z"/><path color="#8bb9ff" d="M794,638l33,54 -28,-70 -32,-36z"/><path class="m" d="M794,638l33,54 32,78 -28,-92 -27,-71 -32,-37 -33,-23 28,39z"/>
<path color="#d4c1ff" d="M733,565l34,21 -28,-39 -33,-12z"/><path color="#beacff" d="M700,554l33,11 -27,-30 -33,-5z"/><path color="#cab8ff" d="M761,603l33,35 -27,-52 -34,-21z"/><path color="#bba8ff" d="M728,583l33,20 -28,-38 -33,-11z"/><path class="m" d="M728,583l33,20 33,35 -27,-52 -28,-39 -33,-12 -33,-5 27,24z"/>
<path color="#a391ff" d="M666,549l34,5 -27,-24 -34,0z"/><path color="#8775ff" d="M632,550l34,-1 -27,-19 -34,4z"/><path color="#a592ff" d="M694,573l34,10 -28,-29 -34,-5z"/><path color="#8a78ff" d="M659,569l35,4 -28,-24 -34,1z"/><path class="m" d="M659,569l35,4 34,10 -28,-29 -27,-24 -34,0 -34,4 27,16z"/>
<path color="#c082f0" d="M597,554l35,-4 -27,-16 -35,6z"/><path color="#ff9bc0" d="M562,560l35,-6 -27,-14 -35,7z"/><path color="#c485f5" d="M624,570l35,-1 -27,-19 -35,4z"/><path color="#ff9ec4" d="M589,575l35,-5 -27,-16 -35,6z"/><path class="m" d="M589,575l35,-5 35,-1 -27,-19 -27,-16 -35,6 -35,7 27,13z"/>
<path color="#ff80a4" d="M527,568l35,-8 -27,-13 -35,8z"/><path color="#ff6789" d="M491,576l36,-8 -27,-13 -36,9z"/><path color="#ff82a6" d="M554,581l35,-6 -27,-15 -35,8z"/><path color="#ff688a" d="M518,589l36,-8 -27,-13 -36,8z"/><path class="m" d="M518,589l36,-8 35,-6 -27,-15 -27,-13 -35,8 -36,9 27,12z"/>
<path color="#ff4f6e" d="M454,585l37,-9 -27,-12 -36,9z"/><path color="#fb3755" d="M417,595l37,-10 -26,-12 -37,10z"/><path color="#ff4f6f" d="M481,598l37,-9 -27,-13 -37,9z"/><path color="#fc3856" d="M444,608l37,-10 -27,-13 -37,10z"/><path class="m" d="M444,608l37,-10 37,-9 -27,-13 -27,-12 -36,9 -37,10 26,12z"/>
<path color="#ffcb6b" d="M1429,342l26,-8 -28,-7 -26,8z"/><path color="#ffbe5b" d="M1404,350l25,-8 -28,-7 -26,8z"/><path color="#ffcc6b" d="M1458,350l26,-8 -29,-8 -26,8z"/><path color="#ffbf5c" d="M1432,358l26,-8 -29,-8 -25,8z"/><path class="m" d="M1432,358l26,-8 26,-8 -29,-8 -28,-7 -26,8 -26,8 29,7z"/>
<path color="#ffb04b" d="M1378,359l26,-9 -29,-7 -26,9z"/><path color="#ffa13b" d="M1351,369l27,-10 -29,-7 -26,11z"/><path color="#ffb24c" d="M1406,367l26,-9 -28,-8 -26,9z"/><path color="#ffa43c" d="M1380,376l26,-9 -28,-8 -27,10z"/><path class="m" d="M1380,376l26,-9 26,-9 -28,-8 -29,-7 -26,9 -26,11 28,6z"/>
<path color="#ff922a" d="M1324,379l27,-10 -28,-6 -27,12z"/><path color="#ffc859" d="M1297,392l27,-13 -28,-4 -27,14z"/><path color="#ff952c" d="M1353,385l27,-9 -29,-7 -27,10z"/><path color="#ffd05d" d="M1326,396l27,-11 -29,-6 -27,13z"/><path class="m" d="M1326,396l27,-11 27,-9 -29,-7 -28,-6 -27,12 -27,14 28,3z"/>
<path color="#f2e76f" d="M1270,407l27,-15 -28,-3 -28,18z"/><path color="#dad053" d="M1242,425l28,-18 -29,0 -28,24z"/><path color="#fff777" d="M1299,409l27,-13 -29,-4 -27,15z"/><path color="#eee35c" d="M1271,425l28,-16 -29,-2 -28,18z"/><path class="m" d="M1271,425l28,-16 27,-13 -29,-4 -28,-3 -28,18 -28,24 29,-6z"/>
<path color="#c0b539" d="M1214,450l28,-25 -29,6 -28,32z"/><path color="#a09621" d="M1185,484l29,-34 -29,13 -29,44z"/><path color="#d7cb42" d="M1243,444l28,-19 -29,0 -28,25z"/><path color="#bbb129" d="M1214,470l29,-26 -29,6 -29,34z"/><path class="m" d="M1214,470l29,-26 28,-19 -29,0 -29,6 -28,32 -29,44 29,-23z"/>
<path color="#748222" d="M1156,530l29,-46 -29,23 -29,61z"/><path color="#4a782d" d="M1126,594l30,-64 -29,38 -30,84z"/><path color="#859528" d="M1185,505l29,-35 -29,14 -29,46z"/><path color="#518232" d="M1155,554l30,-49 -29,25 -30,64z"/><path class="m" d="M1155,554l30,-49 29,-35 -29,14 -29,23 -29,61 -30,84 29,-58z"/>
<path color="#3a6e25" d="M1096,681l30,-87 -29,58 -30,111z"/><path color="#2d661e" d="M1065,796l31,-115 -29,82 -31,140z"/><path color="#3f7528" d="M1125,620l30,-66 -29,40 -30,87z"/><path color="#306b20" d="M1095,711l30,-91 -29,61 -31,115z"/><path class="m" d="M1095,711l30,-91 30,-66 -29,40 -29,58 -30,111 -31,140 29,-107z"/>
<path color="#226118" d="M1035,941l30,-145 -29,107 -30,164z"/><path color="#1d5e20" d="M1004,1108l31,-167 -29,126 -29,161z"/><path color="#236419" d="M1064,831l31,-120 -30,85 -30,145z"/><path color="#1d5f21" d="M1033,979l31,-148 -29,110 -31,167z"/><path class="m" d="M1033,979l31,-148 31,-120 -30,85 -29,107 -30,164 -29,161 27,-120z"/>
<path color="#336767" d="M974,1263l30,-155 -27,120 -28,-73z"/><path color="#62c1e5" d="M946,1165l28,98 -25,-108 -29,-148z"/><path color="#2e5d5d" d="M1002,1150l31,-171 -29,129 -30,155z"/><path color="#418097" d="M972,1293l30,-143 -28,113 -28,-98z"/><path class="m" d="M972,1293l30,-143 31,-171 -29,129 -27,120 -28,-73 -29,-148 26,158z"/>
<path color="#52b7e5" d="M917,1016l29,149 -26,-158 -30,-132z"/><path color="#43afe9" d="M886,886l31,130 -27,-141 -31,-105z"/><path color="#51b5e3" d="M943,1175l29,118 -26,-128 -29,-149z"/><path color="#41abe4" d="M913,1026l30,149 -26,-159 -31,-130z"/><path class="m" d="M913,1026l30,149 29,118 -26,-128 -26,-158 -30,-132 -31,-105 27,116z"/>
<path color="#35aaf1" d="M855,782l31,104 -27,-116 -32,-78z"/><path color="#81aeff" d="M822,706l33,76 -28,-90 -33,-54z"/><path color="#32a3e8" d="M883,897l30,129 -27,-140 -31,-104z"/><path color="#7aa4f2" d="M850,795l33,102 -28,-115 -33,-76z"/><path class="m" d="M850,795l33,102 30,129 -27,-140 -27,-116 -32,-78 -33,-54 28,68z"/>
<path color="#bdacff" d="M789,654l33,52 -28,-68 -33,-35z"/><path color="#b3a0ff" d="M756,621l33,33 -28,-51 -33,-20z"/><path color="#b1a0fe" d="M818,721l32,74 -28,-89 -33,-52z"/><path color="#a796ff" d="M784,671l34,50 -29,-67 -33,-33z"/><path class="m" d="M784,671l34,50 32,74 -28,-89 -28,-68 -33,-35 -33,-20 28,38z"/>
<path color="#a390ff" d="M722,602l34,19 -28,-38 -34,-10z"/><path color="#8c79ff" d="M687,592l35,10 -28,-29 -35,-4z"/><path color="#9b89ff" d="M750,639l34,32 -28,-50 -34,-19z"/><path color="#8a77ff" d="M715,621l35,18 -28,-37 -35,-10z"/><path class="m" d="M715,621l35,18 34,32 -28,-50 -28,-38 -34,-10 -35,-4 28,23z"/>
<path color="#c988fb" d="M652,589l35,3 -28,-23 -35,1z"/><path color="#ffa2c8" d="M617,591l35,-2 -28,-19 -35,5z"/><path color="#cc8aff" d="M680,612l35,9 -28,-29 -35,-3z"/><path color="#ffa6cd" d="M645,610l35,2 -28,-23 -35,2z"/><path class="m" d="M645,610l35,2 35,9 -28,-29 -28,-23 -35,1 -35,5 28,16z"/>
<path color="#ff85a9" d="M581,596l36,-5 -28,-16 -35,6z"/><path color="#ff6a8c" d="M545,603l36,-7 -27,-15 -36,8z"/><path color="#ff88ad" d="M609,613l36,-3 -28,-19 -36,5z"/><path color="#ff6c8f" d="M573,618l36,-5 -28,-17 -36,7z"/><path class="m" d="M573,618l36,-5 36,-3 -28,-19 -28,-16 -35,6 -36,8 27,14z"/>
<path color="#ff5071" d="M508,611l37,-8 -27,-14 -37,9z"/><path color="#fe3857" d="M471,620l37,-9 -27,-13 -37,10z"/><path color="#ff5272" d="M536,625l37,-7 -28,-15 -37,8z"/><path color="#ff3958" d="M499,634l37,-9 -28,-14 -37,9z"/><path class="m" d="M499,634l37,-9 37,-7 -28,-15 -27,-14 -37,9 -37,10 27,12z"/>
<path color="#ffcc6b" d="M1487,358l26,-7 -29,-9 -26,8z"/><path color="#ffc05c" d="M1462,366l25,-8 -29,-8 -26,8z"/><path color="#ffcd6c" d="M1517,367l25,-8 -29,-8 -26,7z"/><path color="#ffc05c" d="M1491,375l26,-8 -30,-9 -25,8z"/><path class="m" d="M1491,375l26,-8 25,-8 -29,-8 -29,-9 -26,8 -26,8 30,8z"/>
<path color="#ffb34c" d="M1435,375l27,-9 -30,-8 -26,9z"/><path color="#ffa53c" d="M1409,383l26,-8 -29,-8 -26,9z"/><path color="#ffb34d" d="M1465,383l26,-8 -29,-9 -27,9z"/><path color="#ffa63d" d="M1439,391l26,-8 -30,-8 -26,8z"/><path class="m" d="M1439,391l26,-8 26,-8 -29,-9 -30,-8 -26,9 -26,9 29,7z"/>
<path color="#ff982d" d="M1382,393l27,-10 -29,-7 -27,9z"/><path color="#ffd560" d="M1355,403l27,-10 -29,-8 -27,11z"/><path color="#ff992d" d="M1412,400l27,-9 -30,-8 -27,10z"/><path color="#ffd861" d="M1385,410l27,-10 -30,-7 -27,10z"/><path class="m" d="M1385,410l27,-10 27,-9 -30,-8 -29,-7 -27,9 -27,11 29,7z"/>
<path color="#ffff7c" d="M1328,414l27,-11 -29,-7 -27,13z"/><path color="#fff363" d="M1300,427l28,-13 -29,-5 -28,16z"/><path color="#ffff7f" d="M1357,420l28,-10 -30,-7 -27,11z"/><path color="#fffd68" d="M1330,432l27,-12 -29,-6 -28,13z"/><path class="m" d="M1330,432l27,-12 28,-10 -30,-7 -29,-7 -27,13 -28,16 29,2z"/>
<path color="#eade4a" d="M1272,443l28,-16 -29,-2 -28,19z"/><path color="#d3c731" d="M1243,464l29,-21 -29,1 -29,26z"/><path color="#fcef50" d="M1302,446l28,-14 -30,-5 -28,16z"/><path color="#e6da37" d="M1273,462l29,-16 -30,-3 -29,21z"/><path class="m" d="M1273,462l29,-16 28,-14 -30,-5 -29,-2 -28,19 -29,26 29,-6z"/>
<path color="#9daf32" d="M1214,491l29,-27 -29,6 -29,35z"/><path color="#5d9339" d="M1185,527l29,-36 -29,14 -30,49z"/><path color="#b2c63b" d="M1244,484l29,-22 -30,2 -29,27z"/><path color="#6fae46" d="M1215,512l29,-28 -30,7 -29,36z"/><path class="m" d="M1215,512l29,-28 29,-22 -30,2 -29,6 -29,35 -30,49 30,-27z"/>
<path color="#447f2c" d="M1155,578l30,-51 -30,27 -30,66z"/><path color="#337122" d="M1124,648l31,-70 -30,42 -30,91z"/><path color="#4d8d32" d="M1185,550l30,-38 -30,15 -30,51z"/><path color="#387b25" d="M1154,603l31,-53 -30,28 -31,70z"/><path class="m" d="M1154,603l31,-53 30,-38 -30,15 -30,27 -30,66 -30,91 29,-63z"/>
<path color="#25681a" d="M1093,743l31,-95 -29,63 -31,120z"/><path color="#1e6222" d="M1062,866l31,-123 -29,88 -31,148z"/><path color="#276e1c" d="M1123,676l31,-73 -30,45 -31,95z"/><path color="#206623" d="M1092,775l31,-99 -30,67 -31,123z"/><path class="m" d="M1092,775l31,-99 31,-73 -30,45 -29,63 -31,120 -31,148 29,-113z"/>
<path color="#2f5e5e" d="M1031,1019l31,-153 -29,113 -31,171z"/><path color="#2b5868" d="M999,1193l32,-174 -29,131 -30,143z"/><path color="#306060" d="M1060,903l32,-128 -30,91 -31,153z"/><path color="#2b5969" d="M1029,1060l31,-157 -29,116 -32,174z"/><path class="m" d="M1029,1060l31,-157 32,-128 -30,91 -29,113 -31,171 -30,143 27,-100z"/>
<path color="#77f3ff" d="M969,1318l30,-125 -27,100 -29,-118z"/><path color="#40a9e1" d="M940,1185l29,133 -26,-143 -30,-149z"/><path color="#235267" d="M997,1236l32,-176 -30,133 -30,125z"/><path color="#49bbf8" d="M967,1338l30,-102 -28,82 -29,-133z"/><path class="m" d="M967,1338l30,-102 32,-176 -30,133 -27,100 -29,-118 -30,-149 27,159z"/>
<path color="#309fe2" d="M910,1036l30,149 -27,-159 -30,-129z"/><path color="#749de9" d="M879,909l31,127 -27,-139 -33,-102z"/><path color="#2f9cdf" d="M937,1196l30,142 -27,-153 -30,-149z"/><path color="#7199e3" d="M907,1047l30,149 -27,-160 -31,-127z"/><path class="m" d="M907,1047l30,149 30,142 -27,-153 -27,-159 -30,-129 -33,-102 29,114z"/>
<path color="#a797f1" d="M846,809l33,100 -29,-114 -32,-74z"/><path color="#9c8bf9" d="M813,737l33,72 -28,-88 -34,-50z"/><path color="#a091e7" d="M875,921l32,126 -28,-138 -33,-100z"/><path color="#9383ec" d="M842,824l33,97 -29,-112 -33,-72z"/><path class="m" d="M842,824l33,97 32,126 -28,-138 -29,-114 -32,-74 -34,-50 29,66z"/>
<path color="#917fff" d="M779,689l34,48 -29,-66 -34,-32z"/><path color="#8371ff" d="M744,658l35,31 -29,-50 -35,-18z"/><path color="#8676f5" d="M808,754l34,70 -29,-87 -34,-48z"/><path color="#7a68ff" d="M773,707l35,47 -29,-65 -35,-31z"/><path class="m" d="M773,707l35,47 34,70 -29,-87 -29,-66 -34,-32 -35,-18 29,37z"/>
<path color="#cb89fe" d="M709,641l35,17 -29,-37 -35,-9z"/><path color="#ffa8d1" d="M673,633l36,8 -29,-29 -35,-2z"/><path color="#c382f5" d="M738,678l35,29 -29,-49 -35,-17z"/><path color="#ffa7d0" d="M702,662l36,16 -29,-37 -36,-8z"/><path class="m" d="M702,662l36,16 35,29 -29,-49 -29,-37 -35,-9 -35,-2 28,23z"/>
<path color="#ff8cb2" d="M637,632l36,1 -28,-23 -36,3z"/><path color="#ff6f92" d="M601,635l36,-3 -28,-19 -36,5z"/><path color="#ff8eb5" d="M666,655l36,7 -29,-29 -36,-1z"/><path color="#ff7296" d="M630,654l36,1 -29,-23 -36,3z"/><path class="m" d="M630,654l36,1 36,7 -29,-29 -28,-23 -36,3 -36,5 28,17z"/>
<path color="#ff5475" d="M564,641l37,-6 -28,-17 -37,7z"/><path color="#ff3a59" d="M527,648l37,-7 -28,-16 -37,9z"/><path color="#ff5678" d="M593,658l37,-4 -29,-19 -37,6z"/><path color="#ff3c5b" d="M555,664l38,-6 -29,-17 -37,7z"/><path class="m" d="M555,664l38,-6 37,-4 -29,-19 -28,-17 -37,7 -37,9 28,14z"/>
<path color="#ffcd6c" d="M1547,375l25,-8 -30,-8 -25,8z"/><path color="#ffc15d" d="M1521,383l26,-8 -30,-8 -26,8z"/><path color="#ffcd6c" d="M1577,384l25,-8 -30,-9 -25,8z"/><path color="#ffc15d" d="M1551,392l26,-8 -30,-9 -26,8z"/><path class="m" d="M1551,392l26,-8 25,-8 -30,-9 -30,-8 -25,8 -26,8 30,8z"/>
<path color="#ffb44d" d="M1495,391l26,-8 -30,-8 -26,8z"/><path color="#ffa73d" d="M1468,400l27,-9 -30,-8 -26,8z"/><path color="#ffb44d" d="M1525,400l26,-8 -30,-9 -26,8z"/><path color="#ffa83e" d="M1499,409l26,-9 -30,-9 -27,9z"/><path class="m" d="M1499,409l26,-9 26,-8 -30,-9 -30,-8 -26,8 -26,8 29,9z"/>
<path color="#ff9a2e" d="M1442,409l26,-9 -29,-9 -27,9z"/><path color="#ffda63" d="M1415,418l27,-9 -30,-9 -27,10z"/><path color="#ff9b2e" d="M1472,417l27,-8 -31,-9 -26,9z"/><path color="#ffdc63" d="M1445,426l27,-9 -30,-8 -27,9z"/><path class="m" d="M1445,426l27,-9 27,-8 -31,-9 -29,-9 -27,9 -27,10 30,8z"/>
<path color="#ffff82" d="M1387,427l28,-9 -30,-8 -28,10z"/><path color="#ffff6b" d="M1360,438l27,-11 -30,-7 -27,12z"/><path color="#ffff83" d="M1418,436l27,-10 -30,-8 -28,9z"/><path color="#ffff6d" d="M1390,446l28,-10 -31,-9 -27,11z"/><path class="m" d="M1390,446l28,-10 27,-10 -30,-8 -30,-8 -28,10 -27,12 30,6z"/>
<path color="#fff954" d="M1332,450l28,-12 -30,-6 -28,14z"/><path color="#f8eb3d" d="M1303,465l29,-15 -30,-4 -29,16z"/><path color="#ffff57" d="M1362,457l28,-11 -30,-8 -28,12z"/><path color="#fff641" d="M1334,469l28,-12 -30,-7 -29,15z"/><path class="m" d="M1334,469l28,-12 28,-11 -30,-8 -30,-6 -28,14 -29,16 30,3z"/>
<path color="#c3d942" d="M1274,482l29,-17 -30,-3 -29,22z"/><path color="#7fc652" d="M1245,504l29,-22 -30,2 -29,28z"/><path color="#d3eb49" d="M1305,484l29,-15 -31,-4 -29,17z"/><path color="#8cd95b" d="M1276,502l29,-18 -31,-2 -29,22z"/><path class="m" d="M1276,502l29,-18 29,-15 -31,-4 -30,-3 -29,22 -29,28 30,-8z"/>
<path color="#5da83d" d="M1215,534l30,-30 -30,8 -30,38z"/><path color="#3f882b" d="M1185,574l30,-40 -30,16 -31,53z"/><path color="#6cc048" d="M1246,525l30,-23 -31,2 -30,30z"/><path color="#4ca235" d="M1216,556l30,-31 -31,9 -30,40z"/><path class="m" d="M1216,556l30,-31 30,-23 -31,2 -30,8 -30,38 -31,53 31,-29z"/>
<path color="#2b771f" d="M1154,629l31,-55 -31,29 -31,73z"/><path color="#226c26" d="M1123,705l31,-76 -31,47 -31,99z"/><path color="#308224" d="M1185,598l31,-42 -31,18 -31,55z"/><path color="#257429" d="M1154,656l31,-58 -31,31 -31,76z"/><path class="m" d="M1154,656l31,-58 31,-42 -31,18 -31,29 -31,73 -31,99 31,-70z"/>
<path color="#326464" d="M1091,808l32,-103 -31,70 -32,128z"/><path color="#2d5b6c" d="M1059,941l32,-133 -31,95 -31,157z"/><path color="#356a6a" d="M1122,736l32,-80 -31,49 -32,103z"/><path color="#2e5e70" d="M1089,842l33,-106 -31,72 -32,133z"/><path class="m" d="M1089,842l33,-106 32,-80 -31,49 -31,70 -32,128 -31,157 30,-119z"/>
<path color="#235368" d="M1027,1102l32,-161 -30,119 -32,176z"/><path color="#1b4c66" d="M995,1281l32,-179 -30,134 -30,102z"/><path color="#24546b" d="M1057,980l32,-138 -30,99 -32,161z"/><path color="#1b4d67" d="M1024,1145l33,-165 -30,122 -32,179z"/><path class="m" d="M1024,1145l33,-165 32,-138 -30,99 -30,119 -32,176 -30,102 28,-57z"/>
<path color="#32a4e9" d="M964,1355l31,-74 -28,57 -30,-142z"/><path color="#6f96df" d="M934,1207l30,148 -27,-159 -30,-149z"/><path color="#134666" d="M992,1326l32,-181 -29,136 -31,74z"/><path color="#719ae4" d="M962,1371l30,-45 -28,29 -30,-148z"/><path class="m" d="M962,1371l30,-45 32,-181 -29,136 -28,57 -30,-142 -30,-149 27,160z"/>
<path color="#9b8ce0" d="M903,1059l31,148 -27,-160 -32,-126z"/><path color="#8c7de2" d="M871,934l32,125 -28,-138 -33,-97z"/><path color="#998add" d="M931,1218l31,153 -28,-164 -31,-148z"/><path color="#8779db" d="M900,1071l31,147 -28,-159 -32,-125z"/><path class="m" d="M900,1071l31,147 31,153 -28,-164 -27,-160 -32,-126 -33,-97 29,110z"/>
<path color="#7e6ee7" d="M837,839l34,95 -29,-110 -34,-70z"/><path color="#7160f0" d="M803,771l34,68 -29,-85 -35,-47z"/><path color="#7868dd" d="M867,948l33,123 -29,-137 -34,-95z"/><path color="#6959e3" d="M832,855l35,93 -30,-109 -34,-68z"/><path class="m" d="M832,855l35,93 33,123 -29,-137 -29,-110 -34,-70 -35,-47 30,64z"/>
<path color="#b879e8" d="M767,726l36,45 -30,-64 -35,-29z"/><path color="#ffa1c9" d="M732,698l35,28 -29,-48 -36,-16z"/><path color="#ab70d9" d="M797,789l35,66 -29,-84 -36,-45z"/><path color="#ff97be" d="M762,745l35,44 -30,-63 -35,-28z"/><path class="m" d="M762,745l35,44 35,66 -29,-84 -30,-64 -35,-29 -36,-16 30,36z"/>
<path color="#ff8eb5" d="M696,683l36,15 -30,-36 -36,-7z"/><path color="#ff7499" d="M659,677l37,6 -30,-28 -36,-1z"/><path color="#ff88af" d="M725,719l37,26 -30,-47 -36,-15z"/><path color="#ff7499" d="M689,705l36,14 -29,-36 -37,-6z"/><path class="m" d="M689,705l36,14 37,26 -30,-47 -30,-36 -36,-7 -36,-1 29,23z"/>
<path color="#ff597b" d="M622,677l37,0 -29,-23 -37,4z"/><path color="#ff3e5e" d="M584,681l38,-4 -29,-19 -38,6z"/><path color="#ff5a7d" d="M652,700l37,5 -30,-28 -37,0z"/><path color="#ff4060" d="M614,701l38,-1 -30,-23 -38,4z"/><path class="m" d="M614,701l38,-1 37,5 -30,-28 -29,-23 -37,4 -38,6 29,17z"/>
<path color="#ffce6c" d="M1607,393l26,-8 -31,-9 -25,8z"/><path color="#ffc15d" d="M1582,401l25,-8 -30,-9 -26,8z"/><path color="#ffce6c" d="M1638,402l26,-8 -31,-9 -26,8z"/><path color="#ffc25d" d="M1613,410l25,-8 -31,-9 -25,8z"/><path class="m" d="M1613,410l25,-8 26,-8 -31,-9 -31,-9 -25,8 -26,8 31,9z"/>
<path color="#ffb54d" d="M1556,409l26,-8 -31,-9 -26,8z"/><path color="#ffa83e" d="M1529,418l27,-9 -31,-9 -26,9z"/><path color="#ffb54e" d="M1587,418l26,-8 -31,-9 -26,8z"/><path color="#ffa93e" d="M1560,427l27,-9 -31,-9 -27,9z"/><path class="m" d="M1560,427l27,-9 26,-8 -31,-9 -31,-9 -26,8 -26,9 30,9z"/>
<path color="#ff9c2e" d="M1503,426l26,-8 -30,-9 -27,8z"/><path color="#ffdd64" d="M1476,435l27,-9 -31,-9 -27,9z"/><path color="#ff9c2f" d="M1534,435l26,-8 -31,-9 -26,8z"/><path color="#ffde64" d="M1507,444l27,-9 -31,-9 -27,9z"/><path class="m" d="M1507,444l27,-9 26,-8 -31,-9 -30,-9 -27,8 -27,9 31,9z"/>
<path color="#ffff84" d="M1448,444l28,-9 -31,-9 -27,10z"/><path color="#ffff6f" d="M1421,454l27,-10 -30,-8 -28,10z"/><path color="#ffff85" d="M1479,453l28,-9 -31,-9 -28,9z"/><path color="#ffff70" d="M1452,463l27,-10 -31,-9 -27,10z"/><path class="m" d="M1452,463l27,-10 28,-9 -31,-9 -31,-9 -27,10 -28,10 31,8z"/>
<path color="#ffff59" d="M1393,464l28,-10 -31,-8 -28,11z"/><path color="#fffd43" d="M1364,476l29,-12 -31,-7 -28,12z"/><path color="#ffff5a" d="M1424,473l28,-10 -31,-9 -28,10z"/><path color="#ffff44" d="M1395,483l29,-10 -31,-9 -29,12z"/><path class="m" d="M1395,483l29,-10 28,-10 -31,-9 -31,-8 -28,11 -28,12 30,7z"/>
<path color="#def74d" d="M1336,489l28,-13 -30,-7 -29,15z"/><path color="#99ec64" d="M1306,504l30,-15 -31,-5 -29,18z"/><path color="#e5ff50" d="M1367,495l28,-12 -31,-7 -28,13z"/><path color="#a2f86a" d="M1338,509l29,-14 -31,-6 -30,15z"/><path class="m" d="M1338,509l29,-14 28,-12 -31,-7 -30,-7 -29,15 -29,18 30,2z"/>
<path color="#78d351" d="M1277,523l29,-19 -30,-2 -30,23z"/><path color="#59ba3f" d="M1247,547l30,-24 -31,2 -30,31z"/><path color="#84e65a" d="M1308,524l30,-15 -32,-5 -29,19z"/><path color="#64cd48" d="M1278,544l30,-20 -31,-1 -30,24z"/><path class="m" d="M1278,544l30,-20 30,-15 -32,-5 -30,-2 -30,23 -30,31 31,-9z"/>
<path color="#3c9c2d" d="M1216,579l31,-32 -31,9 -31,42z"/><path color="#2a7f2e" d="M1185,623l31,-44 -31,19 -31,58z"/><path color="#47b436" d="M1247,569l31,-25 -31,3 -31,32z"/><path color="#339738" d="M1216,603l31,-34 -31,10 -31,44z"/><path class="m" d="M1216,603l31,-34 31,-25 -31,3 -31,9 -31,42 -31,58 31,-33z"/>
<path color="#397272" d="M1153,684l32,-61 -31,33 -32,80z"/><path color="#316376" d="M1121,767l32,-83 -31,52 -33,106z"/><path color="#3f7c7c" d="M1185,649l31,-46 -31,20 -32,61z"/><path color="#356b7f" d="M1153,713l32,-64 -32,35 -32,83z"/><path class="m" d="M1153,713l32,-64 31,-46 -31,20 -31,33 -32,80 -33,106 32,-75z"/>
<path color="#25576e" d="M1088,878l33,-111 -32,75 -32,138z"/><path color="#1c4e69" d="M1055,1020l33,-142 -31,102 -33,165z"/><path color="#285c74" d="M1120,799l33,-86 -32,54 -33,111z"/><path color="#1d516d" d="M1087,915l33,-116 -32,79 -33,142z"/><path class="m" d="M1087,915l33,-116 33,-86 -32,54 -32,75 -32,138 -33,165 31,-125z"/>
<path color="#134766" d="M1022,1190l33,-170 -31,125 -32,181z"/><path color="#314466" d="M990,1372l32,-182 -30,136 -30,45z"/><path color="#134868" d="M1053,1061l34,-146 -32,105 -33,170z"/><path color="#314466" d="M1020,1235l33,-174 -31,129 -32,182z"/><path class="m" d="M1020,1235l33,-174 34,-146 -32,105 -31,125 -32,181 -30,45 28,1z"/>
<path color="#9a8bdf" d="M959,1386l31,-14 -28,-1 -31,-153z"/><path color="#8576d8" d="M928,1230l31,156 -28,-168 -31,-147z"/><path color="#453e65" d="M987,1418l33,-183 -30,137 -31,14z"/><path color="#8576d8" d="M956,1401l31,17 -28,-32 -31,-156z"/><path class="m" d="M956,1401l31,17 33,-183 -30,137 -28,-1 -31,-153 -31,-147 28,159z"/>
<path color="#7465d6" d="M896,1084l32,146 -28,-159 -33,-123z"/><path color="#6354d9" d="M862,963l34,121 -29,-136 -35,-93z"/><path color="#7162d2" d="M925,1243l31,158 -28,-171 -32,-146z"/><path color="#6051d1" d="M892,1097l33,146 -29,-159 -34,-121z"/><path class="m" d="M892,1097l33,146 31,158 -28,-171 -28,-159 -33,-123 -35,-93 30,108z"/>
<path color="#a168cd" d="M827,872l35,91 -30,-108 -35,-66z"/><path color="#ff8cb1" d="M792,808l35,64 -30,-83 -35,-44z"/><path color="#9962c3" d="M858,978l34,119 -30,-134 -35,-91z"/><path color="#fc83a6" d="M823,889l35,89 -31,-106 -35,-64z"/><path class="m" d="M823,889l35,89 34,119 -30,-134 -30,-108 -35,-66 -35,-44 30,63z"/>
<path color="#ff7fa5" d="M756,766l36,42 -30,-63 -37,-26z"/><path color="#ff6f94" d="M719,741l37,25 -31,-47 -36,-14z"/><path color="#ff7599" d="M786,827l37,62 -31,-81 -36,-42z"/><path color="#ff678b" d="M750,787l36,40 -30,-61 -37,-25z"/><path class="m" d="M750,787l36,40 37,62 -31,-81 -30,-63 -37,-26 -36,-14 30,36z"/>
<path color="#ff5a7d" d="M682,728l37,13 -30,-36 -37,-5z"/><path color="#ff4162" d="M644,724l38,4 -30,-28 -38,1z"/><path color="#ff5679" d="M712,764l38,23 -31,-46 -37,-13z"/><path color="#ff4162" d="M674,752l38,12 -30,-36 -38,-4z"/><path class="m" d="M674,752l38,12 38,23 -31,-46 -30,-36 -37,-5 -38,1 30,23z"/>
<path color="#ffce6d" d="M1670,411l25,-8 -31,-9 -26,8z"/><path color="#ffc25d" d="M1644,419l26,-8 -32,-9 -25,8z"/><path color="#ffce6d" d="M1702,420l25,-8 -32,-9 -25,8z"/><path color="#ffc25e" d="M1676,428l26,-8 -32,-9 -26,8z"/><path class="m" d="M1676,428l26,-8 25,-8 -32,-9 -31,-9 -26,8 -25,8 31,9z"/>
<path color="#ffb54e" d="M1618,427l26,-8 -31,-9 -26,8z"/><path color="#ffa93e" d="M1592,436l26,-9 -31,-9 -27,9z"/><path color="#ffb64e" d="M1650,437l26,-9 -32,-9 -26,8z"/><path color="#ffa93e" d="M1624,446l26,-9 -32,-10 -26,9z"/><path class="m" d="M1624,446l26,-9 26,-9 -32,-9 -31,-9 -26,8 -27,9 32,9z"/>
<path color="#ff9c2f" d="M1565,445l27,-9 -32,-9 -26,8z"/><path color="#ffde65" d="M1538,454l27,-9 -31,-10 -27,9z"/><path color="#ff9d2f" d="M1597,454l27,-8 -32,-10 -27,9z"/><path color="#ffdf65" d="M1570,463l27,-9 -32,-9 -27,9z"/><path class="m" d="M1570,463l27,-9 27,-8 -32,-10 -32,-9 -26,8 -27,9 31,10z"/>
<path color="#ffff85" d="M1511,463l27,-9 -31,-10 -28,9z"/><path color="#ffff70" d="M1483,472l28,-9 -32,-10 -27,10z"/><path color="#ffff86" d="M1543,472l27,-9 -32,-9 -27,9z"/><path color="#ffff71" d="M1515,481l28,-9 -32,-9 -28,9z"/><path class="m" d="M1515,481l28,-9 27,-9 -32,-9 -31,-10 -28,9 -27,10 31,9z"/>
<path color="#ffff5b" d="M1455,482l28,-10 -31,-9 -28,10z"/><path color="#ffff46" d="M1427,492l28,-10 -31,-9 -29,10z"/><path color="#ffff5c" d="M1487,491l28,-10 -32,-9 -28,10z"/><path color="#ffff46" d="M1459,501l28,-10 -32,-9 -28,10z"/><path class="m" d="M1459,501l28,-10 28,-10 -32,-9 -31,-9 -28,10 -29,10 32,9z"/>
<path color="#eaff52" d="M1398,503l29,-11 -32,-9 -28,12z"/><path color="#a7ff6e" d="M1369,515l29,-12 -31,-8 -29,14z"/><path color="#edff53" d="M1430,512l29,-11 -32,-9 -29,11z"/><path color="#abff71" d="M1401,523l29,-11 -32,-9 -29,12z"/><path class="m" d="M1401,523l29,-11 29,-11 -32,-9 -32,-9 -28,12 -29,14 31,6z"/>
<path color="#8cf360" d="M1340,529l29,-14 -31,-6 -30,15z"/><path color="#6ee050" d="M1310,546l30,-17 -32,-5 -30,20z"/><path color="#91fb64" d="M1372,536l29,-13 -32,-8 -29,14z"/><path color="#76ed55" d="M1342,550l30,-14 -32,-7 -30,17z"/><path class="m" d="M1342,550l30,-14 29,-13 -32,-8 -31,-6 -30,15 -30,20 32,2z"/>
<path color="#51c73e" d="M1279,566l31,-20 -32,-2 -31,25z"/><path color="#3eaf44" d="M1248,592l31,-26 -32,3 -31,34z"/><path color="#5ada46" d="M1311,567l31,-17 -32,-4 -31,20z"/><path color="#47c34e" d="M1281,589l30,-22 -32,-1 -31,26z"/><path class="m" d="M1281,589l30,-22 31,-17 -32,-4 -32,-2 -31,25 -31,34 32,-11z"/>
<path color="#4c9292" d="M1217,628l31,-36 -32,11 -31,46z"/><path color="#3b758a" d="M1185,676l32,-48 -32,21 -32,64z"/><path color="#5aabab" d="M1249,616l32,-27 -33,3 -31,36z"/><path color="#4688a1" d="M1217,653l32,-37 -32,12 -32,48z"/><path class="m" d="M1217,653l32,-37 32,-27 -33,3 -32,11 -31,46 -32,64 32,-37z"/>
<path color="#2b637d" d="M1152,742l33,-66 -32,37 -33,86z"/><path color="#1e5572" d="M1119,833l33,-91 -32,57 -33,116z"/><path color="#306c88" d="M1185,704l32,-51 -32,23 -33,66z"/><path color="#215b7a" d="M1152,773l33,-69 -33,38 -33,91z"/><path class="m" d="M1152,773l33,-69 32,-51 -32,23 -32,37 -33,86 -33,116 32,-82z"/>
<path color="#144a6b" d="M1085,952l34,-119 -32,82 -34,146z"/><path color="#324568" d="M1051,1104l34,-152 -32,109 -33,174z"/><path color="#154e71" d="M1118,867l34,-94 -33,60 -34,119z"/><path color="#33476b" d="M1084,992l34,-125 -33,85 -34,152z"/><path class="m" d="M1084,992l34,-125 34,-94 -33,60 -32,82 -34,146 -33,174 31,-131z"/>
<path color="#443e64" d="M1018,1282l33,-178 -31,131 -33,183z"/><path color="#3c3564" d="M985,1464l33,-182 -31,136 -31,-17z"/><path color="#463f66" d="M1050,1148l34,-156 -33,112 -33,178z"/><path color="#3b3462" d="M1015,1330l35,-182 -32,134 -33,182z"/><path class="m" d="M1015,1330l35,-182 34,-156 -33,112 -31,131 -33,183 -31,-17 29,63z"/>
<path color="#7162d2" d="M953,1416l32,48 -29,-63 -31,-158z"/><path color="#5d4fcd" d="M921,1256l32,160 -28,-173 -33,-146z"/><path color="#342d63" d="M982,1509l33,-179 -30,134 -32,-48z"/><path color="#5d4ecc" d="M950,1431l32,78 -29,-93 -32,-160z"/><path class="m" d="M950,1431l32,78 33,-179 -30,134 -29,-63 -31,-158 -33,-146 29,159z"/>
<path color="#935ebc" d="M888,1112l33,144 -29,-159 -34,-119z"/><path color="#f07c9d" d="M853,995l35,117 -30,-134 -35,-89z"/><path color="#905cb8" d="M918,1270l32,161 -29,-175 -33,-144z"/><path color="#e87798" d="M884,1127l34,143 -30,-158 -35,-117z"/><path class="m" d="M884,1127l34,143 32,161 -29,-175 -29,-159 -34,-119 -35,-89 30,106z"/>
<path color="#f86d8f" d="M817,908l36,87 -30,-106 -37,-62z"/><path color="#ff5f81" d="M781,848l36,60 -31,-81 -36,-40z"/><path color="#ec6787" d="M849,1012l35,115 -31,-132 -36,-87z"/><path color="#f45777" d="M812,927l37,85 -32,-104 -36,-60z"/><path class="m" d="M812,927l37,85 35,115 -31,-132 -30,-106 -37,-62 -36,-40 31,61z"/>
<path color="#ff4f71" d="M743,809l38,39 -31,-61 -38,-23z"/><path color="#ff3d5f" d="M705,787l38,22 -31,-45 -38,-12z"/><path color="#ff4768" d="M775,869l37,58 -31,-79 -38,-39z"/><path color="#ff3758" d="M737,832l38,37 -32,-60 -38,-22z"/><path class="m" d="M737,832l38,37 37,58 -31,-79 -31,-61 -38,-23 -38,-12 31,35z"/>
<path color="#ffce6d" d="M1734,429l25,-8 -32,-9 -25,8z"/><path color="#ffc25e" d="M1708,438l26,-9 -32,-9 -26,8z"/><path color="#ffce6d" d="M1766,439l26,-9 -33,-9 -25,8z"/><path color="#ffc25e" d="M1741,447l25,-8 -32,-10 -26,9z"/><path class="m" d="M1741,447l25,-8 26,-9 -33,-9 -32,-9 -25,8 -26,8 32,10z"/>
<path color="#ffb64e" d="M1682,446l26,-8 -32,-10 -26,9z"/><path color="#ffa93f" d="M1656,455l26,-9 -32,-9 -26,9z"/><path color="#ffb64e" d="M1715,456l26,-9 -33,-9 -26,8z"/><path color="#ffa93f" d="M1689,465l26,-9 -33,-10 -26,9z"/><path class="m" d="M1689,465l26,-9 26,-9 -33,-9 -32,-10 -26,9 -26,9 32,9z"/>
<path color="#ff9d2f" d="M1629,464l27,-9 -32,-9 -27,8z"/><path color="#ffdf65" d="M1602,473l27,-9 -32,-10 -27,9z"/><path color="#ff9d2f" d="M1662,474l27,-9 -33,-10 -27,9z"/><path color="#ffdf65" d="M1635,483l27,-9 -33,-10 -27,9z"/><path class="m" d="M1635,483l27,-9 27,-9 -33,-10 -32,-9 -27,8 -27,9 32,10z"/>
<path color="#ffff86" d="M1575,482l27,-9 -32,-10 -27,9z"/><path color="#ffff71" d="M1547,491l28,-9 -32,-10 -28,9z"/><path color="#ffff86" d="M1608,492l27,-9 -33,-10 -27,9z"/><path color="#ffff71" d="M1580,501l28,-9 -33,-10 -28,9z"/><path class="m" d="M1580,501l28,-9 27,-9 -33,-10 -32,-10 -27,9 -28,9 32,10z"/>
<path color="#ffff5c" d="M1520,501l27,-10 -32,-10 -28,10z"/><path color="#ffff47" d="M1491,511l29,-10 -33,-10 -28,10z"/><path color="#ffff5c" d="M1552,511l28,-10 -33,-10 -27,10z"/><path color="#ffff47" d="M1524,521l28,-10 -32,-10 -29,10z"/><path class="m" d="M1524,521l28,-10 28,-10 -33,-10 -32,-10 -28,10 -28,10 32,10z"/>
<path color="#efff54" d="M1463,521l28,-10 -32,-10 -29,11z"/><path color="#adff72" d="M1434,532l29,-11 -33,-9 -29,11z"/><path color="#f0ff55" d="M1495,531l29,-10 -33,-10 -28,10z"/><path color="#afff73" d="M1466,542l29,-11 -32,-10 -29,11z"/><path class="m" d="M1466,542l29,-11 29,-10 -33,-10 -32,-10 -29,11 -29,11 33,9z"/>
<path color="#94ff66" d="M1404,544l30,-12 -33,-9 -29,13z"/><path color="#7af659" d="M1374,557l30,-13 -32,-8 -30,14z"/><path color="#96ff68" d="M1437,553l29,-11 -32,-10 -30,12z"/><path color="#7efc5c" d="M1407,565l30,-12 -33,-9 -30,13z"/><path class="m" d="M1407,565l30,-12 29,-11 -32,-10 -33,-9 -29,13 -30,14 32,7z"/>
<path color="#60e84b" d="M1344,572l30,-15 -32,-7 -31,17z"/><path color="#50d556" d="M1313,590l31,-18 -33,-5 -30,22z"/><path color="#64f14f" d="M1377,578l30,-13 -33,-8 -30,15z"/><path color="#56e35d" d="M1346,594l31,-16 -33,-6 -31,18z"/><path class="m" d="M1346,594l31,-16 30,-13 -33,-8 -32,-7 -31,17 -30,22 32,1z"/>
<path color="#67bfbf" d="M1282,612l31,-22 -32,-1 -32,27z"/><path color="#54a0bc" d="M1250,641l32,-29 -33,4 -32,37z"/><path color="#72d1d1" d="M1315,613l31,-19 -33,-4 -31,22z"/><path color="#60b4d3" d="M1283,636l32,-23 -33,-1 -32,29z"/><path class="m" d="M1283,636l32,-23 31,-19 -33,-4 -32,-1 -32,27 -32,37 33,-12z"/>
<path color="#397d9c" d="M1218,679l32,-38 -33,12 -32,51z"/><path color="#256385" d="M1185,732l33,-53 -33,25 -33,69z"/><path color="#4594b8" d="M1251,666l32,-30 -33,5 -32,38z"/><path color="#2c7298" d="M1218,706l33,-40 -33,13 -33,53z"/><path class="m" d="M1218,706l33,-40 32,-30 -33,5 -33,12 -32,51 -33,69 33,-41z"/>
<path color="#175478" d="M1151,805l34,-73 -33,41 -34,94z"/><path color="#364b70" d="M1117,903l34,-98 -33,62 -34,125z"/><path color="#1a5b83" d="M1185,762l33,-56 -33,26 -34,73z"/><path color="#3a5077" d="M1151,838l34,-76 -34,43 -34,98z"/><path class="m" d="M1151,838l34,-76 33,-56 -33,26 -33,41 -34,94 -34,125 33,-89z"/>
<path color="#484169" d="M1082,1032l35,-129 -33,89 -34,156z"/><path color="#3c3563" d="M1048,1193l34,-161 -32,116 -35,182z"/><path color="#4b446e" d="M1116,940l35,-102 -34,65 -35,129z"/><path color="#3e3666" d="M1081,1074l35,-134 -34,92 -34,161z"/><path class="m" d="M1081,1074l35,-134 35,-102 -34,65 -33,89 -34,156 -35,182 33,-137z"/>
<path color="#322b5f" d="M1013,1379l35,-186 -33,137 -33,179z"/><path color="#2d2567" d="M979,1551l34,-172 -31,130 -32,-78z"/><path color="#322b60" d="M1046,1240l35,-166 -33,119 -35,186z"/><path color="#28215c" d="M1011,1430l35,-190 -33,139 -34,172z"/><path class="m" d="M1011,1430l35,-190 35,-166 -33,119 -33,137 -33,179 -32,-78 29,120z"/>
<path color="#8e5bb6" d="M947,1446l32,105 -29,-120 -32,-161z"/><path color="#e37494" d="M914,1285l33,161 -29,-176 -34,-143z"/><path color="#5f3d79" d="M977,1589l34,-159 -32,121 -32,-105z"/><path color="#e07292" d="M944,1461l33,128 -30,-143 -33,-161z"/><path class="m" d="M944,1461l33,128 34,-159 -32,121 -29,-120 -32,-161 -34,-143 30,158z"/>
<path color="#e36281" d="M880,1143l34,142 -30,-158 -35,-115z"/><path color="#e85170" d="M844,1030l36,113 -31,-131 -37,-85z"/><path color="#de5f7e" d="M911,1300l33,161 -30,-176 -34,-142z"/><path color="#df4d6b" d="M875,1159l36,141 -31,-157 -36,-113z"/><path class="m" d="M875,1159l36,141 33,161 -30,-176 -30,-158 -35,-115 -37,-85 32,103z"/>
<path color="#f04160" d="M807,947l37,83 -32,-103 -37,-58z"/><path color="#fb3050" d="M769,891l38,56 -32,-78 -38,-37z"/><path color="#e33c59" d="M839,1048l36,111 -31,-129 -37,-83z"/><path color="#ec2b48" d="M801,968l38,80 -32,-101 -38,-56z"/><path class="m" d="M801,968l38,80 36,111 -31,-129 -32,-103 -37,-58 -38,-37 32,59z"/>
<path color="#ffcf6d" d="M1799,449l26,-9 -33,-10 -26,9z"/><path color="#ffc25e" d="M1774,457l25,-8 -33,-10 -25,8z"/><path color="#ffcf6d" d="M1833,458l25,-8 -33,-10 -26,9z"/><path color="#ffc35e" d="M1807,467l26,-9 -34,-9 -25,8z"/><path class="m" d="M1807,467l26,-9 25,-8 -33,-10 -33,-10 -26,9 -25,8 33,10z"/>
<path color="#ffb64f" d="M1748,466l26,-9 -33,-10 -26,9z"/><path color="#ffaa3f" d="M1722,475l26,-9 -33,-10 -26,9z"/><path color="#ffb64f" d="M1781,476l26,-9 -33,-10 -26,9z"/><path color="#ffaa3f" d="M1755,485l26,-9 -33,-10 -26,9z"/><path class="m" d="M1755,485l26,-9 26,-9 -33,-10 -33,-10 -26,9 -26,9 33,10z"/>
<path color="#ff9d2f" d="M1695,484l27,-9 -33,-10 -27,9z"/><path color="#ffdf66" d="M1668,493l27,-9 -33,-10 -27,9z"/><path color="#ff9d30" d="M1729,494l26,-9 -33,-10 -27,9z"/><path color="#ffe066" d="M1702,503l27,-9 -34,-10 -27,9z"/><path class="m" d="M1702,503l27,-9 26,-9 -33,-10 -33,-10 -27,9 -27,9 33,10z"/>
<path color="#ffff87" d="M1641,502l27,-9 -33,-10 -27,9z"/><path color="#ffff72" d="M1613,512l28,-10 -33,-10 -28,9z"/><path color="#ffff87" d="M1675,513l27,-10 -34,-10 -27,9z"/><path color="#ffff72" d="M1647,522l28,-9 -34,-11 -28,10z"/><path class="m" d="M1647,522l28,-9 27,-10 -34,-10 -33,-10 -27,9 -28,9 33,11z"/>
<path color="#ffff5d" d="M1586,521l27,-9 -33,-11 -28,10z"/><path color="#ffff48" d="M1557,531l29,-10 -34,-10 -28,10z"/><path color="#ffff5d" d="M1619,532l28,-10 -34,-10 -27,9z"/><path color="#ffff48" d="M1591,542l28,-10 -33,-11 -29,10z"/><path class="m" d="M1591,542l28,-10 28,-10 -34,-10 -33,-11 -28,10 -28,10 33,10z"/>
<path color="#f1ff55" d="M1529,541l28,-10 -33,-10 -29,10z"/><path color="#b0ff74" d="M1500,552l29,-11 -34,-10 -29,11z"/><path color="#f2ff56" d="M1562,552l29,-10 -34,-11 -28,10z"/><path color="#b1ff75" d="M1533,562l29,-10 -33,-11 -29,11z"/><path class="m" d="M1533,562l29,-10 29,-10 -34,-11 -33,-10 -29,10 -29,11 34,10z"/>
<path color="#98ff69" d="M1470,563l30,-11 -34,-10 -29,11z"/><path color="#80ff5d" d="M1440,574l30,-11 -33,-10 -30,12z"/><path color="#99ff6a" d="M1504,573l29,-11 -33,-10 -30,11z"/><path color="#81ff5e" d="M1474,584l30,-11 -34,-10 -30,11z"/><path class="m" d="M1474,584l30,-11 29,-11 -33,-10 -34,-10 -29,11 -30,12 33,9z"/>
<path color="#67f751" d="M1410,587l30,-13 -33,-9 -30,13z"/><path color="#5aed61" d="M1380,601l30,-14 -33,-9 -31,16z"/><path color="#69fa53" d="M1444,596l30,-12 -34,-10 -30,13z"/><path color="#5df364" d="M1413,609l31,-13 -34,-9 -30,14z"/><path class="m" d="M1413,609l31,-13 30,-12 -34,-10 -33,-9 -30,13 -31,16 34,7z"/>
<path color="#7ae0e0" d="M1348,617l32,-16 -34,-7 -31,19z"/><path color="#6bc5e7" d="M1317,636l31,-19 -33,-4 -32,23z"/><path color="#80eaea" d="M1382,624l31,-15 -33,-8 -32,16z"/><path color="#74d4f8" d="M1351,640l31,-16 -34,-7 -31,19z"/><path class="m" d="M1351,640l31,-16 31,-15 -33,-8 -34,-7 -31,19 -32,23 34,0z"/>
<path color="#50a7cf" d="M1285,660l32,-24 -34,0 -32,30z"/><path color="#3688b4" d="M1252,692l33,-32 -34,6 -33,40z"/><path color="#5ab8e3" d="M1319,661l32,-21 -34,-4 -32,24z"/><path color="#409bcc" d="M1286,686l33,-25 -34,-1 -33,32z"/><path class="m" d="M1286,686l33,-25 32,-21 -34,-4 -34,0 -32,30 -33,40 34,-14z"/>
<path color="#206894" d="M1219,734l33,-42 -34,14 -33,56z"/><path color="#3f5781" d="M1185,792l34,-58 -34,28 -34,76z"/><path color="#287caf" d="M1253,719l33,-33 -34,6 -33,42z"/><path color="#486291" d="M1219,763l34,-44 -34,15 -34,58z"/><path class="m" d="M1219,763l34,-44 33,-33 -34,6 -34,14 -33,56 -34,76 34,-46z"/>
<path color="#504875" d="M1150,872l35,-80 -34,46 -35,102z"/><path color="#40396b" d="M1115,978l35,-106 -34,68 -35,134z"/><path color="#574e7f" d="M1185,824l34,-61 -34,29 -35,80z"/><path color="#453d71" d="M1149,907l36,-83 -35,48 -35,106z"/><path class="m" d="M1149,907l36,-83 34,-61 -34,29 -34,46 -35,102 -35,134 34,-96z"/>
<path color="#342d63" d="M1079,1117l36,-139 -34,96 -35,166z"/><path color="#29225e" d="M1043,1288l36,-171 -33,123 -35,190z"/><path color="#362f67" d="M1114,1018l35,-111 -34,71 -36,139z"/><path color="#2a2360" d="M1077,1162l37,-144 -35,99 -36,171z"/><path class="m" d="M1077,1162l37,-144 35,-111 -34,71 -34,96 -35,166 -35,190 32,-142z"/>
<path color="#402752" d="M1008,1481l35,-193 -32,142 -34,159z"/><path color="#ffa2ca" d="M974,1621l34,-140 -31,108 -33,-128z"/><path color="#402853" d="M1041,1338l36,-176 -34,126 -35,193z"/><path color="#663241" d="M1006,1534l35,-196 -33,143 -34,140z"/><path class="m" d="M1006,1534l35,-196 36,-176 -34,126 -32,142 -34,159 -33,-128 30,160z"/>
<path color="#db5e7c" d="M941,1478l33,143 -30,-160 -33,-161z"/><path color="#d94b68" d="M907,1316l34,162 -30,-178 -36,-141z"/><path color="#f26a8b" d="M971,1649l35,-115 -32,87 -33,-143z"/><path color="#d64966" d="M938,1494l33,155 -30,-171 -34,-162z"/><path class="m" d="M938,1494l33,155 35,-115 -32,87 -30,-160 -33,-161 -36,-141 32,157z"/>
<path color="#da3855" d="M871,1177l36,139 -32,-157 -36,-111z"/><path color="#df2643" d="M834,1068l37,109 -32,-129 -38,-80z"/><path color="#d43652" d="M903,1333l35,161 -31,-178 -36,-139z"/><path color="#d6243f" d="M866,1196l37,137 -32,-156 -37,-109z"/><path class="m" d="M866,1196l37,137 35,161 -31,-178 -32,-157 -36,-111 -38,-80 33,100z"/></g>
<path fill="none" stroke="#777" stroke-width="0.5" d="M86.9,178.9L178.3,129.9M86.5,77.2L186,43.4M1.4,40.1L96.9,18M86.9,178.9L8.4,125.2M86.5,77.2L1.4,40.1M186,43.4L96.9,18M86.9,178.9L86.5,77.2M8.4,125.2L1.4,40.1M178.3,129.9L186,43.4"/>
<text x="89.2" y="186.2" text-anchor="middle" class="t3">−5</text><text x="135.9" y="160.7" text-anchor="middle" class="t3">0</text><text x="176" y="138.7" text-anchor="middle" class="t3">5</text><text x="137" y="169.9" text-anchor="middle" class="n3"><tspan font-style="italic">x</tspan></text><text x="65" y="172.7" text-anchor="middle" class="t3">−2</text><text x="39.3" y="154.3" text-anchor="middle" class="t3">0</text><text x="16" y="138.4" text-anchor="middle" class="t3">2</text><text x="31" y="158.9" text-anchor="middle" class="n3"><tspan font-style="italic">t</tspan></text><text x="183.7" y="132.9" text-anchor="middle" class="t3">0.0</text><text x="186.2" y="111.2" text-anchor="middle" class="t3">0.2</text><text x="188.2" y="88" text-anchor="middle" class="t3">0.4</text><text x="190.2" y="63.5" text-anchor="middle" class="t3">0.6</text><text x="201" y="96.7" text-anchor="middle" class="n3"><tspan font-style="italic">Abs</tspan>[q]</text><path fill="none" stroke="#111" stroke-width="0.6" d="M86.9,178.9L178.3,129.9M86.9,178.9L84.4,177.2M137,152L134.5,150.7M178.3,129.9L175.9,128.8M97.7,173L96.5,172.2M108.1,167.5L106.9,166.7M118.1,162.1L116.9,161.4M127.7,157L126.5,156.2M137,152L135.7,151.3M145.9,147.3L144.6,146.6M154.4,142.7L153.2,142M162.7,138.3L161.4,137.6M170.6,134L169.4,133.4M86.9,178.9L8.4,125.2M71.3,168.2L74,166.9M43.5,149.2L46.2,148M19.3,132.7L21.9,131.7M86.9,178.9L88.3,178.1M78.9,173.4L80.4,172.7M64,163.2L65.4,162.5M56.9,158.4L58.3,157.7M50.1,153.7L51.5,153.1M37.1,144.9L38.5,144.3M31,140.7L32.4,140.1M25.1,136.6L26.4,136.1M13.8,128.9L15.1,128.4M8.4,125.2L9.7,124.7M178.3,129.9L186,43.4M178.4,128.4L176,127.3M180.4,106.2L177.9,105.1M182.5,82.9L179.9,82M184.6,58.6L182,57.8M178.4,128.4L177.2,127.8M178.9,122.9L177.7,122.3M179.4,117.4L178.1,116.8M179.9,111.8L178.6,111.3M180.4,106.2L179.1,105.6M180.9,100.5L179.6,99.9M181.4,94.7L180.1,94.2M181.9,88.8L180.6,88.3M182.5,82.9L181.1,82.5M183,77L181.6,76.5M183.5,70.9L182.2,70.5M184.1,64.8L182.7,64.4M184.6,58.6L183.2,58.2M185.2,52.4L183.8,52M185.7,46L184.3,45.6"/>
<text x="93" y="14.9" text-anchor="middle" class="t3t">Figure (<tspan font-style="italic">a</tspan>)</text>
<path fill="none" stroke="#777" stroke-width="0.5" d="M253.5,114.3L356.9,90.1M425.2,142.2L356.9,90.1M356.9,90.1L358.2,12"/>
<g transform="scale(0.1)" fill="currentColor" stroke="currentColor" stroke-width="3" stroke-linejoin="round"><path color="#bb8340" d="M3579,513l15,-22 -19,35 -15,41z"/><path color="#c4863e" d="M3563,551l16,-38 -19,54 -16,46z"/><path color="#c38239" d="M3547,596l16,-45 -19,62 -16,38z"/><path color="#bc7932" d="M3531,634l16,-38 -19,55 -15,20z"/><path color="#8f6431" d="M3598,476l15,6 -19,9 -15,22z"/><path color="#bc813c" d="M3582,495l16,-19 -19,37 -16,38z"/><path color="#c48239" d="M3566,533l16,-38 -19,56 -16,45z"/><path color="#c37e34" d="M3550,578l16,-45 -19,63 -16,38z"/><path class="m" d="M3550,578l16,-45 16,-38 16,-19 15,6 -19,9 -19,35 -15,41 -16,46 -16,38 -15,20 18,-37z"/>
<path color="#905a22" d="M3516,653l15,-19 -18,37 -15,-6z"/><path color="#5e3812" d="M3500,648l16,5 -18,12 -15,-34z"/><path color="#5d360f" d="M3485,614l15,34 -17,-17 -15,-60z"/><path color="#5d330c" d="M3470,556l15,58 -17,-43 -15,-78z"/><path color="#ba752c" d="M3534,616l16,-38 -19,56 -15,19z"/><path color="#8e561e" d="M3518,637l16,-21 -18,37 -16,-5z"/><path color="#5d360f" d="M3503,633l15,4 -18,11 -15,-34z"/><path color="#5d330c" d="M3488,601l15,32 -18,-19 -15,-58z"/><path class="m" d="M3488,601l15,32 15,4 16,-21 16,-38 -19,56 -18,37 -15,-6 -15,-34 -15,-60 -15,-78 17,63z"/>
<path color="#5c3109" d="M3455,480l15,76 -17,-63 -15,-87z"/><path color="#5d360d" d="M3439,398l16,82 -17,-74 -16,-82z"/><path color="#5e4217" d="M3424,323l15,75 -17,-74 -16,-65z"/><path color="#ffd45c" d="M3407,267l17,56 -18,-64 -16,-38z"/><path color="#5c3109" d="M3472,546l16,55 -18,-45 -15,-76z"/><path color="#5d360d" d="M3457,474l15,72 -17,-66 -16,-82z"/><path color="#5e4217" d="M3441,398l16,76 -18,-76 -15,-75z"/><path color="#f3ca57" d="M3425,330l16,68 -17,-75 -17,-56z"/><path class="m" d="M3425,330l16,68 16,76 15,72 16,55 -18,-45 -17,-63 -15,-87 -16,-82 -16,-65 -16,-38 17,46z"/>
<path color="#ffffa3" d="M3391,242l16,25 -17,-46 -17,-2z"/><path color="#c2b957" d="M3375,252l16,-10 -18,-23 -16,36z"/><path color="#80792f" d="M3358,298l17,-46 -18,3 -16,70z"/><path color="#756f26" d="M3342,378l16,-80 -17,27 -15,97z"/><path color="#ffff80" d="M3409,284l16,46 -18,-63 -16,-25z"/><path color="#ffffc2" d="M3392,269l17,15 -18,-42 -16,10z"/><path color="#98913b" d="M3376,290l16,-21 -17,-17 -17,46z"/><path color="#7b7528" d="M3360,347l16,-57 -18,8 -16,80z"/><path class="m" d="M3360,347l16,-57 16,-21 17,15 16,46 -18,-63 -17,-46 -17,-2 -16,36 -16,70 -15,97 16,-44z"/>
<path color="#706a20" d="M3327,480l15,-102 -16,44 -15,113z"/><path color="#6e681b" d="M3312,596l15,-116 -16,55 -15,117z"/><path color="#6e6716" d="M3297,711l15,-115 -16,56 -15,110z"/><path color="#6f6812" d="M3282,815l15,-104 -16,51 -14,92z"/><path color="#736d20" d="M3344,433l16,-86 -18,31 -15,102z"/><path color="#6f691b" d="M3328,541l16,-108 -17,47 -15,116z"/><path color="#6e6716" d="M3313,656l15,-115 -16,55 -15,115z"/><path color="#6e6712" d="M3298,768l15,-112 -16,55 -15,104z"/><path class="m" d="M3298,768l15,-112 15,-115 16,-108 16,-86 -18,31 -16,44 -15,113 -15,117 -15,110 -14,92 15,-39z"/>
<path color="#676c18" d="M3268,898l14,-83 -15,39 -15,67z"/><path color="#637722" d="M3253,953l15,-55 -16,23 -15,35z"/><path color="#93cd51" d="M3237,976l16,-23 -16,3 -16,2z"/><path color="#97f85f" d="M3221,963l16,13 -16,-18 -16,-33z"/><path color="#656a17" d="M3283,865l15,-97 -16,47 -14,83z"/><path color="#5c701f" d="M3268,938l15,-73 -15,33 -15,55z"/><path color="#5a822e" d="M3253,981l15,-43 -15,15 -16,23z"/><path color="#b7ff7a" d="M3237,990l16,-9 -16,-5 -16,-13z"/><path class="m" d="M3237,990l16,-9 15,-43 15,-73 15,-97 -16,47 -15,39 -15,67 -15,35 -16,2 -16,-33 16,38z"/>
<path color="#31581e" d="M3204,918l17,45 -16,-38 -17,-65z"/><path color="#2d571c" d="M3186,842l18,76 -16,-58 -19,-91z"/><path color="#28561a" d="M3167,742l19,100 -17,-73 -19,-109z"/><path color="#245518" d="M3148,628l19,114 -17,-82 -20,-117z"/><path color="#7fe251" d="M3221,964l16,26 -16,-27 -17,-45z"/><path color="#2d571c" d="M3203,906l18,58 -17,-46 -18,-76z"/><path color="#28561a" d="M3185,819l18,87 -17,-64 -19,-100z"/><path color="#245518" d="M3166,712l19,107 -18,-77 -19,-114z"/><path class="m" d="M3166,712l19,107 18,87 18,58 16,26 -16,-27 -16,-38 -17,-65 -19,-91 -19,-109 -20,-117 18,85z"/>
<path color="#205516" d="M3128,510l20,118 -18,-85 -20,-115z"/><path color="#1b5414" d="M3107,399l21,111 -18,-82 -21,-98z"/><path color="#175312" d="M3087,310l20,89 -18,-69 -19,-72z"/><path color="#1c5327" d="M3067,251l20,59 -17,-52 -19,-36z"/><path color="#205516" d="M3146,595l20,117 -18,-84 -20,-118z"/><path color="#1b5414" d="M3125,478l21,117 -18,-85 -21,-111z"/><path color="#175312" d="M3105,374l20,104 -18,-79 -20,-89z"/><path color="#1c5327" d="M3085,295l20,79 -18,-64 -20,-59z"/><path class="m" d="M3085,295l20,79 20,104 21,117 20,117 -18,-84 -18,-85 -20,-115 -21,-98 -19,-72 -19,-36 16,29z"/>
<path color="#88ffed" d="M3049,231l18,20 -16,-29 -18,4z"/><path color="#437b8b" d="M3032,252l17,-21 -16,-5 -16,45z"/><path color="#336475" d="M3016,312l16,-60 -15,19 -14,81z"/><path color="#2c5b6e" d="M3002,406l14,-94 -13,40 -13,107z"/><path color="#6ce2c4" d="M3066,250l19,45 -18,-44 -18,-20z"/><path color="#7dd9f5" d="M3047,247l19,3 -17,-19 -17,21z"/><path color="#376c7e" d="M3031,284l16,-37 -15,5 -16,60z"/><path color="#2d5e71" d="M3016,359l15,-75 -15,28 -14,94z"/><path class="m" d="M3016,359l15,-75 16,-37 19,3 19,45 -18,-44 -16,-29 -18,4 -16,45 -14,81 -13,107 12,-53z"/>
<path color="#26566b" d="M2990,521l12,-115 -12,53 -12,123z"/><path color="#22536a" d="M2978,648l12,-127 -12,61 -12,126z"/><path color="#1e506a" d="M2966,773l12,-125 -12,60 -11,118z"/><path color="#1a4e6b" d="M2954,884l12,-111 -11,53 -13,98z"/><path color="#27576d" d="M3002,464l14,-105 -14,47 -12,115z"/><path color="#22536a" d="M2990,586l12,-122 -12,57 -12,127z"/><path color="#1e506a" d="M2978,714l12,-128 -12,62 -12,125z"/><path color="#1a4d6a" d="M2966,835l12,-121 -12,59 -12,111z"/><path class="m" d="M2966,835l12,-121 12,-128 12,-122 14,-105 -14,47 -12,53 -12,123 -12,126 -11,118 -13,98 12,-40z"/>
<path color="#174d6e" d="M2942,973l12,-89 -12,40 -13,72z"/><path color="#205277" d="M2928,1033l14,-60 -13,23 -15,39z"/><path color="#5887c2" d="M2912,1058l16,-25 -14,2 -16,4z"/><path color="#95aeff" d="M2894,1048l18,10 -14,-19 -19,-31z"/><path color="#164c6b" d="M2954,940l12,-105 -12,49 -12,89z"/><path color="#1e4d70" d="M2940,1018l14,-78 -12,33 -14,60z"/><path color="#365781" d="M2926,1065l14,-47 -12,15 -16,25z"/><path color="#b6d1ff" d="M2909,1076l17,-11 -14,-7 -18,-10z"/><path class="m" d="M2909,1076l17,-11 14,-47 14,-78 12,-105 -12,49 -12,40 -13,72 -15,39 -16,4 -19,-31 15,40z"/>
<path color="#998ad8" d="M2875,1003l19,45 -15,-40 -21,-64z"/><path color="#8679c9" d="M2853,927l22,76 -17,-59 -23,-92z"/><path color="#7a6cc1" d="M2829,826l24,101 -18,-75 -24,-111z"/><path color="#322c56" d="M2804,709l25,117 -18,-85 -26,-121z"/><path color="#a697ea" d="M2891,1052l18,24 -15,-28 -19,-45z"/><path color="#8a7ccf" d="M2870,993l21,59 -16,-49 -22,-76z"/><path color="#7b6ec4" d="M2847,906l23,87 -17,-66 -24,-101z"/><path color="#7063be" d="M2822,797l25,109 -18,-80 -25,-117z"/><path class="m" d="M2822,797l25,109 23,87 21,59 18,24 -15,-28 -15,-40 -21,-64 -23,-92 -24,-111 -26,-121 19,89z"/>
<path color="#2e2855" d="M2778,586l26,123 -19,-89 -26,-119z"/><path color="#5f52bb" d="M2751,471l27,115 -19,-85 -26,-103z"/><path color="#594cbf" d="M2726,376l25,95 -18,-73 -24,-78z"/><path color="#5849cc" d="M2703,312l23,64 -17,-56 -22,-41z"/><path color="#2e2855" d="M2797,675l25,122 -18,-88 -26,-123z"/><path color="#5e51b9" d="M2770,553l27,122 -19,-89 -27,-115z"/><path color="#574aba" d="M2744,444l26,109 -19,-82 -25,-95z"/><path color="#5244c1" d="M2719,360l25,84 -18,-68 -23,-64z"/><path class="m" d="M2719,360l25,84 26,109 27,122 25,122 -18,-88 -19,-89 -26,-119 -26,-103 -24,-78 -22,-41 16,33z"/>
<path color="#a474f6" d="M2682,287l21,25 -16,-33 -19,0z"/><path color="#643c6c" d="M2664,304l18,-17 -14,-8 -16,43z"/><path color="#68364f" d="M2649,363l15,-59 -12,18 -13,80z"/><path color="#6c3343" d="M2637,456l12,-93 -10,39 -10,108z"/><path color="#865ccd" d="M2697,310l22,50 -16,-48 -21,-25z"/><path color="#c57cd3" d="M2677,302l20,8 -15,-23 -18,17z"/><path color="#713b56" d="M2660,336l17,-34 -13,2 -15,59z"/><path color="#6f3545" d="M2646,411l14,-75 -11,27 -12,93z"/><path class="m" d="M2646,411l14,-75 17,-34 20,8 22,50 -16,-48 -16,-33 -19,0 -16,43 -13,80 -10,108 8,-54z"/>
<path color="#682d3c" d="M2627,574l10,-118 -8,54 -9,126z"/><path color="#662736" d="M2619,704l8,-130 -7,62 -8,130z"/><path color="#652331" d="M2611,833l8,-129 -7,62 -8,122z"/><path color="#651e2c" d="M2602,950l9,-117 -7,55 -9,104z"/><path color="#692d3d" d="M2635,516l11,-105 -9,45 -10,118z"/><path color="#662836" d="M2626,641l9,-125 -8,58 -8,130z"/><path color="#642231" d="M2618,773l8,-132 -7,63 -8,129z"/><path color="#641e2c" d="M2609,899l9,-126 -7,60 -9,117z"/><path class="m" d="M2609,899l9,-126 8,-132 9,-125 11,-105 -9,45 -8,54 -9,126 -8,130 -8,122 -9,104 7,-42z"/>
<path color="#661a28" d="M2592,1044l10,-94 -7,42 -12,77z"/><path color="#6d1625" d="M2579,1109l13,-65 -9,25 -14,44z"/><path color="#9d1f33" d="M2564,1139l15,-30 -10,4 -17,8z"/><path color="#f82c4b" d="M2545,1133l19,6 -12,-18 -22,-28z"/><path color="#641927" d="M2600,1009l9,-110 -7,51 -10,94z"/><path color="#671523" d="M2589,1093l11,-84 -8,35 -13,65z"/><path color="#731322" d="M2575,1144l14,-51 -10,16 -15,30z"/><path color="#ff3b59" d="M2558,1160l17,-16 -11,-5 -19,-6z"/><path class="m" d="M2558,1160l17,-16 14,-51 11,-84 9,-110 -7,51 -7,42 -12,77 -14,44 -17,8 -22,-28 15,40z"/>
<path color="#614320" d="M3617,465l14,37 -18,-20 -15,-6z"/><path color="#8f622e" d="M3601,456l16,9 -19,11 -16,19z"/><path color="#bc7d37" d="M3585,475l16,-19 -19,39 -16,38z"/><path color="#c37e34" d="M3569,514l16,-39 -19,58 -16,45z"/><path color="#614320" d="M3635,482l14,64 -18,-44 -14,-37z"/><path color="#60411d" d="M3621,444l14,38 -18,-17 -16,-9z"/><path color="#8f5f2a" d="M3605,435l16,9 -20,12 -16,19z"/><path color="#bb7932" d="M3589,455l16,-20 -20,40 -16,39z"/><path class="m" d="M3589,455l16,-20 16,9 14,38 14,64 -18,-44 -18,-20 -15,-6 -16,19 -16,38 -16,45 19,-64z"/>
<path color="#c2792e" d="M3553,559l16,-45 -19,64 -16,38z"/><path color="#b96f26" d="M3537,600l16,-41 -19,57 -16,21z"/><path color="#8d5219" d="M3521,623l16,-23 -19,37 -15,-4z"/><path color="#5d330c" d="M3505,622l16,1 -18,10 -15,-32z"/><path color="#c1782e" d="M3573,495l16,-40 -20,59 -16,45z"/><path color="#bf7327" d="M3556,544l17,-49 -20,64 -16,41z"/><path color="#b66a20" d="M3540,588l16,-44 -19,56 -16,23z"/><path color="#8c4e14" d="M3524,615l16,-27 -19,35 -16,-1z"/><path class="m" d="M3524,615l16,-27 16,-44 17,-49 16,-40 -20,59 -19,64 -16,38 -16,21 -15,-4 -15,-32 17,21z"/>
<path color="#5c3109" d="M3490,594l15,28 -17,-21 -16,-55z"/><path color="#5d360d" d="M3474,542l16,52 -18,-48 -15,-72z"/><path color="#5e4217" d="M3459,475l15,67 -17,-68 -16,-76z"/><path color="#5f4e20" d="M3443,405l16,70 -18,-77 -16,-68z"/><path color="#5c3109" d="M3508,617l16,-2 -19,7 -15,-28z"/><path color="#5d360d" d="M3492,593l16,24 -18,-23 -16,-52z"/><path color="#5e4217" d="M3477,546l15,47 -18,-51 -15,-67z"/><path color="#f1c856" d="M3461,485l16,61 -18,-71 -16,-70z"/><path class="m" d="M3461,485l16,61 15,47 16,24 16,-2 -19,7 -17,-21 -16,-55 -15,-72 -16,-76 -16,-68 18,75z"/>
<path color="#fff775" d="M3427,345l16,60 -18,-75 -16,-46z"/><path color="#ffff86" d="M3410,308l17,37 -18,-61 -17,-15z"/><path color="#ffffb7" d="M3394,303l16,5 -18,-39 -16,21z"/><path color="#8c8530" d="M3377,334l17,-31 -18,-13 -16,57z"/><path color="#fcf171" d="M3445,421l16,64 -18,-80 -16,-60z"/><path color="#ffff73" d="M3429,369l16,52 -18,-76 -17,-37z"/><path color="#ffff93" d="M3412,340l17,29 -19,-61 -16,-5z"/><path color="#ffff7e" d="M3395,344l17,-4 -18,-37 -17,31z"/><path class="m" d="M3395,344l17,-4 17,29 16,52 16,64 -18,-80 -18,-75 -16,-46 -17,-15 -16,21 -16,57 17,-13z"/>
<path color="#787222" d="M3361,399l16,-65 -17,13 -16,86z"/><path color="#726b1c" d="M3345,492l16,-93 -17,34 -16,108z"/><path color="#6f6816" d="M3329,601l16,-109 -17,49 -15,115z"/><path color="#6e6712" d="M3314,715l15,-114 -16,55 -15,112z"/><path color="#867e28" d="M3379,383l16,-39 -18,-10 -16,65z"/><path color="#766f1d" d="M3362,454l17,-71 -18,16 -16,93z"/><path color="#716a17" d="M3346,551l16,-97 -17,38 -16,109z"/><path color="#6e6712" d="M3330,661l16,-110 -17,50 -15,114z"/><path class="m" d="M3330,661l16,-110 16,-97 17,-71 16,-39 -18,-10 -17,13 -16,86 -16,108 -15,115 -15,112 16,-53z"/>
<path color="#636817" d="M3299,821l15,-106 -16,53 -15,97z"/><path color="#596c1e" d="M3284,910l15,-89 -16,44 -15,73z"/><path color="#507428" d="M3269,972l15,-62 -16,28 -15,43z"/><path color="#619e3e" d="M3253,1002l16,-30 -16,9 -16,9z"/><path color="#636817" d="M3315,772l15,-111 -16,54 -15,106z"/><path color="#586a1d" d="M3300,872l15,-100 -16,49 -15,89z"/><path color="#4c6e26" d="M3285,951l15,-79 -16,38 -15,62z"/><path color="#4a7a2d" d="M3269,1001l16,-50 -16,21 -16,30z"/><path class="m" d="M3269,1001l16,-50 15,-79 15,-100 15,-111 -16,54 -16,53 -15,97 -15,73 -15,43 -16,9 16,12z"/>
<path color="#95ff61" d="M3237,998l16,4 -16,-12 -16,-26z"/><path color="#2d571c" d="M3220,959l17,39 -16,-34 -18,-58z"/><path color="#28561a" d="M3202,889l18,70 -17,-53 -18,-87z"/><path color="#245518" d="M3184,794l18,95 -17,-70 -19,-107z"/><path color="#8cec5f" d="M3253,1019l16,-18 -16,1 -16,-4z"/><path color="#79e84f" d="M3237,1001l16,18 -16,-21 -17,-39z"/><path color="#28561a" d="M3219,950l18,51 -17,-42 -18,-70z"/><path color="#245518" d="M3201,869l18,81 -17,-61 -18,-95z"/><path class="m" d="M3201,869l18,81 18,51 16,18 16,-18 -16,1 -16,-12 -16,-26 -18,-58 -18,-87 -19,-107 18,82z"/>
<path color="#205516" d="M3164,681l20,113 -18,-82 -20,-117z"/><path color="#1b5414" d="M3144,561l20,120 -18,-86 -21,-117z"/><path color="#175312" d="M3123,448l21,113 -19,-83 -20,-104z"/><path color="#1c5327" d="M3103,352l20,96 -18,-74 -20,-79z"/><path color="#205516" d="M3182,765l19,104 -17,-75 -20,-113z"/><path color="#1b5414" d="M3162,648l20,117 -18,-84 -20,-120z"/><path color="#175312" d="M3142,529l20,119 -18,-87 -21,-113z"/><path color="#1c5327" d="M3121,420l21,109 -19,-81 -20,-96z"/><path class="m" d="M3121,420l21,109 20,119 20,117 19,104 -17,-75 -18,-82 -20,-117 -21,-117 -20,-104 -20,-79 18,57z"/>
<path color="#265247" d="M3083,285l20,67 -18,-57 -19,-45z"/><path color="#8dfbff" d="M3064,256l19,29 -17,-35 -19,-3z"/><path color="#47869c" d="M3046,269l18,-13 -17,-9 -16,37z"/><path color="#2f6377" d="M3030,323l16,-54 -15,15 -15,75z"/><path color="#265247" d="M3101,335l20,85 -18,-68 -20,-67z"/><path color="#75d5f3" d="M3081,282l20,53 -18,-50 -19,-29z"/><path color="#90ffff" d="M3062,269l19,13 -17,-26 -18,13z"/><path color="#356d83" d="M3045,299l17,-30 -16,0 -16,54z"/><path class="m" d="M3045,299l17,-30 19,13 20,53 20,85 -18,-68 -18,-57 -19,-45 -19,-3 -16,37 -15,75 14,-36z"/>
<path color="#28596f" d="M3015,412l15,-89 -14,36 -14,105z"/><path color="#22546b" d="M3002,525l13,-113 -13,52 -12,122z"/><path color="#1e506a" d="M2990,652l12,-127 -12,61 -12,128z"/><path color="#1a4d69" d="M2978,780l12,-128 -12,62 -12,121z"/><path color="#295c72" d="M3029,368l16,-69 -15,24 -15,89z"/><path color="#23556d" d="M3015,469l14,-101 -14,44 -13,113z"/><path color="#1e506a" d="M3002,590l13,-121 -13,56 -12,127z"/><path color="#1a4d69" d="M2990,720l12,-130 -12,62 -12,128z"/><path class="m" d="M2990,720l12,-130 13,-121 14,-101 16,-69 -15,24 -14,36 -14,105 -12,122 -12,128 -12,121 12,-55z"/>
<path color="#164b6a" d="M2966,896l12,-116 -12,55 -12,105z"/><path color="#1c4b6d" d="M2953,992l13,-96 -12,44 -14,78z"/><path color="#304e74" d="M2939,1058l14,-66 -13,26 -14,47z"/><path color="#5a699c" d="M2924,1092l15,-34 -13,7 -17,11z"/><path color="#164a69" d="M2978,845l12,-125 -12,60 -12,116z"/><path color="#1c496a" d="M2965,955l13,-110 -12,51 -13,96z"/><path color="#2d4b6f" d="M2952,1040l13,-85 -12,37 -14,66z"/><path color="#45517b" d="M2937,1094l15,-54 -13,18 -15,34z"/><path class="m" d="M2937,1094l15,-54 13,-85 13,-110 12,-125 -12,60 -12,55 -12,105 -14,78 -14,47 -17,11 15,16z"/>
<path color="#c7b5ff" d="M2906,1089l18,3 -15,-16 -18,-24z"/><path color="#9283da" d="M2886,1050l20,39 -15,-37 -21,-59z"/><path color="#7e70c8" d="M2865,979l21,71 -16,-57 -23,-87z"/><path color="#7164bf" d="M2841,881l24,98 -18,-73 -25,-109z"/><path color="#b9aafd" d="M2921,1113l16,-19 -13,-2 -18,-3z"/><path color="#a393f1" d="M2903,1095l18,18 -15,-24 -20,-39z"/><path color="#8375cf" d="M2882,1043l21,52 -17,-45 -21,-71z"/><path color="#7365c2" d="M2859,960l23,83 -17,-64 -24,-98z"/><path class="m" d="M2859,960l23,83 21,52 18,18 16,-19 -13,-2 -15,-16 -18,-24 -21,-59 -23,-87 -25,-109 19,84z"/>
<path color="#2e2855" d="M2816,765l25,116 -19,-84 -25,-122z"/><path color="#2a2453" d="M2789,641l27,124 -19,-90 -27,-122z"/><path color="#5648b8" d="M2763,522l26,119 -19,-88 -26,-109z"/><path color="#4f41ba" d="M2737,421l26,101 -19,-78 -25,-84z"/><path color="#675abc" d="M2835,853l24,107 -18,-79 -25,-116z"/><path color="#2a2453" d="M2809,732l26,121 -19,-88 -27,-124z"/><path color="#261f52" d="M2782,608l27,124 -20,-91 -26,-119z"/><path color="#4d40b7" d="M2756,493l26,115 -19,-86 -26,-101z"/><path class="m" d="M2756,493l26,115 27,124 26,121 24,107 -18,-79 -19,-84 -25,-122 -27,-122 -26,-109 -25,-84 18,61z"/>
<path color="#7953bb" d="M2713,348l24,73 -18,-61 -22,-50z"/><path color="#c578d3" d="M2691,315l22,33 -16,-38 -20,-8z"/><path color="#965174" d="M2672,324l19,-9 -14,-13 -17,34z"/><path color="#753848" d="M2656,375l16,-51 -12,12 -14,75z"/><path color="#734eb2" d="M2730,402l26,91 -19,-72 -24,-73z"/><path color="#a865b5" d="M2706,344l24,58 -17,-54 -22,-33z"/><path color="#ff99d5" d="M2685,327l21,17 -15,-29 -19,9z"/><path color="#823f51" d="M2668,353l17,-26 -13,-3 -16,51z"/><path class="m" d="M2668,353l17,-26 21,17 24,58 26,91 -19,-72 -18,-61 -22,-50 -20,-8 -17,34 -14,75 10,-36z"/>
<path color="#6b2e3e" d="M2643,464l13,-89 -10,36 -11,105z"/><path color="#672837" d="M2633,579l10,-115 -8,52 -9,125z"/><path color="#652331" d="M2624,710l9,-131 -7,62 -8,132z"/><path color="#631e2b" d="M2616,842l8,-132 -6,63 -9,126z"/><path color="#6f3040" d="M2653,421l15,-68 -12,22 -13,89z"/><path color="#682937" d="M2641,522l12,-101 -10,43 -10,115z"/><path color="#652331" d="M2632,646l9,-124 -8,57 -9,131z"/><path color="#631d2b" d="M2623,780l9,-134 -8,64 -8,132z"/><path class="m" d="M2623,780l9,-134 9,-124 12,-101 15,-68 -12,22 -10,36 -11,105 -9,125 -8,132 -9,126 7,-57z"/>
<path color="#631926" d="M2608,963l8,-121 -7,57 -9,110z"/><path color="#641422" d="M2598,1064l10,-101 -8,46 -11,84z"/><path color="#69101e" d="M2585,1136l13,-72 -9,29 -14,51z"/><path color="#811223" d="M2570,1174l15,-38 -10,8 -17,16z"/><path color="#621926" d="M2615,910l8,-130 -7,62 -8,121z"/><path color="#621421" d="M2606,1025l9,-115 -7,53 -10,101z"/><path color="#65101d" d="M2595,1116l11,-91 -8,39 -13,72z"/><path color="#6d0d1b" d="M2581,1175l14,-59 -10,20 -15,38z"/><path class="m" d="M2581,1175l14,-59 11,-91 9,-115 8,-130 -7,62 -7,57 -9,110 -11,84 -14,51 -17,16 12,14z"/>
<path color="#614320" d="M3654,525l13,83 -18,-62 -14,-64z"/><path color="#60411d" d="M3640,459l14,66 -19,-43 -14,-38z"/><path color="#603f1a" d="M3625,421l15,38 -19,-15 -16,-9z"/><path color="#905d27" d="M3609,414l16,7 -20,14 -16,20z"/><path color="#614320" d="M3672,586l12,96 -17,-74 -13,-83z"/><path color="#60411d" d="M3658,500l14,86 -18,-61 -14,-66z"/><path color="#603f1a" d="M3644,435l14,65 -18,-41 -15,-38z"/><path color="#5f3c17" d="M3629,399l15,36 -19,-14 -16,-7z"/><path class="m" d="M3629,399l15,36 14,65 14,86 12,96 -17,-74 -18,-62 -14,-64 -14,-38 -16,-9 -16,20 20,-41z"/>
<path color="#b9742c" d="M3593,437l16,-23 -20,41 -16,40z"/><path color="#bf7327" d="M3576,480l17,-43 -20,58 -17,49z"/><path color="#bc6d21" d="M3559,533l17,-53 -20,64 -16,44z"/><path color="#723f0f" d="M3543,581l16,-48 -19,55 -16,27z"/><path color="#915b23" d="M3613,395l16,4 -20,15 -16,23z"/><path color="#b76e26" d="M3596,422l17,-27 -20,42 -17,43z"/><path color="#6e3f12" d="M3579,470l17,-48 -20,58 -17,53z"/><path color="#6d3c0e" d="M3562,528l17,-58 -20,63 -16,48z"/><path class="m" d="M3562,528l17,-58 17,-48 17,-27 16,4 -20,15 -20,41 -16,40 -17,49 -16,44 -16,27 19,-34z"/>
<path color="#84470e" d="M3526,613l17,-32 -19,34 -16,2z"/><path color="#ff9b2b" d="M3510,620l16,-7 -18,4 -16,-24z"/><path color="#ffb744" d="M3494,601l16,19 -18,-27 -15,-47z"/><path color="#fbd15a" d="M3479,559l15,42 -17,-55 -16,-61z"/><path color="#723d0c" d="M3545,581l17,-53 -19,53 -17,32z"/><path color="#864e14" d="M3529,618l16,-37 -19,32 -16,7z"/><path color="#ffd859" d="M3513,631l16,-13 -19,2 -16,-19z"/><path color="#ffeb69" d="M3497,618l16,13 -19,-30 -15,-42z"/><path class="m" d="M3497,618l16,13 16,-13 16,-37 17,-53 -19,53 -19,34 -16,2 -16,-24 -15,-47 -16,-61 18,74z"/>
<path color="#fef373" d="M3463,503l16,56 -18,-74 -16,-64z"/><path color="#fffa6e" d="M3447,445l16,58 -18,-82 -16,-52z"/><path color="#ffff73" d="M3430,400l17,45 -18,-76 -17,-29z"/><path color="#ffffa7" d="M3414,378l16,22 -18,-60 -17,4z"/><path color="#ffff7a" d="M3481,581l16,37 -18,-59 -16,-56z"/><path color="#fffb6f" d="M3465,530l16,51 -18,-78 -16,-58z"/><path color="#ffff6b" d="M3448,478l17,52 -18,-85 -17,-45z"/><path color="#ffff74" d="M3432,438l16,40 -18,-78 -16,-22z"/><path class="m" d="M3432,438l16,40 17,52 16,51 16,37 -18,-59 -18,-74 -16,-64 -16,-52 -17,-29 -17,4 19,34z"/>
<path color="#dad054" d="M3397,390l17,-12 -19,-34 -16,39z"/><path color="#817a21" d="M3380,435l17,-45 -18,-7 -17,71z"/><path color="#756e18" d="M3364,512l16,-77 -18,19 -16,97z"/><path color="#706912" d="M3347,610l17,-98 -18,39 -16,110z"/><path color="#ffffb6" d="M3415,423l17,15 -18,-60 -17,12z"/><path color="#b6ac3b" d="M3398,440l17,-17 -18,-33 -17,45z"/><path color="#7e771b" d="M3381,490l17,-50 -18,-5 -16,77z"/><path color="#736c13" d="M3365,569l16,-79 -17,22 -17,98z"/><path class="m" d="M3365,569l16,-79 17,-50 17,-17 17,15 -18,-60 -19,-34 -16,39 -17,71 -16,97 -16,110 17,-51z"/>
<path color="#636817" d="M3332,719l15,-109 -17,51 -15,111z"/><path color="#57691d" d="M3316,825l16,-106 -17,53 -15,100z"/><path color="#4a6b24" d="M3301,917l15,-92 -16,47 -15,79z"/><path color="#437129" d="M3285,986l16,-69 -16,34 -16,50z"/><path color="#646917" d="M3349,668l16,-99 -18,41 -15,109z"/><path color="#57691d" d="M3333,774l16,-106 -17,51 -16,106z"/><path color="#496a24" d="M3317,874l16,-100 -17,51 -15,92z"/><path color="#416c27" d="M3302,958l15,-84 -16,43 -16,69z"/><path class="m" d="M3302,958l15,-84 16,-100 16,-106 16,-99 -18,41 -17,51 -15,111 -15,100 -15,79 -16,50 16,-15z"/>
<path color="#4b8430" d="M3270,1025l15,-39 -16,15 -16,18z"/><path color="#92ff63" d="M3253,1029l17,-4 -17,-6 -16,-18z"/><path color="#28561a" d="M3236,999l17,30 -16,-28 -18,-51z"/><path color="#245518" d="M3219,936l17,63 -17,-49 -18,-81z"/><path color="#407428" d="M3286,1016l16,-58 -17,28 -15,39z"/><path color="#5aa93c" d="M3270,1043l16,-27 -16,9 -17,4z"/><path color="#74ef4e" d="M3253,1034l17,9 -17,-14 -17,-30z"/><path color="#245518" d="M3236,991l17,43 -17,-35 -17,-63z"/><path class="m" d="M3236,991l17,43 17,9 16,-27 16,-58 -17,28 -16,15 -16,18 -16,-18 -18,-51 -18,-81 18,67z"/>
<path color="#205516" d="M3200,845l19,91 -18,-67 -19,-104z"/><path color="#1b5414" d="M3180,735l20,110 -18,-80 -20,-117z"/><path color="#175312" d="M3160,615l20,120 -18,-87 -20,-119z"/><path color="#1c5327" d="M3140,498l20,117 -18,-86 -21,-109z"/><path color="#205516" d="M3218,917l18,74 -17,-55 -19,-91z"/><path color="#1b5414" d="M3199,818l19,99 -18,-72 -20,-110z"/><path color="#175312" d="M3179,703l20,115 -19,-83 -20,-120z"/><path color="#1c5327" d="M3158,583l21,120 -19,-88 -20,-117z"/><path class="m" d="M3158,583l21,120 20,115 19,99 18,74 -17,-55 -18,-67 -19,-104 -20,-117 -20,-119 -21,-109 19,78z"/>
<path color="#265247" d="M3119,397l21,101 -19,-78 -20,-85z"/><path color="#2b515d" d="M3099,323l20,74 -18,-62 -20,-53z"/><path color="#78e4ff" d="M3079,285l20,38 -18,-41 -19,-13z"/><path color="#53a1bf" d="M3061,290l18,-5 -17,-16 -17,30z"/><path color="#265247" d="M3137,470l21,113 -18,-85 -21,-101z"/><path color="#2b515d" d="M3117,378l20,92 -18,-73 -20,-74z"/><path color="#284f5c" d="M3097,317l20,61 -18,-55 -20,-38z"/><path color="#84feff" d="M3077,296l20,21 -18,-32 -18,5z"/><path class="m" d="M3077,296l20,21 20,61 20,92 21,113 -18,-85 -19,-78 -20,-85 -20,-53 -19,-13 -17,30 16,-9z"/>
<path color="#2c6279" d="M3044,336l17,-46 -16,9 -16,69z"/><path color="#24576f" d="M3029,419l15,-83 -15,32 -14,101z"/><path color="#1e516b" d="M3015,530l14,-111 -14,50 -13,121z"/><path color="#1a4d69" d="M3002,657l13,-127 -13,60 -12,130z"/><path color="#34708b" d="M3060,317l17,-21 -16,-6 -17,46z"/><path color="#255a74" d="M3043,379l17,-62 -16,19 -15,83z"/><path color="#1f526d" d="M3029,475l14,-96 -14,40 -14,111z"/><path color="#1a4d6a" d="M3015,595l14,-120 -14,55 -13,127z"/><path class="m" d="M3015,595l14,-120 14,-96 17,-62 17,-21 -16,-6 -16,9 -16,69 -14,101 -13,121 -12,130 12,-63z"/>
<path color="#164a69" d="M2990,787l12,-130 -12,63 -12,125z"/><path color="#1b4869" d="M2978,908l12,-121 -12,58 -13,110z"/><path color="#2c496c" d="M2965,1010l13,-102 -13,47 -13,85z"/><path color="#3f4b72" d="M2951,1084l14,-74 -13,30 -15,54z"/><path color="#164a69" d="M3002,725l13,-130 -13,62 -12,130z"/><path color="#1b4869" d="M2990,854l12,-129 -12,62 -12,121z"/><path color="#2b476a" d="M2977,969l13,-115 -12,54 -13,102z"/><path color="#3d486d" d="M2964,1061l13,-92 -12,41 -14,74z"/><path class="m" d="M2964,1061l13,-92 13,-115 12,-129 13,-130 -13,62 -12,63 -12,125 -13,110 -13,85 -15,54 14,-10z"/>
<path color="#605788" d="M2935,1124l16,-40 -14,10 -16,19z"/><path color="#ccbaff" d="M2918,1129l17,-5 -14,-11 -18,-18z"/><path color="#8c7ddd" d="M2899,1097l19,32 -15,-34 -21,-52z"/><path color="#7668c7" d="M2877,1031l22,66 -17,-54 -23,-83z"/><path color="#534b76" d="M2949,1123l15,-62 -13,23 -16,40z"/><path color="#8377be" d="M2933,1149l16,-26 -14,1 -17,5z"/><path color="#a291fc" d="M2915,1139l18,10 -15,-20 -19,-32z"/><path color="#7b6dd0" d="M2894,1093l21,46 -16,-42 -22,-66z"/><path class="m" d="M2894,1093l21,46 18,10 16,-26 15,-62 -13,23 -14,10 -16,19 -18,-18 -21,-52 -23,-83 18,71z"/>
<path color="#685bbe" d="M2853,937l24,94 -18,-71 -24,-107z"/><path color="#2a2453" d="M2828,823l25,114 -18,-84 -26,-121z"/><path color="#261f52" d="M2802,698l26,125 -19,-91 -27,-124z"/><path color="#4c3fb5" d="M2775,575l27,123 -20,-90 -26,-115z"/><path color="#6a5dc1" d="M2872,1015l22,78 -17,-62 -24,-94z"/><path color="#5f51ba" d="M2847,911l25,104 -19,-78 -25,-114z"/><path color="#261f52" d="M2821,790l26,121 -19,-88 -26,-125z"/><path color="#211b51" d="M2794,664l27,126 -19,-92 -27,-123z"/><path class="m" d="M2794,664l27,126 26,121 25,104 22,78 -17,-62 -18,-71 -24,-107 -26,-121 -27,-124 -26,-115 19,82z"/>
<path color="#704cad" d="M2748,468l27,107 -19,-82 -26,-91z"/><path color="#9c5da8" d="M2723,388l25,80 -18,-66 -24,-58z"/><path color="#e67cb2" d="M2700,345l23,43 -17,-44 -21,-17z"/><path color="#cc6883" d="M2681,346l19,-1 -15,-18 -17,26z"/><path color="#6e4baa" d="M2767,545l27,119 -19,-89 -27,-107z"/><path color="#9659a2" d="M2741,446l26,99 -19,-77 -25,-80z"/><path color="#cd6d9e" d="M2717,380l24,66 -18,-58 -23,-43z"/><path color="#ff93b9" d="M2695,354l22,26 -17,-35 -19,1z"/><path class="m" d="M2695,354l22,26 24,66 26,99 27,119 -19,-89 -19,-82 -26,-91 -24,-58 -21,-17 -17,26 13,-7z"/>
<path color="#763444" d="M2664,390l17,-44 -13,7 -15,68z"/><path color="#6b2a39" d="M2650,473l14,-83 -11,31 -12,101z"/><path color="#662331" d="M2639,585l11,-112 -9,49 -9,124z"/><path color="#631e2b" d="M2630,716l9,-131 -7,61 -9,134z"/><path color="#893d50" d="M2676,372l19,-18 -14,-8 -17,44z"/><path color="#702b3b" d="M2661,433l15,-61 -12,18 -14,83z"/><path color="#682432" d="M2648,530l13,-97 -11,40 -11,112z"/><path color="#641e2c" d="M2638,652l10,-122 -9,55 -9,131z"/><path class="m" d="M2638,652l10,-122 13,-97 15,-61 19,-18 -14,-8 -13,7 -15,68 -12,101 -9,124 -9,134 7,-64z"/>
<path color="#621926" d="M2622,850l8,-134 -7,64 -8,130z"/><path color="#611421" d="M2613,977l9,-127 -7,60 -9,115z"/><path color="#620f1c" d="M2603,1084l10,-107 -7,48 -11,91z"/><path color="#660c19" d="M2591,1163l12,-79 -8,32 -14,59z"/><path color="#621926" d="M2629,787l9,-135 -8,64 -8,134z"/><path color="#611421" d="M2621,920l8,-133 -7,63 -9,127z"/><path color="#610f1c" d="M2611,1041l10,-121 -8,57 -10,107z"/><path color="#630b18" d="M2601,1139l10,-98 -8,43 -12,79z"/><path class="m" d="M2601,1139l10,-98 10,-121 8,-133 9,-135 -8,64 -7,64 -8,130 -9,115 -11,91 -14,59 10,-12z"/>
<path color="#614320" d="M3689,660l13,98 -18,-76 -12,-96z"/><path color="#60411d" d="M3676,561l13,99 -17,-74 -14,-86z"/><path color="#603f1a" d="M3663,474l13,87 -18,-61 -14,-65z"/><path color="#5f3c17" d="M3648,411l15,63 -19,-39 -15,-36z"/><path color="#614320" d="M3707,738l12,95 -17,-75 -13,-98z"/><path color="#60411d" d="M3694,634l13,104 -18,-78 -13,-99z"/><path color="#603f1a" d="M3681,533l13,101 -18,-73 -13,-87z"/><path color="#5f3c17" d="M3668,447l13,86 -18,-59 -15,-63z"/><path class="m" d="M3668,447l13,86 13,101 13,104 12,95 -17,-75 -18,-76 -12,-96 -14,-86 -14,-65 -15,-36 19,12z"/>
<path color="#5e3a15" d="M3633,378l15,33 -19,-12 -16,-4z"/><path color="#975b1f" d="M3617,380l16,-2 -20,17 -17,27z"/><path color="#b5691f" d="M3600,412l17,-32 -21,42 -17,48z"/><path color="#6e3d0e" d="M3583,467l17,-55 -21,58 -17,58z"/><path color="#5e3a15" d="M3653,387l15,60 -20,-36 -15,-33z"/><path color="#5e3812" d="M3637,361l16,26 -20,-9 -16,2z"/><path color="#9d5b1b" d="M3621,370l16,-9 -20,19 -17,32z"/><path color="#713f0f" d="M3603,410l18,-40 -21,42 -17,55z"/><path class="m" d="M3603,410l18,-40 16,-9 16,26 15,60 -20,-36 -19,-12 -16,-4 -17,27 -17,48 -17,58 21,-61z"/>
<path color="#6e3a0b" d="M3565,531l18,-64 -21,61 -17,53z"/><path color="#734310" d="M3548,590l17,-59 -20,50 -16,37z"/><path color="#886023" d="M3531,633l17,-43 -19,28 -16,13z"/><path color="#ffff8f" d="M3515,651l16,-18 -18,-2 -16,-13z"/><path color="#6d3a0b" d="M3586,472l17,-62 -20,57 -18,64z"/><path color="#6e4010" d="M3568,542l18,-70 -21,59 -17,59z"/><path color="#75521d" d="M3551,608l17,-66 -20,48 -17,43z"/><path color="#897231" d="M3534,657l17,-49 -20,25 -16,18z"/><path class="m" d="M3534,657l17,-49 17,-66 18,-70 17,-62 -20,57 -21,61 -17,53 -16,37 -16,13 -16,-13 18,33z"/>
<path color="#ffff93" d="M3499,643l16,8 -18,-33 -16,-37z"/><path color="#ffff77" d="M3483,611l16,32 -18,-62 -16,-51z"/><path color="#ffff6b" d="M3467,566l16,45 -18,-81 -17,-52z"/><path color="#ffff67" d="M3450,518l17,48 -19,-88 -16,-40z"/><path color="#ffffb9" d="M3517,680l17,-23 -19,-6 -16,-8z"/><path color="#ffff9a" d="M3501,677l16,3 -18,-37 -16,-32z"/><path color="#ffff75" d="M3485,650l16,27 -18,-66 -16,-45z"/><path color="#ffff66" d="M3468,608l17,42 -18,-84 -17,-48z"/><path class="m" d="M3468,608l17,42 16,27 16,3 17,-23 -19,-6 -18,-33 -16,-37 -16,-51 -17,-52 -16,-40 18,80z"/>
<path color="#ffff74" d="M3434,483l16,35 -18,-80 -17,-15z"/><path color="#ffffb8" d="M3417,472l17,11 -19,-60 -17,17z"/><path color="#a69d2e" d="M3400,493l17,-21 -19,-32 -17,50z"/><path color="#7c7516" d="M3383,546l17,-53 -19,-3 -16,79z"/><path color="#ffff62" d="M3452,564l16,44 -18,-90 -16,-35z"/><path color="#ffff71" d="M3435,532l17,32 -18,-81 -17,-11z"/><path color="#ffffaf" d="M3418,524l17,8 -18,-60 -17,21z"/><path color="#9e9524" d="M3401,547l17,-23 -18,-31 -17,53z"/><path class="m" d="M3401,547l17,-23 17,8 17,32 16,44 -18,-90 -18,-80 -17,-15 -17,17 -17,50 -16,79 18,-23z"/>
<path color="#676d18" d="M3366,626l17,-80 -18,23 -16,99z"/><path color="#586a1d" d="M3350,723l16,-97 -17,42 -16,106z"/><path color="#496a24" d="M3334,825l16,-102 -17,51 -16,100z"/><path color="#3f6a27" d="M3318,918l16,-93 -17,49 -15,84z"/><path color="#6f751b" d="M3384,601l17,-54 -18,-1 -17,80z"/><path color="#5a6d1e" d="M3368,680l16,-79 -18,25 -16,97z"/><path color="#4a6b24" d="M3351,774l17,-94 -18,43 -16,102z"/><path color="#3f6a26" d="M3335,871l16,-97 -17,51 -16,93z"/><path class="m" d="M3335,871l16,-97 17,-94 16,-79 17,-54 -18,-1 -18,23 -16,99 -16,106 -16,100 -15,84 16,-40z"/>
<path color="#3d6d26" d="M3302,993l16,-75 -16,40 -16,58z"/><path color="#3e7928" d="M3286,1040l16,-47 -16,23 -16,27z"/><path color="#75e852" d="M3270,1054l16,-14 -16,3 -17,-9z"/><path color="#245518" d="M3253,1034l17,20 -17,-20 -17,-43z"/><path color="#3b6a25" d="M3319,957l16,-86 -17,47 -16,75z"/><path color="#396e24" d="M3303,1022l16,-65 -17,36 -16,47z"/><path color="#3e8129" d="M3287,1058l16,-36 -17,18 -16,14z"/><path color="#6cf24c" d="M3270,1061l17,-3 -17,-4 -17,-20z"/><path class="m" d="M3270,1061l17,-3 16,-36 16,-65 16,-86 -17,47 -16,40 -16,58 -16,27 -17,-9 -17,-43 17,43z"/>
<path color="#205516" d="M3235,979l18,55 -17,-43 -18,-74z"/><path color="#1b5414" d="M3217,895l18,84 -17,-62 -19,-99z"/><path color="#175312" d="M3197,789l20,106 -18,-77 -20,-115z"/><path color="#1c5327" d="M3177,670l20,119 -18,-86 -21,-120z"/><path color="#205516" d="M3253,1028l17,33 -17,-27 -18,-55z"/><path color="#1b5414" d="M3235,963l18,65 -18,-49 -18,-84z"/><path color="#175312" d="M3216,870l19,93 -18,-68 -20,-106z"/><path color="#1c5327" d="M3196,758l20,112 -19,-81 -20,-119z"/><path class="m" d="M3196,758l20,112 19,93 18,65 17,33 -17,-27 -17,-43 -18,-74 -19,-99 -20,-115 -21,-120 19,87z"/>
<path color="#265247" d="M3156,551l21,119 -19,-87 -21,-113z"/><path color="#2b515d" d="M3135,445l21,106 -19,-81 -20,-92z"/><path color="#284f5c" d="M3115,364l20,81 -18,-67 -20,-61z"/><path color="#68d2fc" d="M3095,318l20,46 -18,-47 -20,-21z"/><path color="#265247" d="M3175,638l21,120 -19,-88 -21,-119z"/><path color="#2b515d" d="M3155,523l20,115 -19,-87 -21,-106z"/><path color="#284f5c" d="M3134,424l21,99 -20,-78 -20,-81z"/><path color="#244c5c" d="M3113,356l21,68 -19,-60 -20,-46z"/><path class="m" d="M3113,356l21,68 21,99 20,115 21,120 -19,-88 -19,-87 -21,-113 -20,-92 -20,-61 -20,-21 18,22z"/>
<path color="#69cefb" d="M3076,313l19,5 -18,-22 -17,21z"/><path color="#29627d" d="M3059,351l17,-38 -16,4 -17,62z"/><path color="#205570" d="M3043,428l16,-77 -16,28 -14,96z"/><path color="#1a4e6b" d="M3028,536l15,-108 -14,47 -14,120z"/><path color="#6fe6ff" d="M3093,325l20,31 -18,-38 -19,-5z"/><path color="#377d9f" d="M3075,338l18,-13 -17,-12 -17,38z"/><path color="#225976" d="M3058,393l17,-55 -16,13 -16,77z"/><path color="#1b506d" d="M3043,483l15,-90 -15,35 -15,108z"/><path class="m" d="M3043,483l15,-90 17,-55 18,-13 20,31 -18,-38 -18,-22 -17,21 -17,62 -14,96 -14,120 13,-59z"/>
<path color="#164a69" d="M3015,662l13,-126 -13,59 -13,130z"/><path color="#1b4868" d="M3002,794l13,-132 -13,63 -12,129z"/><path color="#2b4769" d="M2990,920l12,-126 -12,60 -13,115z"/><path color="#3b466b" d="M2977,1027l13,-107 -13,49 -13,92z"/><path color="#164b6a" d="M3028,601l15,-118 -15,53 -13,126z"/><path color="#1b4869" d="M3015,731l13,-130 -13,61 -13,132z"/><path color="#2b4669" d="M3003,863l12,-132 -13,63 -12,126z"/><path color="#3a4569" d="M2990,983l13,-120 -13,57 -13,107z"/><path class="m" d="M2990,983l13,-120 12,-132 13,-130 15,-118 -15,53 -13,59 -13,130 -12,129 -13,115 -13,92 13,-34z"/>
<path color="#4e476f" d="M2963,1108l14,-81 -13,34 -15,62z"/><path color="#544c7e" d="M2948,1156l15,-48 -14,15 -16,26z"/><path color="#c5b3ff" d="M2930,1169l18,-13 -15,-7 -18,-10z"/><path color="#8777e1" d="M2911,1144l19,25 -15,-30 -21,-46z"/><path color="#4c446c" d="M2976,1082l14,-99 -13,44 -14,81z"/><path color="#4c4472" d="M2962,1151l14,-69 -13,26 -15,48z"/><path color="#615798" d="M2945,1185l17,-34 -14,5 -18,13z"/><path color="#a492ff" d="M2927,1182l18,3 -15,-16 -19,-25z"/><path class="m" d="M2927,1182l18,3 17,-34 14,-69 14,-99 -13,44 -13,34 -15,62 -16,26 -18,-10 -21,-46 17,51z"/>
<path color="#6e60c7" d="M2890,1084l21,60 -17,-51 -22,-78z"/><path color="#6052bc" d="M2866,994l24,90 -18,-69 -25,-104z"/><path color="#5548b6" d="M2841,881l25,113 -19,-83 -26,-121z"/><path color="#211b51" d="M2814,756l27,125 -20,-91 -27,-126z"/><path color="#7466d2" d="M2907,1143l20,39 -16,-38 -21,-60z"/><path color="#6254c0" d="M2885,1070l22,73 -17,-59 -24,-90z"/><path color="#5648b8" d="M2860,969l25,101 -19,-76 -25,-113z"/><path color="#211b51" d="M2834,850l26,119 -19,-88 -27,-125z"/><path class="m" d="M2834,850l26,119 25,101 22,73 20,39 -16,-38 -17,-51 -22,-78 -25,-104 -26,-121 -27,-126 20,92z"/>
<path color="#6d4aa9" d="M2787,630l27,126 -20,-92 -27,-119z"/><path color="#93569e" d="M2760,517l27,113 -20,-85 -26,-99z"/><path color="#c16694" d="M2734,430l26,87 -19,-71 -24,-66z"/><path color="#f17798" d="M2711,379l23,51 -17,-50 -22,-26z"/><path color="#30204c" d="M2807,722l27,128 -20,-94 -27,-126z"/><path color="#90559c" d="M2780,599l27,123 -20,-92 -27,-113z"/><path color="#bb638f" d="M2753,494l27,105 -20,-82 -26,-87z"/><path color="#dc6b8a" d="M2728,419l25,75 -19,-64 -23,-51z"/><path class="m" d="M2728,419l25,75 27,105 27,123 27,128 -20,-94 -20,-92 -27,-119 -26,-99 -24,-66 -22,-26 16,25z"/>
<path color="#ff80a2" d="M2690,370l21,9 -16,-25 -19,18z"/><path color="#793041" d="M2672,406l18,-36 -14,2 -15,61z"/><path color="#6b2534" d="M2658,483l14,-77 -11,27 -13,97z"/><path color="#651e2c" d="M2646,593l12,-110 -10,47 -10,122z"/><path color="#ff7b9f" d="M2705,384l23,35 -17,-40 -21,-9z"/><path color="#a14258" d="M2685,394l20,-10 -15,-14 -18,36z"/><path color="#712737" d="M2668,448l17,-54 -13,12 -14,77z"/><path color="#671f2d" d="M2655,540l13,-92 -10,35 -12,110z"/><path class="m" d="M2655,540l13,-92 17,-54 20,-10 23,35 -17,-40 -16,-25 -19,18 -15,61 -13,97 -10,122 8,-59z"/>
<path color="#621926" d="M2636,722l10,-129 -8,59 -9,135z"/><path color="#611421" d="M2628,859l8,-137 -7,65 -8,133z"/><path color="#600f1c" d="M2619,990l9,-131 -7,61 -10,121z"/><path color="#610b18" d="M2609,1103l10,-113 -8,51 -10,98z"/><path color="#631927" d="M2644,659l11,-119 -9,53 -10,129z"/><path color="#611421" d="M2635,794l9,-135 -8,63 -8,137z"/><path color="#600f1b" d="M2626,931l9,-137 -7,65 -9,131z"/><path color="#5f0b17" d="M2617,1057l9,-126 -7,59 -10,113z"/><path class="m" d="M2617,1057l9,-126 9,-137 9,-135 11,-119 -9,53 -8,59 -9,135 -8,133 -10,121 -10,98 8,-36z"/>
<path color="#614320" d="M3724,816l12,85 -17,-68 -12,-95z"/><path color="#60411d" d="M3712,714l12,102 -17,-78 -13,-104z"/><path color="#603f1a" d="M3700,606l12,108 -18,-80 -13,-101z"/><path color="#5f3c17" d="M3687,504l13,102 -19,-73 -13,-86z"/><path color="#614320" d="M3742,889l12,71 -18,-59 -12,-85z"/><path color="#60411d" d="M3730,795l12,94 -18,-73 -12,-102z"/><path color="#603f1a" d="M3717,687l13,108 -18,-81 -12,-108z"/><path color="#5f3c17" d="M3705,576l12,111 -17,-81 -13,-102z"/><path class="m" d="M3705,576l12,111 13,108 12,94 12,71 -18,-59 -17,-68 -12,-95 -13,-104 -13,-101 -13,-86 19,57z"/>
<path color="#5e3a15" d="M3673,421l14,83 -19,-57 -15,-60z"/><path color="#5e3812" d="M3658,367l15,54 -20,-34 -16,-26z"/><path color="#5f370f" d="M3642,349l16,18 -21,-6 -16,9z"/><path color="#7b4410" d="M3625,366l17,-17 -21,21 -18,40z"/><path color="#5e3a15" d="M3692,476l13,100 -18,-72 -14,-83z"/><path color="#5e3812" d="M3678,397l14,79 -19,-55 -15,-54z"/><path color="#5d360f" d="M3662,351l16,46 -20,-30 -16,-18z"/><path color="#713e0f" d="M3646,342l16,9 -20,-2 -17,17z"/><path class="m" d="M3646,342l16,9 16,46 14,79 13,100 -18,-72 -19,-57 -15,-60 -16,-26 -16,9 -18,40 22,-44z"/>
<path color="#703c0b" d="M3607,415l18,-49 -22,44 -17,62z"/><path color="#6e4010" d="M3589,485l18,-70 -21,57 -18,70z"/><path color="#704f1c" d="M3571,563l18,-78 -21,57 -17,66z"/><path color="#776329" d="M3554,635l17,-72 -20,45 -17,49z"/><path color="#78400d" d="M3628,370l18,-28 -21,24 -18,49z"/><path color="#704110" d="M3610,428l18,-58 -21,45 -18,70z"/><path color="#6f4e1b" d="M3592,507l18,-79 -21,57 -18,78z"/><path color="#725e27" d="M3574,592l18,-85 -21,56 -17,72z"/><path class="m" d="M3574,592l18,-85 18,-79 18,-58 18,-28 -21,24 -22,44 -17,62 -18,70 -17,66 -17,49 20,-22z"/>
<path color="#8a843e" d="M3536,689l18,-54 -20,22 -17,23z"/><path color="#ffffa9" d="M3520,717l16,-28 -19,-9 -16,-3z"/><path color="#ffffa2" d="M3503,718l17,-1 -19,-40 -16,-27z"/><path color="#ffff72" d="M3487,695l16,23 -18,-68 -17,-42z"/><path color="#797335" d="M3556,670l18,-78 -20,43 -18,54z"/><path color="#898339" d="M3539,729l17,-59 -20,19 -16,28z"/><path color="#ffff95" d="M3522,762l17,-33 -19,-12 -17,1z"/><path color="#ffffa6" d="M3505,766l17,-4 -19,-44 -16,-23z"/><path class="m" d="M3505,766l17,-4 17,-33 17,-59 18,-78 -20,43 -20,22 -17,23 -16,-3 -16,-27 -17,-42 19,87z"/>
<path color="#ffff61" d="M3470,656l17,39 -19,-87 -16,-44z"/><path color="#ffff5b" d="M3454,615l16,41 -18,-92 -17,-32z"/><path color="#ffff6b" d="M3437,584l17,31 -19,-83 -17,-8z"/><path color="#ffffa2" d="M3420,577l17,7 -19,-60 -17,23z"/><path color="#ffff6d" d="M3489,745l16,21 -18,-71 -17,-39z"/><path color="#ffff59" d="M3472,708l17,37 -19,-89 -16,-41z"/><path color="#ffff52" d="M3456,667l16,41 -18,-93 -17,-31z"/><path color="#ffff60" d="M3439,637l17,30 -19,-83 -17,-7z"/><path class="m" d="M3439,637l17,30 16,41 17,37 16,21 -18,-71 -19,-87 -16,-44 -17,-32 -17,-8 -17,23 19,30z"/>
<path color="#8c922a" d="M3403,600l17,-23 -19,-30 -17,54z"/><path color="#617522" d="M3386,653l17,-53 -19,1 -16,79z"/><path color="#4c6d25" d="M3369,730l17,-77 -18,27 -17,94z"/><path color="#3f6a27" d="M3352,821l17,-91 -18,44 -16,97z"/><path color="#ffffb0" d="M3422,630l17,7 -19,-60 -17,23z"/><path color="#7c9331" d="M3404,651l18,-21 -19,-30 -17,53z"/><path color="#517529" d="M3387,702l17,-51 -18,2 -17,77z"/><path color="#416d28" d="M3370,775l17,-73 -18,28 -17,91z"/><path class="m" d="M3370,775l17,-73 17,-51 18,-21 17,7 -19,-60 -19,-30 -17,54 -16,79 -17,94 -16,97 17,-50z"/>
<path color="#3a6924" d="M3336,911l16,-90 -17,50 -16,86z"/><path color="#366a22" d="M3320,989l16,-78 -17,46 -16,65z"/><path color="#357023" d="M3304,1045l16,-56 -17,33 -16,36z"/><path color="#459d30" d="M3287,1070l17,-25 -17,13 -17,3z"/><path color="#3a6924" d="M3354,861l16,-86 -18,46 -16,90z"/><path color="#356822" d="M3337,945l17,-84 -18,50 -16,78z"/><path color="#316a20" d="M3321,1015l16,-70 -17,44 -16,56z"/><path color="#317321" d="M3304,1061l17,-46 -17,30 -17,25z"/><path class="m" d="M3304,1061l17,-46 16,-70 17,-84 16,-86 -18,46 -17,50 -16,86 -16,65 -16,36 -17,3 17,9z"/>
<path color="#56de3e" d="M3270,1061l17,9 -17,-9 -17,-33z"/><path color="#1b5414" d="M3253,1017l17,44 -17,-33 -18,-65z"/><path color="#175312" d="M3234,943l19,74 -18,-54 -19,-93z"/><path color="#1c5327" d="M3215,843l19,100 -18,-73 -20,-112z"/><path color="#4bbd37" d="M3287,1076l17,-15 -17,9 -17,-9z"/><path color="#1b5414" d="M3270,1056l17,20 -17,-15 -17,-44z"/><path color="#175312" d="M3252,1003l18,53 -17,-39 -19,-74z"/><path color="#1c5327" d="M3233,919l19,84 -18,-60 -19,-100z"/><path class="m" d="M3233,919l19,84 18,53 17,20 17,-15 -17,9 -17,-9 -17,-33 -18,-65 -19,-93 -20,-112 19,85z"/>
<path color="#265247" d="M3195,727l20,116 -19,-85 -21,-120z"/><path color="#2b515d" d="M3174,608l21,119 -20,-89 -20,-115z"/><path color="#284f5c" d="M3153,497l21,111 -19,-85 -21,-99z"/><path color="#244c5c" d="M3132,409l21,88 -19,-73 -21,-68z"/><path color="#265247" d="M3214,814l19,105 -18,-76 -20,-116z"/><path color="#2b515d" d="M3193,696l21,118 -19,-87 -21,-119z"/><path color="#284f5c" d="M3172,579l21,117 -19,-88 -21,-111z"/><path color="#244c5c" d="M3151,476l21,103 -19,-82 -21,-88z"/><path class="m" d="M3151,476l21,103 21,117 21,118 19,105 -18,-76 -19,-85 -21,-120 -20,-115 -21,-99 -21,-68 19,53z"/>
<path color="#5ac3f1" d="M3111,354l21,55 -19,-53 -20,-31z"/><path color="#76f4ff" d="M3092,340l19,14 -18,-29 -18,13z"/><path color="#276383" d="M3074,370l18,-30 -17,-2 -17,55z"/><path color="#1c5371" d="M3058,440l16,-70 -16,23 -15,90z"/><path color="#214a5c" d="M3130,399l21,77 -19,-67 -21,-55z"/><path color="#5cd0ff" d="M3110,360l20,39 -19,-45 -19,-14z"/><path color="#449bc9" d="M3091,363l19,-3 -18,-20 -18,30z"/><path color="#1e5979" d="M3073,409l18,-46 -17,7 -16,70z"/><path class="m" d="M3073,409l18,-46 19,-3 20,39 21,77 -19,-67 -19,-53 -20,-31 -18,13 -17,55 -15,90 15,-43z"/>
<path color="#164c6b" d="M3043,543l15,-103 -15,43 -15,118z"/><path color="#1b4869" d="M3029,668l14,-125 -15,58 -13,130z"/><path color="#2b4668" d="M3015,802l14,-134 -14,63 -12,132z"/><path color="#3a4569" d="M3003,931l12,-129 -12,61 -13,120z"/><path color="#174e6e" d="M3057,494l16,-85 -15,31 -15,103z"/><path color="#1c496a" d="M3043,608l14,-114 -14,49 -14,125z"/><path color="#2b4769" d="M3029,738l14,-130 -14,60 -14,134z"/><path color="#3a4468" d="M3016,872l13,-134 -14,64 -12,129z"/><path class="m" d="M3016,872l13,-134 14,-130 14,-114 16,-85 -15,31 -15,43 -15,118 -13,130 -12,132 -13,120 13,-52z"/>
<path color="#4a436a" d="M2989,1044l14,-113 -13,52 -14,99z"/><path color="#48416d" d="M2975,1132l14,-88 -13,38 -14,69z"/><path color="#4b4377" d="M2960,1188l15,-56 -13,19 -17,34z"/><path color="#9a8bf3" d="M2943,1208l17,-20 -15,-3 -18,-3z"/><path color="#494269" d="M3002,997l14,-125 -13,59 -14,113z"/><path color="#463f6a" d="M2989,1102l13,-105 -13,47 -14,88z"/><path color="#453d6e" d="M2974,1178l15,-76 -14,30 -15,56z"/><path color="#4e4583" d="M2958,1220l16,-42 -14,10 -17,20z"/><path class="m" d="M2958,1220l16,-42 15,-76 13,-105 14,-125 -13,59 -13,52 -14,99 -14,69 -17,34 -18,-3 16,26z"/>
<path color="#8373e8" d="M2924,1190l19,18 -16,-26 -20,-39z"/><path color="#6658c7" d="M2903,1137l21,53 -17,-47 -22,-73z"/><path color="#574abb" d="M2879,1051l24,86 -18,-67 -25,-101z"/><path color="#4c3fb4" d="M2854,941l25,110 -19,-82 -26,-119z"/><path color="#a795ff" d="M2940,1225l18,-5 -15,-12 -19,-18z"/><path color="#6e5fd4" d="M2920,1193l20,32 -16,-35 -21,-53z"/><path color="#5a4cbf" d="M2898,1126l22,67 -17,-56 -24,-86z"/><path color="#4d40b6" d="M2873,1029l25,97 -19,-75 -25,-110z"/><path class="m" d="M2873,1029l25,97 22,67 20,32 18,-5 -15,-12 -16,-26 -20,-39 -22,-73 -25,-101 -26,-119 20,91z"/>
<path color="#30204c" d="M2827,816l27,125 -20,-91 -27,-128z"/><path color="#402545" d="M2800,688l27,128 -20,-94 -27,-123z"/><path color="#b7618c" d="M2772,570l28,118 -20,-89 -27,-105z"/><path color="#d26684" d="M2746,475l26,95 -19,-76 -25,-75z"/><path color="#30204c" d="M2847,911l26,118 -19,-88 -27,-125z"/><path color="#402545" d="M2820,782l27,129 -20,-95 -27,-128z"/><path color="#b55f8b" d="M2792,655l28,127 -20,-94 -28,-118z"/><path color="#cc6380" d="M2765,544l27,111 -20,-85 -26,-95z"/><path class="m" d="M2765,544l27,111 28,127 27,129 26,118 -19,-88 -20,-91 -27,-128 -27,-123 -27,-105 -25,-75 18,56z"/>
<path color="#e56787" d="M2721,415l25,60 -18,-56 -23,-35z"/><path color="#ff81a7" d="M2699,397l22,18 -16,-31 -20,10z"/><path color="#7e2c3e" d="M2681,425l18,-28 -14,-3 -17,54z"/><path color="#6b202f" d="M2665,496l16,-71 -13,23 -13,92z"/><path color="#d55f7d" d="M2739,462l26,82 -19,-69 -25,-60z"/><path color="#f76688" d="M2715,418l24,44 -18,-47 -22,-18z"/><path color="#c64d67" d="M2694,418l21,0 -16,-21 -18,28z"/><path color="#722332" d="M2677,464l17,-46 -13,7 -16,71z"/><path class="m" d="M2677,464l17,-46 21,0 24,44 26,82 -19,-69 -18,-56 -23,-35 -20,10 -17,54 -13,92 10,-44z"/>
<path color="#651927" d="M2653,601l12,-105 -10,44 -11,119z"/><path color="#611421" d="M2643,729l10,-128 -9,58 -9,135z"/><path color="#5f0f1b" d="M2634,868l9,-139 -8,65 -9,137z"/><path color="#5f0a17" d="M2625,1003l9,-135 -8,63 -9,126z"/><path color="#671a28" d="M2663,550l14,-86 -12,32 -12,105z"/><path color="#621421" d="M2651,667l12,-117 -10,51 -10,128z"/><path color="#600f1c" d="M2641,802l10,-135 -8,62 -9,139z"/><path color="#5e0a17" d="M2632,942l9,-140 -7,66 -9,135z"/><path class="m" d="M2632,942l9,-140 10,-135 12,-117 14,-86 -12,32 -10,44 -11,119 -9,135 -9,137 -9,126 8,-54z"/>
<path color="#614320" d="M3760,954l13,54 -19,-48 -12,-71z"/><path color="#60411d" d="M3747,872l13,82 -18,-65 -12,-94z"/><path color="#603f1a" d="M3735,770l12,102 -17,-77 -13,-108z"/><path color="#5f3c17" d="M3723,657l12,113 -18,-83 -12,-111z"/><path color="#614320" d="M3778,1010l14,34 -19,-36 -13,-54z"/><path color="#60411d" d="M3765,944l13,66 -18,-56 -13,-82z"/><path color="#603f1a" d="M3753,851l12,93 -18,-72 -12,-102z"/><path color="#5f3c17" d="M3741,741l12,110 -18,-81 -12,-113z"/><path class="m" d="M3741,741l12,110 12,93 13,66 14,34 -19,-36 -19,-48 -12,-71 -12,-94 -13,-108 -12,-111 18,81z"/>
<path color="#5e3a15" d="M3711,545l12,112 -18,-81 -13,-100z"/><path color="#5e3812" d="M3697,448l14,97 -19,-69 -14,-79z"/><path color="#5d360f" d="M3683,377l14,71 -19,-51 -16,-46z"/><path color="#5d330c" d="M3667,340l16,37 -21,-26 -16,-9z"/><path color="#5e3a15" d="M3729,625l12,116 -18,-84 -12,-112z"/><path color="#5e3812" d="M3716,515l13,110 -18,-80 -14,-97z"/><path color="#5d360f" d="M3703,423l13,92 -19,-67 -14,-71z"/><path color="#5d330c" d="M3688,361l15,62 -20,-46 -16,-37z"/><path class="m" d="M3688,361l15,62 13,92 13,110 12,116 -18,-84 -18,-81 -13,-100 -14,-79 -16,-46 -16,-9 21,-2z"/>
<path color="#975111" d="M3650,342l17,-2 -21,2 -18,28z"/><path color="#764511" d="M3632,382l18,-40 -22,28 -18,58z"/><path color="#714f1c" d="M3614,451l18,-69 -22,46 -18,79z"/><path color="#715d27" d="M3595,538l19,-87 -22,56 -18,85z"/><path color="#5c3109" d="M3671,335l17,26 -21,-21 -17,2z"/><path color="#864f14" d="M3654,350l17,-15 -21,7 -18,40z"/><path color="#75531d" d="M3636,402l18,-52 -22,32 -18,69z"/><path color="#725e27" d="M3617,481l19,-79 -22,49 -19,87z"/><path class="m" d="M3617,481l19,-79 18,-52 17,-15 17,26 -21,-21 -21,2 -18,28 -18,58 -18,79 -18,85 21,-54z"/>
<path color="#746e32" d="M3577,630l18,-92 -21,54 -18,78z"/><path color="#797330" d="M3559,713l18,-83 -21,40 -17,59z"/><path color="#888233" d="M3541,776l18,-63 -20,16 -17,33z"/><path color="#ffff84" d="M3524,811l17,-35 -19,-14 -17,4z"/><path color="#726d32" d="M3598,577l19,-96 -22,57 -18,92z"/><path color="#736e2e" d="M3579,675l19,-98 -21,53 -18,83z"/><path color="#78722c" d="M3561,762l18,-87 -20,38 -18,63z"/><path color="#88812e" d="M3543,828l18,-66 -20,14 -17,35z"/><path class="m" d="M3543,828l18,-66 18,-87 19,-98 19,-96 -22,57 -21,54 -18,78 -17,59 -17,33 -17,4 19,45z"/>
<path color="#ffffa3" d="M3507,817l17,-6 -19,-45 -16,-21z"/><path color="#ffff65" d="M3491,798l16,19 -18,-72 -17,-37z"/><path color="#ffff4f" d="M3474,761l17,37 -19,-90 -16,-41z"/><path color="#ffff47" d="M3457,720l17,41 -18,-94 -17,-30z"/><path color="#ffff78" d="M3526,864l17,-36 -19,-17 -17,6z"/><path color="#ffff9a" d="M3509,871l17,-7 -19,-47 -16,-19z"/><path color="#ffff59" d="M3493,851l16,20 -18,-73 -17,-37z"/><path color="#ffff43" d="M3476,814l17,37 -19,-90 -17,-41z"/><path class="m" d="M3476,814l17,37 16,20 17,-7 17,-36 -19,-17 -19,-45 -16,-21 -17,-37 -16,-41 -17,-30 18,83z"/>
<path color="#ffff6b" d="M3440,689l17,31 -18,-83 -17,-7z"/><path color="#ffffc0" d="M3423,679l17,10 -18,-59 -18,21z"/><path color="#6b963a" d="M3406,698l17,-19 -19,-28 -17,51z"/><path color="#46752b" d="M3389,745l17,-47 -19,4 -17,73z"/><path color="#ffff51" d="M3459,771l17,43 -19,-94 -17,-31z"/><path color="#ffff74" d="M3442,737l17,34 -19,-82 -17,-10z"/><path color="#ffffcd" d="M3425,724l17,13 -19,-58 -17,19z"/><path color="#619a3f" d="M3407,738l18,-14 -19,-26 -17,47z"/><path class="m" d="M3407,738l18,-14 17,13 17,34 17,43 -19,-94 -18,-83 -17,-7 -18,21 -17,51 -17,73 19,-30z"/>
<path color="#3c6c25" d="M3372,814l17,-69 -19,30 -16,86z"/><path color="#356822" d="M3355,894l17,-80 -18,47 -17,84z"/><path color="#30671f" d="M3338,971l17,-77 -18,51 -16,70z"/><path color="#2d6a1e" d="M3321,1033l17,-62 -17,44 -17,46z"/><path color="#417429" d="M3390,781l17,-43 -18,7 -17,69z"/><path color="#366a23" d="M3373,845l17,-64 -18,33 -17,80z"/><path color="#30671f" d="M3356,919l17,-74 -18,49 -17,77z"/><path color="#2b661d" d="M3339,990l17,-71 -18,52 -17,62z"/><path class="m" d="M3339,990l17,-71 17,-74 17,-64 17,-43 -18,7 -19,30 -16,86 -17,84 -16,70 -17,46 17,-28z"/>
<path color="#2d7720" d="M3305,1070l16,-37 -17,28 -17,15z"/><path color="#1b5414" d="M3288,1075l17,-5 -18,6 -17,-20z"/><path color="#175312" d="M3270,1046l18,29 -18,-19 -18,-53z"/><path color="#1c5327" d="M3252,984l18,62 -18,-43 -19,-84z"/><path color="#286a1c" d="M3322,1045l17,-55 -18,43 -16,37z"/><path color="#297a1e" d="M3305,1073l17,-28 -17,25 -17,5z"/><path color="#175312" d="M3288,1070l17,3 -17,2 -18,-29z"/><path color="#1c5327" d="M3270,1032l18,38 -18,-24 -18,-62z"/><path class="m" d="M3270,1032l18,38 17,3 17,-28 17,-55 -18,43 -17,28 -17,15 -17,-20 -18,-53 -19,-84 19,65z"/>
<path color="#265247" d="M3232,894l20,90 -19,-65 -19,-105z"/><path color="#2b515d" d="M3212,784l20,110 -18,-80 -21,-118z"/><path color="#284f5c" d="M3192,666l20,118 -19,-88 -21,-117z"/><path color="#244c5c" d="M3171,554l21,112 -20,-87 -21,-103z"/><path color="#265247" d="M3251,962l19,70 -18,-48 -20,-90z"/><path color="#2b515d" d="M3232,867l19,95 -19,-68 -20,-110z"/><path color="#284f5c" d="M3211,755l21,112 -20,-83 -20,-118z"/><path color="#244c5c" d="M3190,639l21,116 -19,-89 -21,-112z"/><path class="m" d="M3190,639l21,116 21,112 19,95 19,70 -18,-48 -19,-65 -19,-105 -21,-118 -21,-117 -21,-103 20,78z"/>
<path color="#214a5c" d="M3149,460l22,94 -20,-78 -21,-77z"/><path color="#4eb7e9" d="M3129,397l20,63 -19,-61 -20,-39z"/><path color="#67ebff" d="M3109,373l20,24 -19,-37 -19,3z"/><path color="#26688c" d="M3090,393l19,-20 -18,-10 -18,46z"/><path color="#214a5c" d="M3169,533l21,106 -19,-85 -22,-94z"/><path color="#1d475b" d="M3148,450l21,83 -20,-73 -20,-63z"/><path color="#4dbffb" d="M3127,401l21,49 -19,-53 -20,-24z"/><path color="#5ed7ff" d="M3108,394l19,7 -18,-28 -19,20z"/><path class="m" d="M3108,394l19,7 21,49 21,83 21,106 -19,-85 -20,-78 -21,-77 -20,-39 -19,3 -18,46 17,-16z"/>
<path color="#185173" d="M3073,455l17,-62 -17,16 -16,85z"/><path color="#1c4a6c" d="M3057,553l16,-98 -16,39 -14,114z"/><path color="#2b476a" d="M3043,675l14,-122 -14,55 -14,130z"/><path color="#3a4468" d="M3029,809l14,-134 -14,63 -13,134z"/><path color="#1c597e" d="M3089,431l19,-37 -18,-1 -17,62z"/><path color="#1d4d70" d="M3073,508l16,-77 -16,24 -16,98z"/><path color="#2c486b" d="M3057,617l16,-109 -16,45 -14,122z"/><path color="#3a4569" d="M3043,746l14,-129 -14,58 -14,134z"/><path class="m" d="M3043,746l14,-129 16,-109 16,-77 19,-37 -18,-1 -17,16 -16,85 -14,114 -14,130 -13,134 13,-63z"/>
<path color="#494268" d="M3016,942l13,-133 -13,63 -14,125z"/><path color="#453e68" d="M3002,1061l14,-119 -14,55 -13,105z"/><path color="#423b6a" d="M2988,1156l14,-95 -13,41 -15,76z"/><path color="#433b72" d="M2973,1219l15,-63 -14,22 -16,42z"/><path color="#494268" d="M3029,881l14,-135 -14,63 -13,133z"/><path color="#443d67" d="M3016,1010l13,-129 -13,61 -14,119z"/><path color="#413968" d="M3002,1121l14,-111 -14,51 -14,95z"/><path color="#3f376b" d="M2987,1205l15,-84 -14,35 -15,63z"/><path class="m" d="M2987,1205l15,-84 14,-111 13,-129 14,-135 -14,63 -13,63 -14,125 -13,105 -15,76 -16,42 15,-1z"/>
<path color="#6a5eb6" d="M2956,1247l17,-28 -15,1 -18,5z"/><path color="#806ff2" d="M2937,1237l19,10 -16,-22 -20,-32z"/><path color="#5e50c8" d="M2916,1190l21,47 -17,-44 -22,-67z"/><path color="#4f41b9" d="M2893,1110l23,80 -18,-64 -25,-97z"/><path color="#433a79" d="M2971,1255l16,-50 -14,14 -17,28z"/><path color="#a08eff" d="M2953,1268l18,-13 -15,-8 -19,-10z"/><path color="#6758d9" d="M2933,1243l20,25 -16,-31 -21,-47z"/><path color="#5143bf" d="M2911,1182l22,61 -17,-53 -23,-80z"/><path class="m" d="M2911,1182l22,61 20,25 18,-13 16,-50 -14,14 -15,1 -18,5 -20,-32 -22,-67 -25,-97 20,81z"/>
<path color="#6d4aa9" d="M2867,1003l26,107 -20,-81 -26,-118z"/><path color="#402545" d="M2841,878l26,125 -20,-92 -27,-129z"/><path color="#512a3e" d="M2813,748l28,130 -21,-96 -28,-127z"/><path color="#c9617e" d="M2785,625l28,123 -21,-93 -27,-111z"/><path color="#6f4bab" d="M2887,1089l24,93 -18,-72 -26,-107z"/><path color="#8f549a" d="M2861,973l26,116 -20,-86 -26,-125z"/><path color="#512a3e" d="M2833,844l28,129 -20,-95 -28,-130z"/><path color="#c7607c" d="M2805,714l28,130 -20,-96 -28,-123z"/><path class="m" d="M2805,714l28,130 28,129 26,116 24,93 -18,-72 -20,-81 -26,-118 -27,-129 -28,-127 -27,-111 20,81z"/>
<path color="#cd5b78" d="M2758,523l27,102 -20,-81 -26,-82z"/><path color="#dc5978" d="M2732,454l26,69 -19,-61 -24,-44z"/><path color="#ff6d91" d="M2709,428l23,26 -17,-36 -21,0z"/><path color="#842a3c" d="M2690,447l19,-19 -15,-10 -17,46z"/><path color="#c85875" d="M2777,598l28,116 -20,-89 -27,-102z"/><path color="#d05370" d="M2751,507l26,91 -19,-75 -26,-69z"/><path color="#e95575" d="M2726,454l25,53 -19,-53 -23,-26z"/><path color="#ff5e7e" d="M2704,445l22,9 -17,-26 -19,19z"/><path class="m" d="M2704,445l22,9 25,53 26,91 28,116 -20,-89 -20,-81 -26,-82 -24,-44 -21,0 -17,46 13,-17z"/>
<path color="#6b1b2a" d="M2673,510l17,-63 -13,17 -14,86z"/><path color="#641422" d="M2660,611l13,-101 -10,40 -12,117z"/><path color="#600f1c" d="M2649,738l11,-127 -9,56 -10,135z"/><path color="#5e0a17" d="M2640,877l9,-139 -8,64 -9,140z"/><path color="#751e2e" d="M2686,483l18,-38 -14,2 -17,63z"/><path color="#671523" d="M2670,563l16,-80 -13,27 -13,101z"/><path color="#620f1c" d="M2658,677l12,-114 -10,48 -11,127z"/><path color="#5f0b17" d="M2648,811l10,-134 -9,61 -9,139z"/><path class="m" d="M2648,811l10,-134 12,-114 16,-80 18,-38 -14,2 -13,17 -14,86 -12,117 -10,135 -9,140 8,-65z"/>
<path color="#ffbd5d" d="M3797,1054l15,13 -20,-23 -14,-34z"/><path color="#60411d" d="M3784,1006l13,48 -19,-44 -13,-66z"/><path color="#603f1a" d="M3771,928l13,78 -19,-62 -12,-93z"/><path color="#5f3c17" d="M3759,826l12,102 -18,-77 -12,-110z"/><path color="#ffed81" d="M3817,1085l15,-9 -20,-9 -15,-13z"/><path color="#60411d" d="M3803,1057l14,28 -20,-31 -13,-48z"/><path color="#603f1a" d="M3790,997l13,60 -19,-51 -13,-78z"/><path color="#5f3c17" d="M3777,907l13,90 -19,-69 -12,-102z"/><path class="m" d="M3777,907l13,90 13,60 14,28 15,-9 -20,-9 -20,-23 -14,-34 -13,-66 -12,-93 -12,-110 18,85z"/>
<path color="#5e3a15" d="M3747,711l12,115 -18,-85 -12,-116z"/><path color="#5e3812" d="M3735,593l12,118 -18,-86 -13,-110z"/><path color="#5d360f" d="M3722,486l13,107 -19,-78 -13,-92z"/><path color="#5d330c" d="M3708,401l14,85 -19,-63 -15,-62z"/><path color="#5e3a15" d="M3766,798l11,109 -18,-81 -12,-115z"/><path color="#5e3812" d="M3754,678l12,120 -19,-87 -12,-118z"/><path color="#5d360f" d="M3741,561l13,117 -19,-85 -13,-107z"/><path color="#5d330c" d="M3728,459l13,102 -19,-75 -14,-85z"/><path class="m" d="M3728,459l13,102 13,117 12,120 11,109 -18,-81 -18,-85 -12,-116 -13,-110 -13,-92 -15,-62 20,40z"/>
<path color="#5c3109" d="M3692,350l16,51 -20,-40 -17,-26z"/><path color="#e08525" d="M3676,338l16,12 -21,-15 -17,15z"/><path color="#805a20" d="M3658,366l18,-28 -22,12 -18,52z"/><path color="#756128" d="M3639,430l19,-64 -22,36 -19,79z"/><path color="#5c3109" d="M3713,384l15,75 -20,-58 -16,-51z"/><path color="#5d360d" d="M3697,345l16,39 -21,-34 -16,-12z"/><path color="#b17e30" d="M3680,347l17,-2 -21,-7 -18,28z"/><path color="#7c672b" d="M3661,390l19,-43 -22,19 -19,64z"/><path class="m" d="M3661,390l19,-43 17,-2 16,39 15,75 -20,-58 -20,-40 -17,-26 -17,15 -18,52 -19,79 22,-51z"/>
<path color="#736d32" d="M3620,520l19,-90 -22,51 -19,96z"/><path color="#726c2d" d="M3601,624l19,-104 -22,57 -19,98z"/><path color="#736d29" d="M3582,727l19,-103 -22,51 -18,87z"/><path color="#787227" d="M3563,817l19,-90 -21,35 -18,66z"/><path color="#757033" d="M3642,467l19,-77 -22,40 -19,90z"/><path color="#726c2d" d="M3623,567l19,-100 -22,53 -19,104z"/><path color="#716b29" d="M3603,677l20,-110 -22,57 -19,103z"/><path color="#736d25" d="M3584,784l19,-107 -21,50 -19,90z"/><path class="m" d="M3584,784l19,-107 20,-110 19,-100 19,-77 -22,40 -22,51 -19,96 -19,98 -18,87 -18,66 20,-11z"/>
<path color="#888129" d="M3545,883l18,-66 -20,11 -17,36z"/><path color="#ffff72" d="M3528,919l17,-36 -19,-19 -17,7z"/><path color="#ffff8b" d="M3511,925l17,-6 -19,-48 -16,-20z"/><path color="#ffff4b" d="M3495,903l16,22 -18,-74 -17,-37z"/><path color="#787223" d="M3566,875l18,-91 -21,33 -18,66z"/><path color="#898125" d="M3548,940l18,-65 -21,8 -17,36z"/><path color="#ffff74" d="M3530,974l18,-34 -20,-21 -17,6z"/><path color="#ffff75" d="M3513,977l17,-3 -19,-49 -16,-22z"/><path class="m" d="M3513,977l17,-3 18,-34 18,-65 18,-91 -21,33 -20,11 -17,36 -17,7 -16,-20 -17,-37 19,89z"/>
<path color="#ffff4c" d="M3478,863l17,40 -19,-89 -17,-43z"/><path color="#e6ff5b" d="M3461,818l17,45 -19,-92 -17,-34z"/><path color="#d9ff7b" d="M3444,780l17,38 -19,-81 -17,-13z"/><path color="#ffffc1" d="M3427,762l17,18 -19,-56 -18,14z"/><path color="#ffff53" d="M3497,952l16,25 -18,-74 -17,-40z"/><path color="#deff56" d="M3480,908l17,44 -19,-89 -17,-45z"/><path color="#bcff65" d="M3463,858l17,50 -19,-90 -17,-38z"/><path color="#b2ff75" d="M3446,816l17,42 -19,-78 -17,-18z"/><path class="m" d="M3446,816l17,42 17,50 17,44 16,25 -18,-74 -19,-89 -17,-43 -17,-34 -17,-13 -18,14 20,24z"/>
<path color="#5d9f3e" d="M3409,772l18,-10 -20,-24 -17,43z"/><path color="#3b7226" d="M3392,809l17,-37 -19,9 -17,64z"/><path color="#316920" d="M3374,868l18,-59 -19,36 -17,74z"/><path color="#2b651d" d="M3357,937l17,-69 -18,51 -17,71z"/><path color="#d9ff9c" d="M3428,793l18,23 -19,-54 -18,10z"/><path color="#5aa53d" d="M3411,797l17,-4 -19,-21 -17,37z"/><path color="#357123" d="M3393,829l18,-32 -19,12 -18,59z"/><path color="#2c671d" d="M3375,883l18,-54 -19,39 -17,69z"/><path class="m" d="M3375,883l18,-54 18,-32 17,-4 18,23 -19,-54 -20,-24 -17,43 -17,64 -17,74 -17,71 18,-53z"/>
<path color="#26651b" d="M3340,1001l17,-64 -18,53 -17,55z"/><path color="#236a1a" d="M3323,1049l17,-48 -18,44 -17,28z"/><path color="#20721a" d="M3306,1070l17,-21 -18,24 -17,-3z"/><path color="#1c5327" d="M3288,1059l18,11 -18,0 -18,-38z"/><path color="#25641a" d="M3358,946l17,-63 -18,54 -17,64z"/><path color="#216418" d="M3341,1005l17,-59 -18,55 -17,48z"/><path color="#2c9923" d="M3323,1047l18,-42 -18,44 -17,21z"/><path color="#246932" d="M3306,1062l17,-15 -17,23 -18,-11z"/><path class="m" d="M3306,1062l17,-15 18,-42 17,-59 17,-63 -18,54 -18,53 -17,55 -17,28 -17,-3 -18,-38 18,27z"/>
<path color="#265247" d="M3270,1015l18,44 -18,-27 -19,-70z"/><path color="#2b515d" d="M3251,939l19,76 -19,-53 -19,-95z"/><path color="#284f5c" d="M3231,840l20,99 -19,-72 -21,-112z"/><path color="#244c5c" d="M3210,728l21,112 -20,-85 -21,-116z"/><path color="#265247" d="M3288,1045l18,17 -18,-3 -18,-44z"/><path color="#2b515d" d="M3269,995l19,50 -18,-30 -19,-76z"/><path color="#284f5c" d="M3250,916l19,79 -18,-56 -20,-99z"/><path color="#244c5c" d="M3230,815l20,101 -19,-76 -21,-112z"/><path class="m" d="M3230,815l20,101 19,79 19,50 18,17 -18,-3 -18,-27 -19,-70 -19,-95 -21,-112 -21,-116 20,89z"/>
<path color="#214a5c" d="M3189,616l21,112 -20,-89 -21,-106z"/><path color="#1d475b" d="M3168,518l21,98 -20,-83 -21,-83z"/><path color="#44ade4" d="M3146,446l22,72 -20,-68 -21,-49z"/><path color="#52d3ff" d="M3126,413l20,33 -19,-45 -19,-7z"/><path color="#214a5c" d="M3209,704l21,111 -20,-87 -21,-112z"/><path color="#1d475b" d="M3188,597l21,107 -20,-88 -21,-98z"/><path color="#19445b" d="M3166,508l22,89 -20,-79 -22,-72z"/><path color="#41b2f2" d="M3145,450l21,58 -20,-62 -20,-33z"/><path class="m" d="M3145,450l21,58 22,89 21,107 21,111 -20,-87 -20,-89 -21,-106 -21,-83 -21,-49 -19,-7 18,19z"/>
<path color="#2d7faf" d="M3107,422l19,-9 -18,-19 -19,37z"/><path color="#205276" d="M3089,475l18,-53 -18,9 -16,77z"/><path color="#2d4a6d" d="M3072,566l17,-91 -16,33 -16,109z"/><path color="#3b456a" d="M3057,684l15,-118 -15,51 -14,129z"/><path color="#63f2ff" d="M3125,432l20,18 -19,-37 -19,9z"/><path color="#265e87" d="M3106,458l19,-26 -18,-10 -18,53z"/><path color="#2f4d72" d="M3089,526l17,-68 -17,17 -17,91z"/><path color="#3c476c" d="M3072,629l17,-103 -17,40 -15,118z"/><path class="m" d="M3072,629l17,-103 17,-68 19,-26 20,18 -19,-37 -18,-19 -19,37 -16,77 -16,109 -14,129 14,-62z"/>
<path color="#494268" d="M3043,818l14,-134 -14,62 -14,135z"/><path color="#443d67" d="M3029,953l14,-135 -14,63 -13,129z"/><path color="#403966" d="M3016,1076l13,-123 -13,57 -14,111z"/><path color="#3d3568" d="M3001,1178l15,-102 -14,45 -15,84z"/><path color="#494269" d="M3057,755l15,-126 -15,55 -14,134z"/><path color="#443d67" d="M3043,891l14,-136 -14,63 -14,135z"/><path color="#3f3866" d="M3029,1023l14,-132 -14,62 -13,123z"/><path color="#3b3466" d="M3015,1140l14,-117 -13,53 -15,102z"/><path class="m" d="M3015,1140l14,-117 14,-132 14,-136 15,-126 -15,55 -14,62 -14,135 -13,129 -14,111 -15,84 14,-27z"/>
<path color="#3c346d" d="M2986,1249l15,-71 -14,27 -16,50z"/><path color="#4c4291" d="M2969,1285l17,-36 -15,6 -18,13z"/><path color="#806fff" d="M2950,1283l19,2 -16,-17 -20,-25z"/><path color="#5648c9" d="M2929,1243l21,40 -17,-40 -22,-61z"/><path color="#393168" d="M3001,1231l14,-91 -14,38 -15,71z"/><path color="#3a3272" d="M2984,1289l17,-58 -15,18 -17,36z"/><path color="#796ae6" d="M2967,1310l17,-21 -15,-4 -19,-2z"/><path color="#6252df" d="M2947,1292l20,18 -17,-27 -21,-40z"/><path class="m" d="M2947,1292l20,18 17,-21 17,-58 14,-91 -14,38 -14,27 -16,50 -18,13 -20,-25 -22,-61 18,61z"/>
<path color="#714daf" d="M2906,1168l23,75 -18,-61 -24,-93z"/><path color="#91559c" d="M2881,1065l25,103 -19,-79 -26,-116z"/><path color="#512a3e" d="M2854,942l27,123 -20,-92 -28,-129z"/><path color="#5a2a37" d="M2826,810l28,132 -21,-98 -28,-130z"/><path color="#7650b5" d="M2925,1238l22,54 -18,-49 -23,-75z"/><path color="#93579e" d="M2901,1150l24,88 -19,-70 -25,-103z"/><path color="#b55f8a" d="M2875,1037l26,113 -20,-85 -27,-123z"/><path color="#5a2a37" d="M2847,908l28,129 -21,-95 -28,-132z"/><path class="m" d="M2847,908l28,129 26,113 24,88 22,54 -18,-49 -18,-61 -24,-93 -26,-116 -28,-129 -28,-130 21,96z"/>
<path color="#c65773" d="M2798,683l28,127 -21,-96 -28,-116z"/><path color="#c9506c" d="M2770,574l28,109 -21,-85 -26,-91z"/><path color="#d44c6a" d="M2744,497l26,77 -19,-67 -25,-53z"/><path color="#ff5778" d="M2720,461l24,36 -18,-43 -22,-9z"/><path color="#c45672" d="M2819,776l28,132 -21,-98 -28,-127z"/><path color="#c54e6a" d="M2790,654l29,122 -21,-93 -28,-109z"/><path color="#ca4864" d="M2763,556l27,98 -20,-80 -26,-77z"/><path color="#dd4765" d="M2737,493l26,63 -19,-59 -24,-36z"/><path class="m" d="M2737,493l26,63 27,98 29,122 28,132 -21,-98 -21,-96 -28,-116 -26,-91 -25,-53 -22,-9 16,16z"/>
<path color="#9c2c41" d="M2699,471l21,-10 -16,-16 -18,38z"/><path color="#6c1625" d="M2682,527l17,-56 -13,12 -16,80z"/><path color="#640f1d" d="M2668,622l14,-95 -12,36 -12,114z"/><path color="#600b17" d="M2656,747l12,-125 -10,55 -10,134z"/><path color="#ff5c7f" d="M2714,475l23,18 -17,-32 -21,10z"/><path color="#791a2a" d="M2695,505l19,-30 -15,-4 -17,56z"/><path color="#67101e" d="M2679,578l16,-73 -13,22 -14,95z"/><path color="#610b18" d="M2666,687l13,-109 -11,44 -12,125z"/><path class="m" d="M2666,687l13,-109 16,-73 19,-30 23,18 -17,-32 -16,-16 -18,38 -16,80 -12,114 -10,134 8,-64z"/>
<path color="#be8949" d="M3837,1103l17,-30 -22,3 -15,9z"/><path color="#ffc45e" d="M3822,1097l15,6 -20,-18 -14,-28z"/><path color="#603f1a" d="M3808,1056l14,41 -19,-40 -13,-60z"/><path color="#5f3c17" d="M3796,982l12,74 -18,-59 -13,-90z"/><path color="#896030" d="M3859,1108l18,-52 -23,17 -17,30z"/><path color="#ffdb78" d="M3842,1124l17,-16 -22,-5 -15,-6z"/><path color="#603f1a" d="M3828,1104l14,20 -20,-27 -14,-41z"/><path color="#5f3c17" d="M3815,1049l13,55 -20,-48 -12,-74z"/><path class="m" d="M3815,1049l13,55 14,20 17,-16 18,-52 -23,17 -22,3 -15,9 -14,-28 -13,-60 -13,-90 19,75z"/>
<path color="#5e3a15" d="M3784,883l12,99 -19,-75 -11,-109z"/><path color="#5e3812" d="M3772,767l12,116 -18,-85 -12,-120z"/><path color="#5d360f" d="M3760,645l12,122 -18,-89 -13,-117z"/><path color="#5d330c" d="M3748,530l12,115 -19,-84 -13,-102z"/><path color="#5e3a15" d="M3802,964l13,85 -19,-67 -12,-99z"/><path color="#5e3812" d="M3791,856l11,108 -18,-81 -12,-116z"/><path color="#5d360f" d="M3779,735l12,121 -19,-89 -12,-122z"/><path color="#5d330c" d="M3767,612l12,123 -19,-90 -12,-115z"/><path class="m" d="M3767,612l12,123 12,121 11,108 13,85 -19,-67 -19,-75 -11,-109 -12,-120 -13,-117 -13,-102 20,71z"/>
<path color="#5c3109" d="M3734,435l14,95 -20,-71 -15,-75z"/><path color="#5d360d" d="M3719,372l15,63 -21,-51 -16,-39z"/><path color="#5e4217" d="M3702,347l17,25 -22,-27 -17,2z"/><path color="#8e7633" d="M3684,365l18,-18 -22,0 -19,43z"/><path color="#5c3109" d="M3754,502l13,110 -19,-82 -14,-95z"/><path color="#5d360d" d="M3740,416l14,86 -20,-67 -15,-63z"/><path color="#5e4217" d="M3724,366l16,50 -21,-44 -17,-25z"/><path color="#fad15f" d="M3707,356l17,10 -22,-19 -18,18z"/><path class="m" d="M3707,356l17,10 16,50 14,86 13,110 -19,-82 -20,-71 -15,-75 -16,-39 -17,2 -19,43 23,-25z"/>
<path color="#7a7435" d="M3665,422l19,-57 -23,25 -19,77z"/><path color="#736e2e" d="M3645,511l20,-89 -23,45 -19,100z"/><path color="#716b29" d="M3625,620l20,-109 -22,56 -20,110z"/><path color="#716b24" d="M3606,736l19,-116 -22,57 -19,107z"/><path color="#857f3b" d="M3688,390l19,-34 -23,9 -19,57z"/><path color="#77712f" d="M3668,461l20,-71 -23,32 -20,89z"/><path color="#726c29" d="M3648,562l20,-101 -23,50 -20,109z"/><path color="#706a24" d="M3628,679l20,-117 -23,58 -19,116z"/><path class="m" d="M3628,679l20,-117 20,-101 20,-71 19,-34 -23,9 -23,25 -19,77 -19,100 -20,110 -19,107 22,-48z"/>
<path color="#736c20" d="M3586,845l20,-109 -22,48 -18,91z"/><path color="#78721e" d="M3568,935l18,-90 -20,30 -18,65z"/><path color="#8a8320" d="M3550,997l18,-62 -20,5 -18,34z"/><path color="#ffff7c" d="M3533,1028l17,-31 -20,-23 -17,3z"/><path color="#706a20" d="M3608,798l20,-119 -22,57 -20,109z"/><path color="#726c1c" d="M3589,907l19,-109 -22,47 -18,90z"/><path color="#79721a" d="M3570,995l19,-88 -21,28 -18,62z"/><path color="#8e861d" d="M3552,1053l18,-58 -20,2 -17,31z"/><path class="m" d="M3552,1053l18,-58 19,-88 19,-109 20,-119 -22,57 -22,48 -18,91 -18,65 -18,34 -17,3 20,51z"/>
<path color="#ffff75" d="M3516,1026l17,2 -20,-51 -16,-25z"/><path color="#e6ff5b" d="M3499,996l17,30 -19,-74 -17,-44z"/><path color="#b5ff60" d="M3482,947l17,49 -19,-88 -17,-50z"/><path color="#9cfd64" d="M3465,892l17,55 -19,-89 -17,-42z"/><path color="#ffffa2" d="M3535,1078l17,-25 -19,-25 -17,-2z"/><path color="#ffff73" d="M3518,1070l17,8 -19,-52 -17,-30z"/><path color="#baff63" d="M3501,1034l17,36 -19,-74 -17,-49z"/><path color="#96f560" d="M3484,979l17,55 -19,-87 -17,-55z"/><path class="m" d="M3484,979l17,55 17,36 17,8 17,-25 -19,-25 -20,-51 -16,-25 -17,-44 -17,-50 -17,-42 19,76z"/>
<path color="#98ff64" d="M3448,844l17,48 -19,-76 -18,-23z"/><path color="#a9ff76" d="M3430,815l18,29 -20,-51 -17,4z"/><path color="#54aa3a" d="M3412,813l18,2 -19,-18 -18,32z"/><path color="#2f6f20" d="M3394,840l18,-27 -19,16 -18,54z"/><path color="#89ef58" d="M3467,917l17,62 -19,-87 -17,-48z"/><path color="#81f456" d="M3450,863l17,54 -19,-73 -18,-29z"/><path color="#83ff5b" d="M3432,828l18,35 -20,-48 -18,-2z"/><path color="#4bab34" d="M3414,821l18,7 -20,-15 -18,27z"/><path class="m" d="M3414,821l18,7 18,35 17,54 17,62 -19,-87 -19,-76 -18,-23 -17,4 -18,32 -18,54 19,-43z"/>
<path color="#26651b" d="M3377,888l17,-48 -19,43 -17,63z"/><path color="#206218" d="M3359,947l18,-59 -19,58 -17,59z"/><path color="#30a426" d="M3342,1001l17,-54 -18,58 -18,42z"/><path color="#369849" d="M3324,1039l18,-38 -19,46 -17,15z"/><path color="#296d1d" d="M3396,842l18,-21 -20,19 -17,48z"/><path color="#216418" d="M3378,886l18,-44 -19,46 -18,59z"/><path color="#31a727" d="M3360,941l18,-55 -19,61 -17,54z"/><path color="#3ba550" d="M3342,992l18,-51 -18,60 -18,38z"/><path class="m" d="M3342,992l18,-51 18,-55 18,-44 18,-21 -20,19 -19,43 -17,63 -17,59 -18,42 -17,15 18,-23z"/>
<path color="#2c6053" d="M3306,1050l18,-11 -18,23 -18,-17z"/><path color="#2b515d" d="M3288,1028l18,22 -18,-5 -19,-50z"/><path color="#284f5c" d="M3269,974l19,54 -19,-33 -19,-79z"/><path color="#244c5c" d="M3249,893l20,81 -19,-58 -20,-101z"/><path color="#479682" d="M3325,1027l17,-35 -18,47 -18,11z"/><path color="#2f5965" d="M3307,1035l18,-8 -19,23 -18,-22z"/><path color="#284f5c" d="M3288,1010l19,25 -19,-7 -19,-54z"/><path color="#244c5c" d="M3269,954l19,56 -19,-36 -20,-81z"/><path class="m" d="M3269,954l19,56 19,25 18,-8 17,-35 -18,47 -18,23 -18,-17 -19,-50 -19,-79 -20,-101 19,78z"/>
<path color="#214a5c" d="M3229,792l20,101 -19,-78 -21,-111z"/><path color="#1d475b" d="M3208,684l21,108 -20,-88 -21,-107z"/><path color="#19445b" d="M3187,585l21,99 -20,-87 -22,-89z"/><path color="#3ba6e1" d="M3165,507l22,78 -21,-77 -21,-58z"/><path color="#214a5c" d="M3249,872l20,82 -20,-61 -20,-101z"/><path color="#1d475b" d="M3228,773l21,99 -20,-80 -21,-108z"/><path color="#19445b" d="M3207,670l21,103 -20,-89 -21,-99z"/><path color="#16425a" d="M3186,579l21,91 -20,-85 -22,-78z"/><path class="m" d="M3186,579l21,91 21,103 21,99 20,82 -20,-61 -19,-78 -21,-111 -21,-107 -22,-89 -21,-58 20,57z"/>
<path color="#41bfff" d="M3144,463l21,44 -20,-57 -20,-18z"/><path color="#5fc1ff" d="M3124,460l20,3 -19,-31 -19,26z"/><path color="#34547c" d="M3106,502l18,-42 -18,-2 -17,68z"/><path color="#3e496f" d="M3089,584l17,-82 -17,24 -17,103z"/><path color="#36a9ec" d="M3164,513l22,66 -21,-72 -21,-44z"/><path color="#65dcff" d="M3144,483l20,30 -20,-50 -20,-3z"/><path color="#4d77aa" d="M3124,496l20,-13 -20,-23 -18,42z"/><path color="#424e76" d="M3106,553l18,-57 -18,6 -17,82z"/><path class="m" d="M3106,553l18,-57 20,-13 20,30 22,66 -21,-72 -20,-57 -20,-18 -19,26 -17,68 -17,103 17,-45z"/>
<path color="#4a436a" d="M3073,696l16,-112 -17,45 -15,126z"/><path color="#443d67" d="M3058,828l15,-132 -16,59 -14,136z"/><path color="#3f3865" d="M3044,964l14,-136 -15,63 -14,132z"/><path color="#3b3465" d="M3029,1092l15,-128 -15,59 -14,117z"/><path color="#4c456d" d="M3089,646l17,-93 -17,31 -16,112z"/><path color="#453e68" d="M3073,767l16,-121 -16,50 -15,132z"/><path color="#3f3865" d="M3058,901l15,-134 -15,61 -14,136z"/><path color="#3a3364" d="M3044,1036l14,-135 -14,63 -15,128z"/><path class="m" d="M3044,1036l14,-135 15,-134 16,-121 17,-93 -17,31 -17,45 -15,126 -14,136 -14,132 -14,117 14,-48z"/>
<path color="#373065" d="M3015,1199l14,-107 -14,48 -14,91z"/><path color="#352e6a" d="M3000,1278l15,-79 -14,32 -17,58z"/><path color="#3b327d" d="M2983,1323l17,-45 -16,11 -17,21z"/><path color="#8270ff" d="M2964,1329l19,-6 -16,-13 -20,-18z"/><path color="#362f64" d="M3029,1157l15,-121 -15,56 -14,107z"/><path color="#332c66" d="M3014,1255l15,-98 -14,42 -15,79z"/><path color="#322a6d" d="M2998,1321l16,-66 -14,23 -17,45z"/><path color="#4f43ab" d="M2980,1351l18,-30 -15,2 -19,6z"/><path class="m" d="M2980,1351l18,-30 16,-66 15,-98 15,-121 -15,56 -14,48 -14,91 -17,58 -17,21 -20,-18 17,37z"/>
<path color="#7e57c2" d="M2943,1296l21,33 -17,-37 -22,-54z"/><path color="#9759a2" d="M2920,1227l23,69 -18,-58 -24,-88z"/><path color="#b7608c" d="M2895,1128l25,99 -19,-77 -26,-113z"/><path color="#5a2a37" d="M2868,1007l27,121 -20,-91 -28,-129z"/><path color="#9367de" d="M2961,1341l19,10 -16,-22 -21,-33z"/><path color="#9d5daa" d="M2939,1294l22,47 -18,-45 -23,-69z"/><path color="#ba628e" d="M2915,1212l24,82 -19,-67 -25,-99z"/><path color="#c7607d" d="M2889,1102l26,110 -20,-84 -27,-121z"/><path class="m" d="M2889,1102l26,110 24,82 22,47 19,10 -16,-22 -17,-37 -22,-54 -24,-88 -26,-113 -28,-129 21,99z"/>
<path color="#592633" d="M2840,874l28,133 -21,-99 -28,-132z"/><path color="#c34d69" d="M2811,743l29,131 -21,-98 -29,-122z"/><path color="#c54661" d="M2783,628l28,115 -21,-89 -27,-98z"/><path color="#ce415d" d="M2756,543l27,85 -20,-72 -26,-63z"/><path color="#592633" d="M2861,974l28,128 -21,-95 -28,-133z"/><path color="#58222e" d="M2833,840l28,134 -21,-100 -29,-131z"/><path color="#c2455f" d="M2804,713l29,127 -22,-97 -28,-115z"/><path color="#c63e59" d="M2776,608l28,105 -21,-85 -27,-85z"/><path class="m" d="M2776,608l28,105 29,127 28,134 28,128 -21,-95 -21,-99 -28,-132 -29,-122 -27,-98 -26,-63 19,50z"/>
<path color="#ef4463" d="M2731,497l25,46 -19,-50 -23,-18z"/><path color="#c0324b" d="M2709,498l22,-1 -17,-22 -19,30z"/><path color="#6e1220" d="M2691,546l18,-48 -14,7 -16,73z"/><path color="#630b18" d="M2676,636l15,-90 -12,32 -13,109z"/><path color="#d43a56" d="M2749,536l27,72 -20,-65 -25,-46z"/><path color="#ff4869" d="M2725,509l24,27 -18,-39 -22,1z"/><path color="#801727" d="M2705,529l20,-20 -16,-11 -18,48z"/><path color="#680c1a" d="M2688,595l17,-66 -14,17 -15,90z"/><path class="m" d="M2688,595l17,-66 20,-20 24,27 27,72 -20,-65 -19,-50 -23,-18 -19,30 -16,73 -13,109 10,-51z"/>
<path color="#7d572a" d="M3881,1100l20,-72 -24,28 -18,52z"/><path color="#9b6c36" d="M3864,1138l17,-38 -22,8 -17,16z"/><path color="#ffce62" d="M3848,1140l16,-2 -22,-14 -14,-20z"/><path color="#5f3c17" d="M3834,1105l14,35 -20,-36 -13,-55z"/><path color="#775328" d="M3905,1079l21,-91 -25,40 -20,72z"/><path color="#835a2a" d="M3886,1138l19,-59 -24,21 -17,38z"/><path color="#e8a153" d="M3869,1162l17,-24 -22,0 -16,2z"/><path color="#ffaa47" d="M3854,1149l15,13 -21,-22 -14,-35z"/><path class="m" d="M3854,1149l15,13 17,-24 19,-59 21,-91 -25,40 -24,28 -18,52 -17,16 -14,-20 -13,-55 19,56z"/>
<path color="#5e3a15" d="M3821,1037l13,68 -19,-56 -13,-85z"/><path color="#5e3812" d="M3809,941l12,96 -19,-73 -11,-108z"/><path color="#5d360f" d="M3798,825l11,116 -18,-85 -12,-121z"/><path color="#5d330c" d="M3786,701l12,124 -19,-90 -12,-123z"/><path color="#5e3a15" d="M3840,1101l14,48 -20,-44 -13,-68z"/><path color="#5e3812" d="M3828,1020l12,81 -19,-64 -12,-96z"/><path color="#5d360f" d="M3816,914l12,106 -19,-79 -11,-116z"/><path color="#5d330c" d="M3805,793l11,121 -18,-89 -12,-124z"/><path class="m" d="M3805,793l11,121 12,106 12,81 14,48 -20,-44 -19,-56 -13,-85 -11,-108 -12,-121 -12,-123 19,89z"/>
<path color="#5c3109" d="M3774,581l12,120 -19,-89 -13,-110z"/><path color="#5d360d" d="M3760,477l14,104 -20,-79 -14,-86z"/><path color="#5e4217" d="M3746,403l14,74 -20,-61 -16,-50z"/><path color="#5f4e20" d="M3729,367l17,36 -22,-37 -17,-10z"/><path color="#5c3109" d="M3793,667l12,126 -19,-92 -12,-120z"/><path color="#5d360d" d="M3781,551l12,116 -19,-86 -14,-104z"/><path color="#5e4217" d="M3767,456l14,95 -21,-74 -14,-74z"/><path color="#5f4e20" d="M3751,395l16,61 -21,-53 -17,-36z"/><path class="m" d="M3751,395l16,61 14,95 12,116 12,126 -19,-92 -19,-89 -13,-110 -14,-86 -16,-50 -17,-10 22,11z"/>
<path color="#b2aa52" d="M3711,374l18,-7 -22,-11 -19,34z"/><path color="#7d7733" d="M3692,423l19,-49 -23,16 -20,71z"/><path color="#746e2a" d="M3672,508l20,-85 -24,38 -20,101z"/><path color="#716b24" d="M3651,619l21,-111 -24,54 -20,117z"/><path color="#ffff88" d="M3734,375l17,20 -22,-28 -18,7z"/><path color="#8e873a" d="M3716,398l18,-23 -23,-1 -19,49z"/><path color="#79732c" d="M3696,463l20,-65 -24,25 -20,85z"/><path color="#726c25" d="M3675,562l21,-99 -24,45 -21,111z"/><path class="m" d="M3675,562l21,-99 20,-65 18,-23 17,20 -22,-28 -22,-11 -19,34 -20,71 -20,101 -20,117 23,-60z"/>
<path color="#70691f" d="M3631,742l20,-123 -23,60 -20,119z"/><path color="#706a1b" d="M3611,864l20,-122 -23,56 -19,109z"/><path color="#736c18" d="M3591,971l20,-107 -22,43 -19,88z"/><path color="#7a7315" d="M3573,1054l18,-83 -21,24 -18,58z"/><path color="#706a20" d="M3654,681l21,-119 -24,57 -20,123z"/><path color="#6f691b" d="M3633,809l21,-128 -23,61 -20,122z"/><path color="#706917" d="M3613,930l20,-121 -22,55 -20,107z"/><path color="#736c13" d="M3594,1034l19,-104 -22,41 -18,83z"/><path class="m" d="M3594,1034l19,-104 20,-121 21,-128 21,-119 -24,57 -23,60 -20,119 -19,109 -19,88 -18,58 21,1z"/>
<path color="#878e27" d="M3555,1106l18,-52 -21,-1 -17,25z"/><path color="#ffffbd" d="M3537,1124l18,-18 -20,-28 -17,-8z"/><path color="#d0ff73" d="M3520,1108l17,16 -19,-54 -17,-36z"/><path color="#99f961" d="M3504,1065l16,43 -19,-74 -17,-55z"/><path color="#70761c" d="M3575,1112l19,-78 -21,20 -18,52z"/><path color="#8ca63a" d="M3557,1156l18,-44 -20,-6 -18,18z"/><path color="#ffffb3" d="M3540,1165l17,-9 -20,-32 -17,-16z"/><path color="#a5ff6b" d="M3523,1140l17,25 -20,-57 -16,-43z"/><path class="m" d="M3523,1140l17,25 17,-9 18,-44 19,-78 -21,20 -21,-1 -17,25 -17,-8 -17,-36 -17,-55 20,86z"/>
<path color="#84e955" d="M3487,1002l17,63 -20,-86 -17,-62z"/><path color="#77e34e" d="M3469,934l18,68 -20,-85 -17,-54z"/><path color="#6ee44a" d="M3452,873l17,61 -19,-71 -18,-35z"/><path color="#67ec48" d="M3434,832l18,41 -20,-45 -18,-7z"/><path color="#85ea56" d="M3506,1088l17,52 -19,-75 -17,-63z"/><path color="#74de4c" d="M3489,1017l17,71 -19,-86 -18,-68z"/><path color="#28561a" d="M3472,942l17,75 -20,-83 -17,-61z"/><path color="#245518" d="M3454,875l18,67 -20,-69 -18,-41z"/><path class="m" d="M3454,875l18,67 17,75 17,71 17,52 -19,-75 -20,-86 -17,-62 -17,-54 -18,-35 -18,-7 20,11z"/>
<path color="#26641a" d="M3416,820l18,12 -20,-11 -18,21z"/><path color="#349927" d="M3397,837l19,-17 -20,22 -18,44z"/><path color="#31a627" d="M3379,877l18,-40 -19,49 -18,55z"/><path color="#3ca951" d="M3361,929l18,-52 -19,64 -18,51z"/><path color="#205516" d="M3436,828l18,47 -20,-43 -18,-12z"/><path color="#206218" d="M3418,811l18,17 -20,-8 -19,17z"/><path color="#2d9924" d="M3399,825l19,-14 -21,26 -18,40z"/><path color="#3ca751" d="M3381,863l18,-38 -20,52 -18,52z"/><path class="m" d="M3381,863l18,-38 19,-14 18,17 18,47 -20,-43 -20,-11 -18,21 -18,44 -18,55 -18,51 19,-63z"/>
<path color="#4fa790" d="M3343,979l18,-50 -19,63 -17,35z"/><path color="#5093a8" d="M3325,1012l18,-33 -18,48 -18,8z"/><path color="#2a5361" d="M3307,1018l18,-6 -18,23 -19,-25z"/><path color="#244c5c" d="M3288,993l19,25 -19,-8 -19,-56z"/><path color="#50aa93" d="M3362,914l19,-51 -20,66 -18,50z"/><path color="#5aa5bc" d="M3344,962l18,-48 -19,65 -18,33z"/><path color="#4a8ea6" d="M3326,995l18,-33 -19,50 -18,6z"/><path color="#254e5f" d="M3307,1002l19,-7 -19,23 -19,-25z"/><path class="m" d="M3307,1002l19,-7 18,-33 18,-48 19,-51 -20,66 -19,63 -17,35 -18,8 -19,-25 -19,-56 19,39z"/>
<path color="#214a5c" d="M3269,937l19,56 -19,-39 -20,-82z"/><path color="#1d475b" d="M3248,856l21,81 -20,-65 -21,-99z"/><path color="#19445b" d="M3228,760l20,96 -20,-83 -21,-103z"/><path color="#16425a" d="M3206,663l22,97 -21,-90 -21,-91z"/><path color="#214a5c" d="M3288,978l19,24 -19,-9 -19,-56z"/><path color="#1d475b" d="M3268,923l20,55 -19,-41 -21,-81z"/><path color="#19445b" d="M3248,845l20,78 -20,-67 -20,-96z"/><path color="#16425a" d="M3227,754l21,91 -20,-85 -22,-97z"/><path class="m" d="M3227,754l21,91 20,78 20,55 19,24 -19,-9 -19,-39 -20,-82 -21,-99 -21,-103 -21,-91 20,84z"/>
<path color="#33a0e1" d="M3185,581l21,82 -20,-84 -22,-66z"/><path color="#4bb2ff" d="M3163,527l22,54 -21,-68 -20,-30z"/><path color="#b5ffff" d="M3143,512l20,15 -19,-44 -20,13z"/><path color="#4e5b89" d="M3124,540l19,-28 -19,-16 -18,57z"/><path color="#319ddc" d="M3206,664l21,90 -21,-91 -21,-82z"/><path color="#43a4eb" d="M3184,592l22,72 -21,-83 -22,-54z"/><path color="#80c6ff" d="M3163,551l21,41 -21,-65 -20,-15z"/><path color="#bcd5ff" d="M3143,549l20,2 -20,-39 -19,28z"/><path class="m" d="M3143,549l20,2 21,41 22,72 21,90 -21,-91 -20,-84 -22,-66 -20,-30 -20,13 -18,57 18,-13z"/>
<path color="#504872" d="M3105,609l19,-69 -18,13 -17,93z"/><path color="#463f6a" d="M3089,713l16,-104 -16,37 -16,121z"/><path color="#403966" d="M3073,840l16,-127 -16,54 -15,134z"/><path color="#3a3364" d="M3058,975l15,-135 -15,61 -14,135z"/><path color="#59517e" d="M3123,590l20,-41 -19,-9 -19,69z"/><path color="#49426e" d="M3105,671l18,-81 -18,19 -16,104z"/><path color="#413a68" d="M3089,783l16,-112 -16,42 -16,127z"/><path color="#3b3465" d="M3073,914l16,-131 -16,57 -15,135z"/><path class="m" d="M3073,914l16,-131 16,-112 18,-81 20,-41 -19,-9 -18,13 -17,93 -16,121 -15,134 -14,135 14,-61z"/>
<path color="#362f63" d="M3044,1106l14,-131 -14,61 -15,121z"/><path color="#322b63" d="M3029,1219l15,-113 -15,51 -15,98z"/><path color="#2f2867" d="M3013,1306l16,-87 -15,36 -16,66z"/><path color="#312873" d="M2997,1358l16,-52 -15,15 -18,30z"/><path color="#362f63" d="M3059,1048l14,-134 -15,61 -14,131z"/><path color="#312a62" d="M3044,1173l15,-125 -15,58 -15,113z"/><path color="#2e2663" d="M3028,1277l16,-104 -15,46 -16,87z"/><path color="#2c2468" d="M3012,1352l16,-75 -15,29 -16,52z"/><path class="m" d="M3012,1352l16,-75 16,-104 15,-125 14,-134 -15,61 -14,61 -15,121 -15,98 -16,66 -18,30 17,7z"/>
<path color="#ae80fd" d="M2978,1373l19,-15 -17,-7 -19,-10z"/><path color="#ab67b8" d="M2957,1348l21,25 -17,-32 -22,-47z"/><path color="#bf6593" d="M2935,1286l22,62 -18,-54 -24,-82z"/><path color="#ca617e" d="M2910,1192l25,94 -20,-74 -26,-110z"/><path color="#533a7f" d="M2995,1390l17,-38 -15,6 -19,15z"/><path color="#cd80dc" d="M2975,1389l20,1 -17,-17 -21,-25z"/><path color="#ca6b9b" d="M2953,1349l22,40 -18,-41 -22,-62z"/><path color="#ce6481" d="M2930,1274l23,75 -18,-63 -25,-94z"/><path class="m" d="M2930,1274l23,75 22,40 20,1 17,-38 -15,6 -17,-7 -19,-10 -22,-47 -24,-82 -26,-110 21,90z"/>
<path color="#c45672" d="M2883,1074l27,118 -21,-90 -28,-128z"/><path color="#58222e" d="M2854,941l29,133 -22,-100 -28,-134z"/><path color="#c0445e" d="M2825,807l29,134 -21,-101 -29,-127z"/><path color="#c13c56" d="M2796,686l29,121 -21,-94 -28,-105z"/><path color="#c65773" d="M2904,1169l26,105 -20,-82 -27,-118z"/><path color="#58222e" d="M2876,1042l28,127 -21,-95 -29,-133z"/><path color="#561e2a" d="M2847,907l29,135 -22,-101 -29,-134z"/><path color="#bf3b55" d="M2818,775l29,132 -22,-100 -29,-121z"/><path class="m" d="M2818,775l29,132 29,135 28,127 26,105 -20,-82 -21,-90 -28,-128 -28,-134 -29,-127 -28,-105 20,78z"/>
<path color="#c83651" d="M2768,592l28,94 -20,-78 -27,-72z"/><path color="#e13452" d="M2743,537l25,55 -19,-56 -24,-27z"/><path color="#f93d5b" d="M2720,528l23,9 -18,-28 -20,20z"/><path color="#710e1d" d="M2701,568l19,-40 -15,1 -17,66z"/><path color="#c2334e" d="M2789,663l29,112 -22,-89 -28,-94z"/><path color="#cd2e49" d="M2762,583l27,80 -21,-71 -25,-55z"/><path color="#f83352" d="M2737,545l25,38 -19,-46 -23,-9z"/><path color="#97172a" d="M2715,556l22,-11 -17,-17 -19,40z"/><path class="m" d="M2715,556l22,-11 25,38 27,80 29,112 -22,-89 -20,-78 -27,-72 -24,-27 -20,20 -17,66 13,-27z"/>
<path color="#745127" d="M3930,1046l22,-106 -26,48 -21,91z"/><path color="#7a5326" d="M3909,1126l21,-80 -25,33 -19,59z"/><path color="#8f602c" d="M3891,1172l18,-46 -23,12 -17,24z"/><path color="#ffd768" d="M3875,1181l16,-9 -22,-10 -15,-13z"/><path color="#735026" d="M3956,1004l23,-120 -27,56 -22,106z"/><path color="#765025" d="M3934,1101l22,-97 -26,42 -21,80z"/><path color="#7f5425" d="M3914,1168l20,-67 -25,25 -18,46z"/><path color="#b87b39" d="M3897,1200l17,-32 -23,4 -16,9z"/><path class="m" d="M3897,1200l17,-32 20,-67 22,-97 23,-120 -27,56 -26,48 -21,91 -19,59 -17,24 -15,-13 21,32z"/>
<path color="#5e3a15" d="M3860,1154l15,27 -21,-32 -14,-48z"/><path color="#5e3812" d="M3847,1091l13,63 -20,-53 -12,-81z"/><path color="#5d360f" d="M3835,999l12,92 -19,-71 -12,-106z"/><path color="#5d330c" d="M3824,885l11,114 -19,-85 -11,-121z"/><path color="#ffb046" d="M3881,1195l16,5 -22,-19 -15,-27z"/><path color="#5e3812" d="M3867,1152l14,43 -21,-41 -13,-63z"/><path color="#5d360f" d="M3854,1077l13,75 -20,-61 -12,-92z"/><path color="#5d330c" d="M3843,974l11,103 -19,-78 -11,-114z"/><path class="m" d="M3843,974l11,103 13,75 14,43 16,5 -22,-19 -21,-32 -14,-48 -12,-81 -12,-106 -11,-121 19,92z"/>
<path color="#5c3109" d="M3813,759l11,126 -19,-92 -12,-126z"/><path color="#5d360d" d="M3801,634l12,125 -20,-92 -12,-116z"/><path color="#5e4217" d="M3788,524l13,110 -20,-83 -14,-95z"/><path color="#5f4e20" d="M3773,440l15,84 -21,-68 -16,-61z"/><path color="#5c3109" d="M3832,853l11,121 -19,-89 -11,-126z"/><path color="#5d360d" d="M3820,725l12,128 -19,-94 -12,-125z"/><path color="#5e4217" d="M3808,603l12,122 -19,-91 -13,-110z"/><path color="#5f4e20" d="M3795,501l13,102 -20,-79 -15,-84z"/><path class="m" d="M3795,501l13,102 12,122 12,128 11,121 -19,-89 -19,-92 -12,-126 -12,-116 -14,-95 -16,-61 22,45z"/>
<path color="#605c2a" d="M3757,393l16,47 -22,-45 -17,-20z"/><path color="#e8de67" d="M3739,390l18,3 -23,-18 -18,23z"/><path color="#827b30" d="M3720,431l19,-41 -23,8 -20,65z"/><path color="#756f26" d="M3699,511l21,-80 -24,32 -21,99z"/><path color="#605c2a" d="M3779,430l16,71 -22,-61 -16,-47z"/><path color="#ffff76" d="M3763,399l16,31 -22,-37 -18,-3z"/><path color="#9f973d" d="M3744,414l19,-15 -24,-9 -19,41z"/><path color="#7b7528" d="M3724,471l20,-57 -24,17 -21,80z"/><path class="m" d="M3724,471l20,-57 19,-15 16,31 16,71 -22,-61 -22,-45 -17,-20 -18,23 -20,65 -21,99 24,-51z"/>
<path color="#716b20" d="M3678,621l21,-110 -24,51 -21,119z"/><path color="#6f691b" d="M3657,748l21,-127 -24,60 -21,128z"/><path color="#6f6816" d="M3636,878l21,-130 -24,61 -20,121z"/><path color="#706912" d="M3616,998l20,-120 -23,52 -19,104z"/><path color="#736d21" d="M3703,566l21,-95 -25,40 -21,110z"/><path color="#70691b" d="M3681,685l22,-119 -25,55 -21,127z"/><path color="#6e6816" d="M3660,817l21,-132 -24,63 -21,130z"/><path color="#6e6712" d="M3639,948l21,-131 -24,61 -20,120z"/><path class="m" d="M3639,948l21,-131 21,-132 22,-119 21,-95 -25,40 -24,51 -21,119 -21,128 -20,121 -19,104 22,-36z"/>
<path color="#696e19" d="M3596,1096l20,-98 -22,36 -19,78z"/><path color="#667a24" d="M3578,1166l18,-70 -21,16 -18,44z"/><path color="#a4dd63" d="M3560,1200l18,-34 -21,-10 -17,9z"/><path color="#d2ff8f" d="M3542,1199l18,1 -20,-35 -17,-25z"/><path color="#656a18" d="M3618,1064l21,-116 -23,50 -20,98z"/><path color="#5d7020" d="M3599,1156l19,-92 -22,32 -18,70z"/><path color="#5b812f" d="M3580,1215l19,-59 -21,10 -18,34z"/><path color="#dfffa4" d="M3563,1239l17,-24 -20,-15 -18,-1z"/><path class="m" d="M3563,1239l17,-24 19,-59 19,-92 21,-116 -23,50 -22,36 -19,78 -18,44 -17,9 -17,-25 19,59z"/>
<path color="#8df55b" d="M3526,1165l16,34 -19,-59 -17,-52z"/><path color="#74de4c" d="M3509,1103l17,62 -20,-77 -17,-71z"/><path color="#28561a" d="M3492,1024l17,79 -20,-86 -17,-75z"/><path color="#245518" d="M3474,941l18,83 -20,-82 -18,-67z"/><path color="#a3ff6d" d="M3545,1227l18,12 -21,-40 -16,-34z"/><path color="#78e54f" d="M3528,1182l17,45 -19,-62 -17,-62z"/><path color="#28561a" d="M3511,1110l17,72 -19,-79 -17,-79z"/><path color="#245518" d="M3494,1023l17,87 -19,-86 -18,-83z"/><path class="m" d="M3494,1023l17,87 17,72 17,45 18,12 -21,-40 -19,-59 -17,-52 -17,-71 -17,-75 -18,-67 20,66z"/>
<path color="#205516" d="M3456,868l18,73 -20,-66 -18,-47z"/><path color="#1b5414" d="M3438,817l18,51 -20,-40 -18,-17z"/><path color="#1b6015" d="M3419,797l19,20 -20,-6 -19,14z"/><path color="#37994a" d="M3401,808l18,-11 -20,28 -18,38z"/><path color="#205516" d="M3477,934l17,89 -20,-82 -18,-73z"/><path color="#1b5414" d="M3459,855l18,79 -21,-66 -18,-51z"/><path color="#175312" d="M3440,801l19,54 -21,-38 -19,-20z"/><path color="#215f2d" d="M3421,778l19,23 -21,-4 -18,11z"/><path class="m" d="M3421,778l19,23 19,54 18,79 17,89 -20,-82 -20,-66 -18,-47 -18,-17 -19,14 -18,38 20,-55z"/>
<path color="#50a892" d="M3382,845l19,-37 -20,55 -19,51z"/><path color="#5ca8bf" d="M3363,896l19,-51 -20,69 -18,48z"/><path color="#53a0bb" d="M3345,946l18,-50 -19,66 -18,33z"/><path color="#4389a5" d="M3326,980l19,-34 -19,49 -19,7z"/><path color="#499a85" d="M3402,789l19,-11 -20,30 -19,37z"/><path color="#5ba6bd" d="M3383,826l19,-37 -20,56 -19,51z"/><path color="#54a3be" d="M3364,879l19,-53 -20,70 -18,50z"/><path color="#4b9ab9" d="M3346,931l18,-52 -19,67 -19,34z"/><path class="m" d="M3346,931l18,-52 19,-53 19,-37 19,-11 -20,30 -20,55 -19,51 -18,48 -18,33 -19,7 19,-22z"/>
<path color="#214b5e" d="M3307,989l19,-9 -19,22 -19,-24z"/><path color="#1d475b" d="M3288,967l19,22 -19,-11 -20,-55z"/><path color="#19445b" d="M3268,916l20,51 -20,-44 -20,-78z"/><path color="#16425a" d="M3248,841l20,75 -20,-71 -21,-91z"/><path color="#3c84a4" d="M3327,969l19,-38 -20,49 -19,9z"/><path color="#1e495d" d="M3308,981l19,-12 -20,20 -19,-22z"/><path color="#19445b" d="M3288,963l20,18 -20,-14 -20,-51z"/><path color="#16425a" d="M3268,916l20,47 -20,-47 -20,-75z"/><path class="m" d="M3268,916l20,47 20,18 19,-12 19,-38 -20,49 -19,22 -19,-24 -20,-55 -20,-78 -21,-91 21,87z"/>
<path color="#319cdb" d="M3227,756l21,85 -21,-87 -21,-90z"/><path color="#409fe4" d="M3205,675l22,81 -21,-92 -22,-72z"/><path color="#6dacfa" d="M3184,613l21,62 -21,-83 -21,-41z"/><path color="#c9e6ff" d="M3162,583l22,30 -21,-62 -20,-2z"/><path color="#329fdf" d="M3248,846l20,70 -20,-75 -21,-85z"/><path color="#409ee3" d="M3226,768l22,78 -21,-90 -22,-81z"/><path color="#66a3ee" d="M3205,694l21,74 -21,-93 -21,-62z"/><path color="#9db6ff" d="M3183,642l22,52 -21,-81 -22,-30z"/><path class="m" d="M3183,642l22,52 21,74 22,78 20,70 -20,-75 -21,-87 -21,-90 -22,-72 -21,-41 -20,-2 19,34z"/>
<path color="#9185c5" d="M3142,594l20,-11 -19,-34 -20,41z"/><path color="#4f4777" d="M3123,647l19,-53 -19,-4 -18,81z"/><path color="#433c6b" d="M3106,738l17,-91 -18,24 -16,112z"/><path color="#3c3466" d="M3089,856l17,-118 -17,45 -16,131z"/><path color="#ffffff" d="M3162,624l21,18 -21,-59 -20,11z"/><path color="#695f99" d="M3142,646l20,-22 -20,-30 -19,53z"/><path color="#484072" d="M3123,709l19,-63 -19,1 -17,91z"/><path color="#3d3669" d="M3106,808l17,-99 -17,29 -17,118z"/><path class="m" d="M3106,808l17,-99 19,-63 20,-22 21,18 -21,-59 -19,-34 -20,41 -18,81 -16,112 -16,131 16,-58z"/>
<path color="#362f63" d="M3074,988l15,-132 -16,58 -14,134z"/><path color="#312a62" d="M3059,1119l15,-131 -15,60 -15,125z"/><path color="#2d2662" d="M3044,1237l15,-118 -15,54 -16,104z"/><path color="#292264" d="M3028,1331l16,-94 -16,40 -16,75z"/><path color="#362f64" d="M3090,929l16,-121 -17,48 -15,132z"/><path color="#312a62" d="M3074,1061l16,-132 -16,59 -15,131z"/><path color="#2c2561" d="M3059,1188l15,-127 -15,58 -15,118z"/><path color="#282161" d="M3043,1297l16,-109 -15,49 -16,94z"/><path class="m" d="M3043,1297l16,-109 15,-127 16,-132 16,-121 -17,48 -16,58 -14,134 -15,125 -16,104 -16,75 16,-21z"/>
<path color="#422d67" d="M3011,1392l17,-61 -16,21 -17,38z"/><path color="#a86bb4" d="M2992,1415l19,-23 -16,-2 -20,-1z"/><path color="#e079ad" d="M2972,1399l20,16 -17,-26 -22,-40z"/><path color="#d66886" d="M2949,1345l23,54 -19,-50 -23,-75z"/><path color="#3d2960" d="M3027,1379l16,-82 -15,34 -17,61z"/><path color="#603967" d="M3009,1426l18,-47 -16,13 -19,23z"/><path color="#ff98d2" d="M2990,1435l19,-9 -17,-11 -20,-16z"/><path color="#e46f90" d="M2968,1404l22,31 -18,-36 -23,-54z"/><path class="m" d="M2968,1404l22,31 19,-9 18,-47 16,-82 -15,34 -16,21 -17,38 -20,-1 -22,-40 -23,-75 19,71z"/>
<path color="#c95975" d="M2924,1257l25,88 -19,-71 -26,-105z"/><path color="#c24d68" d="M2898,1141l26,116 -20,-88 -28,-127z"/><path color="#561e2a" d="M2869,1009l29,132 -22,-99 -29,-135z"/><path color="#bd3a54" d="M2840,873l29,136 -22,-102 -29,-132z"/><path color="#ce5b78" d="M2945,1335l23,69 -19,-59 -25,-88z"/><path color="#c44e6a" d="M2919,1235l26,100 -21,-78 -26,-116z"/><path color="#561e2a" d="M2891,1112l28,123 -21,-94 -29,-132z"/><path color="#551925" d="M2862,976l29,136 -22,-103 -29,-136z"/><path class="m" d="M2862,976l29,136 28,123 26,100 23,69 -19,-59 -19,-71 -26,-105 -28,-127 -29,-135 -29,-132 22,98z"/>
<path color="#be324c" d="M2810,747l30,126 -22,-98 -29,-112z"/><path color="#c32b45" d="M2782,645l28,102 -21,-84 -27,-80z"/><path color="#d62743" d="M2755,581l27,64 -20,-62 -25,-38z"/><path color="#ff3959" d="M2731,562l24,19 -18,-36 -22,11z"/><path color="#bc314b" d="M2832,841l30,135 -22,-103 -30,-126z"/><path color="#be2943" d="M2803,722l29,119 -22,-94 -28,-102z"/><path color="#c7233d" d="M2775,633l28,89 -21,-77 -27,-64z"/><path color="#e72441" d="M2749,586l26,47 -20,-52 -24,-19z"/><path class="m" d="M2749,586l26,47 28,89 29,119 30,135 -22,-103 -22,-98 -29,-112 -27,-80 -25,-38 -22,11 16,6z"/>
<path color="#724f26" d="M3983,952l24,-130 -28,62 -23,120z"/><path color="#734e24" d="M3960,1065l23,-113 -27,52 -22,97z"/><path color="#784f22" d="M3938,1151l22,-86 -26,36 -20,67z"/><path color="#875725" d="M3919,1205l19,-54 -24,17 -17,32z"/><path color="#714f26" d="M4011,893l25,-135 -29,64 -24,130z"/><path color="#724d23" d="M3987,1019l24,-126 -28,59 -23,113z"/><path color="#744d21" d="M3964,1123l23,-104 -27,46 -22,86z"/><path color="#7b4f20" d="M3943,1197l21,-74 -26,28 -19,54z"/><path class="m" d="M3943,1197l21,-74 23,-104 24,-126 25,-135 -29,64 -28,62 -23,120 -22,97 -20,67 -17,32 22,5z"/>
<path color="#ffc55f" d="M3902,1223l17,-18 -22,-5 -16,-5z"/><path color="#5e3812" d="M3887,1202l15,21 -21,-28 -14,-43z"/><path color="#5d360f" d="M3874,1146l13,56 -20,-50 -13,-75z"/><path color="#5d330c" d="M3862,1058l12,88 -20,-69 -11,-103z"/><path color="#976028" d="M3925,1237l18,-40 -24,8 -17,18z"/><path color="#ffba49" d="M3909,1239l16,-2 -23,-14 -15,-21z"/><path color="#5d360f" d="M3894,1204l15,35 -22,-37 -13,-56z"/><path color="#5d330c" d="M3882,1134l12,70 -20,-58 -12,-88z"/><path class="m" d="M3882,1134l12,70 15,35 16,-2 18,-40 -24,8 -22,-5 -16,-5 -14,-43 -13,-75 -11,-103 19,84z"/>
<path color="#5c3109" d="M3851,946l11,112 -19,-84 -11,-121z"/><path color="#5d360d" d="M3840,820l11,126 -19,-93 -12,-128z"/><path color="#5e4217" d="M3828,692l12,128 -20,-95 -12,-122z"/><path color="#5f4e20" d="M3816,575l12,117 -20,-89 -13,-102z"/><path color="#5c3109" d="M3870,1035l12,99 -20,-76 -11,-112z"/><path color="#5d360d" d="M3859,915l11,120 -19,-89 -11,-126z"/><path color="#5e4217" d="M3848,786l11,129 -19,-95 -12,-128z"/><path color="#5f4e20" d="M3836,659l12,127 -20,-94 -12,-117z"/><path class="m" d="M3836,659l12,127 11,129 11,120 12,99 -20,-76 -19,-84 -11,-121 -12,-128 -12,-122 -13,-102 21,74z"/>
<path color="#605c2a" d="M3802,482l14,93 -21,-74 -16,-71z"/><path color="#605b26" d="M3786,426l16,56 -23,-52 -16,-31z"/><path color="#ffff78" d="M3768,413l18,13 -23,-27 -19,15z"/><path color="#88812e" d="M3748,445l20,-32 -24,1 -20,57z"/><path color="#605c2a" d="M3823,550l13,109 -20,-84 -14,-93z"/><path color="#605b26" d="M3808,470l15,80 -21,-68 -16,-56z"/><path color="#5f5b22" d="M3792,429l16,41 -22,-44 -18,-13z"/><path color="#c6bc48" d="M3773,434l19,-5 -24,-16 -20,32z"/><path class="m" d="M3773,434l19,-5 16,41 15,80 13,109 -20,-84 -21,-74 -16,-71 -16,-31 -19,15 -20,57 24,-26z"/>
<path color="#777022" d="M3728,519l20,-74 -24,26 -21,95z"/><path color="#716b1c" d="M3706,626l22,-107 -25,47 -22,119z"/><path color="#6e6816" d="M3684,754l22,-128 -25,59 -21,132z"/><path color="#6e6712" d="M3662,889l22,-135 -24,63 -21,131z"/><path color="#7e7725" d="M3753,484l20,-50 -25,11 -20,74z"/><path color="#746d1c" d="M3731,573l22,-89 -25,35 -22,107z"/><path color="#6f6917" d="M3709,691l22,-118 -25,53 -22,128z"/><path color="#6e6712" d="M3687,826l22,-135 -25,63 -22,135z"/><path class="m" d="M3687,826l22,-135 22,-118 22,-89 20,-50 -25,11 -24,26 -21,95 -22,119 -21,132 -21,131 23,-59z"/>
<path color="#646917" d="M3641,1018l21,-129 -23,59 -21,116z"/><path color="#596c1e" d="M3621,1129l20,-111 -23,46 -19,92z"/><path color="#507328" d="M3602,1212l19,-83 -22,27 -19,59z"/><path color="#568c37" d="M3583,1261l19,-49 -22,3 -17,24z"/><path color="#636817" d="M3665,962l22,-136 -25,63 -21,129z"/><path color="#586a1e" d="M3644,1087l21,-125 -24,56 -20,111z"/><path color="#4c6e26" d="M3624,1191l20,-104 -23,42 -19,83z"/><path color="#48772d" d="M3604,1263l20,-72 -22,21 -19,49z"/><path class="m" d="M3604,1263l20,-72 20,-104 21,-125 22,-136 -25,63 -23,59 -21,116 -19,92 -19,59 -17,24 20,22z"/>
<path color="#e9ffab" d="M3565,1273l18,-12 -20,-22 -18,-12z"/><path color="#84f858" d="M3548,1248l17,25 -20,-46 -17,-45z"/><path color="#28561a" d="M3531,1192l17,56 -20,-66 -17,-72z"/><path color="#245518" d="M3514,1110l17,82 -20,-82 -17,-87z"/><path color="#6bb249" d="M3586,1300l18,-37 -21,-2 -18,12z"/><path color="#a9ff77" d="M3568,1300l18,0 -21,-27 -17,-25z"/><path color="#6ee34a" d="M3551,1263l17,37 -20,-52 -17,-56z"/><path color="#245518" d="M3534,1195l17,68 -20,-71 -17,-82z"/><path class="m" d="M3534,1195l17,68 17,37 18,0 18,-37 -21,-2 -20,-22 -18,-12 -17,-45 -17,-72 -17,-87 20,87z"/>
<path color="#205516" d="M3497,1015l17,95 -20,-87 -17,-89z"/><path color="#1b5414" d="M3479,919l18,96 -20,-81 -18,-79z"/><path color="#175312" d="M3461,837l18,82 -20,-64 -19,-54z"/><path color="#1c5327" d="M3442,780l19,57 -21,-36 -19,-23z"/><path color="#205516" d="M3517,1103l17,92 -20,-85 -17,-95z"/><path color="#1b5414" d="M3500,1000l17,103 -20,-88 -18,-96z"/><path color="#175312" d="M3482,899l18,101 -21,-81 -18,-82z"/><path color="#1c5327" d="M3464,814l18,85 -21,-62 -19,-57z"/><path class="m" d="M3464,814l18,85 18,101 17,103 17,92 -20,-85 -20,-87 -17,-89 -18,-79 -19,-54 -19,-23 21,2z"/>
<path color="#2d6053" d="M3423,757l19,23 -21,-2 -19,11z"/><path color="#5398ad" d="M3404,769l19,-12 -21,32 -19,37z"/><path color="#53a0bb" d="M3385,809l19,-40 -21,57 -19,53z"/><path color="#4c9cbc" d="M3366,864l19,-55 -21,70 -18,52z"/><path color="#265247" d="M3445,757l19,57 -22,-34 -19,-23z"/><path color="#356270" d="M3425,736l20,21 -22,0 -19,12z"/><path color="#4d94ad" d="M3406,751l19,-15 -21,33 -19,40z"/><path color="#4b9ab9" d="M3386,795l20,-44 -21,58 -19,55z"/><path class="m" d="M3386,795l20,-44 19,-15 20,21 19,57 -22,-34 -21,-2 -19,11 -19,37 -19,53 -18,52 20,-67z"/>
<path color="#4393b7" d="M3347,921l19,-57 -20,67 -19,38z"/><path color="#357fa2" d="M3328,963l19,-42 -20,48 -19,12z"/><path color="#1a475e" d="M3308,980l20,-17 -20,18 -20,-18z"/><path color="#40b2f2" d="M3289,967l19,13 -20,-17 -20,-47z"/><path color="#4495b9" d="M3367,855l19,-60 -20,69 -19,57z"/><path color="#3b8cb3" d="M3348,917l19,-62 -20,66 -19,42z"/><path color="#225a77" d="M3328,965l20,-48 -20,46 -20,17z"/><path color="#3694c8" d="M3309,988l19,-23 -20,15 -19,-13z"/><path class="m" d="M3309,988l19,-23 20,-48 19,-62 19,-60 -20,69 -20,67 -19,38 -19,12 -20,-18 -20,-47 21,51z"/>
<path color="#35a6e9" d="M3269,925l20,42 -21,-51 -20,-70z"/><path color="#41a1e7" d="M3248,861l21,64 -21,-79 -22,-78z"/><path color="#65a1ec" d="M3226,789l22,72 -22,-93 -21,-74z"/><path color="#90a8fa" d="M3205,724l21,65 -21,-95 -22,-52z"/><path color="#40bdff" d="M3289,980l20,8 -20,-21 -20,-42z"/><path color="#47abf5" d="M3269,944l20,36 -20,-55 -21,-64z"/><path color="#68a5f1" d="M3248,887l21,57 -21,-83 -22,-72z"/><path color="#8da5f6" d="M3226,821l22,66 -22,-98 -21,-65z"/><path class="m" d="M3226,821l22,66 21,57 20,36 20,8 -20,-21 -21,-51 -20,-70 -22,-78 -21,-74 -22,-52 22,82z"/>
<path color="#d6c4ff" d="M3183,681l22,43 -22,-82 -21,-18z"/><path color="#ffffff" d="M3162,672l21,9 -21,-57 -20,22z"/><path color="#564d86" d="M3142,704l20,-32 -20,-26 -19,63z"/><path color="#41396e" d="M3124,776l18,-72 -19,5 -17,99z"/><path color="#bdadff" d="M3205,763l21,58 -21,-97 -22,-43z"/><path color="#e3d0ff" d="M3183,729l22,34 -22,-82 -21,-9z"/><path color="#f0deff" d="M3162,728l21,1 -21,-57 -20,32z"/><path color="#4c437e" d="M3143,768l19,-40 -20,-24 -18,72z"/><path class="m" d="M3143,768l19,-40 21,1 22,34 21,58 -21,-97 -22,-82 -21,-18 -20,22 -19,63 -17,99 18,-32z"/>
<path color="#383066" d="M3106,879l18,-103 -18,32 -16,121z"/><path color="#312a63" d="M3090,1003l16,-124 -16,50 -16,132z"/><path color="#2c2561" d="M3074,1132l16,-129 -16,58 -15,127z"/><path color="#282160" d="M3058,1252l16,-120 -15,56 -16,109z"/><path color="#3b336c" d="M3124,845l19,-77 -19,8 -18,103z"/><path color="#332b65" d="M3107,952l17,-107 -18,34 -16,124z"/><path color="#2d2561" d="M3090,1075l17,-123 -17,51 -16,129z"/><path color="#27205f" d="M3074,1199l16,-124 -16,57 -16,120z"/><path class="m" d="M3074,1199l16,-124 17,-123 17,-107 19,-77 -19,8 -18,32 -16,121 -16,132 -15,127 -16,109 15,-45z"/>
<path color="#3b275c" d="M3042,1352l16,-100 -15,45 -16,82z"/><path color="#54315b" d="M3025,1421l17,-69 -15,27 -18,47z"/><path color="#995477" d="M3007,1454l18,-33 -16,5 -19,9z"/><path color="#ff82a6" d="M2987,1448l20,6 -17,-19 -22,-31z"/><path color="#3a275a" d="M3058,1312l16,-113 -16,53 -16,100z"/><path color="#502e56" d="M3041,1401l17,-89 -16,40 -17,69z"/><path color="#703b56" d="M3024,1457l17,-56 -16,20 -18,33z"/><path color="#fb84a5" d="M3004,1476l20,-19 -17,-3 -20,-6z"/><path class="m" d="M3004,1476l20,-19 17,-56 17,-89 16,-113 -16,53 -15,45 -16,82 -18,47 -19,9 -22,-31 19,44z"/>
<path color="#d75f7e" d="M2964,1402l23,46 -19,-44 -23,-69z"/><path color="#c8506c" d="M2940,1321l24,81 -19,-67 -26,-100z"/><path color="#c0445f" d="M2913,1210l27,111 -21,-86 -28,-123z"/><path color="#551925" d="M2884,1080l29,130 -22,-98 -29,-136z"/><path color="#e96989" d="M2983,1455l21,21 -17,-28 -23,-46z"/><path color="#ce526f" d="M2960,1395l23,60 -19,-53 -24,-81z"/><path color="#c34560" d="M2934,1302l26,93 -20,-74 -27,-111z"/><path color="#bd3a54" d="M2907,1182l27,120 -21,-92 -29,-130z"/><path class="m" d="M2907,1182l27,120 26,93 23,60 21,21 -17,-28 -19,-44 -23,-69 -26,-100 -28,-123 -29,-136 22,104z"/>
<path color="#bb314a" d="M2855,942l29,138 -22,-104 -30,-135z"/><path color="#bb2942" d="M2825,811l30,131 -23,-101 -29,-119z"/><path color="#bf213a" d="M2796,702l29,109 -22,-89 -28,-89z"/><path color="#cd1c37" d="M2768,628l28,74 -21,-69 -26,-47z"/><path color="#541521" d="M2877,1047l30,135 -23,-102 -29,-138z"/><path color="#b92841" d="M2847,910l30,137 -22,-105 -30,-131z"/><path color="#bb2038" d="M2817,785l30,125 -22,-99 -29,-109z"/><path color="#c21a33" d="M2788,688l29,97 -21,-83 -28,-74z"/><path class="m" d="M2788,688l29,97 30,125 30,137 30,135 -23,-102 -22,-104 -30,-135 -29,-119 -28,-89 -26,-47 19,42z"/>
<path color="#714f26" d="M4040,830l26,-137 -30,65 -25,135z"/><path color="#714d23" d="M4015,964l25,-134 -29,63 -24,126z"/><path color="#724b20" d="M3991,1083l24,-119 -28,55 -23,104z"/><path color="#764b1e" d="M3969,1176l22,-93 -27,40 -21,74z"/><path color="#724f26" d="M4071,765l26,-133 -31,61 -26,137z"/><path color="#714d23" d="M4044,903l27,-138 -31,65 -25,134z"/><path color="#714a20" d="M4019,1033l25,-130 -29,61 -24,119z"/><path color="#73491d" d="M3995,1144l24,-111 -28,50 -22,93z"/><path class="m" d="M3995,1144l24,-111 25,-130 27,-138 26,-133 -31,61 -30,65 -25,135 -24,126 -23,104 -21,74 26,-21z"/>
<path color="#81511f" d="M3949,1238l20,-62 -26,21 -18,40z"/><path color="#e39241" d="M3931,1263l18,-25 -24,-1 -16,2z"/><path color="#5d360f" d="M3916,1250l15,13 -22,-24 -15,-35z"/><path color="#5d330c" d="M3902,1200l14,50 -22,-46 -12,-70z"/><path color="#784b1c" d="M3974,1226l21,-82 -26,32 -20,62z"/><path color="#8c561f" d="M3955,1274l19,-48 -25,12 -18,25z"/><path color="#ffc34f" d="M3938,1284l17,-10 -24,-11 -15,-13z"/><path color="#5d330c" d="M3923,1256l15,28 -22,-34 -14,-50z"/><path class="m" d="M3923,1256l15,28 17,-10 19,-48 21,-82 -26,32 -26,21 -18,40 -16,2 -15,-35 -12,-70 20,66z"/>
<path color="#5c3109" d="M3890,1117l12,83 -20,-66 -12,-99z"/><path color="#5d360d" d="M3879,1008l11,109 -20,-82 -11,-120z"/><path color="#5e4217" d="M3868,882l11,126 -20,-93 -11,-129z"/><path color="#5f4e20" d="M3857,751l11,131 -20,-96 -12,-127z"/><path color="#5c3109" d="M3910,1192l13,64 -21,-56 -12,-83z"/><path color="#5d360d" d="M3898,1097l12,95 -20,-75 -11,-109z"/><path color="#5e4217" d="M3887,979l11,118 -19,-89 -11,-126z"/><path color="#5f4e20" d="M3877,848l10,131 -19,-97 -11,-131z"/><path class="m" d="M3877,848l10,131 11,118 12,95 13,64 -21,-56 -20,-66 -12,-99 -11,-120 -11,-129 -12,-127 21,92z"/>
<path color="#605c2a" d="M3844,629l13,122 -21,-92 -13,-109z"/><path color="#605b26" d="M3831,529l13,100 -21,-79 -15,-80z"/><path color="#5f5b22" d="M3815,463l16,66 -23,-59 -16,-41z"/><path color="#ffff6b" d="M3798,440l17,23 -23,-34 -19,5z"/><path color="#605c2a" d="M3865,718l12,130 -20,-97 -13,-122z"/><path color="#605b26" d="M3853,602l12,116 -21,-89 -13,-100z"/><path color="#5f5b22" d="M3838,514l15,88 -22,-73 -16,-66z"/><path color="#5f5a1e" d="M3822,464l16,50 -23,-51 -17,-23z"/><path class="m" d="M3822,464l16,50 15,88 12,116 12,130 -20,-97 -21,-92 -13,-109 -15,-80 -16,-41 -19,5 25,6z"/>
<path color="#90892c" d="M3778,463l20,-23 -25,-6 -20,50z"/><path color="#78721e" d="M3757,530l21,-67 -25,21 -22,89z"/><path color="#716b17" d="M3735,633l22,-103 -26,43 -22,118z"/><path color="#6e6812" d="M3712,761l23,-128 -26,58 -22,135z"/><path color="#fff359" d="M3803,459l19,5 -24,-24 -20,23z"/><path color="#827b21" d="M3783,500l20,-41 -25,4 -21,67z"/><path color="#746e18" d="M3761,584l22,-84 -26,30 -22,103z"/><path color="#706912" d="M3738,699l23,-115 -26,49 -23,128z"/><path class="m" d="M3738,699l23,-115 22,-84 20,-41 19,5 -24,-24 -25,-6 -20,50 -22,89 -22,118 -22,135 25,-65z"/>
<path color="#636817" d="M3690,900l22,-139 -25,65 -22,136z"/><path color="#57691d" d="M3668,1035l22,-135 -25,62 -21,125z"/><path color="#4a6b25" d="M3647,1155l21,-120 -24,52 -20,104z"/><path color="#436f29" d="M3627,1249l20,-94 -23,36 -20,72z"/><path color="#636817" d="M3715,834l23,-135 -26,62 -22,139z"/><path color="#56681d" d="M3693,975l22,-141 -25,66 -22,135z"/><path color="#496a24" d="M3671,1107l22,-132 -25,60 -21,120z"/><path color="#416c28" d="M3650,1220l21,-113 -24,48 -20,94z"/><path class="m" d="M3650,1220l21,-113 22,-132 22,-141 23,-135 -26,62 -25,65 -22,136 -21,125 -20,104 -20,72 23,-14z"/>
<path color="#467c2d" d="M3607,1310l20,-61 -23,14 -18,37z"/><path color="#a9ff7e" d="M3589,1334l18,-24 -21,-10 -18,0z"/><path color="#7eff57" d="M3572,1320l17,14 -21,-34 -17,-37z"/><path color="#245518" d="M3555,1270l17,50 -21,-57 -17,-68z"/><path color="#3f7128" d="M3630,1304l20,-84 -23,29 -20,61z"/><path color="#488730" d="M3611,1352l19,-48 -23,6 -18,24z"/><path color="#b3ff86" d="M3593,1362l18,-10 -22,-18 -17,-14z"/><path color="#65e546" d="M3575,1334l18,28 -21,-42 -17,-50z"/><path class="m" d="M3575,1334l18,28 18,-10 19,-48 20,-84 -23,29 -23,14 -18,37 -18,0 -17,-37 -17,-68 21,75z"/>
<path color="#205516" d="M3538,1191l17,79 -21,-75 -17,-92z"/><path color="#1b5414" d="M3521,1090l17,101 -21,-88 -17,-103z"/><path color="#175312" d="M3503,980l18,110 -21,-90 -18,-101z"/><path color="#1c5327" d="M3485,875l18,105 -21,-81 -18,-85z"/><path color="#205516" d="M3558,1271l17,63 -20,-64 -17,-79z"/><path color="#1b5414" d="M3541,1180l17,91 -20,-80 -17,-101z"/><path color="#175312" d="M3524,1071l17,109 -20,-90 -18,-110z"/><path color="#1c5327" d="M3506,955l18,116 -21,-91 -18,-105z"/><path class="m" d="M3506,955l18,116 17,109 17,91 17,63 -20,-64 -21,-75 -17,-92 -17,-103 -18,-101 -18,-85 21,61z"/>
<path color="#265247" d="M3466,789l19,86 -21,-61 -19,-57z"/><path color="#2b515d" d="M3447,734l19,55 -21,-32 -20,-21z"/><path color="#336475" d="M3427,717l20,17 -22,2 -19,15z"/><path color="#468fac" d="M3407,737l20,-20 -21,34 -20,44z"/><path color="#265247" d="M3488,848l18,107 -21,-80 -19,-86z"/><path color="#2b515d" d="M3469,764l19,84 -22,-59 -19,-55z"/><path color="#284f5c" d="M3449,713l20,51 -22,-30 -20,-17z"/><path color="#32677c" d="M3429,701l20,12 -22,4 -20,20z"/><path class="m" d="M3429,701l20,12 20,51 19,84 18,107 -21,-80 -21,-61 -19,-57 -20,-21 -19,15 -20,44 21,-58z"/>
<path color="#4393b6" d="M3388,786l19,-49 -21,58 -19,60z"/><path color="#22536b" d="M3368,853l20,-67 -21,69 -19,62z"/><path color="#1f536d" d="M3349,921l19,-68 -20,64 -20,48z"/><path color="#1e5778" d="M3329,976l20,-55 -21,44 -19,23z"/><path color="#3f8bac" d="M3409,728l20,-27 -22,36 -19,49z"/><path color="#23546c" d="M3389,786l20,-58 -21,58 -20,67z"/><path color="#1e516b" d="M3369,860l20,-74 -21,67 -19,68z"/><path color="#1b506d" d="M3350,936l19,-76 -20,61 -20,55z"/><path class="m" d="M3350,936l19,-76 20,-74 20,-58 20,-27 -22,36 -21,58 -19,60 -19,62 -20,48 -19,23 20,-12z"/>
<path color="#3493cb" d="M3310,1005l19,-29 -20,12 -20,-8z"/><path color="#5ed1ff" d="M3290,1004l20,1 -21,-25 -20,-36z"/><path color="#73b4ff" d="M3269,974l21,30 -21,-60 -21,-57z"/><path color="#91a9fc" d="M3248,923l21,51 -21,-87 -22,-66z"/><path color="#195578" d="M3330,997l20,-61 -21,40 -19,29z"/><path color="#408dc6" d="M3311,1033l19,-36 -20,8 -20,-1z"/><path color="#a1edff" d="M3291,1038l20,-5 -21,-29 -21,-30z"/><path color="#a2bcff" d="M3270,1014l21,24 -22,-64 -21,-51z"/><path class="m" d="M3270,1014l21,24 20,-5 19,-36 20,-61 -21,40 -20,12 -20,-8 -20,-36 -21,-57 -22,-66 22,102z"/>
<path color="#b7a7ff" d="M3227,863l21,60 -22,-102 -21,-58z"/><path color="#beadff" d="M3205,812l22,51 -22,-100 -22,-34z"/><path color="#f0dcff" d="M3184,783l21,29 -22,-83 -21,-1z"/><path color="#baabff" d="M3163,789l21,-6 -22,-55 -19,40z"/><path color="#bdacff" d="M3249,968l21,46 -22,-91 -21,-60z"/><path color="#b5a4ff" d="M3227,914l22,54 -22,-105 -22,-51z"/><path color="#bdabff" d="M3206,868l21,46 -22,-102 -21,-29z"/><path color="#f7e3ff" d="M3184,844l22,24 -22,-85 -21,6z"/><path class="m" d="M3184,844l22,24 21,46 22,54 21,46 -22,-91 -22,-102 -21,-58 -22,-34 -21,-1 -19,40 20,21z"/>
<path color="#443b79" d="M3143,834l20,-45 -20,-21 -19,77z"/><path color="#352e69" d="M3124,915l19,-81 -19,11 -17,107z"/><path color="#2d2663" d="M3107,1023l17,-108 -17,37 -17,123z"/><path color="#282160" d="M3090,1144l17,-121 -17,52 -16,124z"/><path color="#9689ed" d="M3163,854l21,-10 -21,-55 -20,45z"/><path color="#3c3475" d="M3143,903l20,-49 -20,-20 -19,81z"/><path color="#302867" d="M3125,985l18,-82 -19,12 -17,108z"/><path color="#282161" d="M3107,1092l18,-107 -18,38 -17,121z"/><path class="m" d="M3107,1092l18,-107 18,-82 20,-49 21,-10 -21,-55 -20,-21 -19,77 -17,107 -17,123 -16,124 16,-55z"/>
<path color="#39265a" d="M3074,1263l16,-119 -16,55 -16,113z"/><path color="#4d2d53" d="M3057,1367l17,-104 -16,49 -17,89z"/><path color="#67364f" d="M3040,1444l17,-77 -16,34 -17,56z"/><path color="#874255" d="M3022,1487l18,-43 -16,13 -20,19z"/><path color="#39265a" d="M3090,1209l17,-117 -17,52 -16,119z"/><path color="#4c2c52" d="M3073,1321l17,-112 -16,54 -17,104z"/><path color="#63334b" d="M3057,1415l16,-94 -16,46 -17,77z"/><path color="#753849" d="M3039,1481l18,-66 -17,29 -18,43z"/><path class="m" d="M3039,1481l18,-66 16,-94 17,-112 17,-117 -17,52 -16,55 -16,113 -17,89 -17,56 -20,19 18,11z"/>
<path color="#ff7ea2" d="M3002,1492l20,-5 -18,-11 -21,-21z"/><path color="#d95775" d="M2979,1456l23,36 -19,-37 -23,-60z"/><path color="#c74762" d="M2955,1383l24,73 -19,-61 -26,-93z"/><path color="#bf3b55" d="M2928,1279l27,104 -21,-81 -27,-120z"/><path color="#ad5067" d="M3019,1510l20,-29 -17,6 -20,5z"/><path color="#ef6383" d="M2998,1501l21,9 -17,-18 -23,-36z"/><path color="#ce4a66" d="M2975,1452l23,49 -19,-45 -24,-73z"/><path color="#c23c56" d="M2950,1367l25,85 -20,-69 -27,-104z"/><path class="m" d="M2950,1367l25,85 23,49 21,9 20,-29 -17,6 -18,-11 -21,-21 -23,-60 -26,-93 -27,-120 21,97z"/>
<path color="#541521" d="M2900,1152l28,127 -21,-97 -30,-135z"/><path color="#b82840" d="M2870,1014l30,138 -23,-105 -30,-137z"/><path color="#b81f37" d="M2840,879l30,135 -23,-104 -30,-125z"/><path color="#bb1831" d="M2810,764l30,115 -23,-94 -29,-97z"/><path color="#bb314b" d="M2922,1253l28,114 -22,-88 -28,-127z"/><path color="#53111c" d="M2893,1120l29,133 -22,-101 -30,-138z"/><path color="#b71f37" d="M2863,982l30,138 -23,-106 -30,-135z"/><path color="#b8172f" d="M2832,853l31,129 -23,-103 -30,-115z"/><path class="m" d="M2832,853l31,129 30,138 29,133 28,114 -22,-88 -21,-97 -30,-135 -30,-137 -30,-125 -29,-97 22,76z"/>
<path color="#735026" d="M4102,701l26,-125 -31,56 -26,133z"/><path color="#714d23" d="M4075,839l27,-138 -31,64 -27,138z"/><path color="#704a20" d="M4049,976l26,-137 -31,64 -25,130z"/><path color="#71481d" d="M4023,1100l26,-124 -30,57 -24,111z"/><path color="#745127" d="M4133,640l26,-111 -31,47 -26,125z"/><path color="#714d23" d="M4106,773l27,-133 -31,61 -27,138z"/><path color="#704a20" d="M4079,913l27,-140 -31,66 -26,137z"/><path color="#70481d" d="M4053,1048l26,-135 -30,63 -26,124z"/><path class="m" d="M4053,1048l26,-135 27,-140 27,-133 26,-111 -31,47 -31,56 -26,133 -27,138 -25,130 -24,111 28,-44z"/>
<path color="#74481b" d="M4000,1201l23,-101 -28,44 -21,82z"/><path color="#7c4b1a" d="M3979,1271l21,-70 -26,25 -19,48z"/><path color="#b56f2b" d="M3961,1304l18,-33 -24,3 -17,10z"/><path color="#ff9d2e" d="M3945,1299l16,5 -23,-20 -15,-28z"/><path color="#71461a" d="M4028,1164l25,-116 -30,52 -23,101z"/><path color="#764718" d="M4005,1254l23,-90 -28,37 -21,70z"/><path color="#844e19" d="M3985,1310l20,-56 -26,17 -18,33z"/><path color="#ffb349" d="M3968,1328l17,-18 -24,-6 -16,-5z"/><path class="m" d="M3968,1328l17,-18 20,-56 23,-90 25,-116 -30,52 -28,44 -21,82 -19,48 -17,10 -15,-28 22,43z"/>
<path color="#5c3109" d="M3931,1255l14,44 -22,-43 -13,-64z"/><path color="#5d360d" d="M3918,1178l13,77 -21,-63 -12,-95z"/><path color="#5e4217" d="M3907,1072l11,106 -20,-81 -11,-118z"/><path color="#5f4e20" d="M3897,947l10,125 -20,-93 -10,-131z"/><path color="#5c3109" d="M3952,1307l16,21 -23,-29 -14,-44z"/><path color="#5d360d" d="M3939,1250l13,57 -21,-52 -13,-77z"/><path color="#5e4217" d="M3927,1159l12,91 -21,-72 -11,-106z"/><path color="#5f4e20" d="M3916,1044l11,115 -20,-87 -10,-125z"/><path class="m" d="M3916,1044l11,115 12,91 13,57 16,21 -23,-29 -22,-43 -13,-64 -12,-95 -11,-118 -10,-131 20,99z"/>
<path color="#605c2a" d="M3886,814l11,133 -20,-99 -12,-130z"/><path color="#605b26" d="M3874,687l12,127 -21,-96 -12,-116z"/><path color="#5f5b22" d="M3861,579l13,108 -21,-85 -15,-88z"/><path color="#5f5a1e" d="M3846,504l15,75 -23,-65 -16,-50z"/><path color="#605c2a" d="M3906,913l10,131 -19,-97 -11,-133z"/><path color="#605b26" d="M3895,780l11,133 -20,-99 -12,-127z"/><path color="#5f5b22" d="M3883,658l12,122 -21,-93 -13,-108z"/><path color="#5f5a1e" d="M3869,561l14,97 -22,-79 -15,-75z"/><path class="m" d="M3869,561l14,97 12,122 11,133 10,131 -19,-97 -20,-99 -12,-130 -12,-116 -15,-88 -16,-50 24,40z"/>
<path color="#ffff55" d="M3828,471l18,33 -24,-40 -19,-5z"/><path color="#a59c2f" d="M3809,485l19,-14 -25,-12 -20,41z"/><path color="#7b731a" d="M3788,545l21,-60 -26,15 -22,84z"/><path color="#726b13" d="M3765,643l23,-98 -27,39 -23,115z"/><path color="#5f591a" d="M3853,502l16,59 -23,-57 -18,-33z"/><path color="#ffff5c" d="M3835,487l18,15 -25,-31 -19,14z"/><path color="#88801e" d="M3814,520l21,-33 -26,-2 -21,60z"/><path color="#766f14" d="M3792,597l22,-77 -26,25 -23,98z"/><path class="m" d="M3792,597l22,-77 21,-33 18,15 16,59 -23,-57 -24,-40 -19,-5 -20,41 -22,84 -23,115 27,-56z"/>
<path color="#646917" d="M3742,770l23,-127 -27,56 -23,135z"/><path color="#56681d" d="M3719,910l23,-140 -27,64 -22,141z"/><path color="#496924" d="M3696,1051l23,-141 -26,65 -22,132z"/><path color="#3f6a27" d="M3674,1178l22,-127 -25,56 -21,113z"/><path color="#656a18" d="M3769,709l23,-112 -27,46 -23,127z"/><path color="#57691d" d="M3745,844l24,-135 -27,61 -23,140z"/><path color="#486924" d="M3722,987l23,-143 -26,66 -23,141z"/><path color="#3f6926" d="M3699,1126l23,-139 -26,64 -22,127z"/><path class="m" d="M3699,1126l23,-139 23,-143 24,-135 23,-112 -27,46 -27,56 -23,135 -22,141 -22,132 -21,113 24,-42z"/>
<path color="#3c6c26" d="M3653,1282l21,-104 -24,42 -20,84z"/><path color="#3d7527" d="M3633,1353l20,-71 -23,22 -19,48z"/><path color="#5db243" d="M3614,1388l19,-35 -22,-1 -18,10z"/><path color="#7dff5b" d="M3596,1384l18,4 -21,-26 -18,-28z"/><path color="#3b6a25" d="M3677,1246l22,-120 -25,52 -21,104z"/><path color="#386d24" d="M3656,1339l21,-93 -24,36 -20,71z"/><path color="#3b7b28" d="M3636,1398l20,-59 -23,14 -19,35z"/><path color="#97ff76" d="M3618,1418l18,-20 -22,-10 -18,-4z"/><path class="m" d="M3618,1418l18,-20 20,-59 21,-93 22,-120 -25,52 -24,42 -20,84 -19,48 -18,10 -18,-28 21,50z"/>
<path color="#205516" d="M3579,1342l17,42 -21,-50 -17,-63z"/><path color="#1b5414" d="M3562,1266l17,76 -21,-71 -17,-91z"/><path color="#175312" d="M3545,1164l17,102 -21,-86 -17,-109z"/><path color="#1c5327" d="M3528,1047l17,117 -21,-93 -18,-116z"/><path color="#5deb44" d="M3600,1399l18,19 -22,-34 -17,-42z"/><path color="#1b5414" d="M3583,1343l17,56 -21,-57 -17,-76z"/><path color="#175312" d="M3566,1255l17,88 -21,-77 -17,-102z"/><path color="#1c5327" d="M3549,1143l17,112 -21,-91 -17,-117z"/><path class="m" d="M3549,1143l17,112 17,88 17,56 18,19 -22,-34 -21,-50 -17,-63 -17,-91 -17,-109 -18,-116 22,92z"/>
<path color="#265247" d="M3510,928l18,119 -22,-92 -18,-107z"/><path color="#2b515d" d="M3491,821l19,107 -22,-80 -19,-84z"/><path color="#284f5c" d="M3472,739l19,82 -22,-57 -20,-51z"/><path color="#244c5c" d="M3452,695l20,44 -23,-26 -20,-12z"/><path color="#265247" d="M3531,1020l18,123 -21,-96 -18,-119z"/><path color="#2b515d" d="M3513,898l18,122 -21,-92 -19,-107z"/><path color="#284f5c" d="M3494,793l19,105 -22,-77 -19,-82z"/><path color="#244c5c" d="M3475,718l19,75 -22,-54 -20,-44z"/><path class="m" d="M3475,718l19,75 19,105 18,122 18,123 -21,-96 -22,-92 -18,-107 -19,-84 -20,-51 -20,-12 23,-6z"/>
<path color="#306a83" d="M3432,692l20,3 -23,6 -20,27z"/><path color="#245972" d="M3411,728l21,-36 -23,36 -20,58z"/><path color="#1e526c" d="M3391,794l20,-66 -22,58 -20,74z"/><path color="#1a4e6b" d="M3371,877l20,-83 -22,66 -19,76z"/><path color="#214a5c" d="M3454,682l21,36 -23,-23 -20,-3z"/><path color="#2d6c8b" d="M3434,689l20,-7 -22,10 -21,36z"/><path color="#205571" d="M3413,736l21,-47 -23,39 -20,66z"/><path color="#1a4f6c" d="M3393,813l20,-77 -22,58 -20,83z"/><path class="m" d="M3393,813l20,-77 21,-47 20,-7 21,36 -23,-23 -23,6 -20,27 -20,58 -20,74 -19,76 21,-59z"/>
<path color="#174d6d" d="M3351,960l20,-83 -21,59 -20,61z"/><path color="#205378" d="M3331,1029l20,-69 -21,37 -19,36z"/><path color="#5784bb" d="M3311,1071l20,-42 -20,4 -20,5z"/><path color="#ebffff" d="M3291,1082l20,-11 -20,-33 -21,-24z"/><path color="#164b6b" d="M3372,905l21,-92 -22,64 -20,83z"/><path color="#1d4b6e" d="M3352,996l20,-91 -21,55 -20,69z"/><path color="#325178" d="M3332,1071l20,-75 -21,33 -20,42z"/><path color="#6979b0" d="M3313,1119l19,-48 -21,0 -20,11z"/><path class="m" d="M3313,1119l19,-48 20,-75 20,-91 21,-92 -22,64 -21,59 -20,61 -19,36 -20,5 -21,-24 21,68z"/>
<path color="#d5c3ff" d="M3271,1063l20,19 -21,-68 -21,-46z"/><path color="#baa9ff" d="M3250,1022l21,41 -22,-95 -22,-54z"/><path color="#b19fff" d="M3228,972l22,50 -23,-108 -21,-46z"/><path color="#baa7ff" d="M3206,929l22,43 -22,-104 -22,-24z"/><path color="#ffffff" d="M3292,1135l21,-16 -22,-37 -20,-19z"/><path color="#d5c3ff" d="M3272,1120l20,15 -21,-72 -21,-41z"/><path color="#b5a4ff" d="M3250,1083l22,37 -22,-98 -22,-50z"/><path color="#aa99ff" d="M3229,1035l21,48 -22,-111 -22,-43z"/><path class="m" d="M3229,1035l21,48 22,37 20,15 21,-16 -22,-37 -21,-68 -21,-46 -22,-54 -21,-46 -22,-24 22,85z"/>
<path color="#f6e1ff" d="M3185,909l21,20 -22,-85 -21,10z"/><path color="#8073d8" d="M3164,921l21,-12 -22,-55 -20,49z"/><path color="#362e73" d="M3144,971l20,-50 -21,-18 -18,82z"/><path color="#2a2365" d="M3125,1053l19,-82 -19,14 -18,107z"/><path color="#b2a0ff" d="M3207,995l22,40 -23,-106 -21,-20z"/><path color="#edd9ff" d="M3185,975l22,20 -22,-86 -21,12z"/><path color="#7266ce" d="M3164,988l21,-13 -21,-54 -20,50z"/><path color="#302871" d="M3144,1037l20,-49 -20,-17 -19,82z"/><path class="m" d="M3144,1037l20,-49 21,-13 22,20 22,40 -23,-106 -22,-85 -21,10 -20,49 -18,82 -18,107 18,-39z"/>
<path color="#3a275b" d="M3107,1157l18,-104 -18,39 -17,117z"/><path color="#4c2c52" d="M3090,1268l17,-111 -17,52 -17,112z"/><path color="#61324a" d="M3073,1373l17,-105 -17,53 -16,94z"/><path color="#6e3444" d="M3055,1457l18,-84 -16,42 -18,66z"/><path color="#3d295f" d="M3125,1116l19,-79 -19,16 -18,104z"/><path color="#4d2d53" d="M3107,1216l18,-100 -18,41 -17,111z"/><path color="#603249" d="M3089,1322l18,-106 -17,52 -17,105z"/><path color="#6b3343" d="M3072,1418l17,-96 -16,51 -18,84z"/><path class="m" d="M3072,1418l17,-96 18,-106 18,-100 19,-79 -19,16 -18,39 -17,117 -17,112 -16,94 -18,66 16,-24z"/>
<path color="#7a3546" d="M3037,1511l18,-54 -16,24 -20,29z"/><path color="#e46280" d="M3017,1527l20,-16 -18,-1 -21,-9z"/><path color="#db4f6d" d="M2995,1504l22,23 -19,-26 -23,-49z"/><path color="#c63e59" d="M2971,1442l24,62 -20,-52 -25,-85z"/><path color="#6f3040" d="M3054,1492l18,-74 -17,39 -18,54z"/><path color="#813345" d="M3035,1533l19,-41 -17,19 -20,16z"/><path color="#ed5878" d="M3014,1537l21,-4 -18,-6 -22,-23z"/><path color="#ce415d" d="M2991,1501l23,36 -19,-33 -24,-62z"/><path class="m" d="M2991,1501l23,36 21,-4 19,-41 18,-74 -17,39 -16,24 -20,29 -21,-9 -23,-49 -25,-85 21,75z"/>
<path color="#bd324b" d="M2944,1346l27,96 -21,-75 -28,-114z"/><path color="#53111c" d="M2916,1225l28,121 -22,-93 -29,-133z"/><path color="#b61e37" d="M2886,1089l30,136 -23,-105 -30,-138z"/><path color="#b6172f" d="M2856,952l30,137 -23,-107 -31,-129z"/><path color="#c0334d" d="M2966,1428l25,73 -20,-59 -27,-96z"/><path color="#ba2841" d="M2939,1323l27,105 -22,-82 -28,-121z"/><path color="#520c18" d="M2910,1195l29,128 -23,-98 -30,-136z"/><path color="#b5172e" d="M2879,1058l31,137 -24,-106 -30,-137z"/><path class="m" d="M2879,1058l31,137 29,128 27,105 25,73 -20,-59 -21,-75 -28,-114 -29,-133 -30,-138 -31,-129 24,99z"/>
<path color="#775328" d="M4165,587l25,-94 -31,36 -26,111z"/><path color="#734e24" d="M4139,709l26,-122 -32,53 -27,133z"/><path color="#704a20" d="M4111,847l28,-138 -33,64 -27,140z"/><path color="#70471c" d="M4083,988l28,-141 -32,66 -26,135z"/><path color="#7b562a" d="M4198,543l23,-72 -31,22 -25,94z"/><path color="#744f25" d="M4171,650l27,-107 -33,44 -26,122z"/><path color="#714b20" d="M4144,782l27,-132 -32,59 -28,138z"/><path color="#70471d" d="M4115,924l29,-142 -33,65 -28,141z"/><path class="m" d="M4115,924l29,-142 27,-132 27,-107 23,-72 -31,22 -31,36 -26,111 -27,133 -27,140 -26,135 30,-60z"/>
<path color="#704519" d="M4057,1118l26,-130 -30,60 -25,116z"/><path color="#724517" d="M4033,1225l24,-107 -29,46 -23,90z"/><path color="#794615" d="M4011,1303l22,-78 -28,29 -20,56z"/><path color="#95561b" d="M3992,1344l19,-41 -26,7 -17,18z"/><path color="#6f4519" d="M4088,1062l27,-138 -32,64 -26,130z"/><path color="#704316" d="M4062,1185l26,-123 -31,56 -24,107z"/><path color="#744314" d="M4038,1282l24,-97 -29,40 -22,78z"/><path color="#7f4814" d="M4017,1346l21,-64 -27,21 -19,41z"/><path class="m" d="M4017,1346l21,-64 24,-97 26,-123 27,-138 -32,64 -30,60 -25,116 -23,90 -20,56 -17,18 24,16z"/>
<path color="#ffa62f" d="M3975,1347l17,-3 -24,-16 -16,-21z"/><path color="#5d360d" d="M3960,1311l15,36 -23,-40 -13,-57z"/><path color="#5e4217" d="M3948,1239l12,72 -21,-61 -12,-91z"/><path color="#5f4e20" d="M3937,1136l11,103 -21,-80 -11,-115z"/><path color="#e08430" d="M3999,1372l18,-26 -25,-2 -17,3z"/><path color="#5d360d" d="M3983,1359l16,13 -24,-25 -15,-36z"/><path color="#5e4217" d="M3969,1308l14,51 -23,-48 -12,-72z"/><path color="#5f4e20" d="M3957,1223l12,85 -21,-69 -11,-103z"/><path class="m" d="M3957,1223l12,85 14,51 16,13 18,-26 -25,-2 -24,-16 -16,-21 -13,-57 -12,-91 -11,-115 21,92z"/>
<path color="#605c2a" d="M3926,1013l11,123 -21,-92 -10,-131z"/><path color="#605b26" d="M3916,878l10,135 -20,-100 -11,-133z"/><path color="#5f5b22" d="M3905,747l11,131 -21,-98 -12,-122z"/><path color="#5f5a1e" d="M3892,633l13,114 -22,-89 -14,-97z"/><path color="#605c2a" d="M3946,1110l11,113 -20,-87 -11,-123z"/><path color="#605b26" d="M3936,980l10,130 -20,-97 -10,-135z"/><path color="#5f5b22" d="M3926,844l10,136 -20,-102 -11,-131z"/><path color="#5f5a1e" d="M3914,717l12,127 -21,-97 -13,-114z"/><path class="m" d="M3914,717l12,127 10,136 10,130 11,113 -20,-87 -21,-92 -10,-131 -11,-133 -12,-122 -14,-97 23,72z"/>
<path color="#5f591a" d="M3877,549l15,84 -23,-72 -16,-59z"/><path color="#5e5916" d="M3860,507l17,42 -24,-47 -18,-15z"/><path color="#cbc036" d="M3841,511l19,-4 -25,-20 -21,33z"/><path color="#7d7616" d="M3819,563l22,-52 -27,9 -22,77z"/><path color="#5f591a" d="M3901,613l13,104 -22,-84 -15,-84z"/><path color="#5e5916" d="M3885,544l16,69 -24,-64 -17,-42z"/><path color="#ffff49" d="M3867,519l18,25 -25,-37 -19,4z"/><path color="#90881c" d="M3847,543l20,-24 -26,-8 -22,52z"/><path class="m" d="M3847,543l20,-24 18,25 16,69 13,104 -22,-84 -23,-72 -16,-59 -18,-15 -21,33 -22,77 27,-34z"/>
<path color="#686d19" d="M3796,656l23,-93 -27,34 -23,112z"/><path color="#586a1e" d="M3773,780l23,-124 -27,53 -24,135z"/><path color="#496924" d="M3748,921l25,-141 -28,64 -23,143z"/><path color="#3e6826" d="M3725,1065l23,-144 -26,66 -23,139z"/><path color="#6c711a" d="M3824,613l23,-70 -28,20 -23,93z"/><path color="#596c1e" d="M3801,721l23,-108 -28,43 -23,124z"/><path color="#496a24" d="M3776,854l25,-133 -28,59 -25,141z"/><path color="#3e6826" d="M3752,1000l24,-146 -28,67 -23,144z"/><path class="m" d="M3752,1000l24,-146 25,-133 23,-108 23,-70 -28,20 -27,34 -23,112 -24,135 -23,143 -23,139 26,-61z"/>
<path color="#3a6824" d="M3702,1199l23,-134 -26,61 -22,120z"/><path color="#366a23" d="M3680,1311l22,-112 -25,47 -21,93z"/><path color="#357023" d="M3659,1393l21,-82 -24,28 -20,59z"/><path color="#3e892c" d="M3640,1437l19,-44 -23,5 -18,20z"/><path color="#3a6824" d="M3728,1143l24,-143 -27,65 -23,134z"/><path color="#356822" d="M3705,1271l23,-128 -26,56 -22,112z"/><path color="#326b21" d="M3683,1373l22,-102 -25,40 -21,82z"/><path color="#327423" d="M3663,1441l20,-68 -24,20 -19,44z"/><path class="m" d="M3663,1441l20,-68 22,-102 23,-128 24,-143 -27,65 -26,61 -22,120 -21,93 -20,59 -18,20 22,19z"/>
<path color="#81ff64" d="M3621,1442l19,-5 -22,-19 -18,-19z"/><path color="#1b5414" d="M3604,1408l17,34 -21,-43 -17,-56z"/><path color="#175312" d="M3587,1338l17,70 -21,-65 -17,-88z"/><path color="#1c5327" d="M3570,1238l17,100 -21,-83 -17,-112z"/><path color="#5bc747" d="M3644,1471l19,-30 -23,-4 -19,5z"/><path color="#58f544" d="M3626,1460l18,11 -23,-29 -17,-34z"/><path color="#175312" d="M3608,1411l18,49 -22,-52 -17,-70z"/><path color="#1c5327" d="M3591,1327l17,84 -21,-73 -17,-100z"/><path class="m" d="M3591,1327l17,84 18,49 18,11 19,-30 -23,-4 -22,-19 -18,-19 -17,-56 -17,-88 -17,-112 21,95z"/>
<path color="#265247" d="M3553,1118l17,120 -21,-95 -18,-123z"/><path color="#2b515d" d="M3535,990l18,128 -22,-98 -18,-122z"/><path color="#284f5c" d="M3517,868l18,122 -22,-92 -19,-105z"/><path color="#244c5c" d="M3498,767l19,101 -23,-75 -19,-75z"/><path color="#265247" d="M3574,1217l17,110 -21,-89 -17,-120z"/><path color="#2b515d" d="M3557,1089l17,128 -21,-99 -18,-128z"/><path color="#284f5c" d="M3539,959l18,130 -22,-99 -18,-122z"/><path color="#244c5c" d="M3520,839l19,120 -22,-91 -19,-101z"/><path class="m" d="M3520,839l19,120 18,130 17,128 17,110 -21,-89 -21,-95 -18,-123 -18,-122 -19,-105 -19,-75 23,49z"/>
<path color="#214a5c" d="M3478,700l20,67 -23,-49 -21,-36z"/><path color="#1d475b" d="M3457,676l21,24 -24,-18 -20,7z"/><path color="#245f7d" d="M3436,695l21,-19 -23,13 -21,47z"/><path color="#1b516f" d="M3415,754l21,-59 -23,41 -20,77z"/><path color="#214a5c" d="M3501,745l19,94 -22,-72 -20,-67z"/><path color="#1d475b" d="M3481,688l20,57 -23,-45 -21,-24z"/><path color="#3993c2" d="M3460,677l21,11 -24,-12 -21,19z"/><path color="#1e5878" d="M3438,710l22,-33 -24,18 -21,59z"/><path class="m" d="M3438,710l22,-33 21,11 20,57 19,94 -22,-72 -23,-49 -21,-36 -20,7 -21,47 -20,77 22,-59z"/>
<path color="#164c6b" d="M3394,842l21,-88 -22,59 -21,92z"/><path color="#1c496b" d="M3374,943l20,-101 -22,63 -20,91z"/><path color="#2d4a6e" d="M3354,1041l20,-98 -22,53 -20,75z"/><path color="#434f77" d="M3334,1122l20,-81 -22,30 -19,48z"/><path color="#174d6e" d="M3417,783l21,-73 -23,44 -21,88z"/><path color="#1c496b" d="M3396,882l21,-99 -23,59 -20,101z"/><path color="#2c486b" d="M3375,991l21,-109 -22,61 -20,98z"/><path color="#3d486e" d="M3355,1096l20,-105 -21,50 -20,81z"/><path class="m" d="M3355,1096l20,-105 21,-109 21,-99 21,-73 -23,44 -22,59 -21,92 -20,91 -20,75 -19,48 21,3z"/>
<path color="#7a70a8" d="M3314,1175l20,-53 -21,-3 -21,16z"/><path color="#ffffff" d="M3293,1195l21,-20 -22,-40 -20,-15z"/><path color="#d2c0ff" d="M3273,1183l20,12 -21,-75 -22,-37z"/><path color="#ad9cff" d="M3251,1148l22,35 -23,-100 -21,-48z"/><path color="#544c77" d="M3335,1181l20,-85 -21,26 -20,53z"/><path color="#7066a1" d="M3315,1237l20,-56 -21,-6 -21,20z"/><path color="#ffffff" d="M3295,1259l20,-22 -22,-42 -20,-12z"/><path color="#cbb8ff" d="M3274,1249l21,10 -22,-76 -22,-35z"/><path class="m" d="M3274,1249l21,10 20,-22 20,-56 20,-85 -21,26 -21,-3 -21,16 -20,-15 -22,-37 -21,-48 22,113z"/>
<path color="#a18fff" d="M3229,1102l22,46 -22,-113 -22,-40z"/><path color="#a795ff" d="M3207,1061l22,41 -22,-107 -22,-20z"/><path color="#dec9ff" d="M3186,1041l21,20 -22,-86 -21,13z"/><path color="#6a5dcd" d="M3164,1052l22,-11 -22,-53 -20,49z"/><path color="#a391ff" d="M3252,1215l22,34 -23,-101 -22,-46z"/><path color="#9483ff" d="M3230,1168l22,47 -23,-113 -22,-41z"/><path color="#9785ff" d="M3208,1126l22,42 -23,-107 -21,-20z"/><path color="#c8b3ff" d="M3186,1104l22,22 -22,-85 -22,11z"/><path class="m" d="M3186,1104l22,22 22,42 22,47 22,34 -23,-101 -22,-113 -22,-40 -22,-20 -21,13 -20,49 20,15z"/>
<path color="#442e69" d="M3144,1098l20,-46 -20,-15 -19,79z"/><path color="#502f57" d="M3125,1174l19,-76 -19,18 -18,100z"/><path color="#61334a" d="M3106,1269l19,-95 -18,42 -18,106z"/><path color="#6a3242" d="M3088,1367l18,-98 -17,53 -17,96z"/><path color="#8f6dcb" d="M3164,1112l22,-8 -22,-52 -20,46z"/><path color="#5a3561" d="M3144,1154l20,-42 -20,-14 -19,76z"/><path color="#65354d" d="M3124,1225l20,-71 -19,20 -19,95z"/><path color="#6b3342" d="M3106,1313l18,-88 -18,44 -18,98z"/><path class="m" d="M3106,1313l18,-88 20,-71 20,-42 22,-8 -22,-52 -20,-15 -19,79 -18,100 -18,106 -17,96 16,-51z"/>
<path color="#6b2e3d" d="M3070,1455l18,-88 -16,51 -18,74z"/><path color="#702c3c" d="M3052,1519l18,-64 -16,37 -19,41z"/><path color="#95354a" d="M3032,1549l20,-30 -17,14 -21,4z"/><path color="#dc4663" d="M3010,1541l22,8 -18,-12 -23,-36z"/><path color="#692d3d" d="M3087,1405l19,-92 -18,54 -18,88z"/><path color="#6a2938" d="M3069,1484l18,-79 -17,50 -18,64z"/><path color="#722737" d="M3049,1538l20,-54 -17,35 -20,30z"/><path color="#af374f" d="M3029,1558l20,-20 -17,11 -22,-8z"/><path class="m" d="M3029,1558l20,-20 20,-54 18,-79 19,-92 -18,54 -16,51 -18,74 -19,41 -21,4 -23,-36 19,40z"/>
<path color="#c6344f" d="M2987,1494l23,47 -19,-40 -25,-73z"/><path color="#bc2942" d="M2961,1410l26,84 -21,-66 -27,-105z"/><path color="#520c18" d="M2933,1297l28,113 -22,-87 -29,-128z"/><path color="#b4172e" d="M2903,1165l30,132 -23,-102 -31,-137z"/><path color="#ce3752" d="M3006,1539l23,19 -19,-17 -23,-47z"/><path color="#bf2943" d="M2982,1482l24,57 -19,-45 -26,-84z"/><path color="#520c18" d="M2955,1389l27,93 -21,-72 -28,-113z"/><path color="#b5172e" d="M2926,1270l29,119 -22,-92 -30,-132z"/><path class="m" d="M2926,1270l29,119 27,93 24,57 23,19 -19,-17 -19,-40 -25,-73 -27,-105 -29,-128 -31,-137 24,107z"/>
<path color="#855d2e" d="M4229,511l22,-46 -30,6 -23,72z"/><path color="#785226" d="M4204,599l25,-88 -31,32 -27,107z"/><path color="#724c21" d="M4177,718l27,-119 -33,51 -27,132z"/><path color="#70481d" d="M4148,857l29,-139 -33,64 -29,142z"/><path color="#9e713b" d="M4261,494l19,-18 -29,-11 -22,46z"/><path color="#7d5628" d="M4237,559l24,-65 -32,17 -25,88z"/><path color="#754d22" d="M4211,661l26,-102 -33,40 -27,119z"/><path color="#71481d" d="M4182,791l29,-130 -34,57 -29,139z"/><path class="m" d="M4182,791l29,-130 26,-102 24,-65 19,-18 -29,-11 -30,6 -23,72 -27,107 -27,132 -29,142 33,-67z"/>
<path color="#6f4519" d="M4120,1000l28,-143 -33,67 -27,138z"/><path color="#6f4316" d="M4093,1135l27,-135 -32,62 -26,123z"/><path color="#714113" d="M4067,1249l26,-114 -31,50 -24,97z"/><path color="#764211" d="M4044,1334l23,-85 -29,33 -21,64z"/><path color="#6f4519" d="M4153,934l29,-143 -34,66 -28,143z"/><path color="#6f4216" d="M4125,1077l28,-143 -33,66 -27,135z"/><path color="#6f4013" d="M4097,1205l28,-128 -32,58 -26,114z"/><path color="#724010" d="M4073,1310l24,-105 -30,44 -23,85z"/><path class="m" d="M4073,1310l24,-105 28,-128 28,-143 29,-143 -34,66 -33,67 -27,138 -26,123 -24,97 -21,64 27,-12z"/>
<path color="#8a4c13" d="M4024,1384l20,-50 -27,12 -18,26z"/><path color="#ffc449" d="M4006,1395l18,-11 -25,-12 -16,-13z"/><path color="#5e4217" d="M3991,1366l15,29 -23,-36 -14,-51z"/><path color="#5f4e20" d="M3978,1300l13,66 -22,-58 -12,-85z"/><path color="#7b420f" d="M4050,1382l23,-72 -29,24 -20,50z"/><path color="#b47028" d="M4031,1416l19,-34 -26,2 -18,11z"/><path color="#ffc64c" d="M4014,1411l17,5 -25,-21 -15,-29z"/><path color="#5f4e20" d="M4000,1367l14,44 -23,-45 -13,-66z"/><path class="m" d="M4000,1367l14,44 17,5 19,-34 23,-72 -29,24 -27,12 -18,26 -16,-13 -14,-51 -12,-85 21,77z"/>
<path color="#605c2a" d="M3967,1202l11,98 -21,-77 -11,-113z"/><path color="#605b26" d="M3957,1080l10,122 -21,-92 -10,-130z"/><path color="#5f5b22" d="M3947,946l10,134 -21,-100 -10,-136z"/><path color="#5f5a1e" d="M3936,811l11,135 -21,-102 -12,-127z"/><path color="#605c2a" d="M3988,1287l12,80 -22,-67 -11,-98z"/><path color="#605b26" d="M3977,1178l11,109 -21,-85 -10,-122z"/><path color="#5f5b22" d="M3967,1049l10,129 -20,-98 -10,-134z"/><path color="#5f5a1e" d="M3957,911l10,138 -20,-103 -11,-135z"/><path class="m" d="M3957,911l10,138 10,129 11,109 12,80 -22,-67 -21,-77 -11,-113 -10,-130 -10,-136 -12,-127 22,94z"/>
<path color="#5f591a" d="M3924,690l12,121 -22,-94 -13,-104z"/><path color="#5e5916" d="M3910,598l14,92 -23,-77 -16,-69z"/><path color="#5e5813" d="M3893,545l17,53 -25,-54 -18,-25z"/><path color="#fff640" d="M3874,540l19,5 -26,-26 -20,24z"/><path color="#5f591a" d="M3946,779l11,132 -21,-100 -12,-121z"/><path color="#5e5916" d="M3934,667l12,112 -22,-89 -14,-92z"/><path color="#5e5813" d="M3919,589l15,78 -24,-69 -17,-53z"/><path color="#ffff34" d="M3901,555l18,34 -26,-44 -19,-5z"/><path class="m" d="M3901,555l18,34 15,78 12,112 11,132 -21,-100 -22,-94 -13,-104 -16,-69 -18,-25 -20,24 27,-3z"/>
<path color="#757b1e" d="M3852,583l22,-43 -27,3 -23,70z"/><path color="#5c6f1f" d="M3829,670l23,-87 -28,30 -23,108z"/><path color="#4a6b25" d="M3805,791l24,-121 -28,51 -25,133z"/><path color="#3f6926" d="M3780,932l25,-141 -29,63 -24,146z"/><path color="#969e2b" d="M3880,569l21,-14 -27,-15 -22,43z"/><path color="#617522" d="M3858,631l22,-62 -28,14 -23,87z"/><path color="#4c6d26" d="M3834,734l24,-103 -29,39 -24,121z"/><path color="#3f6a27" d="M3808,866l26,-132 -29,57 -25,141z"/><path class="m" d="M3808,866l26,-132 24,-103 22,-62 21,-14 -27,-15 -27,3 -23,70 -23,108 -25,133 -24,146 28,-68z"/>
<path color="#396724" d="M3755,1080l25,-148 -28,68 -24,143z"/><path color="#356722" d="M3731,1220l24,-140 -27,63 -23,128z"/><path color="#316820" d="M3708,1339l23,-119 -26,51 -22,102z"/><path color="#2e6c20" d="M3687,1430l21,-91 -25,34 -20,68z"/><path color="#3a6724" d="M3783,1013l25,-147 -28,66 -25,148z"/><path color="#356622" d="M3758,1160l25,-147 -28,67 -24,140z"/><path color="#306620" d="M3734,1294l24,-134 -27,60 -23,119z"/><path color="#2d681e" d="M3712,1404l22,-110 -26,45 -21,91z"/><path class="m" d="M3712,1404l22,-110 24,-134 25,-147 25,-147 -28,66 -28,68 -24,143 -23,128 -22,102 -20,68 24,-11z"/>
<path color="#327c24" d="M3667,1484l20,-54 -24,11 -19,30z"/><path color="#81ff6b" d="M3648,1498l19,-14 -23,-13 -18,-11z"/><path color="#42da35" d="M3630,1472l18,26 -22,-38 -18,-49z"/><path color="#1c5327" d="M3613,1408l17,64 -22,-61 -17,-84z"/><path color="#2b6f1f" d="M3690,1482l22,-78 -25,26 -20,54z"/><path color="#3b982f" d="M3671,1521l19,-39 -23,2 -19,14z"/><path color="#57ff48" d="M3652,1519l19,2 -23,-23 -18,-26z"/><path color="#1c5327" d="M3634,1477l18,42 -22,-47 -17,-64z"/><path class="m" d="M3634,1477l18,42 19,2 19,-39 22,-78 -25,26 -24,11 -19,30 -18,-11 -18,-49 -17,-84 22,81z"/>
<path color="#265247" d="M3596,1312l17,96 -22,-81 -17,-110z"/><path color="#2b515d" d="M3579,1191l17,121 -22,-95 -17,-128z"/><path color="#284f5c" d="M3561,1058l18,133 -22,-102 -18,-130z"/><path color="#244c5c" d="M3543,927l18,131 -22,-99 -19,-120z"/><path color="#265247" d="M3617,1399l17,78 -21,-69 -17,-96z"/><path color="#2b515d" d="M3600,1291l17,108 -21,-87 -17,-121z"/><path color="#284f5c" d="M3583,1162l17,129 -21,-100 -18,-133z"/><path color="#244c5c" d="M3566,1026l17,136 -22,-104 -18,-131z"/><path class="m" d="M3566,1026l17,136 17,129 17,108 17,78 -21,-69 -22,-81 -17,-110 -17,-128 -18,-130 -19,-120 23,88z"/>
<path color="#214a5c" d="M3524,812l19,115 -23,-88 -19,-94z"/><path color="#1d475b" d="M3504,727l20,85 -23,-67 -20,-57z"/><path color="#19445b" d="M3484,683l20,44 -23,-39 -21,-11z"/><path color="#2a759f" d="M3462,687l22,-4 -24,-6 -22,33z"/><path color="#214a5c" d="M3547,896l19,130 -23,-99 -19,-115z"/><path color="#1d475b" d="M3528,788l19,108 -23,-84 -20,-85z"/><path color="#19445b" d="M3508,715l20,73 -24,-61 -20,-44z"/><path color="#42b8fa" d="M3487,686l21,29 -24,-32 -22,4z"/><path class="m" d="M3487,686l21,29 20,73 19,108 19,130 -23,-99 -23,-88 -19,-94 -20,-57 -21,-11 -22,33 24,-23z"/>
<path color="#185274" d="M3441,735l21,-48 -24,23 -21,73z"/><path color="#1d4b6d" d="M3419,821l22,-86 -24,48 -21,99z"/><path color="#2c486b" d="M3398,931l21,-110 -23,61 -21,109z"/><path color="#3b466b" d="M3377,1049l21,-118 -23,60 -20,105z"/><path color="#1d5e85" d="M3465,705l22,-19 -25,1 -21,48z"/><path color="#1e4e71" d="M3443,770l22,-65 -24,30 -22,86z"/><path color="#2c496c" d="M3421,869l22,-99 -24,51 -21,110z"/><path color="#3b466a" d="M3400,989l21,-120 -23,62 -21,118z"/><path class="m" d="M3400,989l21,-120 22,-99 22,-65 22,-19 -25,1 -24,23 -21,73 -21,99 -21,109 -20,105 22,-47z"/>
<path color="#4d466e" d="M3357,1159l20,-110 -22,47 -20,85z"/><path color="#4e4775" d="M3337,1247l20,-88 -22,22 -20,56z"/><path color="#695f9e" d="M3316,1305l21,-58 -22,-10 -20,22z"/><path color="#ffffff" d="M3296,1327l20,-22 -21,-46 -21,-10z"/><path color="#4b436a" d="M3379,1114l21,-125 -23,60 -20,110z"/><path color="#48416c" d="M3358,1228l21,-114 -22,45 -20,88z"/><path color="#494174" d="M3338,1317l20,-89 -21,19 -21,58z"/><path color="#645a9f" d="M3318,1375l20,-58 -22,-12 -20,22z"/><path class="m" d="M3318,1375l20,-58 20,-89 21,-114 21,-125 -23,60 -22,47 -20,85 -20,56 -20,22 -21,-10 22,78z"/>
<path color="#beabff" d="M3275,1317l21,10 -22,-78 -22,-34z"/><path color="#9584ff" d="M3253,1281l22,36 -23,-102 -22,-47z"/><path color="#8574ff" d="M3231,1233l22,48 -23,-113 -22,-42z"/><path color="#8573ff" d="M3209,1188l22,45 -23,-107 -22,-22z"/><path color="#fff9ff" d="M3297,1396l21,-21 -22,-48 -21,-10z"/><path color="#ad9aff" d="M3276,1383l21,13 -22,-79 -22,-36z"/><path color="#8574ff" d="M3254,1344l22,39 -23,-102 -22,-48z"/><path color="#7564fa" d="M3232,1293l22,51 -23,-111 -22,-45z"/><path class="m" d="M3232,1293l22,51 22,39 21,13 21,-21 -22,-48 -22,-78 -22,-34 -22,-47 -22,-42 -22,-22 23,84z"/>
<path color="#eab5ff" d="M3186,1161l23,27 -23,-84 -22,8z"/><path color="#c081cb" d="M3164,1165l22,-4 -22,-49 -20,42z"/><path color="#713c57" d="M3144,1201l20,-36 -20,-11 -20,71z"/><path color="#6f3545" d="M3124,1267l20,-66 -20,24 -18,88z"/><path color="#a879f7" d="M3209,1243l23,50 -23,-105 -23,-27z"/><path color="#ffb0ff" d="M3186,1212l23,31 -23,-82 -22,4z"/><path color="#fb99ca" d="M3164,1210l22,2 -22,-47 -20,36z"/><path color="#7d3c4e" d="M3143,1240l21,-30 -20,-9 -20,66z"/><path class="m" d="M3143,1240l21,-30 22,2 23,31 23,50 -23,-105 -23,-84 -22,8 -20,42 -20,71 -18,88 18,-46z"/>
<path color="#6a2e3d" d="M3104,1349l20,-82 -18,46 -19,92z"/><path color="#682837" d="M3086,1434l18,-85 -17,56 -18,79z"/><path color="#692433" d="M3067,1505l19,-71 -17,50 -20,54z"/><path color="#732333" d="M3047,1550l20,-45 -18,33 -20,20z"/><path color="#6d2f3f" d="M3123,1299l20,-59 -19,27 -20,82z"/><path color="#682837" d="M3103,1376l20,-77 -19,50 -18,85z"/><path color="#662332" d="M3084,1453l19,-77 -17,58 -19,71z"/><path color="#691f2e" d="M3064,1518l20,-65 -17,52 -20,45z"/><path class="m" d="M3064,1518l20,-65 19,-77 20,-77 20,-59 -19,27 -18,46 -19,92 -18,79 -20,54 -20,20 18,-8z"/>
<path color="#b8314a" d="M3025,1560l22,-10 -18,8 -23,-19z"/><path color="#c42a45" d="M3002,1532l23,28 -19,-21 -24,-57z"/><path color="#520c18" d="M2977,1466l25,66 -20,-50 -27,-93z"/><path color="#510914" d="M2949,1366l28,100 -22,-77 -29,-119z"/><path color="#741d2d" d="M3044,1555l20,-37 -17,32 -22,10z"/><path color="#53111c" d="M3022,1557l22,-2 -19,5 -23,-28z"/><path color="#520c18" d="M2998,1521l24,36 -20,-25 -25,-66z"/><path color="#510914" d="M2972,1448l26,73 -21,-55 -28,-100z"/><path class="m" d="M2972,1448l26,73 24,36 22,-2 20,-37 -17,32 -18,8 -23,-19 -24,-57 -27,-93 -29,-119 23,96z"/>
<path color="#ffd776" d="M4291,494l17,10 -28,-28 -19,18z"/><path color="#8a5f2e" d="M4270,532l21,-38 -30,0 -24,65z"/><path color="#785023" d="M4245,613l25,-81 -33,27 -26,102z"/><path color="#72491e" d="M4217,729l28,-116 -34,48 -29,130z"/><path color="#614320" d="M4321,511l14,39 -27,-46 -17,-10z"/><path color="#be8645" d="M4302,521l19,-10 -30,-17 -21,38z"/><path color="#805526" d="M4278,577l24,-56 -32,11 -25,81z"/><path color="#754b1f" d="M4252,674l26,-97 -33,36 -28,116z"/><path class="m" d="M4252,674l26,-97 24,-56 19,-10 14,39 -27,-46 -28,-28 -19,18 -24,65 -26,102 -29,130 35,-62z"/>
<path color="#704519" d="M4187,867l30,-138 -35,62 -29,143z"/><path color="#6e4216" d="M4158,1013l29,-146 -34,67 -28,143z"/><path color="#6e4013" d="M4129,1152l29,-139 -33,64 -28,128z"/><path color="#703e10" d="M4103,1273l26,-121 -32,53 -24,105z"/><path color="#71461a" d="M4223,802l29,-128 -35,55 -30,138z"/><path color="#6f4216" d="M4193,946l30,-144 -36,65 -29,146z"/><path color="#6e4013" d="M4163,1091l30,-145 -35,67 -29,139z"/><path color="#6e3d10" d="M4134,1226l29,-135 -34,61 -26,121z"/><path class="m" d="M4134,1226l29,-135 30,-145 30,-144 29,-128 -35,55 -35,62 -29,143 -28,143 -28,128 -24,105 30,-37z"/>
<path color="#743e0d" d="M4078,1366l25,-93 -30,37 -23,72z"/><path color="#844e16" d="M4057,1424l21,-58 -28,16 -19,34z"/><path color="#ffdc68" d="M4039,1443l18,-19 -26,-8 -17,-5z"/><path color="#5f4e20" d="M4023,1422l16,21 -25,-32 -14,-44z"/><path color="#703c0d" d="M4108,1337l26,-111 -31,47 -25,93z"/><path color="#784713" d="M4085,1417l23,-80 -30,29 -21,58z"/><path color="#976c2c" d="M4064,1460l21,-43 -28,7 -18,19z"/><path color="#fffe75" d="M4047,1464l17,-4 -25,-17 -16,-21z"/><path class="m" d="M4047,1464l17,-4 21,-43 23,-80 26,-111 -31,47 -30,37 -23,72 -19,34 -17,-5 -14,-44 23,55z"/>
<path color="#605c2a" d="M4010,1363l13,59 -23,-55 -12,-80z"/><path color="#605b26" d="M3998,1269l12,94 -22,-76 -11,-109z"/><path color="#5f5b22" d="M3988,1150l10,119 -21,-91 -10,-129z"/><path color="#5f5a1e" d="M3979,1015l9,135 -21,-101 -10,-138z"/><path color="#605c2a" d="M4032,1427l15,37 -24,-42 -13,-59z"/><path color="#605b26" d="M4020,1353l12,74 -22,-64 -12,-94z"/><path color="#5f5b22" d="M4009,1247l11,106 -22,-84 -10,-119z"/><path color="#5f5a1e" d="M4000,1119l9,128 -21,-97 -9,-135z"/><path class="m" d="M4000,1119l9,128 11,106 12,74 15,37 -24,-42 -23,-55 -12,-80 -11,-109 -10,-129 -10,-138 22,104z"/>
<path color="#5f591a" d="M3968,877l11,138 -22,-104 -11,-132z"/><path color="#5e5916" d="M3957,751l11,126 -22,-98 -12,-112z"/><path color="#5e5813" d="M3943,650l14,101 -23,-84 -15,-78z"/><path color="#5d580f" d="M3927,588l16,62 -24,-61 -18,-34z"/><path color="#5f591a" d="M3990,981l10,138 -21,-104 -11,-138z"/><path color="#5e5916" d="M3980,844l10,137 -22,-104 -11,-126z"/><path color="#5e5813" d="M3967,726l13,118 -23,-93 -14,-101z"/><path color="#5d580f" d="M3953,639l14,87 -24,-76 -16,-62z"/><path class="m" d="M3953,639l14,87 13,118 10,137 10,138 -21,-104 -22,-104 -11,-132 -12,-112 -15,-78 -18,-34 26,33z"/>
<path color="#ffff55" d="M3908,573l19,15 -26,-33 -21,14z"/><path color="#6c8227" d="M3887,607l21,-34 -28,-4 -22,62z"/><path color="#4e7127" d="M3863,687l24,-80 -29,24 -24,103z"/><path color="#406b27" d="M3838,804l25,-117 -29,47 -26,132z"/><path color="#545813" d="M3936,594l17,45 -26,-51 -19,-15z"/><path color="#a5c443" d="M3915,599l21,-5 -28,-21 -21,34z"/><path color="#54792a" d="M3893,653l22,-54 -28,8 -24,80z"/><path color="#426e29" d="M3868,750l25,-97 -30,34 -25,117z"/><path class="m" d="M3868,750l25,-97 22,-54 21,-5 17,45 -26,-51 -26,-33 -21,14 -22,62 -24,103 -26,132 30,-62z"/>
<path color="#3a6824" d="M3812,945l26,-141 -30,62 -25,147z"/><path color="#356622" d="M3786,1095l26,-150 -29,68 -25,147z"/><path color="#30661f" d="M3762,1240l24,-145 -28,65 -24,134z"/><path color="#2c661e" d="M3738,1367l24,-127 -28,54 -22,110z"/><path color="#3b6925" d="M3842,879l26,-129 -30,54 -26,141z"/><path color="#356722" d="M3816,1027l26,-148 -30,66 -26,150z"/><path color="#30651f" d="M3790,1178l26,-151 -30,68 -24,145z"/><path color="#2b651d" d="M3765,1318l25,-140 -28,62 -24,127z"/><path class="m" d="M3765,1318l25,-140 26,-151 26,-148 26,-129 -30,54 -30,62 -25,147 -25,147 -24,134 -22,110 26,-37z"/>
<path color="#28691d" d="M3715,1465l23,-98 -26,37 -22,78z"/><path color="#29751f" d="M3695,1528l20,-63 -25,17 -19,39z"/><path color="#62f756" d="M3675,1552l20,-24 -24,-7 -19,-2z"/><path color="#53e36f" d="M3657,1534l18,18 -23,-33 -18,-42z"/><path color="#27661c" d="M3741,1435l24,-117 -27,49 -23,98z"/><path color="#246b1b" d="M3719,1521l22,-86 -26,30 -20,63z"/><path color="#298122" d="M3699,1569l20,-48 -24,7 -20,24z"/><path color="#75ff96" d="M3680,1577l19,-8 -24,-17 -18,-18z"/><path class="m" d="M3680,1577l19,-8 20,-48 22,-86 24,-117 -27,49 -26,37 -22,78 -19,39 -19,-2 -18,-42 23,57z"/>
<path color="#265247" d="M3639,1477l18,57 -23,-57 -17,-78z"/><path color="#2b515d" d="M3622,1385l17,92 -22,-78 -17,-108z"/><path color="#284f5c" d="M3605,1266l17,119 -22,-94 -17,-129z"/><path color="#244c5c" d="M3588,1131l17,135 -22,-104 -17,-136z"/><path color="#265247" d="M3662,1543l18,34 -23,-43 -18,-57z"/><path color="#2b515d" d="M3644,1471l18,72 -23,-66 -17,-92z"/><path color="#284f5c" d="M3628,1366l16,105 -22,-86 -17,-119z"/><path color="#244c5c" d="M3611,1238l17,128 -23,-100 -17,-135z"/><path class="m" d="M3611,1238l17,128 16,105 18,72 18,34 -23,-43 -23,-57 -17,-78 -17,-108 -17,-129 -17,-136 22,105z"/>
<path color="#214a5c" d="M3570,993l18,138 -22,-105 -19,-130z"/><path color="#1d475b" d="M3552,867l18,126 -23,-97 -19,-108z"/><path color="#19445b" d="M3532,768l20,99 -24,-79 -20,-73z"/><path color="#16425a" d="M3511,709l21,59 -24,-53 -21,-29z"/><path color="#214a5c" d="M3593,1098l18,140 -23,-107 -18,-138z"/><path color="#1d475b" d="M3575,961l18,137 -23,-105 -18,-126z"/><path color="#19445b" d="M3556,842l19,119 -23,-94 -20,-99z"/><path color="#16425a" d="M3536,755l20,87 -24,-74 -21,-59z"/><path class="m" d="M3536,755l20,87 19,119 18,137 18,140 -23,-107 -22,-105 -19,-130 -19,-108 -20,-73 -21,-29 24,23z"/>
<path color="#39a6e6" d="M3490,697l21,12 -24,-23 -22,19z"/><path color="#21557b" d="M3467,734l23,-37 -25,8 -22,65z"/><path color="#2d4b6f" d="M3445,814l22,-80 -24,36 -22,99z"/><path color="#3b466b" d="M3423,926l22,-112 -24,55 -21,120z"/><path color="#123f5a" d="M3515,711l21,44 -25,-46 -21,-12z"/><path color="#3277a9" d="M3493,717l22,-6 -25,-14 -23,37z"/><path color="#314f75" d="M3470,772l23,-55 -26,17 -22,80z"/><path color="#3d476d" d="M3448,868l22,-96 -25,42 -22,112z"/><path class="m" d="M3448,868l22,-96 23,-55 22,-6 21,44 -25,-46 -24,-23 -22,19 -22,65 -22,99 -21,120 23,-63z"/>
<path color="#4a4369" d="M3402,1056l21,-130 -23,63 -21,125z"/><path color="#463f69" d="M3381,1186l21,-130 -23,58 -21,114z"/><path color="#433c6b" d="M3360,1301l21,-115 -23,42 -20,89z"/><path color="#453d74" d="M3339,1390l21,-89 -22,16 -20,58z"/><path color="#4a436a" d="M3425,992l23,-124 -25,58 -21,130z"/><path color="#453e68" d="M3404,1129l21,-137 -23,64 -21,130z"/><path color="#413a68" d="M3382,1262l22,-133 -23,57 -21,115z"/><path color="#3e376a" d="M3362,1378l20,-116 -22,39 -21,89z"/><path class="m" d="M3362,1378l20,-116 22,-133 21,-137 23,-124 -25,58 -23,63 -21,125 -21,114 -20,89 -20,58 21,15z"/>
<path color="#6258a5" d="M3319,1445l20,-55 -21,-15 -21,21z"/><path color="#fbe6ff" d="M3298,1463l21,-18 -22,-49 -21,-13z"/><path color="#9885ff" d="M3277,1446l21,17 -22,-80 -22,-39z"/><path color="#7463f9" d="M3255,1403l22,43 -23,-102 -22,-51z"/><path color="#403874" d="M3341,1464l21,-86 -23,12 -20,55z"/><path color="#6b5fb8" d="M3320,1514l21,-50 -22,-19 -21,18z"/><path color="#dec9ff" d="M3299,1526l21,-12 -22,-51 -21,-17z"/><path color="#816fff" d="M3278,1504l21,22 -22,-80 -22,-43z"/><path class="m" d="M3278,1504l21,22 21,-12 21,-50 21,-86 -23,12 -21,-15 -21,21 -21,-13 -22,-39 -22,-51 23,110z"/>
<path color="#986ce3" d="M3232,1346l23,57 -23,-110 -23,-50z"/><path color="#ca7ed8" d="M3209,1291l23,55 -23,-103 -23,-31z"/><path color="#ffa8e5" d="M3186,1254l23,37 -23,-79 -22,-2z"/><path color="#ffa0c3" d="M3164,1245l22,9 -22,-44 -21,30z"/><path color="#966ae0" d="M3255,1455l23,49 -23,-101 -23,-57z"/><path color="#ba72c8" d="M3232,1392l23,63 -23,-109 -23,-55z"/><path color="#ec82b7" d="M3209,1330l23,62 -23,-101 -23,-37z"/><path color="#ff93b9" d="M3186,1286l23,44 -23,-76 -22,-9z"/><path class="m" d="M3186,1286l23,44 23,62 23,63 23,49 -23,-101 -23,-110 -23,-50 -23,-31 -22,-2 -21,30 21,5z"/>
<path color="#7c3648" d="M3142,1269l22,-24 -21,-5 -20,59z"/><path color="#6c2a39" d="M3121,1322l21,-53 -19,30 -20,77z"/><path color="#662332" d="M3101,1393l20,-71 -18,54 -19,77z"/><path color="#651e2c" d="M3081,1465l20,-72 -17,60 -20,65z"/><path color="#ff8aad" d="M3163,1270l23,16 -22,-41 -22,24z"/><path color="#7a3041" d="M3141,1288l22,-18 -21,-1 -21,53z"/><path color="#6a2433" d="M3119,1335l22,-47 -20,34 -20,71z"/><path color="#aa344b" d="M3099,1400l20,-65 -18,58 -20,72z"/><path class="m" d="M3099,1400l20,-65 22,-47 22,-18 23,16 -22,-41 -21,-5 -20,59 -20,77 -19,77 -20,65 17,-53z"/>
<path color="#a22a40" d="M3061,1523l20,-58 -17,53 -20,37z"/><path color="#7e1a2b" d="M3040,1554l21,-31 -17,32 -22,2z"/><path color="#520c18" d="M3018,1550l22,4 -18,3 -24,-36z"/><path color="#510914" d="M2993,1507l25,43 -20,-29 -26,-73z"/><path color="#a92c43" d="M3079,1468l20,-68 -18,65 -20,58z"/><path color="#a12338" d="M3058,1521l21,-53 -18,55 -21,31z"/><path color="#781424" d="M3036,1547l22,-26 -18,33 -22,-4z"/><path color="#510914" d="M3013,1538l23,9 -18,3 -25,-43z"/><path class="m" d="M3013,1538l23,9 22,-26 21,-53 20,-68 -18,65 -17,53 -20,37 -22,2 -24,-36 -26,-73 21,59z"/></g>
<path fill="none" stroke="#777" stroke-width="0.5" d="M302.5,180.5L425.2,142.2M297.8,76.5L434.1,48.4M245.3,29L358.2,12M302.5,180.5L253.5,114.3M297.8,76.5L245.3,29M434.1,48.4L358.2,12M302.5,180.5L297.8,76.5M253.5,114.3L245.3,29M425.2,142.2L434.1,48.4"/>
<text x="305.4" y="187.6" text-anchor="middle" class="t3">−5</text><text x="367.4" y="168" text-anchor="middle" class="t3">0</text><text x="422.3" y="150.7" text-anchor="middle" class="t3">5</text><text x="368.4" y="177.9" text-anchor="middle" class="n3"><tspan font-style="italic">x</tspan></text><text x="418.3" y="36.5" text-anchor="middle" class="t3">−2</text><text x="391.8" y="24.6" text-anchor="middle" class="t3">0</text><text x="368.7" y="13.6" text-anchor="middle" class="t3">2</text><text x="392.7" y="15.1" text-anchor="middle" class="n3"><tspan font-style="italic">t</tspan></text><text x="434.6" y="128.7" text-anchor="middle" class="t3">−0.5</text><text x="435" y="97.9" text-anchor="middle" class="t3">0.0</text><text x="437.9" y="65.7" text-anchor="middle" class="t3">0.5</text><text x="448" y="96.1" text-anchor="middle" class="n3"><tspan font-style="italic">Re</tspan>[q]</text><path fill="none" stroke="#111" stroke-width="0.6" d="M302.5,180.5L425.2,142.2M302.5,180.5L301,178.4M367.9,160.1L366,158.2M425.2,142.2L423,140.6M316.3,176.2L315.5,175.1M329.8,172L328.9,171M342.8,167.9L341.9,166.9M355.5,163.9L354.6,163M367.9,160.1L366.9,159.1M379.9,156.3L378.9,155.4M391.7,152.6L390.6,151.7M403.1,149.1L402.1,148.2M414.3,145.6L413.2,144.7M434.1,48.4L358.2,12M418.7,41L415.9,41.6M391.6,28L388.9,28.5M368.5,16.9L366,17.3M434.1,48.4L432.6,48.7M426.3,44.6L424.8,44.9M411.5,37.6L410.1,37.8M404.6,34.3L403.2,34.5M398,31.1L396.6,31.3M385.5,25.1L384.1,25.3M379.7,22.3L378.3,22.5M374,19.6L372.6,19.8M363.3,14.4L362,14.6M358.2,12L356.9,12.2M425.2,142.2L434.1,48.4M426.5,128.4L424.3,126.9M429.4,97.7L427.2,96.3M432.6,64.7L430.2,63.5M425.3,140.2L424.2,139.3M425.9,134.3L424.8,133.5M426.5,128.4L425.3,127.6M427,122.4L425.9,121.6M427.6,116.4L426.5,115.6M428.2,110.2L427.1,109.5M428.8,104L427.6,103.2M429.4,97.7L428.2,96.9M430,91.3L428.8,90.5M430.6,84.8L429.5,84.1M431.3,78.2L430.1,77.5M431.9,71.5L430.7,70.8M432.6,64.7L431.3,64.1M433.2,57.8L432,57.2M433.9,50.9L432.6,50.3"/>
<text x="339" y="5.5" text-anchor="middle" class="t3t">Figure (<tspan font-style="italic">b</tspan>)</text>
<path fill="none" stroke="#777" stroke-width="0.5" d="M498,129L585.9,99.8M659.3,140.6L585.9,99.8M585.9,99.8L586.4,29.1"/>
<g transform="scale(0.1)" fill="currentColor" stroke="currentColor" stroke-width="3" stroke-linejoin="round"><path color="#795427" d="M5864,739l17,-11 -20,16 -17,-2z"/><path color="#60401c" d="M5847,736l17,3 -20,3 -16,-17z"/><path color="#5f3d18" d="M5831,716l16,20 -19,-11 -17,-33z"/><path color="#8d622e" d="M5884,726l17,-23 -20,25 -17,11z"/><path color="#714b21" d="M5867,736l17,-10 -20,13 -17,-3z"/><path color="#5f3d18" d="M5851,731l16,5 -20,0 -16,-20z"/><path class="m" d="M5851,731l16,5 17,-10 17,-23 -20,25 -20,16 -17,-2 -16,-17 -17,-33 20,24z"/>
<path color="#5e3a14" d="M5814,683l17,33 -20,-24 -17,-45z"/><path color="#5e3710" d="M5797,637l17,46 -20,-36 -17,-54z"/><path color="#5d340d" d="M5780,585l17,52 -20,-44 -17,-55z"/><path color="#5e3a14" d="M5834,710l17,21 -20,-15 -17,-33z"/><path color="#5e3710" d="M5817,676l17,34 -20,-27 -17,-46z"/><path color="#5d340d" d="M5800,631l17,45 -20,-39 -17,-52z"/><path class="m" d="M5800,631l17,45 17,34 17,21 -20,-15 -20,-24 -17,-45 -17,-54 -17,-55 20,47z"/>
<path color="#5c3109" d="M5762,532l18,53 -20,-47 -18,-53z"/><path color="#5d3c12" d="M5744,484l18,48 -20,-47 -18,-43z"/><path color="#ffda60" d="M5726,447l18,37 -20,-42 -19,-29z"/><path color="#5c3109" d="M5782,581l18,50 -20,-46 -18,-53z"/><path color="#5d3c12" d="M5764,531l18,50 -20,-49 -18,-48z"/><path color="#5f4f21" d="M5746,489l18,42 -20,-47 -18,-37z"/><path class="m" d="M5746,489l18,42 18,50 18,50 -20,-46 -20,-47 -18,-53 -18,-43 -19,-29 21,34z"/>
<path color="#ffff90" d="M5707,427l19,20 -21,-34 -18,-10z"/><path color="#ffffa9" d="M5689,425l18,2 -20,-24 -18,11z"/><path color="#cfc552" d="M5671,445l18,-20 -20,-11 -18,32z"/><path color="#ffff80" d="M5728,458l18,31 -20,-42 -19,-20z"/><path color="#ffff99" d="M5709,446l19,12 -21,-31 -18,-2z"/><path color="#ffff8a" d="M5691,453l18,-7 -20,-21 -18,20z"/><path class="m" d="M5691,453l18,-7 19,12 18,31 -20,-42 -21,-34 -18,-10 -18,11 -18,32 20,-1z"/>
<path color="#928b2d" d="M5653,486l18,-41 -20,1 -17,53z"/><path color="#857d20" d="M5636,546l17,-60 -19,13 -17,68z"/><path color="#7e7617" d="M5619,620l17,-74 -19,21 -17,81z"/><path color="#afa73a" d="M5673,482l18,-29 -20,-8 -18,41z"/><path color="#8c8423" d="M5655,530l18,-48 -20,4 -17,60z"/><path color="#817a18" d="M5638,596l17,-66 -19,16 -17,74z"/><path class="m" d="M5638,596l17,-66 18,-48 18,-29 -20,-8 -20,1 -17,53 -17,68 -17,81 19,-28z"/>
<path color="#6e741a" d="M5602,703l17,-83 -19,28 -16,86z"/><path color="#597425" d="M5586,791l16,-88 -18,31 -16,88z"/><path color="#47752c" d="M5569,876l17,-85 -18,31 -16,82z"/><path color="#70761b" d="M5621,674l17,-78 -19,24 -17,83z"/><path color="#597525" d="M5604,760l17,-86 -19,29 -16,88z"/><path color="#47742c" d="M5587,847l17,-87 -18,31 -17,85z"/><path class="m" d="M5587,847l17,-87 17,-86 17,-78 -19,24 -19,28 -16,86 -16,88 -16,82 17,-28z"/>
<path color="#417529" d="M5553,955l16,-79 -17,28 -17,73z"/><path color="#3b7727" d="M5537,1022l16,-67 -18,22 -16,59z"/><path color="#387e27" d="M5520,1073l17,-51 -18,14 -17,42z"/><path color="#407428" d="M5571,929l16,-82 -18,29 -16,79z"/><path color="#3a7526" d="M5554,1002l17,-73 -18,26 -16,67z"/><path color="#357925" d="M5538,1062l16,-60 -17,20 -17,51z"/><path class="m" d="M5538,1062l16,-60 17,-73 16,-82 -18,29 -17,28 -17,73 -16,59 -17,42 18,-5z"/>
<path color="#3e992f" d="M5503,1106l17,-33 -18,5 -17,23z"/><path color="#60f750" d="M5485,1119l18,-13 -18,-5 -18,3z"/><path color="#5bef77" d="M5466,1112l19,7 -18,-15 -20,-18z"/><path color="#348326" d="M5521,1105l17,-43 -18,11 -17,33z"/><path color="#45bb39" d="M5503,1129l18,-24 -18,1 -18,13z"/><path color="#69ff87" d="M5485,1132l18,-3 -18,-10 -19,-7z"/><path class="m" d="M5485,1132l18,-3 18,-24 17,-43 -18,11 -18,5 -17,23 -18,3 -20,-18 19,26z"/>
<path color="#255247" d="M5446,1084l20,28 -19,-26 -20,-37z"/><path color="#2a505d" d="M5425,1038l21,46 -19,-35 -21,-54z"/><path color="#254d5c" d="M5404,976l21,62 -19,-43 -22,-69z"/><path color="#66d9bd" d="M5465,1114l20,18 -19,-20 -20,-28z"/><path color="#2a505d" d="M5445,1078l20,36 -19,-30 -21,-46z"/><path color="#254d5c" d="M5424,1023l21,55 -20,-40 -21,-62z"/><path class="m" d="M5424,1023l21,55 20,36 20,18 -19,-20 -19,-26 -20,-37 -21,-54 -22,-69 20,50z"/>
<path color="#20495b" d="M5381,902l23,74 -20,-50 -23,-79z"/><path color="#1b465b" d="M5357,819l24,83 -20,-55 -24,-84z"/><path color="#17425a" d="M5333,734l24,85 -20,-56 -25,-84z"/><path color="#20495b" d="M5401,954l23,69 -20,-47 -23,-74z"/><path color="#1b465b" d="M5378,875l23,79 -20,-52 -24,-83z"/><path color="#17425a" d="M5354,790l24,85 -21,-56 -24,-85z"/><path class="m" d="M5354,790l24,85 23,79 23,69 -20,-47 -20,-50 -23,-79 -24,-84 -25,-84 21,55z"/>
<path color="#123f5a" d="M5308,651l25,83 -21,-55 -24,-78z"/><path color="#1e3d5a" d="M5284,578l24,73 -20,-50 -25,-67z"/><path color="#323b5a" d="M5260,519l24,59 -21,-44 -23,-49z"/><path color="#123f5a" d="M5329,705l25,85 -21,-56 -25,-83z"/><path color="#1e3d5a" d="M5305,626l24,79 -21,-54 -24,-73z"/><path color="#323b5a" d="M5280,559l25,67 -21,-48 -24,-59z"/><path class="m" d="M5280,559l25,67 24,79 25,85 -21,-56 -21,-55 -24,-78 -25,-67 -23,-49 20,34z"/>
<path color="#3e3859" d="M5236,480l24,39 -20,-34 -23,-28z"/><path color="#b2a0ff" d="M5214,464l22,16 -19,-23 -22,-4z"/><path color="#8a7cdc" d="M5192,472l22,-8 -19,-11 -20,21z"/><path color="#3e3859" d="M5256,509l24,50 -20,-40 -24,-39z"/><path color="#a08ff4" d="M5233,481l23,28 -20,-29 -22,-16z"/><path color="#aa99ff" d="M5211,477l22,4 -19,-17 -22,8z"/><path class="m" d="M5211,477l22,4 23,28 24,50 -20,-40 -20,-34 -23,-28 -22,-4 -20,21 17,-2z"/>
<path color="#4c4289" d="M5173,505l19,-33 -17,2 -19,44z"/><path color="#3a3176" d="M5155,561l18,-56 -17,13 -17,65z"/><path color="#2f276d" d="M5138,635l17,-74 -16,22 -16,82z"/><path color="#5e53a6" d="M5190,497l21,-20 -19,-5 -19,33z"/><path color="#3d347c" d="M5171,543l19,-46 -17,8 -18,56z"/><path color="#302870" d="M5154,609l17,-66 -16,18 -17,74z"/><path class="m" d="M5154,609l17,-66 19,-46 21,-20 -19,-5 -17,2 -19,44 -17,65 -16,82 15,-30z"/>
<path color="#3f2a63" d="M5123,724l15,-89 -15,30 -15,94z"/><path color="#5e3455" d="M5108,822l15,-98 -15,35 -14,98z"/><path color="#733849" d="M5094,921l14,-99 -14,35 -14,98z"/><path color="#402b64" d="M5138,692l16,-83 -16,26 -15,89z"/><path color="#5e3456" d="M5122,786l16,-94 -15,32 -15,98z"/><path color="#733849" d="M5108,886l14,-100 -14,36 -14,99z"/><path class="m" d="M5108,886l14,-100 16,-94 16,-83 -16,26 -15,30 -15,94 -14,98 -14,98 14,-34z"/>
<path color="#723141" d="M5080,1018l14,-97 -14,34 -14,92z"/><path color="#722a3a" d="M5065,1105l15,-87 -14,29 -15,81z"/><path color="#742434" d="M5050,1179l15,-74 -14,23 -15,65z"/><path color="#723141" d="M5094,986l14,-100 -14,35 -14,97z"/><path color="#712a3a" d="M5079,1079l15,-93 -14,32 -15,87z"/><path color="#722433" d="M5064,1161l15,-82 -14,26 -15,74z"/><path class="m" d="M5064,1161l15,-82 15,-93 14,-100 -14,35 -14,34 -14,92 -15,81 -15,65 14,-14z"/>
<path color="#7a2030" d="M5033,1236l17,-57 -14,14 -18,48z"/><path color="#922033" d="M5015,1274l18,-38 -15,5 -19,26z"/><path color="#f43955" d="M4995,1290l20,-16 -16,-7 -21,5z"/><path color="#751e2e" d="M5048,1227l16,-66 -14,18 -17,57z"/><path color="#7f1a2b" d="M5031,1275l17,-48 -15,9 -18,38z"/><path color="#b52339" d="M5011,1302l20,-27 -16,-1 -20,16z"/><path class="m" d="M5011,1302l20,-27 17,-48 16,-66 -14,18 -14,14 -18,48 -19,26 -21,5 17,18z"/>
<path color="#845c2b" d="M5905,703l17,-32 -21,32 -17,23z"/><path color="#93622b" d="M5888,725l17,-22 -21,23 -17,10z"/><path color="#68431a" d="M5871,735l17,-10 -21,11 -16,-5z"/><path color="#80592a" d="M5926,672l17,-37 -21,36 -17,32z"/><path color="#855927" d="M5908,704l18,-32 -21,31 -17,22z"/><path color="#9a6328" d="M5891,727l17,-23 -20,21 -17,10z"/><path class="m" d="M5891,727l17,-23 18,-32 17,-37 -21,36 -21,32 -17,23 -17,10 -16,-5 20,4z"/>
<path color="#5e3a14" d="M5854,729l17,6 -20,-4 -17,-21z"/><path color="#5e3710" d="M5837,707l17,22 -20,-19 -17,-34z"/><path color="#5d340d" d="M5820,673l17,34 -20,-31 -17,-45z"/><path color="#d38331" d="M5874,736l17,-9 -20,8 -17,-6z"/><path color="#5e3710" d="M5857,729l17,7 -20,-7 -17,-22z"/><path color="#5d340d" d="M5840,707l17,22 -20,-22 -17,-34z"/><path class="m" d="M5840,707l17,22 17,7 17,-9 -20,8 -20,-4 -17,-21 -17,-34 -17,-45 20,42z"/>
<path color="#5c3109" d="M5802,629l18,44 -20,-42 -18,-50z"/><path color="#5d3c12" d="M5785,581l17,48 -20,-48 -18,-50z"/><path color="#5f4f21" d="M5767,535l18,46 -21,-50 -18,-42z"/><path color="#5c3109" d="M5823,673l17,34 -20,-34 -18,-44z"/><path color="#5d3c12" d="M5805,631l18,42 -21,-44 -17,-48z"/><path color="#5f4f21" d="M5787,585l18,46 -20,-50 -18,-46z"/><path class="m" d="M5787,585l18,46 18,42 17,34 -20,-34 -20,-42 -18,-50 -18,-50 -18,-42 21,46z"/>
<path color="#ffff78" d="M5748,498l19,37 -21,-46 -18,-31z"/><path color="#ffff81" d="M5730,475l18,23 -20,-40 -19,-12z"/><path color="#ffffa2" d="M5712,470l18,5 -21,-29 -18,7z"/><path color="#fff973" d="M5769,544l18,41 -20,-50 -19,-37z"/><path color="#ffff73" d="M5751,513l18,31 -21,-46 -18,-23z"/><path color="#ffff86" d="M5732,496l19,17 -21,-38 -18,-5z"/><path class="m" d="M5732,496l19,17 18,31 18,41 -20,-50 -21,-46 -18,-31 -19,-12 -18,7 21,17z"/>
<path color="#fcf05f" d="M5693,485l19,-15 -21,-17 -18,29z"/><path color="#9b922a" d="M5675,522l18,-37 -20,-3 -18,48z"/><path color="#877f1a" d="M5657,578l18,-56 -20,8 -17,66z"/><path color="#ffff97" d="M5714,499l18,-3 -20,-26 -19,15z"/><path color="#cac03f" d="M5695,522l19,-23 -21,-14 -18,37z"/><path color="#90881e" d="M5677,566l18,-44 -20,0 -18,56z"/><path class="m" d="M5677,566l18,-44 19,-23 18,-3 -20,-26 -21,-17 -18,29 -18,48 -17,66 19,-18z"/>
<path color="#72781c" d="M5640,648l17,-70 -19,18 -17,78z"/><path color="#5a7625" d="M5623,730l17,-82 -19,26 -17,86z"/><path color="#47752c" d="M5606,816l17,-86 -19,30 -17,87z"/><path color="#777d1d" d="M5659,628l18,-62 -20,12 -17,70z"/><path color="#5c7826" d="M5642,703l17,-75 -19,20 -17,82z"/><path color="#48762c" d="M5625,786l17,-83 -19,27 -17,86z"/><path class="m" d="M5625,786l17,-83 17,-75 18,-62 -20,12 -19,18 -17,78 -17,86 -17,87 19,-31z"/>
<path color="#407328" d="M5589,901l17,-85 -19,31 -16,82z"/><path color="#397325" d="M5573,980l16,-79 -18,28 -17,73z"/><path color="#347523" d="M5556,1047l17,-67 -19,22 -16,60z"/><path color="#407328" d="M5608,871l17,-85 -19,30 -17,85z"/><path color="#397225" d="M5591,953l17,-82 -19,30 -16,79z"/><path color="#337323" d="M5574,1027l17,-74 -18,27 -17,67z"/><path class="m" d="M5574,1027l17,-74 17,-82 17,-85 -19,30 -19,31 -16,82 -17,73 -16,60 18,-15z"/>
<path color="#307b23" d="M5539,1099l17,-52 -18,15 -17,43z"/><path color="#349429" d="M5521,1133l18,-34 -18,6 -18,24z"/><path color="#66f080" d="M5503,1147l18,-14 -18,-4 -18,3z"/><path color="#2d7721" d="M5557,1087l17,-60 -18,20 -17,52z"/><path color="#2b8022" d="M5540,1131l17,-44 -18,12 -18,34z"/><path color="#4ab65f" d="M5522,1156l18,-25 -19,2 -18,14z"/><path class="m" d="M5522,1156l18,-25 17,-44 17,-60 -18,20 -18,15 -17,43 -18,24 -18,3 18,15z"/>
<path color="#72edcf" d="M5484,1140l19,7 -18,-15 -20,-18z"/><path color="#2a505d" d="M5464,1113l20,27 -19,-26 -20,-36z"/><path color="#254d5c" d="M5443,1067l21,46 -19,-35 -21,-55z"/><path color="#80ffe0" d="M5503,1160l19,-4 -19,-9 -19,-7z"/><path color="#71d4f4" d="M5484,1143l19,17 -19,-20 -20,-27z"/><path color="#254d5c" d="M5463,1106l21,37 -20,-30 -21,-46z"/><path class="m" d="M5463,1106l21,37 19,17 19,-4 -19,-9 -18,-15 -20,-18 -20,-36 -21,-55 19,44z"/>
<path color="#20495b" d="M5421,1005l22,62 -19,-44 -23,-69z"/><path color="#1b465b" d="M5399,930l22,75 -20,-51 -23,-79z"/><path color="#17425a" d="M5375,847l24,83 -21,-55 -24,-85z"/><path color="#20495b" d="M5442,1052l21,54 -20,-39 -22,-62z"/><path color="#1b465b" d="M5419,983l23,69 -21,-47 -22,-75z"/><path color="#17425a" d="M5396,903l23,80 -20,-53 -24,-83z"/><path class="m" d="M5396,903l23,80 23,69 21,54 -20,-39 -19,-44 -23,-69 -23,-79 -24,-85 21,57z"/>
<path color="#123f5a" d="M5350,761l25,86 -21,-57 -25,-85z"/><path color="#1e3d5a" d="M5326,678l24,83 -21,-56 -24,-79z"/><path color="#323b5a" d="M5301,604l25,74 -21,-52 -25,-67z"/><path color="#123f5a" d="M5372,818l24,85 -21,-56 -25,-86z"/><path color="#1e3d5a" d="M5347,732l25,86 -22,-57 -24,-83z"/><path color="#323b5a" d="M5322,652l25,80 -21,-54 -25,-74z"/><path class="m" d="M5322,652l25,80 25,86 24,85 -21,-56 -21,-57 -25,-85 -24,-79 -25,-67 21,45z"/>
<path color="#3e3859" d="M5276,544l25,60 -21,-45 -24,-50z"/><path color="#9383e1" d="M5253,504l23,40 -20,-35 -23,-28z"/><path color="#a291ff" d="M5230,488l23,16 -20,-23 -22,-4z"/><path color="#3e3859" d="M5297,585l25,67 -21,-48 -25,-60z"/><path color="#383257" d="M5273,534l24,51 -21,-41 -23,-40z"/><path color="#9181f0" d="M5250,505l23,29 -20,-30 -23,-16z"/><path class="m" d="M5250,505l23,29 24,51 25,67 -21,-48 -21,-45 -24,-50 -23,-28 -22,-4 19,11z"/>
<path color="#7e70d9" d="M5208,496l22,-8 -19,-11 -21,20z"/><path color="#443a87" d="M5188,530l20,-34 -18,1 -19,46z"/><path color="#322a74" d="M5170,586l18,-56 -17,13 -17,66z"/><path color="#9b8aff" d="M5227,501l23,4 -20,-17 -22,8z"/><path color="#5449a4" d="M5206,522l21,-21 -19,-5 -20,34z"/><path color="#352c7a" d="M5187,568l19,-46 -18,8 -18,56z"/><path class="m" d="M5187,568l19,-46 21,-21 23,4 -20,-17 -19,-11 -21,20 -19,46 -17,66 16,-23z"/>
<path color="#412c66" d="M5153,662l17,-76 -16,23 -16,83z"/><path color="#5f3556" d="M5137,752l16,-90 -15,30 -16,94z"/><path color="#743849" d="M5122,851l15,-99 -15,34 -14,100z"/><path color="#432d68" d="M5169,635l18,-67 -17,18 -17,76z"/><path color="#603557" d="M5153,719l16,-84 -16,27 -16,90z"/><path color="#743849" d="M5137,815l16,-96 -16,33 -15,99z"/><path class="m" d="M5137,815l16,-96 16,-84 18,-67 -17,18 -16,23 -16,83 -16,94 -14,100 14,-35z"/>
<path color="#713141" d="M5108,952l14,-101 -14,35 -14,100z"/><path color="#702a39" d="M5094,1049l14,-97 -14,34 -15,93z"/><path color="#702333" d="M5079,1138l15,-89 -15,30 -15,82z"/><path color="#723141" d="M5122,917l15,-102 -15,36 -14,101z"/><path color="#702939" d="M5108,1017l14,-100 -14,35 -14,97z"/><path color="#6f2332" d="M5093,1112l15,-95 -14,32 -15,89z"/><path class="m" d="M5093,1112l15,-95 14,-100 15,-102 -15,36 -14,35 -14,100 -15,93 -15,82 15,-23z"/>
<path color="#721d2c" d="M5063,1213l16,-75 -15,23 -16,66z"/><path color="#781827" d="M5046,1271l17,-58 -15,14 -17,48z"/><path color="#90182a" d="M5028,1309l18,-38 -15,4 -20,27z"/><path color="#701c2b" d="M5078,1195l15,-83 -14,26 -16,75z"/><path color="#731625" d="M5061,1262l17,-67 -15,18 -17,58z"/><path color="#7d1222" d="M5044,1311l17,-49 -15,9 -18,38z"/><path class="m" d="M5044,1311l17,-49 17,-67 15,-83 -14,26 -15,23 -16,66 -17,48 -20,27 17,7z"/>
<path color="#7f582a" d="M5947,637l18,-38 -22,36 -17,37z"/><path color="#815626" d="M5930,676l17,-39 -21,35 -18,32z"/><path color="#875723" d="M5912,709l18,-33 -22,28 -17,23z"/><path color="#81592a" d="M5969,601l18,-34 -22,32 -18,38z"/><path color="#7f5525" d="M5951,642l18,-41 -22,36 -17,39z"/><path color="#815321" d="M5934,682l17,-40 -21,34 -18,33z"/><path class="m" d="M5934,682l17,-40 18,-41 18,-34 -22,32 -22,36 -17,37 -18,32 -17,23 21,-18z"/>
<path color="#a36525" d="M5895,731l17,-22 -21,18 -17,9z"/><path color="#e98c30" d="M5878,740l17,-9 -21,5 -17,-7z"/><path color="#ff952a" d="M5860,733l18,7 -21,-11 -17,-22z"/><path color="#89541f" d="M5916,716l18,-34 -22,27 -17,22z"/><path color="#ad6723" d="M5898,739l18,-23 -21,15 -17,9z"/><path color="#ff962f" d="M5881,747l17,-8 -20,1 -18,-7z"/><path class="m" d="M5881,747l17,-8 18,-23 18,-34 -22,27 -21,18 -17,9 -17,-7 -17,-22 20,26z"/>
<path color="#5c3109" d="M5843,711l17,22 -20,-26 -17,-34z"/><path color="#5d3c12" d="M5826,677l17,34 -20,-38 -18,-42z"/><path color="#5f4f21" d="M5808,637l18,40 -21,-46 -18,-46z"/><path color="#ff9524" d="M5864,740l17,7 -21,-14 -17,-22z"/><path color="#ffaa38" d="M5846,719l18,21 -21,-29 -17,-34z"/><path color="#ffd65e" d="M5829,686l17,33 -20,-42 -18,-40z"/><path class="m" d="M5829,686l17,33 18,21 17,7 -21,-14 -20,-26 -17,-34 -18,-42 -18,-46 21,52z"/>
<path color="#fff672" d="M5790,595l18,42 -21,-52 -18,-41z"/><path color="#ffff6d" d="M5772,558l18,37 -21,-51 -18,-31z"/><path color="#ffff71" d="M5753,532l19,26 -21,-45 -19,-17z"/><path color="#fff873" d="M5811,648l18,38 -21,-49 -18,-42z"/><path color="#fffe6a" d="M5793,609l18,39 -21,-53 -18,-37z"/><path color="#ffff66" d="M5774,577l19,32 -21,-51 -19,-26z"/><path class="m" d="M5774,577l19,32 18,39 18,38 -21,-49 -21,-52 -18,-41 -18,-31 -19,-17 21,36z"/>
<path color="#ffff8e" d="M5735,523l18,9 -21,-36 -18,3z"/><path color="#ffff75" d="M5716,533l19,-10 -21,-24 -19,23z"/><path color="#afa52a" d="M5698,563l18,-30 -21,-11 -18,44z"/><path color="#ffff70" d="M5756,556l18,21 -21,-45 -18,-9z"/><path color="#ffff92" d="M5737,554l19,2 -21,-33 -19,10z"/><path color="#fffa50" d="M5718,570l19,-16 -21,-21 -18,30z"/><path class="m" d="M5718,570l19,-16 19,2 18,21 -21,-45 -21,-36 -18,3 -19,23 -18,44 21,-3z"/>
<path color="#7e8421" d="M5679,613l19,-50 -21,3 -18,62z"/><path color="#5f7c28" d="M5661,680l18,-67 -20,15 -17,75z"/><path color="#49782d" d="M5644,757l17,-77 -19,23 -17,83z"/><path color="#8f9629" d="M5700,607l18,-37 -20,-7 -19,50z"/><path color="#64822b" d="M5682,663l18,-56 -21,6 -18,67z"/><path color="#4b7a2f" d="M5664,733l18,-70 -21,17 -17,77z"/><path class="m" d="M5664,733l18,-70 18,-56 18,-37 -20,-7 -21,3 -18,62 -17,75 -17,83 19,-29z"/>
<path color="#407429" d="M5627,841l17,-84 -19,29 -17,85z"/><path color="#397225" d="M5610,925l17,-84 -19,30 -17,82z"/><path color="#327222" d="M5593,1004l17,-79 -19,28 -17,74z"/><path color="#417529" d="M5646,812l18,-79 -20,24 -17,84z"/><path color="#397225" d="M5629,896l17,-84 -19,29 -17,84z"/><path color="#317122" d="M5611,977l18,-81 -19,29 -17,79z"/><path class="m" d="M5611,977l18,-81 17,-84 18,-79 -20,24 -19,29 -17,85 -17,82 -17,74 19,-23z"/>
<path color="#2c7320" d="M5575,1071l18,-67 -19,23 -17,60z"/><path color="#27791f" d="M5558,1124l17,-53 -18,16 -17,44z"/><path color="#389049" d="M5540,1159l18,-35 -18,7 -18,25z"/><path color="#2b711f" d="M5594,1051l17,-74 -18,27 -18,67z"/><path color="#25741d" d="M5577,1111l17,-60 -19,20 -17,53z"/><path color="#2f7f3e" d="M5559,1156l18,-45 -19,13 -18,35z"/><path class="m" d="M5559,1156l18,-45 17,-60 17,-74 -18,27 -19,23 -17,60 -17,44 -18,25 18,3z"/>
<path color="#76e6ca" d="M5522,1174l18,-15 -18,-3 -19,4z"/><path color="#7ee7ff" d="M5503,1168l19,6 -19,-14 -19,-17z"/><path color="#254d5c" d="M5483,1141l20,27 -19,-25 -21,-37z"/><path color="#57ae99" d="M5541,1182l18,-26 -19,3 -18,15z"/><path color="#8af6ff" d="M5522,1187l19,-5 -19,-8 -19,-6z"/><path color="#65cbf3" d="M5502,1171l20,16 -19,-19 -20,-27z"/><path class="m" d="M5502,1171l20,16 19,-5 18,-26 -19,3 -18,-3 -19,4 -19,-17 -21,-37 20,35z"/>
<path color="#20495b" d="M5462,1096l21,45 -20,-35 -21,-54z"/><path color="#1b465b" d="M5440,1034l22,62 -20,-44 -23,-69z"/><path color="#17425a" d="M5417,959l23,75 -21,-51 -23,-80z"/><path color="#20495b" d="M5482,1135l20,36 -19,-30 -21,-45z"/><path color="#1b465b" d="M5460,1081l22,54 -20,-39 -22,-62z"/><path color="#17425a" d="M5438,1012l22,69 -20,-47 -23,-75z"/><path class="m" d="M5438,1012l22,69 22,54 20,36 -19,-30 -20,-35 -21,-54 -23,-69 -23,-80 21,56z"/>
<path color="#123f5a" d="M5393,875l24,84 -21,-56 -24,-85z"/><path color="#1e3d5a" d="M5368,789l25,86 -21,-57 -25,-86z"/><path color="#323b5a" d="M5344,705l24,84 -21,-57 -25,-80z"/><path color="#123f5a" d="M5414,932l24,80 -21,-53 -24,-84z"/><path color="#1e3d5a" d="M5390,846l24,86 -21,-57 -25,-86z"/><path color="#323b5a" d="M5365,760l25,86 -22,-57 -24,-84z"/><path class="m" d="M5365,760l25,86 24,86 24,80 -21,-53 -21,-56 -24,-85 -25,-86 -25,-80 22,53z"/>
<path color="#3e3859" d="M5319,630l25,75 -22,-53 -25,-67z"/><path color="#383257" d="M5294,570l25,60 -22,-45 -24,-51z"/><path color="#8576de" d="M5270,530l24,40 -21,-36 -23,-29z"/><path color="#3e3859" d="M5340,680l25,80 -21,-55 -25,-75z"/><path color="#383257" d="M5315,611l25,69 -21,-50 -25,-60z"/><path color="#332d56" d="M5291,560l24,51 -21,-41 -24,-40z"/><path class="m" d="M5291,560l24,51 25,69 25,80 -21,-55 -22,-53 -25,-67 -24,-51 -23,-29 20,25z"/>
<path color="#9381ff" d="M5247,513l23,17 -20,-25 -23,-4z"/><path color="#7264d7" d="M5225,521l22,-8 -20,-12 -21,21z"/><path color="#3b3285" d="M5205,555l20,-34 -19,1 -19,46z"/><path color="#8272ec" d="M5267,531l24,29 -21,-30 -23,-17z"/><path color="#8c7bff" d="M5244,527l23,4 -20,-18 -22,8z"/><path color="#4b3fa2" d="M5223,548l21,-21 -19,-6 -20,34z"/><path class="m" d="M5223,548l21,-21 23,4 24,29 -21,-30 -20,-25 -23,-4 -21,21 -19,46 18,-13z"/>
<path color="#452f6c" d="M5186,612l19,-57 -18,13 -18,67z"/><path color="#623659" d="M5169,689l17,-77 -17,23 -16,84z"/><path color="#75394a" d="M5152,781l17,-92 -16,30 -16,96z"/><path color="#493271" d="M5203,594l20,-46 -18,7 -19,57z"/><path color="#65385b" d="M5185,662l18,-68 -17,18 -17,77z"/><path color="#773a4b" d="M5168,748l17,-86 -16,27 -17,92z"/><path class="m" d="M5168,748l17,-86 18,-68 20,-46 -18,7 -18,13 -18,67 -16,84 -16,96 15,-34z"/>
<path color="#723141" d="M5137,881l15,-100 -15,34 -15,102z"/><path color="#702939" d="M5122,983l15,-102 -15,36 -14,100z"/><path color="#6e2232" d="M5108,1082l14,-99 -14,34 -15,95z"/><path color="#733142" d="M5152,845l16,-97 -16,33 -15,100z"/><path color="#702939" d="M5137,948l15,-103 -15,36 -15,102z"/><path color="#6e2231" d="M5122,1050l15,-102 -15,35 -14,99z"/><path class="m" d="M5122,1050l15,-102 15,-103 16,-97 -16,33 -15,34 -15,102 -14,100 -15,95 15,-30z"/>
<path color="#6e1c2b" d="M5093,1172l15,-90 -15,30 -15,83z"/><path color="#701524" d="M5077,1248l16,-76 -15,23 -17,67z"/><path color="#761020" d="M5059,1307l18,-59 -16,14 -17,49z"/><path color="#6d1b2a" d="M5107,1145l15,-95 -14,32 -15,90z"/><path color="#6e1523" d="M5092,1230l15,-85 -14,27 -16,76z"/><path color="#720f1e" d="M5075,1298l17,-68 -15,18 -18,59z"/><path class="m" d="M5075,1298l17,-68 15,-85 15,-95 -14,32 -15,30 -15,83 -17,67 -17,49 15,-4z"/>
<path color="#855c2c" d="M5991,568l18,-27 -22,26 -18,34z"/><path color="#805526" d="M5973,606l18,-38 -22,33 -18,41z"/><path color="#7f5121" d="M5955,650l18,-44 -22,36 -17,40z"/><path color="#8d622e" d="M6014,540l18,-17 -23,18 -18,27z"/><path color="#835827" d="M5996,573l18,-33 -23,28 -18,38z"/><path color="#7f5221" d="M5978,615l18,-42 -23,33 -18,44z"/><path class="m" d="M5978,615l18,-42 18,-33 18,-17 -23,18 -22,26 -18,34 -18,41 -17,40 21,-32z"/>
<path color="#82501d" d="M5938,692l17,-42 -21,32 -18,34z"/><path color="#8b521b" d="M5920,727l18,-35 -22,24 -18,23z"/><path color="#b96b21" d="M5902,750l18,-23 -22,12 -17,8z"/><path color="#7f4e1c" d="M5960,662l18,-47 -23,35 -17,42z"/><path color="#824d18" d="M5942,706l18,-44 -22,30 -18,35z"/><path color="#8e5117" d="M5924,742l18,-36 -22,21 -18,23z"/><path class="m" d="M5924,742l18,-36 18,-44 18,-47 -23,35 -21,32 -18,34 -18,23 -17,8 21,3z"/>
<path color="#ffa02f" d="M5885,759l17,-9 -21,-3 -17,-7z"/><path color="#ffbe44" d="M5867,752l18,7 -21,-19 -18,-21z"/><path color="#ffe466" d="M5849,731l18,21 -21,-33 -17,-33z"/><path color="#c77020" d="M5906,766l18,-24 -22,8 -17,9z"/><path color="#ffd457" d="M5888,775l18,-9 -21,-7 -18,-7z"/><path color="#ffff77" d="M5870,768l18,7 -21,-23 -18,-21z"/><path class="m" d="M5870,768l18,7 18,-9 18,-24 -22,8 -21,-3 -17,-7 -18,-21 -17,-33 20,45z"/>
<path color="#ffff78" d="M5832,700l17,31 -20,-45 -18,-38z"/><path color="#ffff6b" d="M5814,663l18,37 -21,-52 -18,-39z"/><path color="#ffff62" d="M5795,628l19,35 -21,-54 -19,-32z"/><path color="#ffff81" d="M5853,747l17,21 -21,-37 -17,-31z"/><path color="#ffff6e" d="M5835,717l18,30 -21,-47 -18,-37z"/><path color="#ffff61" d="M5817,683l18,34 -21,-54 -19,-35z"/><path class="m" d="M5817,683l18,34 18,30 17,21 -21,-37 -20,-45 -18,-38 -18,-39 -19,-32 21,51z"/>
<path color="#ffff61" d="M5777,600l18,28 -21,-51 -18,-21z"/><path color="#ffff73" d="M5758,585l19,15 -21,-44 -19,-2z"/><path color="#ffff87" d="M5739,588l19,-3 -21,-31 -19,16z"/><path color="#ffff5a" d="M5798,651l19,32 -22,-55 -18,-28z"/><path color="#ffff5c" d="M5780,627l18,24 -21,-51 -19,-15z"/><path color="#ffff76" d="M5761,618l19,9 -22,-42 -19,3z"/><path class="m" d="M5761,618l19,9 18,24 19,32 -22,-55 -21,-51 -18,-21 -19,-2 -19,16 21,18z"/>
<path color="#c9d245" d="M5721,611l18,-23 -21,-18 -18,37z"/><path color="#6d8d31" d="M5702,654l19,-43 -21,-4 -18,56z"/><path color="#4f8031" d="M5684,714l18,-60 -20,9 -18,70z"/><path color="#ffff84" d="M5742,627l19,-9 -22,-30 -18,23z"/><path color="#8eb546" d="M5723,655l19,-28 -21,-16 -19,43z"/><path color="#558936" d="M5704,702l19,-47 -21,-1 -18,60z"/><path class="m" d="M5704,702l19,-47 19,-28 19,-9 -22,-30 -21,-18 -18,37 -18,56 -18,70 20,-19z"/>
<path color="#43782a" d="M5666,787l18,-73 -20,19 -18,79z"/><path color="#397326" d="M5648,867l18,-80 -20,25 -17,84z"/><path color="#317122" d="M5631,949l17,-82 -19,29 -18,81z"/><path color="#457c2d" d="M5686,766l18,-64 -20,12 -18,73z"/><path color="#3b7527" d="M5668,840l18,-74 -20,21 -18,80z"/><path color="#327122" d="M5650,920l18,-80 -20,27 -17,82z"/><path class="m" d="M5650,920l18,-80 18,-74 18,-64 -20,12 -20,19 -18,79 -17,84 -18,81 20,-28z"/>
<path color="#2a701f" d="M5613,1026l18,-77 -20,28 -17,74z"/><path color="#24711c" d="M5596,1094l17,-68 -19,25 -17,60z"/><path color="#2c783a" d="M5578,1148l18,-54 -19,17 -18,45z"/><path color="#2a701e" d="M5632,999l18,-79 -19,29 -18,77z"/><path color="#23701b" d="M5615,1072l17,-73 -19,27 -17,68z"/><path color="#2a7338" d="M5597,1134l18,-62 -19,22 -18,54z"/><path class="m" d="M5597,1134l18,-62 17,-73 18,-79 -19,29 -20,28 -17,74 -17,60 -18,45 19,-8z"/>
<path color="#438b79" d="M5560,1184l18,-36 -19,8 -18,26z"/><path color="#79d4f2" d="M5541,1200l19,-16 -19,-2 -19,5z"/><path color="#70ddff" d="M5522,1195l19,5 -19,-13 -20,-16z"/><path color="#3b7c6c" d="M5579,1179l18,-45 -19,14 -18,36z"/><path color="#5aa2ba" d="M5561,1206l18,-27 -19,5 -19,16z"/><path color="#79e5ff" d="M5542,1213l19,-7 -20,-6 -19,-5z"/><path class="m" d="M5542,1213l19,-7 18,-27 18,-45 -19,14 -19,8 -18,26 -19,5 -20,-16 20,24z"/>
<path color="#20495b" d="M5502,1170l20,25 -20,-24 -20,-36z"/><path color="#1b465b" d="M5481,1125l21,45 -20,-35 -22,-54z"/><path color="#17425a" d="M5459,1063l22,62 -21,-44 -22,-69z"/><path color="#59c2f1" d="M5522,1199l20,14 -20,-18 -20,-25z"/><path color="#1b465b" d="M5501,1164l21,35 -20,-29 -21,-45z"/><path color="#17425a" d="M5480,1111l21,53 -20,-39 -22,-62z"/><path class="m" d="M5480,1111l21,53 21,35 20,14 -20,-18 -20,-24 -20,-36 -22,-54 -22,-69 21,51z"/>
<path color="#123f5a" d="M5436,988l23,75 -21,-51 -24,-80z"/><path color="#1e3d5a" d="M5412,905l24,83 -22,-56 -24,-86z"/><path color="#323b5a" d="M5387,818l25,87 -22,-59 -25,-86z"/><path color="#123f5a" d="M5457,1042l23,69 -21,-48 -23,-75z"/><path color="#1e3d5a" d="M5433,962l24,80 -21,-54 -24,-83z"/><path color="#323b5a" d="M5409,876l24,86 -21,-57 -25,-87z"/><path class="m" d="M5409,876l24,86 24,80 23,69 -21,-48 -21,-51 -24,-80 -24,-86 -25,-86 22,58z"/>
<path color="#3e3859" d="M5362,733l25,85 -22,-58 -25,-80z"/><path color="#383257" d="M5337,658l25,75 -22,-53 -25,-69z"/><path color="#332d56" d="M5312,597l25,61 -22,-47 -24,-51z"/><path color="#3e3859" d="M5384,789l25,87 -22,-58 -25,-85z"/><path color="#383257" d="M5359,708l25,81 -22,-56 -25,-75z"/><path color="#332d56" d="M5334,639l25,69 -22,-50 -25,-61z"/><path class="m" d="M5334,639l25,69 25,81 25,87 -22,-58 -22,-58 -25,-80 -25,-69 -24,-51 21,37z"/>
<path color="#7768da" d="M5288,556l24,41 -21,-37 -24,-29z"/><path color="#8372ff" d="M5264,539l24,17 -21,-25 -23,-4z"/><path color="#6658d5" d="M5242,547l22,-8 -20,-12 -21,21z"/><path color="#2d2754" d="M5309,587l25,52 -22,-42 -24,-41z"/><path color="#7463e8" d="M5285,558l24,29 -21,-31 -24,-17z"/><path color="#7d6cff" d="M5262,553l23,5 -21,-19 -22,8z"/><path class="m" d="M5262,553l23,5 24,29 25,52 -22,-42 -21,-37 -24,-29 -23,-4 -21,21 19,-1z"/>
<path color="#51387c" d="M5221,582l21,-35 -19,1 -20,46z"/><path color="#683a5f" d="M5202,640l19,-58 -18,12 -18,68z"/><path color="#793b4c" d="M5185,718l17,-78 -17,22 -17,86z"/><path color="#654798" d="M5240,575l22,-22 -20,-6 -21,35z"/><path color="#6e3e64" d="M5220,622l20,-47 -19,7 -19,58z"/><path color="#7c3d4e" d="M5202,691l18,-69 -18,18 -17,78z"/><path class="m" d="M5202,691l18,-69 20,-47 22,-22 -20,-6 -19,1 -20,46 -18,68 -17,86 17,-30z"/>
<path color="#743242" d="M5168,810l17,-92 -17,30 -16,97z"/><path color="#702a39" d="M5152,912l16,-102 -16,35 -15,103z"/><path color="#6e2231" d="M5137,1016l15,-104 -15,36 -15,102z"/><path color="#753243" d="M5184,777l18,-86 -17,27 -17,92z"/><path color="#712a3a" d="M5168,876l16,-99 -16,33 -16,102z"/><path color="#6e2231" d="M5153,980l15,-104 -16,36 -15,104z"/><path class="m" d="M5153,980l15,-104 16,-99 18,-86 -17,27 -17,30 -16,97 -15,103 -15,102 15,-34z"/>
<path color="#6d1b2a" d="M5122,1116l15,-100 -15,34 -15,95z"/><path color="#6d1423" d="M5107,1207l15,-91 -15,29 -15,85z"/><path color="#6e0e1d" d="M5090,1284l17,-77 -15,23 -17,68z"/><path color="#6c1b2a" d="M5137,1083l16,-103 -16,36 -15,100z"/><path color="#6c1422" d="M5122,1180l15,-97 -15,33 -15,91z"/><path color="#6c0e1c" d="M5106,1266l16,-86 -15,27 -17,77z"/><path class="m" d="M5106,1266l16,-86 15,-97 16,-103 -16,36 -15,34 -15,95 -15,85 -17,68 15,-14z"/>
<path color="#aa7638" d="M6037,521l17,-5 -22,7 -18,17z"/><path color="#8a5c29" d="M6019,544l18,-23 -23,19 -18,33z"/><path color="#815322" d="M6001,581l18,-37 -23,29 -18,42z"/><path color="#634420" d="M6060,510l17,9 -23,-3 -17,5z"/><path color="#9d692f" d="M6042,522l18,-12 -23,11 -18,23z"/><path color="#875723" d="M6024,551l18,-29 -23,22 -18,37z"/><path class="m" d="M6024,551l18,-29 18,-12 17,9 -23,-3 -22,7 -18,17 -18,33 -18,42 23,-34z"/>
<path color="#7e4e1c" d="M5982,628l19,-47 -23,34 -18,47z"/><path color="#7f4b17" d="M5964,678l18,-50 -22,34 -18,44z"/><path color="#834a14" d="M5946,724l18,-46 -22,28 -18,36z"/><path color="#804f1d" d="M6005,594l19,-43 -23,30 -19,47z"/><path color="#7e4a17" d="M5987,646l18,-52 -23,34 -18,50z"/><path color="#7f4713" d="M5968,699l19,-53 -23,32 -18,46z"/><path class="m" d="M5968,699l19,-53 18,-52 19,-43 -23,30 -23,34 -18,47 -18,44 -18,36 22,-18z"/>
<path color="#914f13" d="M5927,762l19,-38 -22,18 -18,24z"/><path color="#da933b" d="M5910,786l17,-24 -21,4 -18,9z"/><path color="#ffff94" d="M5892,795l18,-9 -22,-11 -18,-7z"/><path color="#854710" d="M5950,747l18,-48 -22,25 -19,38z"/><path color="#9a6524" d="M5931,786l19,-39 -23,15 -17,24z"/><path color="#f9d46b" d="M5913,810l18,-24 -21,0 -18,9z"/><path class="m" d="M5913,810l18,-24 19,-39 18,-48 -22,25 -22,18 -18,24 -18,9 -18,-7 22,27z"/>
<path color="#ffff97" d="M5874,788l18,7 -22,-27 -17,-21z"/><path color="#ffff78" d="M5856,768l18,20 -21,-41 -18,-30z"/><path color="#ffff65" d="M5838,739l18,29 -21,-51 -18,-34z"/><path color="#ffffbd" d="M5895,819l18,-9 -21,-15 -18,-7z"/><path color="#ffff8e" d="M5877,812l18,7 -21,-31 -18,-20z"/><path color="#ffff6d" d="M5859,792l18,20 -21,-44 -18,-29z"/><path class="m" d="M5859,792l18,20 18,7 18,-9 -21,-15 -22,-27 -17,-21 -18,-30 -18,-34 21,56z"/>
<path color="#ffff58" d="M5820,707l18,32 -21,-56 -19,-32z"/><path color="#ffff51" d="M5801,678l19,29 -22,-56 -18,-24z"/><path color="#ffff57" d="M5782,658l19,20 -21,-51 -19,-9z"/><path color="#ffff5a" d="M5841,764l18,28 -21,-53 -18,-32z"/><path color="#ffff4e" d="M5823,734l18,30 -21,-57 -19,-29z"/><path color="#ffff48" d="M5804,708l19,26 -22,-56 -19,-20z"/><path class="m" d="M5804,708l19,26 18,30 18,28 -21,-53 -21,-56 -19,-32 -18,-24 -19,-9 21,40z"/>
<path color="#ffff92" d="M5763,653l19,5 -21,-40 -19,9z"/><path color="#f1ff86" d="M5745,667l18,-14 -21,-26 -19,28z"/><path color="#6aa546" d="M5726,700l19,-33 -22,-12 -19,47z"/><path color="#ffff6e" d="M5785,692l19,16 -22,-50 -19,-5z"/><path color="#ffffb9" d="M5766,692l19,0 -22,-39 -18,14z"/><path color="#afff7d" d="M5747,710l19,-18 -21,-25 -19,33z"/><path class="m" d="M5747,710l19,-18 19,0 19,16 -22,-50 -21,-40 -19,9 -19,28 -19,47 22,-2z"/>
<path color="#4a8431" d="M5707,752l19,-52 -22,2 -18,64z"/><path color="#3d7928" d="M5688,818l19,-66 -21,14 -18,74z"/><path color="#337323" d="M5670,893l18,-75 -20,22 -18,80z"/><path color="#58973c" d="M5728,747l19,-37 -21,-10 -19,52z"/><path color="#417f2b" d="M5709,801l19,-54 -21,5 -19,66z"/><path color="#347624" d="M5691,869l18,-68 -21,17 -18,75z"/><path class="m" d="M5691,869l18,-68 19,-54 19,-37 -21,-10 -22,2 -18,64 -18,74 -18,80 20,-27z"/>
<path color="#2a701f" d="M5652,971l18,-78 -20,27 -18,79z"/><path color="#236f1b" d="M5634,1047l18,-76 -20,28 -17,73z"/><path color="#297136" d="M5617,1115l17,-68 -19,25 -18,62z"/><path color="#2b711f" d="M5672,943l19,-74 -21,24 -18,78z"/><path color="#236e1b" d="M5654,1020l18,-77 -20,28 -18,76z"/><path color="#286f35" d="M5636,1092l18,-72 -20,27 -17,68z"/><path class="m" d="M5636,1092l18,-72 18,-77 19,-74 -21,24 -20,27 -18,79 -17,73 -18,62 20,-19z"/>
<path color="#377666" d="M5599,1169l18,-54 -20,19 -18,45z"/><path color="#478296" d="M5580,1206l19,-37 -20,10 -18,27z"/><path color="#64bcde" d="M5561,1224l19,-18 -19,0 -19,7z"/><path color="#357263" d="M5618,1153l18,-61 -19,23 -18,54z"/><path color="#407789" d="M5600,1200l18,-47 -19,16 -19,37z"/><path color="#4b92ae" d="M5581,1229l19,-29 -20,6 -19,18z"/><path class="m" d="M5581,1229l19,-29 18,-47 18,-61 -19,23 -20,19 -18,45 -18,27 -19,7 19,11z"/>
<path color="#63d2ff" d="M5542,1221l19,3 -19,-11 -20,-14z"/><path color="#1b465b" d="M5522,1197l20,24 -20,-22 -21,-35z"/><path color="#17425a" d="M5500,1154l22,43 -21,-33 -21,-53z"/><path color="#66d1ff" d="M5562,1237l19,-8 -20,-5 -19,-3z"/><path color="#4cb9f0" d="M5542,1225l20,12 -20,-16 -20,-24z"/><path color="#17425a" d="M5521,1192l21,33 -20,-28 -22,-43z"/><path class="m" d="M5521,1192l21,33 20,12 19,-8 -20,-5 -19,-11 -20,-14 -21,-35 -21,-53 20,43z"/>
<path color="#123f5a" d="M5478,1093l22,61 -20,-43 -23,-69z"/><path color="#1e3d5a" d="M5455,1019l23,74 -21,-51 -24,-80z"/><path color="#323b5a" d="M5431,935l24,84 -22,-57 -24,-86z"/><path color="#123f5a" d="M5499,1140l22,52 -21,-38 -22,-61z"/><path color="#1e3d5a" d="M5477,1073l22,67 -21,-47 -23,-74z"/><path color="#323b5a" d="M5453,993l24,80 -22,-54 -24,-84z"/><path class="m" d="M5453,993l24,80 22,67 22,52 -21,-38 -20,-43 -23,-69 -24,-80 -24,-86 22,59z"/>
<path color="#3e3859" d="M5406,848l25,87 -22,-59 -25,-87z"/><path color="#383257" d="M5381,763l25,85 -22,-59 -25,-81z"/><path color="#332d56" d="M5356,687l25,76 -22,-55 -25,-69z"/><path color="#3e3859" d="M5428,907l25,86 -22,-58 -25,-87z"/><path color="#383257" d="M5403,820l25,87 -22,-59 -25,-85z"/><path color="#332d56" d="M5378,738l25,82 -22,-57 -25,-76z"/><path class="m" d="M5378,738l25,82 25,87 25,86 -22,-58 -22,-59 -25,-87 -25,-81 -25,-69 22,48z"/>
<path color="#2d2754" d="M5330,625l26,62 -22,-48 -25,-52z"/><path color="#695ad7" d="M5306,584l24,41 -21,-38 -24,-29z"/><path color="#7462fc" d="M5282,566l24,18 -21,-26 -23,-5z"/><path color="#2d2754" d="M5353,669l25,69 -22,-51 -26,-62z"/><path color="#282253" d="M5328,616l25,53 -23,-44 -24,-41z"/><path color="#6555e5" d="M5303,586l25,30 -22,-32 -24,-18z"/><path class="m" d="M5303,586l25,30 25,53 25,69 -22,-51 -22,-48 -25,-52 -24,-29 -23,-5 20,13z"/>
<path color="#8862ca" d="M5260,575l22,-9 -20,-13 -22,22z"/><path color="#79456e" d="M5239,610l21,-35 -20,0 -20,47z"/><path color="#803f51" d="M5219,668l20,-58 -19,12 -18,69z"/><path color="#a778f7" d="M5280,582l23,4 -21,-20 -22,9z"/><path color="#945788" d="M5258,603l22,-21 -20,-7 -21,35z"/><path color="#874356" d="M5238,651l20,-48 -19,7 -20,58z"/><path class="m" d="M5238,651l20,-48 22,-21 23,4 -21,-20 -20,-13 -22,22 -20,47 -18,69 17,-23z"/>
<path color="#773344" d="M5201,747l18,-79 -17,23 -18,86z"/><path color="#722a3a" d="M5184,841l17,-94 -17,30 -16,99z"/><path color="#6e2232" d="M5168,944l16,-103 -16,35 -15,104z"/><path color="#7a3546" d="M5219,720l19,-69 -19,17 -18,79z"/><path color="#732b3b" d="M5201,808l18,-88 -18,27 -17,94z"/><path color="#6f2332" d="M5184,908l17,-100 -17,33 -16,103z"/><path class="m" d="M5184,908l17,-100 18,-88 19,-69 -19,17 -17,23 -18,86 -16,99 -15,104 15,-36z"/>
<path color="#6c1b2a" d="M5153,1049l15,-105 -15,36 -16,103z"/><path color="#6b1422" d="M5137,1151l16,-102 -16,34 -15,97z"/><path color="#6b0d1c" d="M5121,1243l16,-92 -15,29 -16,86z"/><path color="#6c1b2a" d="M5168,1013l16,-105 -16,36 -15,105z"/><path color="#6a1422" d="M5153,1118l15,-105 -15,36 -16,102z"/><path color="#6a0d1b" d="M5137,1216l16,-98 -16,33 -16,92z"/><path class="m" d="M5137,1216l16,-98 15,-105 16,-105 -16,36 -15,36 -16,103 -15,97 -16,86 15,-23z"/>
<path color="#60431f" d="M6083,510l17,22 -23,-13 -17,-9z"/><path color="#6d4920" d="M6066,509l17,1 -23,0 -18,12z"/><path color="#905d26" d="M6047,527l19,-18 -24,13 -18,29z"/><path color="#60431f" d="M6106,520l16,35 -22,-23 -17,-22z"/><path color="#60401c" d="M6089,505l17,15 -23,-10 -17,-1z"/><path color="#b57531" d="M6071,511l18,-6 -23,4 -19,18z"/><path class="m" d="M6071,511l18,-6 17,15 16,35 -22,-23 -23,-13 -17,-9 -18,12 -18,29 23,-24z"/>
<path color="#84521e" d="M6029,563l18,-36 -23,24 -19,43z"/><path color="#7f4b18" d="M6010,612l19,-49 -24,31 -18,52z"/><path color="#7d4613" d="M5991,668l19,-56 -23,34 -19,53z"/><path color="#8c5720" d="M6053,538l18,-27 -24,16 -18,36z"/><path color="#824d19" d="M6034,581l19,-43 -24,25 -19,49z"/><path color="#7d4713" d="M6015,636l19,-55 -24,31 -19,56z"/><path class="m" d="M6015,636l19,-55 19,-43 18,-27 -24,16 -23,24 -19,43 -18,52 -19,53 23,-31z"/>
<path color="#7f440e" d="M5972,724l19,-56 -23,31 -18,48z"/><path color="#88591d" d="M5954,775l18,-51 -22,23 -19,39z"/><path color="#a58b40" d="M5935,814l19,-39 -23,11 -18,24z"/><path color="#7d430e" d="M5996,696l19,-60 -24,32 -19,56z"/><path color="#81541b" d="M5977,755l19,-59 -24,28 -18,51z"/><path color="#8d7634" d="M5958,806l19,-51 -23,20 -19,39z"/><path class="m" d="M5958,806l19,-51 19,-59 19,-60 -24,32 -23,31 -18,48 -19,39 -18,24 22,4z"/>
<path color="#ffff91" d="M5917,838l18,-24 -22,-4 -18,9z"/><path color="#ffffb7" d="M5899,847l18,-9 -22,-19 -18,-7z"/><path color="#ffff82" d="M5881,840l18,7 -22,-35 -18,-20z"/><path color="#b1a954" d="M5939,846l19,-40 -23,8 -18,24z"/><path color="#ffff98" d="M5921,870l18,-24 -22,-8 -18,9z"/><path color="#ffffad" d="M5903,878l18,-8 -22,-23 -18,-7z"/><path class="m" d="M5903,878l18,-8 18,-24 19,-40 -23,8 -22,-4 -18,9 -18,-7 -18,-20 22,48z"/>
<path color="#ffff62" d="M5863,820l18,20 -22,-48 -18,-28z"/><path color="#ffff4f" d="M5844,793l19,27 -22,-56 -18,-30z"/><path color="#ffff43" d="M5826,764l18,29 -21,-59 -19,-26z"/><path color="#ffff75" d="M5884,871l19,7 -22,-38 -18,-20z"/><path color="#ffff55" d="M5866,851l18,20 -21,-51 -19,-27z"/><path color="#ffff42" d="M5848,824l18,27 -22,-58 -18,-29z"/><path class="m" d="M5848,824l18,27 18,20 19,7 -22,-38 -22,-48 -18,-28 -18,-30 -19,-26 22,56z"/>
<path color="#ffff59" d="M5807,741l19,23 -22,-56 -19,-16z"/><path color="#ffff96" d="M5788,728l19,13 -22,-49 -19,0z"/><path color="#ffffc9" d="M5769,732l19,-4 -22,-36 -19,18z"/><path color="#ffff50" d="M5829,797l19,27 -22,-60 -19,-23z"/><path color="#f7ff79" d="M5810,776l19,21 -22,-56 -19,-13z"/><path color="#fbffb3" d="M5791,766l19,10 -22,-48 -19,4z"/><path class="m" d="M5791,766l19,10 19,21 19,27 -22,-60 -22,-56 -19,-16 -19,0 -19,18 22,22z"/>
<path color="#8be064" d="M5750,754l19,-22 -22,-22 -19,37z"/><path color="#498c32" d="M5731,794l19,-40 -22,-7 -19,54z"/><path color="#387c27" d="M5712,850l19,-56 -22,7 -18,68z"/><path color="#eeffb6" d="M5772,773l19,-7 -22,-34 -19,22z"/><path color="#6ec451" d="M5752,797l20,-24 -22,-19 -19,40z"/><path color="#3e862c" d="M5733,840l19,-43 -21,-3 -19,56z"/><path class="m" d="M5733,840l19,-43 20,-24 19,-7 -22,-34 -22,-22 -19,37 -19,54 -18,68 21,-19z"/>
<path color="#2c7420" d="M5693,918l19,-68 -21,19 -19,74z"/><path color="#236f1b" d="M5675,992l18,-74 -21,25 -18,77z"/><path color="#286e35" d="M5656,1065l19,-73 -21,28 -18,72z"/><path color="#2f7822" d="M5714,898l19,-58 -21,10 -19,68z"/><path color="#24711c" d="M5695,966l19,-68 -21,20 -18,74z"/><path color="#286f35" d="M5677,1038l18,-72 -20,26 -19,73z"/><path class="m" d="M5677,1038l18,-72 19,-68 19,-58 -21,10 -21,19 -19,74 -18,77 -18,72 20,-27z"/>
<path color="#346f60" d="M5638,1132l18,-67 -20,27 -18,61z"/><path color="#3c7183" d="M5620,1187l18,-55 -20,21 -18,47z"/><path color="#3c788f" d="M5601,1226l19,-39 -20,13 -19,29z"/><path color="#336e5f" d="M5658,1107l19,-69 -21,27 -18,67z"/><path color="#3a6e7f" d="M5640,1169l18,-62 -20,25 -18,55z"/><path color="#377086" d="M5621,1217l19,-48 -20,18 -19,39z"/><path class="m" d="M5621,1217l19,-48 18,-62 19,-69 -21,27 -20,27 -18,61 -18,47 -19,29 20,-3z"/>
<path color="#51a7cd" d="M5582,1246l19,-20 -20,3 -19,8z"/><path color="#54c5fe" d="M5562,1246l20,0 -20,-9 -20,-12z"/><path color="#17425a" d="M5542,1224l20,22 -20,-21 -21,-33z"/><path color="#3d82a1" d="M5602,1248l19,-31 -20,9 -19,20z"/><path color="#51b8eb" d="M5583,1259l19,-11 -20,-2 -20,0z"/><path color="#40b0ed" d="M5563,1249l20,10 -21,-13 -20,-22z"/><path class="m" d="M5563,1249l20,10 19,-11 19,-31 -20,9 -20,3 -19,8 -20,-12 -21,-33 21,32z"/>
<path color="#123f5a" d="M5520,1182l22,42 -21,-32 -22,-52z"/><path color="#1e3d5a" d="M5498,1123l22,59 -21,-42 -22,-67z"/><path color="#323b5a" d="M5475,1050l23,73 -21,-50 -24,-80z"/><path color="#123f5a" d="M5542,1219l21,30 -21,-25 -22,-42z"/><path color="#1e3d5a" d="M5520,1169l22,50 -22,-37 -22,-59z"/><path color="#323b5a" d="M5497,1103l23,66 -22,-46 -23,-73z"/><path class="m" d="M5497,1103l23,66 22,50 21,30 -21,-25 -21,-32 -22,-52 -22,-67 -24,-80 22,57z"/>
<path color="#3e3859" d="M5451,966l24,84 -22,-57 -25,-86z"/><path color="#383257" d="M5426,879l25,87 -23,-59 -25,-87z"/><path color="#332d56" d="M5401,794l25,85 -23,-59 -25,-82z"/><path color="#3e3859" d="M5473,1025l24,78 -22,-53 -24,-84z"/><path color="#383257" d="M5449,939l24,86 -22,-59 -25,-87z"/><path color="#332d56" d="M5423,852l26,87 -23,-60 -25,-85z"/><path class="m" d="M5423,852l26,87 24,86 24,78 -22,-53 -22,-57 -25,-86 -25,-87 -25,-82 23,56z"/>
<path color="#2d2754" d="M5375,717l26,77 -23,-56 -25,-69z"/><path color="#282253" d="M5350,655l25,62 -22,-48 -25,-53z"/><path color="#5c4cd3" d="M5325,613l25,42 -22,-39 -25,-30z"/><path color="#2d2754" d="M5398,770l25,82 -22,-58 -26,-77z"/><path color="#282253" d="M5372,700l26,70 -23,-53 -25,-62z"/><path color="#221c51" d="M5347,647l25,53 -22,-45 -25,-42z"/><path class="m" d="M5347,647l25,53 26,70 25,82 -22,-58 -23,-56 -25,-69 -25,-53 -25,-30 22,27z"/>
<path color="#9c6dec" d="M5301,595l24,18 -22,-27 -23,-4z"/><path color="#c777b6" d="M5278,604l23,-9 -21,-13 -22,21z"/><path color="#954b60" d="M5257,639l21,-35 -20,-1 -20,48z"/><path color="#8b5fd5" d="M5323,616l24,31 -22,-34 -24,-18z"/><path color="#f191dd" d="M5299,611l24,5 -22,-21 -23,9z"/><path color="#b75f77" d="M5277,633l22,-22 -21,-7 -21,35z"/><path class="m" d="M5277,633l22,-22 24,5 24,31 -22,-34 -22,-27 -23,-4 -22,21 -20,48 19,-12z"/>
<path color="#7e3749" d="M5237,698l20,-59 -19,12 -19,69z"/><path color="#752c3c" d="M5218,778l19,-80 -18,22 -18,88z"/><path color="#702333" d="M5201,873l17,-95 -17,30 -17,100z"/><path color="#853b4d" d="M5256,681l21,-48 -20,6 -20,59z"/><path color="#782d3e" d="M5236,751l20,-70 -19,17 -19,80z"/><path color="#722433" d="M5218,840l18,-89 -18,27 -17,95z"/><path class="m" d="M5218,840l18,-89 20,-70 21,-48 -20,6 -19,12 -19,69 -18,88 -17,100 17,-35z"/>
<path color="#6d1b2a" d="M5185,977l16,-104 -17,35 -16,105z"/><path color="#6a1422" d="M5169,1084l16,-107 -17,36 -15,105z"/><path color="#690d1b" d="M5153,1187l16,-103 -16,34 -16,98z"/><path color="#6d1b2a" d="M5201,941l17,-101 -17,33 -16,104z"/><path color="#6a1422" d="M5185,1048l16,-107 -16,36 -16,107z"/><path color="#690d1b" d="M5169,1154l16,-106 -16,36 -16,103z"/><path class="m" d="M5169,1154l16,-106 16,-107 17,-101 -17,33 -17,35 -16,105 -15,105 -16,98 16,-29z"/>
<path color="#60431f" d="M6129,539l16,48 -23,-32 -16,-35z"/><path color="#60401c" d="M6113,511l16,28 -23,-19 -17,-15z"/><path color="#5f3d18" d="M6095,504l18,7 -24,-6 -18,6z"/><path color="#60431f" d="M6152,567l15,58 -22,-38 -16,-48z"/><path color="#60401c" d="M6136,526l16,41 -23,-28 -16,-28z"/><path color="#5f3d18" d="M6119,506l17,20 -23,-15 -18,-7z"/><path class="m" d="M6119,506l17,20 16,41 15,58 -22,-38 -23,-32 -16,-35 -17,-15 -18,6 24,-7z"/>
<path color="#a26526" d="M6077,519l18,-15 -24,7 -18,27z"/><path color="#88501a" d="M6058,553l19,-34 -24,19 -19,43z"/><path color="#804813" d="M6039,604l19,-51 -24,28 -19,55z"/><path color="#cc8031" d="M6101,508l18,-2 -24,-2 -18,15z"/><path color="#91571d" d="M6083,532l18,-24 -24,11 -19,34z"/><path color="#844b14" d="M6063,575l20,-43 -25,21 -19,51z"/><path class="m" d="M6063,575l20,-43 18,-24 18,-2 -24,-2 -24,7 -18,27 -19,43 -19,55 24,-32z"/>
<path color="#7c430e" d="M6019,664l20,-60 -24,32 -19,60z"/><path color="#7e521a" d="M6000,728l19,-64 -23,32 -19,59z"/><path color="#856f30" d="M5981,790l19,-62 -23,27 -19,51z"/><path color="#7e430e" d="M6044,632l19,-57 -24,29 -20,60z"/><path color="#7d511a" d="M6024,698l20,-66 -25,32 -19,64z"/><path color="#816b2f" d="M6004,765l20,-67 -24,30 -19,62z"/><path class="m" d="M6004,765l20,-67 20,-66 19,-57 -24,29 -24,32 -19,60 -19,59 -19,51 23,-16z"/>
<path color="#918b41" d="M5962,842l19,-52 -23,16 -19,40z"/><path color="#bbb352" d="M5943,882l19,-40 -23,4 -18,24z"/><path color="#ffff9d" d="M5925,906l18,-24 -22,-12 -18,8z"/><path color="#88823c" d="M5985,829l19,-64 -23,25 -19,52z"/><path color="#938c3c" d="M5966,882l19,-53 -23,13 -19,40z"/><path color="#c7bd50" d="M5947,921l19,-39 -23,0 -18,24z"/><path class="m" d="M5947,921l19,-39 19,-53 19,-64 -23,25 -23,16 -19,40 -18,24 -18,8 22,28z"/>
<path color="#ffff9e" d="M5906,913l19,-7 -22,-28 -19,-7z"/><path color="#ffff66" d="M5888,904l18,9 -22,-42 -18,-20z"/><path color="#ffff47" d="M5870,884l18,20 -22,-53 -18,-27z"/><path color="#ffffa0" d="M5928,944l19,-23 -22,-15 -19,7z"/><path color="#ffff8c" d="M5910,949l18,-5 -22,-31 -18,-9z"/><path color="#ffff55" d="M5892,939l18,10 -22,-45 -18,-20z"/><path class="m" d="M5892,939l18,10 18,-5 19,-23 -22,-15 -22,-28 -19,-7 -18,-20 -18,-27 22,60z"/>
<path color="#ffff4e" d="M5851,858l19,26 -22,-60 -19,-27z"/><path color="#e5ff6c" d="M5832,831l19,27 -22,-61 -19,-21z"/><path color="#d2ff8f" d="M5813,811l19,20 -22,-55 -19,-10z"/><path color="#ffff52" d="M5873,918l19,21 -22,-55 -19,-26z"/><path color="#dfff68" d="M5854,892l19,26 -22,-60 -19,-27z"/><path color="#beff7e" d="M5836,866l18,26 -22,-61 -19,-20z"/><path class="m" d="M5836,866l18,26 19,26 19,21 -22,-55 -22,-60 -19,-27 -19,-21 -19,-10 22,45z"/>
<path color="#f1ffb3" d="M5794,804l19,7 -22,-45 -19,7z"/><path color="#cbff9f" d="M5775,813l19,-9 -22,-31 -20,24z"/><path color="#57af41" d="M5755,841l20,-28 -23,-16 -19,43z"/><path color="#c5ff8b" d="M5816,848l20,18 -23,-55 -19,-7z"/><path color="#e3ffaf" d="M5797,842l19,6 -22,-44 -19,9z"/><path color="#a7ff86" d="M5777,854l20,-12 -22,-29 -20,28z"/><path class="m" d="M5777,854l20,-12 19,6 20,18 -23,-55 -22,-45 -19,7 -20,24 -19,43 22,1z"/>
<path color="#348126" d="M5736,885l19,-44 -22,-1 -19,58z"/><path color="#26751e" d="M5717,944l19,-59 -22,13 -19,68z"/><path color="#297036" d="M5698,1011l19,-67 -22,22 -18,72z"/><path color="#46a136" d="M5758,883l19,-29 -22,-13 -19,44z"/><path color="#2a7d21" d="M5738,928l20,-45 -22,2 -19,59z"/><path color="#2a7438" d="M5719,987l19,-59 -21,16 -19,67z"/><path class="m" d="M5719,987l19,-59 20,-45 19,-29 -22,-13 -22,-1 -19,58 -19,68 -18,72 21,-27z"/>
<path color="#336e5f" d="M5679,1080l19,-69 -21,27 -19,69z"/><path color="#396c7d" d="M5660,1145l19,-65 -21,27 -18,62z"/><path color="#356b80" d="M5641,1201l19,-56 -20,24 -19,48z"/><path color="#336f60" d="M5700,1052l19,-65 -21,24 -19,69z"/><path color="#396b7c" d="M5681,1118l19,-66 -21,28 -19,65z"/><path color="#33687d" d="M5662,1179l19,-61 -21,27 -19,56z"/><path class="m" d="M5662,1179l19,-61 19,-66 19,-65 -21,24 -21,27 -19,69 -18,62 -19,48 20,-16z"/>
<path color="#336f8a" d="M5622,1242l19,-41 -20,16 -19,31z"/><path color="#3e90b9" d="M5603,1264l19,-22 -20,6 -19,11z"/><path color="#45b5f3" d="M5583,1267l20,-3 -20,-5 -20,-10z"/><path color="#2f6982" d="M5643,1228l19,-49 -21,22 -19,41z"/><path color="#2f7192" d="M5624,1262l19,-34 -21,14 -19,22z"/><path color="#3c9bcf" d="M5604,1276l20,-14 -21,2 -20,3z"/><path class="m" d="M5604,1276l20,-14 19,-34 19,-49 -21,22 -20,16 -19,31 -19,11 -20,-10 20,18z"/>
<path color="#123f5a" d="M5563,1248l20,19 -20,-18 -21,-30z"/><path color="#1e3d5a" d="M5541,1210l22,38 -21,-29 -22,-50z"/><path color="#323b5a" d="M5519,1153l22,57 -21,-41 -23,-66z"/><path color="#33a5e9" d="M5584,1270l20,6 -21,-9 -20,-19z"/><path color="#1e3d5a" d="M5563,1244l21,26 -21,-22 -22,-38z"/><path color="#323b5a" d="M5541,1197l22,47 -22,-34 -22,-57z"/><path class="m" d="M5541,1197l22,47 21,26 20,6 -21,-9 -20,-18 -21,-30 -22,-50 -23,-66 22,50z"/>
<path color="#3e3859" d="M5496,1081l23,72 -22,-50 -24,-78z"/><path color="#383257" d="M5471,999l25,82 -23,-56 -24,-86z"/><path color="#332d56" d="M5446,912l25,87 -22,-60 -26,-87z"/><path color="#3e3859" d="M5518,1133l23,64 -22,-44 -23,-72z"/><path color="#383257" d="M5494,1057l24,76 -22,-52 -25,-82z"/><path color="#332d56" d="M5470,972l24,85 -23,-58 -25,-87z"/><path class="m" d="M5470,972l24,85 24,76 23,64 -22,-44 -22,-50 -24,-78 -24,-86 -26,-87 23,60z"/>
<path color="#2d2754" d="M5421,827l25,85 -23,-60 -25,-82z"/><path color="#282253" d="M5395,750l26,77 -23,-57 -26,-70z"/><path color="#221c51" d="M5370,687l25,63 -23,-50 -25,-53z"/><path color="#2d2754" d="M5444,886l26,86 -24,-60 -25,-85z"/><path color="#282253" d="M5419,804l25,82 -23,-59 -26,-77z"/><path color="#221c51" d="M5393,733l26,71 -24,-54 -25,-63z"/><path class="m" d="M5393,733l26,71 25,82 26,86 -24,-60 -23,-60 -25,-82 -26,-70 -25,-53 23,40z"/>
<path color="#7f56c5" d="M5345,644l25,43 -23,-40 -24,-31z"/><path color="#e585d1" d="M5320,626l25,18 -22,-28 -24,-5z"/><path color="#f583a3" d="M5297,634l23,-8 -21,-15 -22,22z"/><path color="#30204c" d="M5367,680l26,53 -23,-46 -25,-43z"/><path color="#cf75bc" d="M5342,648l25,32 -22,-36 -25,-18z"/><path color="#ff9dc4" d="M5319,643l23,5 -22,-22 -23,8z"/><path class="m" d="M5319,643l23,5 25,32 26,53 -23,-46 -23,-40 -24,-31 -24,-5 -22,22 20,1z"/>
<path color="#944357" d="M5276,670l21,-36 -20,-1 -21,48z"/><path color="#7d3041" d="M5255,729l21,-59 -20,11 -20,70z"/><path color="#742534" d="M5236,810l19,-81 -19,22 -18,89z"/><path color="#b7566e" d="M5296,665l23,-22 -22,-9 -21,36z"/><path color="#843345" d="M5275,713l21,-48 -20,5 -21,59z"/><path color="#772636" d="M5255,784l20,-71 -20,16 -19,81z"/><path class="m" d="M5255,784l20,-71 21,-48 23,-22 -22,-9 -20,-1 -21,48 -20,70 -18,89 18,-30z"/>
<path color="#6e1c2b" d="M5218,906l18,-96 -18,30 -17,101z"/><path color="#6b1422" d="M5202,1011l16,-105 -17,35 -16,107z"/><path color="#690d1b" d="M5185,1119l17,-108 -17,37 -16,106z"/><path color="#701c2b" d="M5236,873l19,-89 -19,26 -18,96z"/><path color="#6c1422" d="M5219,975l17,-102 -18,33 -16,105z"/><path color="#690d1b" d="M5202,1084l17,-109 -17,36 -17,108z"/><path class="m" d="M5202,1084l17,-109 17,-102 19,-89 -19,26 -18,30 -17,101 -16,107 -16,106 16,-35z"/>
<path color="#60431f" d="M6175,603l15,67 -23,-45 -15,-58z"/><path color="#60401c" d="M6160,551l15,52 -23,-36 -16,-41z"/><path color="#5f3d18" d="M6143,517l17,34 -24,-25 -17,-20z"/><path color="#60431f" d="M6198,645l14,74 -22,-49 -15,-67z"/><path color="#60401c" d="M6183,583l15,62 -23,-42 -15,-52z"/><path color="#5f3d18" d="M6167,538l16,45 -23,-32 -17,-34z"/><path class="m" d="M6167,538l16,45 15,62 14,74 -22,-49 -23,-45 -15,-58 -16,-41 -17,-20 24,11z"/>
<path color="#5e3a14" d="M6126,506l17,11 -24,-11 -18,2z"/><path color="#b56d26" d="M6107,518l19,-12 -25,2 -18,24z"/><path color="#8b4f16" d="M6088,551l19,-33 -24,14 -20,43z"/><path color="#5e3a14" d="M6150,513l17,25 -24,-21 -17,-11z"/><path color="#e18830" d="M6132,512l18,1 -24,-7 -19,12z"/><path color="#9d5a1b" d="M6113,533l19,-21 -25,6 -19,33z"/><path class="m" d="M6113,533l19,-21 18,1 17,25 -24,-21 -24,-11 -18,2 -18,24 -20,43 25,-24z"/>
<path color="#81450f" d="M6068,602l20,-51 -25,24 -19,57z"/><path color="#7e521a" d="M6048,666l20,-64 -24,30 -20,66z"/><path color="#806a2e" d="M6028,736l20,-70 -24,32 -20,67z"/><path color="#864810" d="M6094,576l19,-43 -25,18 -20,51z"/><path color="#80531b" d="M6074,635l20,-59 -26,26 -20,64z"/><path color="#806a2e" d="M6053,705l21,-70 -26,31 -20,70z"/><path class="m" d="M6053,705l21,-70 20,-59 19,-43 -25,18 -25,24 -19,57 -20,66 -20,67 24,-29z"/>
<path color="#837d3a" d="M6009,807l19,-71 -24,29 -19,64z"/><path color="#898236" d="M5989,872l20,-65 -24,22 -19,53z"/><path color="#968e36" d="M5970,925l19,-53 -23,10 -19,39z"/><path color="#817b39" d="M6033,780l20,-75 -25,31 -19,71z"/><path color="#837d34" d="M6013,853l20,-73 -24,27 -20,65z"/><path color="#8a8330" d="M5993,918l20,-65 -24,19 -19,53z"/><path class="m" d="M5993,918l20,-65 20,-73 20,-75 -25,31 -24,29 -19,64 -19,53 -19,39 23,4z"/>
<path color="#dad053" d="M5951,963l19,-38 -23,-4 -19,23z"/><path color="#ffff9e" d="M5932,984l19,-21 -23,-19 -18,5z"/><path color="#ffff76" d="M5914,987l18,-3 -22,-35 -18,-10z"/><path color="#9b9332" d="M5974,970l19,-52 -23,7 -19,38z"/><path color="#f3e856" d="M5955,1007l19,-37 -23,-7 -19,21z"/><path color="#ffff95" d="M5936,1025l19,-18 -23,-23 -18,3z"/><path class="m" d="M5936,1025l19,-18 19,-37 19,-52 -23,7 -23,-4 -19,23 -18,5 -18,-10 22,48z"/>
<path color="#ffff5e" d="M5895,976l19,11 -22,-48 -19,-21z"/><path color="#e3ff6a" d="M5877,954l18,22 -22,-58 -19,-26z"/><path color="#b6ff77" d="M5858,926l19,28 -23,-62 -18,-26z"/><path color="#ffff7b" d="M5917,1026l19,-1 -22,-38 -19,-11z"/><path color="#f1ff75" d="M5899,1012l18,14 -22,-50 -18,-22z"/><path color="#b7ff78" d="M5880,988l19,24 -22,-58 -19,-28z"/><path class="m" d="M5880,988l19,24 18,14 19,-1 -22,-38 -22,-48 -19,-21 -19,-26 -18,-26 22,60z"/>
<path color="#adff76" d="M5839,901l19,25 -22,-60 -20,-18z"/><path color="#b5ff85" d="M5819,883l20,18 -23,-53 -19,-6z"/><path color="#d0ffa7" d="M5800,879l19,4 -22,-41 -20,12z"/><path color="#a4ff6e" d="M5861,960l19,28 -22,-62 -19,-25z"/><path color="#9cff6e" d="M5842,934l19,26 -22,-59 -20,-18z"/><path color="#a3ff7c" d="M5823,917l19,17 -23,-51 -19,-4z"/><path class="m" d="M5823,917l19,17 19,26 19,28 -22,-62 -22,-60 -20,-18 -19,-6 -20,12 23,25z"/>
<path color="#86ff6e" d="M5780,892l20,-13 -23,-25 -19,29z"/><path color="#37962d" d="M5761,923l19,-31 -22,-9 -20,45z"/><path color="#2e7b3c" d="M5741,969l20,-46 -23,5 -19,59z"/><path color="#b9ff9b" d="M5803,914l20,3 -23,-38 -20,13z"/><path color="#67f059" d="M5783,928l20,-14 -23,-22 -19,31z"/><path color="#388e48" d="M5763,960l20,-32 -22,-5 -20,46z"/><path class="m" d="M5763,960l20,-32 20,-14 20,3 -23,-38 -23,-25 -19,29 -20,45 -19,59 22,-18z"/>
<path color="#357263" d="M5722,1026l19,-57 -22,18 -19,65z"/><path color="#396c7d" d="M5702,1090l20,-64 -22,26 -19,66z"/><path color="#32677c" d="M5683,1153l19,-63 -21,28 -19,61z"/><path color="#387868" d="M5744,1006l19,-46 -22,9 -19,57z"/><path color="#3a6e7f" d="M5724,1063l20,-57 -22,20 -20,64z"/><path color="#32677c" d="M5704,1124l20,-61 -22,27 -19,63z"/><path class="m" d="M5704,1124l20,-61 20,-57 19,-46 -22,9 -22,18 -19,65 -19,66 -19,61 21,-26z"/>
<path color="#2d657e" d="M5664,1208l19,-55 -21,26 -19,49z"/><path color="#2a6785" d="M5645,1251l19,-43 -21,20 -19,34z"/><path color="#2d7aa4" d="M5625,1277l20,-26 -21,11 -20,14z"/><path color="#2c637b" d="M5685,1183l19,-59 -21,29 -19,55z"/><path color="#27627f" d="M5666,1233l19,-50 -21,25 -19,43z"/><path color="#246588" d="M5646,1269l20,-36 -21,18 -20,26z"/><path class="m" d="M5646,1269l20,-36 19,-50 19,-59 -21,29 -21,26 -19,49 -19,34 -20,14 21,1z"/>
<path color="#339ede" d="M5605,1284l20,-7 -21,-1 -20,-6z"/><path color="#1e3d5a" d="M5584,1270l21,14 -21,-14 -21,-26z"/><path color="#323b5a" d="M5563,1235l21,35 -21,-26 -22,-47z"/><path color="#2981b6" d="M5626,1288l20,-19 -21,8 -20,7z"/><path color="#4e9ae0" d="M5606,1287l20,1 -21,-4 -21,-14z"/><path color="#323b5a" d="M5584,1265l22,22 -22,-17 -21,-35z"/><path class="m" d="M5584,1265l22,22 20,1 20,-19 -21,8 -21,-1 -20,-6 -21,-26 -22,-47 22,38z"/>
<path color="#3e3859" d="M5540,1181l23,54 -22,-38 -23,-64z"/><path color="#383257" d="M5517,1112l23,69 -22,-48 -24,-76z"/><path color="#332d56" d="M5493,1032l24,80 -23,-55 -24,-85z"/><path color="#3e3859" d="M5562,1223l22,42 -21,-30 -23,-54z"/><path color="#383257" d="M5540,1163l22,60 -22,-42 -23,-69z"/><path color="#332d56" d="M5516,1090l24,73 -23,-51 -24,-80z"/><path class="m" d="M5516,1090l24,73 22,60 22,42 -21,-30 -22,-38 -23,-64 -24,-76 -24,-85 23,60z"/>
<path color="#2d2754" d="M5468,946l25,86 -23,-60 -26,-86z"/><path color="#282253" d="M5442,862l26,84 -24,-60 -25,-82z"/><path color="#221c51" d="M5416,784l26,78 -23,-58 -26,-71z"/><path color="#2d2754" d="M5491,1007l25,83 -23,-58 -25,-86z"/><path color="#282253" d="M5466,922l25,85 -23,-61 -26,-84z"/><path color="#221c51" d="M5440,840l26,82 -24,-60 -26,-78z"/><path class="m" d="M5440,840l26,82 25,85 25,83 -23,-58 -23,-60 -26,-86 -25,-82 -26,-71 23,51z"/>
<path color="#30204c" d="M5391,721l25,63 -23,-51 -26,-53z"/><path color="#bf6bad" d="M5365,678l26,43 -24,-41 -25,-32z"/><path color="#ff90b6" d="M5341,659l24,19 -23,-30 -23,-5z"/><path color="#30204c" d="M5414,769l26,71 -24,-56 -25,-63z"/><path color="#492842" d="M5388,715l26,54 -23,-48 -26,-43z"/><path color="#fe7fa3" d="M5363,683l25,32 -23,-37 -24,-19z"/><path class="m" d="M5363,683l25,32 26,54 26,71 -24,-56 -23,-51 -26,-53 -25,-32 -23,-5 22,16z"/>
<path color="#f87999" d="M5317,667l24,-8 -22,-16 -23,22z"/><path color="#943b4f" d="M5295,702l22,-35 -21,-2 -21,48z"/><path color="#7b2839" d="M5274,762l21,-60 -20,11 -20,71z"/><path color="#ff8fb5" d="M5339,677l24,6 -22,-24 -24,8z"/><path color="#b94d65" d="M5316,699l23,-22 -22,-10 -22,35z"/><path color="#822b3d" d="M5294,746l22,-47 -21,3 -21,60z"/><path class="m" d="M5294,746l22,-47 23,-22 24,6 -22,-24 -22,-16 -23,22 -21,48 -20,71 19,-22z"/>
<path color="#721d2c" d="M5255,843l19,-81 -19,22 -19,89z"/><path color="#6d1423" d="M5236,941l19,-98 -19,30 -17,102z"/><path color="#690d1b" d="M5219,1047l17,-106 -17,34 -17,109z"/><path color="#751e2e" d="M5274,818l20,-72 -20,16 -19,81z"/><path color="#6e1524" d="M5255,908l19,-90 -19,25 -19,98z"/><path color="#6a0d1b" d="M5237,1011l18,-103 -19,33 -17,106z"/><path class="m" d="M5237,1011l18,-103 19,-90 20,-72 -20,16 -19,22 -19,89 -17,102 -17,109 17,-37z"/>
<path color="#60431f" d="M6221,693l13,79 -22,-53 -14,-74z"/><path color="#60401c" d="M6206,622l15,71 -23,-48 -15,-62z"/><path color="#5f3d18" d="M6191,566l15,56 -23,-39 -16,-45z"/><path color="#60431f" d="M6243,744l13,83 -22,-55 -13,-79z"/><path color="#60401c" d="M6230,667l13,77 -22,-51 -15,-71z"/><path color="#5f3d18" d="M6215,601l15,66 -24,-45 -15,-56z"/><path class="m" d="M6215,601l15,66 13,77 13,83 -22,-55 -22,-53 -14,-74 -15,-62 -16,-45 24,28z"/>
<path color="#5e3a14" d="M6175,529l16,37 -24,-28 -17,-25z"/><path color="#5e3710" d="M6157,514l18,15 -25,-16 -18,-1z"/><path color="#c67325" d="M6138,523l19,-9 -25,-2 -19,21z"/><path color="#5e3a14" d="M6199,553l16,48 -24,-35 -16,-37z"/><path color="#5e3710" d="M6182,525l17,28 -24,-24 -18,-15z"/><path color="#f78f2c" d="M6164,521l18,4 -25,-11 -19,9z"/><path class="m" d="M6164,521l18,4 17,28 16,48 -24,-35 -24,-28 -17,-25 -18,-1 -19,21 25,-10z"/>
<path color="#8e4e13" d="M6119,555l19,-32 -25,10 -19,43z"/><path color="#84561c" d="M6099,607l20,-52 -25,21 -20,59z"/><path color="#816b2f" d="M6079,673l20,-66 -25,28 -21,70z"/><path color="#a85d19" d="M6145,541l19,-20 -26,2 -19,32z"/><path color="#8a5a1e" d="M6125,583l20,-42 -26,14 -20,52z"/><path color="#846e30" d="M6104,643l21,-60 -26,24 -20,66z"/><path class="m" d="M6104,643l21,-60 20,-42 19,-20 -26,2 -25,10 -19,43 -20,59 -21,70 26,-32z"/>
<path color="#817b39" d="M6058,749l21,-76 -26,32 -20,75z"/><path color="#817b32" d="M6037,827l21,-78 -25,31 -20,73z"/><path color="#847d2d" d="M6017,902l20,-75 -24,26 -20,65z"/><path color="#817b39" d="M6083,717l21,-74 -25,30 -21,76z"/><path color="#807a32" d="M6063,798l20,-81 -25,32 -21,78z"/><path color="#807a2c" d="M6042,879l21,-81 -26,29 -20,75z"/><path class="m" d="M6042,879l21,-81 20,-81 21,-74 -25,30 -26,32 -20,75 -20,73 -20,65 24,-16z"/>
<path color="#8b842a" d="M5997,967l20,-65 -24,16 -19,52z"/><path color="#a39a2f" d="M5978,1018l19,-51 -23,3 -19,37z"/><path color="#ffff5a" d="M5959,1051l19,-33 -23,-11 -19,18z"/><path color="#847d27" d="M6022,954l20,-75 -25,23 -20,65z"/><path color="#8d8524" d="M6002,1018l20,-64 -25,13 -19,51z"/><path color="#ada42c" d="M5982,1066l20,-48 -24,0 -19,33z"/><path class="m" d="M5982,1066l20,-48 20,-64 20,-75 -25,23 -24,16 -19,52 -19,37 -19,18 23,26z"/>
<path color="#ffffa2" d="M5940,1066l19,-15 -23,-26 -19,1z"/><path color="#ffff8e" d="M5921,1064l19,2 -23,-40 -18,-14z"/><path color="#c1ff80" d="M5903,1048l18,16 -22,-52 -19,-24z"/><path color="#ffff74" d="M5963,1096l19,-30 -23,-15 -19,15z"/><path color="#ffffb9" d="M5944,1108l19,-12 -23,-30 -19,-2z"/><path color="#d9ff95" d="M5925,1102l19,6 -23,-44 -18,-16z"/><path class="m" d="M5925,1102l19,6 19,-12 19,-30 -23,-15 -23,-26 -19,1 -18,-14 -19,-24 23,60z"/>
<path color="#a2ff6d" d="M5884,1022l19,26 -23,-60 -19,-28z"/><path color="#90ff64" d="M5865,993l19,29 -23,-62 -19,-26z"/><path color="#88ff64" d="M5846,966l19,27 -23,-59 -19,-17z"/><path color="#a9ff72" d="M5907,1083l18,19 -22,-54 -19,-26z"/><path color="#8dff62" d="M5888,1054l19,29 -23,-61 -19,-29z"/><path color="#7dff5a" d="M5869,1023l19,31 -23,-61 -19,-27z"/><path class="m" d="M5869,1023l19,31 19,29 18,19 -22,-54 -23,-60 -19,-28 -19,-26 -19,-17 23,49z"/>
<path color="#8fff72" d="M5826,950l20,16 -23,-49 -20,-3z"/><path color="#9eff8b" d="M5806,947l20,3 -23,-36 -20,14z"/><path color="#60d676" d="M5786,962l20,-15 -23,-19 -20,32z"/><path color="#74ff59" d="M5849,996l20,27 -23,-57 -20,-16z"/><path color="#79ff66" d="M5829,979l20,17 -23,-46 -20,-3z"/><path color="#9dffbe" d="M5809,977l20,2 -23,-32 -20,15z"/><path class="m" d="M5809,977l20,2 20,17 20,27 -23,-57 -23,-49 -20,-3 -20,14 -20,32 23,2z"/>
<path color="#418675" d="M5766,994l20,-32 -23,-2 -19,46z"/><path color="#3d7385" d="M5746,1040l20,-46 -22,12 -20,57z"/><path color="#33697d" d="M5726,1095l20,-55 -22,23 -20,61z"/><path color="#63bea8" d="M5789,992l20,-15 -23,-15 -20,32z"/><path color="#447e91" d="M5769,1024l20,-32 -23,2 -20,46z"/><path color="#366d82" d="M5749,1069l20,-45 -23,16 -20,55z"/><path class="m" d="M5749,1069l20,-45 20,-32 20,-15 -23,-15 -23,-2 -19,46 -20,57 -20,61 22,-29z"/>
<path color="#2c627b" d="M5707,1153l19,-58 -22,29 -19,59z"/><path color="#265f7b" d="M5687,1208l20,-55 -22,30 -19,50z"/><path color="#215e80" d="M5667,1253l20,-45 -21,25 -20,36z"/><path color="#2c637c" d="M5729,1123l20,-54 -23,26 -19,58z"/><path color="#265e7a" d="M5709,1179l20,-56 -22,30 -20,55z"/><path color="#205b7b" d="M5689,1229l20,-50 -22,29 -20,45z"/><path class="m" d="M5689,1229l20,-50 20,-56 20,-54 -23,26 -22,29 -19,59 -19,50 -20,36 21,-16z"/>
<path color="#1f658f" d="M5647,1283l20,-30 -21,16 -20,19z"/><path color="#4587c3" d="M5627,1295l20,-12 -21,5 -20,-1z"/><path color="#323b5a" d="M5606,1287l21,8 -21,-8 -22,-22z"/><path color="#1b5b81" d="M5669,1269l20,-40 -22,24 -20,30z"/><path color="#366b9c" d="M5649,1293l20,-24 -22,14 -20,12z"/><path color="#7387cb" d="M5628,1298l21,-5 -22,2 -21,-8z"/><path class="m" d="M5628,1298l21,-5 20,-24 20,-40 -22,24 -21,16 -20,19 -20,-1 -22,-22 22,22z"/>
<path color="#3e3859" d="M5585,1257l21,30 -22,-22 -22,-42z"/><path color="#383257" d="M5562,1209l23,48 -23,-34 -22,-60z"/><path color="#332d56" d="M5539,1144l23,65 -22,-46 -24,-73z"/><path color="#3e3859" d="M5607,1283l21,15 -22,-11 -21,-30z"/><path color="#383257" d="M5585,1247l22,36 -22,-26 -23,-48z"/><path color="#332d56" d="M5562,1192l23,55 -23,-38 -23,-65z"/><path class="m" d="M5562,1192l23,55 22,36 21,15 -22,-11 -22,-22 -22,-42 -22,-60 -24,-73 23,54z"/>
<path color="#2d2754" d="M5515,1067l24,77 -23,-54 -25,-83z"/><path color="#282253" d="M5490,983l25,84 -24,-60 -25,-85z"/><path color="#221c51" d="M5464,899l26,84 -24,-61 -26,-82z"/><path color="#2d2754" d="M5538,1123l24,69 -23,-48 -24,-77z"/><path color="#282253" d="M5514,1044l24,79 -23,-56 -25,-84z"/><path color="#221c51" d="M5488,960l26,84 -24,-61 -26,-84z"/><path class="m" d="M5488,960l26,84 24,79 24,69 -23,-48 -23,-54 -25,-83 -25,-85 -26,-82 24,59z"/>
<path color="#30204c" d="M5438,822l26,77 -24,-59 -26,-71z"/><path color="#492842" d="M5412,759l26,63 -24,-53 -26,-54z"/><path color="#eb7496" d="M5386,715l26,44 -24,-44 -25,-32z"/><path color="#30204c" d="M5462,880l26,80 -24,-61 -26,-77z"/><path color="#492842" d="M5436,809l26,71 -24,-58 -26,-63z"/><path color="#5a2b38" d="M5410,754l26,55 -24,-50 -26,-44z"/><path class="m" d="M5410,754l26,55 26,71 26,80 -24,-61 -24,-59 -26,-71 -26,-54 -25,-32 23,32z"/>
<path color="#ff81a6" d="M5362,695l24,20 -23,-32 -24,-6z"/><path color="#ff7191" d="M5338,702l24,-7 -23,-18 -23,22z"/><path color="#953347" d="M5315,737l23,-35 -22,-3 -22,47z"/><path color="#fb7093" d="M5385,721l25,33 -24,-39 -24,-20z"/><path color="#ff82a7" d="M5360,714l25,7 -23,-26 -24,7z"/><path color="#bc465e" d="M5337,735l23,-21 -22,-12 -23,35z"/><path class="m" d="M5337,735l23,-21 25,7 25,33 -24,-39 -23,-32 -24,-6 -23,22 -22,47 21,-9z"/>
<path color="#7a2030" d="M5294,797l21,-60 -21,9 -20,72z"/><path color="#701625" d="M5274,879l20,-82 -20,21 -19,90z"/><path color="#6b0e1c" d="M5255,977l19,-98 -19,29 -18,103z"/><path color="#822334" d="M5314,782l23,-47 -22,2 -21,60z"/><path color="#741726" d="M5294,854l20,-72 -20,15 -20,82z"/><path color="#6d0e1c" d="M5274,945l20,-91 -20,25 -19,98z"/><path class="m" d="M5274,945l20,-91 20,-72 23,-47 -22,2 -21,9 -20,72 -19,90 -18,103 18,-34z"/>
<path color="#60431f" d="M6266,799l13,85 -23,-57 -13,-83z"/><path color="#60401c" d="M6253,717l13,82 -23,-55 -13,-77z"/><path color="#5f3d18" d="M6239,643l14,74 -23,-50 -15,-66z"/><path color="#60431f" d="M6289,856l12,84 -22,-56 -13,-85z"/><path color="#60401c" d="M6276,770l13,86 -23,-57 -13,-82z"/><path color="#5f3d18" d="M6262,691l14,79 -23,-53 -14,-74z"/><path class="m" d="M6262,691l14,79 13,86 12,84 -22,-56 -23,-57 -13,-83 -13,-77 -15,-66 24,42z"/>
<path color="#5e3a14" d="M6223,584l16,59 -24,-42 -16,-48z"/><path color="#5e3710" d="M6207,544l16,40 -24,-31 -17,-28z"/><path color="#5d340d" d="M6189,527l18,17 -25,-19 -18,-4z"/><path color="#5e3a14" d="M6248,623l14,68 -23,-48 -16,-59z"/><path color="#5e3710" d="M6232,571l16,52 -25,-39 -16,-40z"/><path color="#5d340d" d="M6215,541l17,30 -25,-27 -18,-17z"/><path class="m" d="M6215,541l17,30 16,52 14,68 -23,-48 -24,-42 -16,-48 -17,-28 -18,-4 25,6z"/>
<path color="#d57722" d="M6171,534l18,-7 -25,-6 -19,20z"/><path color="#946122" d="M6151,565l20,-31 -26,7 -20,42z"/><path color="#887132" d="M6130,617l21,-52 -26,18 -21,60z"/><path color="#ff9026" d="M6197,535l18,6 -26,-14 -18,7z"/><path color="#b5782d" d="M6177,553l20,-18 -26,-1 -20,31z"/><path color="#8f7735" d="M6157,595l20,-42 -26,12 -21,52z"/><path class="m" d="M6157,595l20,-42 20,-18 18,6 -26,-14 -25,-6 -19,20 -20,42 -21,60 26,-26z"/>
<path color="#837d3a" d="M6110,686l20,-69 -26,26 -21,74z"/><path color="#807a32" d="M6088,766l22,-80 -27,31 -20,81z"/><path color="#7f782b" d="M6067,850l21,-84 -25,32 -21,81z"/><path color="#86803b" d="M6136,657l21,-62 -27,22 -20,69z"/><path color="#817b32" d="M6115,733l21,-76 -26,29 -22,80z"/><path color="#7f782b" d="M6093,819l22,-86 -27,33 -21,84z"/><path class="m" d="M6093,819l22,-86 21,-76 21,-62 -27,22 -26,26 -21,74 -20,81 -21,81 25,-29z"/>
<path color="#807925" d="M6046,933l21,-83 -25,29 -20,75z"/><path color="#857d21" d="M6026,1008l20,-75 -24,21 -20,64z"/><path color="#8f871e" d="M6006,1069l20,-61 -24,10 -20,48z"/><path color="#7e7825" d="M6072,906l21,-87 -26,31 -21,83z"/><path color="#80791f" d="M6051,989l21,-83 -26,27 -20,75z"/><path color="#867e1a" d="M6030,1063l21,-74 -25,19 -20,61z"/><path class="m" d="M6030,1063l21,-74 21,-83 21,-87 -26,31 -25,29 -20,75 -20,64 -20,48 24,3z"/>
<path color="#abb338" d="M5986,1114l20,-45 -24,-3 -19,30z"/><path color="#ffffa1" d="M5967,1141l19,-27 -23,-18 -19,12z"/><path color="#ffffbd" d="M5948,1148l19,-7 -23,-33 -19,-6z"/><path color="#858c25" d="M6010,1121l20,-58 -24,6 -20,45z"/><path color="#a5cf56" d="M5991,1162l19,-41 -24,-7 -19,27z"/><path color="#ffffc5" d="M5971,1184l20,-22 -24,-21 -19,7z"/><path class="m" d="M5971,1184l20,-22 19,-41 20,-58 -24,6 -24,-3 -19,30 -19,12 -19,-6 23,46z"/>
<path color="#baff81" d="M5929,1138l19,10 -23,-46 -18,-19z"/><path color="#91ff65" d="M5911,1115l18,23 -22,-55 -19,-29z"/><path color="#79ff56" d="M5892,1084l19,31 -23,-61 -19,-31z"/><path color="#deffa2" d="M5952,1186l19,-2 -23,-36 -19,-10z"/><path color="#9cff6e" d="M5933,1172l19,14 -23,-48 -18,-23z"/><path color="#7aff57" d="M5915,1145l18,27 -22,-57 -19,-31z"/><path class="m" d="M5915,1145l18,27 19,14 19,-2 -23,-36 -23,-46 -18,-19 -19,-29 -19,-31 23,61z"/>
<path color="#68ff4f" d="M5872,1051l20,33 -23,-61 -20,-27z"/><path color="#5fff4d" d="M5853,1022l19,29 -23,-55 -20,-17z"/><path color="#7eff9f" d="M5833,1005l20,17 -24,-43 -20,-2z"/><path color="#64f84b" d="M5896,1110l19,35 -23,-61 -20,-33z"/><path color="#54f643" d="M5876,1075l20,35 -24,-59 -19,-29z"/><path color="#65ff83" d="M5856,1045l20,30 -23,-53 -20,-17z"/><path class="m" d="M5856,1045l20,30 20,35 19,35 -23,-61 -23,-61 -20,-27 -20,-17 -20,-2 24,28z"/>
<path color="#a7ffff" d="M5813,1003l20,2 -24,-28 -20,15z"/><path color="#61acc5" d="M5792,1019l21,-16 -24,-11 -20,32z"/><path color="#3b758c" d="M5772,1051l20,-32 -23,5 -20,45z"/><path color="#91fff9" d="M5836,1028l20,17 -23,-40 -20,-2z"/><path color="#9fffff" d="M5816,1026l20,2 -23,-25 -21,16z"/><path color="#5099b6" d="M5795,1041l21,-15 -24,-7 -20,32z"/><path class="m" d="M5795,1041l21,-15 20,2 20,17 -23,-40 -24,-28 -20,15 -20,32 -20,45 23,-18z"/>
<path color="#2e6780" d="M5752,1095l20,-44 -23,18 -20,54z"/><path color="#265e7a" d="M5731,1147l21,-52 -23,28 -20,56z"/><path color="#1f5979" d="M5711,1200l20,-53 -22,32 -20,50z"/><path color="#326e88" d="M5775,1073l20,-32 -23,10 -20,44z"/><path color="#27617d" d="M5754,1117l21,-44 -23,22 -21,52z"/><path color="#1f5979" d="M5734,1167l20,-50 -23,30 -20,53z"/><path class="m" d="M5734,1167l20,-50 21,-44 20,-32 -23,10 -23,18 -20,54 -20,56 -20,50 22,-29z"/>
<path color="#19577b" d="M5691,1247l20,-47 -22,29 -20,40z"/><path color="#2d5a83" d="M5671,1281l20,-34 -22,22 -20,24z"/><path color="#6070a9" d="M5650,1299l21,-18 -22,12 -21,5z"/><path color="#195478" d="M5713,1217l21,-50 -23,33 -20,47z"/><path color="#2a557c" d="M5693,1260l20,-43 -22,30 -20,34z"/><path color="#4c5986" d="M5672,1290l21,-30 -22,21 -21,18z"/><path class="m" d="M5672,1290l21,-30 20,-43 21,-50 -23,33 -22,29 -20,40 -20,24 -21,5 22,1z"/>
<path color="#3e3859" d="M5629,1298l21,1 -22,-1 -21,-15z"/><path color="#383257" d="M5607,1276l22,22 -22,-15 -22,-36z"/><path color="#332d56" d="M5585,1234l22,42 -22,-29 -23,-55z"/><path color="#7c70b1" d="M5651,1302l21,-12 -22,9 -21,-1z"/><path color="#383257" d="M5630,1295l21,7 -22,-4 -22,-22z"/><path color="#332d56" d="M5608,1267l22,28 -23,-19 -22,-42z"/><path class="m" d="M5608,1267l22,28 21,7 21,-12 -22,9 -22,-1 -21,-15 -22,-36 -23,-55 23,42z"/>
<path color="#2d2754" d="M5562,1175l23,59 -23,-42 -24,-69z"/><path color="#282253" d="M5537,1102l25,73 -24,-52 -24,-79z"/><path color="#221c51" d="M5512,1022l25,80 -23,-58 -26,-84z"/><path color="#2d2754" d="M5585,1220l23,47 -23,-33 -23,-59z"/><path color="#282253" d="M5561,1157l24,63 -23,-45 -25,-73z"/><path color="#221c51" d="M5537,1082l24,75 -24,-55 -25,-80z"/><path class="m" d="M5537,1082l24,75 24,63 23,47 -23,-33 -23,-42 -24,-69 -24,-79 -26,-84 24,62z"/>
<path color="#30204c" d="M5487,940l25,82 -24,-62 -26,-80z"/><path color="#492842" d="M5461,864l26,76 -25,-60 -26,-71z"/><path color="#5a2b38" d="M5435,800l26,64 -25,-55 -26,-55z"/><path color="#30204c" d="M5511,1002l26,80 -25,-60 -25,-82z"/><path color="#492842" d="M5485,923l26,79 -24,-62 -26,-76z"/><path color="#5a2b38" d="M5459,853l26,70 -24,-59 -26,-64z"/><path class="m" d="M5459,853l26,70 26,79 26,80 -25,-60 -24,-62 -26,-80 -26,-71 -26,-55 25,46z"/>
<path color="#e96687" d="M5409,756l26,44 -25,-46 -25,-33z"/><path color="#ff7195" d="M5383,735l26,21 -24,-35 -25,-7z"/><path color="#ff6989" d="M5359,741l24,-6 -23,-21 -23,21z"/><path color="#de6180" d="M5433,798l26,55 -24,-53 -26,-44z"/><path color="#f96284" d="M5407,764l26,34 -24,-42 -26,-21z"/><path color="#ff7499" d="M5382,756l25,8 -24,-29 -24,6z"/><path class="m" d="M5382,756l25,8 26,34 26,55 -24,-53 -25,-46 -25,-33 -25,-7 -23,21 22,6z"/>
<path color="#972c3f" d="M5336,775l23,-34 -22,-6 -23,47z"/><path color="#791928" d="M5314,834l22,-59 -22,7 -20,72z"/><path color="#6f0f1d" d="M5294,916l20,-82 -20,20 -20,91z"/><path color="#c44058" d="M5358,775l24,-19 -23,-15 -23,34z"/><path color="#811c2c" d="M5336,821l22,-46 -22,0 -22,59z"/><path color="#73101f" d="M5314,892l22,-71 -22,13 -20,82z"/><path class="m" d="M5314,892l22,-71 22,-46 24,-19 -23,-15 -22,-6 -23,47 -20,72 -20,91 20,-29z"/>
<path color="#60431f" d="M6311,913l12,83 -22,-56 -12,-84z"/><path color="#60401c" d="M6299,827l12,86 -22,-57 -13,-86z"/><path color="#5f3d18" d="M6286,743l13,84 -23,-57 -14,-79z"/><path color="#60431f" d="M6334,971l12,79 -23,-54 -12,-83z"/><path color="#60401c" d="M6322,885l12,86 -23,-58 -12,-86z"/><path color="#5f3d18" d="M6309,798l13,87 -23,-58 -13,-84z"/><path class="m" d="M6309,798l13,87 12,86 12,79 -23,-54 -22,-56 -12,-84 -13,-86 -14,-79 24,52z"/>
<path color="#5e3a14" d="M6272,667l14,76 -24,-52 -14,-68z"/><path color="#5e3710" d="M6257,605l15,62 -24,-44 -16,-52z"/><path color="#5d340d" d="M6240,563l17,42 -25,-34 -17,-30z"/><path color="#5e3a14" d="M6296,716l13,82 -23,-55 -14,-76z"/><path color="#5e3710" d="M6281,646l15,70 -24,-49 -15,-62z"/><path color="#5d340d" d="M6266,592l15,54 -24,-41 -17,-42z"/><path class="m" d="M6266,592l15,54 15,70 13,82 -23,-55 -24,-52 -14,-68 -16,-52 -17,-30 25,22z"/>
<path color="#5c3109" d="M6223,543l17,20 -25,-22 -18,-6z"/><path color="#e59a3b" d="M6204,549l19,-6 -26,-8 -20,18z"/><path color="#9d833c" d="M6184,579l20,-30 -27,4 -20,42z"/><path color="#5c3109" d="M6249,560l17,32 -26,-29 -17,-20z"/><path color="#ffb441" d="M6231,552l18,8 -26,-17 -19,6z"/><path color="#c2a34d" d="M6211,570l20,-18 -27,-3 -20,30z"/><path class="m" d="M6211,570l20,-18 18,8 17,32 -26,-29 -25,-22 -18,-6 -20,18 -20,42 27,-16z"/>
<path color="#8b853e" d="M6163,632l21,-53 -27,16 -21,62z"/><path color="#837d33" d="M6142,702l21,-70 -27,25 -21,76z"/><path color="#7f792b" d="M6120,786l22,-84 -27,31 -22,86z"/><path color="#938c42" d="M6190,612l21,-42 -27,9 -21,53z"/><path color="#868035" d="M6169,674l21,-62 -27,20 -21,70z"/><path color="#807a2c" d="M6147,753l22,-79 -27,28 -22,84z"/><path class="m" d="M6147,753l22,-79 21,-62 21,-42 -27,9 -27,16 -21,62 -21,76 -22,86 27,-33z"/>
<path color="#7e7724" d="M6098,875l22,-89 -27,33 -21,87z"/><path color="#7e771e" d="M6076,965l22,-90 -26,31 -21,83z"/><path color="#817919" d="M6055,1047l21,-82 -25,24 -21,74z"/><path color="#7e7724" d="M6125,843l22,-90 -27,33 -22,89z"/><path color="#7d761e" d="M6103,935l22,-92 -27,32 -22,90z"/><path color="#7e7618" d="M6081,1025l22,-90 -27,30 -21,82z"/><path class="m" d="M6081,1025l22,-90 22,-92 22,-90 -27,33 -27,33 -21,87 -21,83 -21,74 25,-16z"/>
<path color="#7b8120" d="M6035,1118l20,-71 -25,16 -20,58z"/><path color="#749537" d="M6014,1173l21,-55 -25,3 -19,41z"/><path color="#a5f476" d="M5995,1209l19,-36 -23,-11 -20,22z"/><path color="#757b1e" d="M6060,1106l21,-81 -26,22 -20,71z"/><path color="#67852d" d="M6039,1173l21,-67 -25,12 -21,55z"/><path color="#69a346" d="M6019,1223l20,-50 -25,0 -19,36z"/><path class="m" d="M6019,1223l20,-50 21,-67 21,-81 -26,22 -25,16 -20,58 -19,41 -20,22 24,25z"/>
<path color="#ffffc3" d="M5976,1225l19,-16 -24,-25 -19,2z"/><path color="#b6ff85" d="M5957,1222l19,3 -24,-39 -19,-14z"/><path color="#81ff5d" d="M5938,1202l19,20 -24,-50 -18,-27z"/><path color="#bbff8c" d="M5999,1253l20,-30 -24,-14 -19,16z"/><path color="#e0ffad" d="M5980,1263l19,-10 -23,-28 -19,-3z"/><path color="#91ff6c" d="M5961,1254l19,9 -23,-41 -19,-20z"/><path class="m" d="M5961,1254l19,9 19,-10 20,-30 -24,-14 -24,-25 -19,2 -19,-14 -18,-27 23,57z"/>
<path color="#64f84a" d="M5919,1171l19,31 -23,-57 -19,-35z"/><path color="#50ed3f" d="M5900,1133l19,38 -23,-61 -20,-35z"/><path color="#5aee76" d="M5880,1095l20,38 -24,-58 -20,-30z"/><path color="#67fe4e" d="M5942,1229l19,25 -23,-52 -19,-31z"/><path color="#4feb3e" d="M5923,1193l19,36 -23,-58 -19,-38z"/><path color="#55e471" d="M5904,1151l19,42 -23,-60 -20,-38z"/><path class="m" d="M5904,1151l19,42 19,36 19,25 -23,-52 -23,-57 -19,-35 -20,-35 -20,-30 24,50z"/>
<path color="#78f7d8" d="M5860,1064l20,31 -24,-50 -20,-17z"/><path color="#94ffff" d="M5840,1046l20,18 -24,-36 -20,-2z"/><path color="#7ee8ff" d="M5819,1044l21,2 -24,-20 -21,15z"/><path color="#6de5c7" d="M5884,1111l20,40 -24,-56 -20,-31z"/><path color="#7ee9ff" d="M5864,1079l20,32 -24,-47 -20,-18z"/><path color="#7cf0ff" d="M5844,1060l20,19 -24,-33 -21,-2z"/><path class="m" d="M5844,1060l20,19 20,32 20,40 -24,-56 -24,-50 -20,-17 -20,-2 -21,15 24,3z"/>
<path color="#4088a8" d="M5799,1060l20,-16 -24,-3 -20,32z"/><path color="#2a6684" d="M5778,1091l21,-31 -24,13 -21,44z"/><path color="#205b7b" d="M5757,1135l21,-44 -24,26 -20,50z"/><path color="#60c4f1" d="M5823,1059l21,1 -25,-16 -20,16z"/><path color="#32799c" d="M5802,1075l21,-16 -24,1 -21,31z"/><path color="#225f81" d="M5781,1106l21,-31 -24,16 -21,44z"/><path class="m" d="M5781,1106l21,-31 21,-16 21,1 -25,-16 -24,-3 -20,32 -21,44 -20,50 23,-32z"/>
<path color="#185477" d="M5736,1183l21,-48 -23,32 -21,50z"/><path color="#295278" d="M5716,1230l20,-47 -23,34 -20,43z"/><path color="#46537d" d="M5695,1269l21,-39 -23,30 -21,30z"/><path color="#195579" d="M5760,1149l21,-43 -24,29 -21,48z"/><path color="#285177" d="M5739,1196l21,-47 -24,34 -20,47z"/><path color="#445078" d="M5718,1241l21,-45 -23,34 -21,39z"/><path class="m" d="M5718,1241l21,-45 21,-47 21,-43 -24,29 -23,32 -21,50 -20,43 -21,30 23,-21z"/>
<path color="#62598d" d="M5674,1295l21,-26 -23,21 -21,12z"/><path color="#3c355d" d="M5653,1302l21,-7 -23,7 -21,-7z"/><path color="#332d56" d="M5631,1289l22,13 -23,-7 -22,-28z"/><path color="#574f7d" d="M5697,1276l21,-35 -23,28 -21,26z"/><path color="#5f5593" d="M5676,1297l21,-21 -23,19 -21,7z"/><path color="#332d56" d="M5654,1300l22,-3 -23,5 -22,-13z"/><path class="m" d="M5654,1300l22,-3 21,-21 21,-35 -23,28 -23,21 -21,12 -21,-7 -22,-28 23,22z"/>
<path color="#2d2754" d="M5608,1256l23,33 -23,-22 -23,-47z"/><path color="#282253" d="M5585,1205l23,51 -23,-36 -24,-63z"/><path color="#221c51" d="M5561,1139l24,66 -24,-48 -24,-75z"/><path color="#2d2754" d="M5632,1282l22,18 -23,-11 -23,-33z"/><path color="#282253" d="M5609,1245l23,37 -24,-26 -23,-51z"/><path color="#221c51" d="M5585,1191l24,54 -24,-40 -24,-66z"/><path class="m" d="M5585,1191l24,54 23,37 22,18 -23,-11 -23,-22 -23,-47 -24,-63 -24,-75 24,57z"/>
<path color="#30204c" d="M5536,1064l25,75 -24,-57 -26,-80z"/><path color="#492842" d="M5510,985l26,79 -25,-62 -26,-79z"/><path color="#5a2b38" d="M5484,910l26,75 -25,-62 -26,-70z"/><path color="#30204c" d="M5561,1123l24,68 -24,-52 -25,-75z"/><path color="#492842" d="M5535,1047l26,76 -25,-59 -26,-79z"/><path color="#5a2b38" d="M5510,971l25,76 -25,-62 -26,-75z"/><path class="m" d="M5510,971l25,76 26,76 24,68 -24,-52 -24,-57 -26,-80 -26,-79 -26,-70 25,57z"/>
<path color="#582532" d="M5458,847l26,63 -25,-57 -26,-55z"/><path color="#e85979" d="M5432,801l26,46 -25,-49 -26,-34z"/><path color="#ff6185" d="M5406,779l26,22 -25,-37 -25,-8z"/><path color="#582532" d="M5483,902l27,69 -26,-61 -26,-63z"/><path color="#dd5472" d="M5457,847l26,55 -25,-55 -26,-46z"/><path color="#f75374" d="M5431,812l26,35 -25,-46 -26,-22z"/><path class="m" d="M5431,812l26,35 26,55 27,69 -26,-61 -25,-57 -26,-55 -26,-34 -25,-8 24,23z"/>
<path color="#ff6384" d="M5381,784l25,-5 -24,-23 -24,19z"/><path color="#9b2539" d="M5358,816l23,-32 -23,-9 -22,46z"/><path color="#791221" d="M5336,875l22,-59 -22,5 -22,71z"/><path color="#ff668a" d="M5405,802l26,10 -25,-33 -25,5z"/><path color="#d43c55" d="M5381,819l24,-17 -24,-18 -23,32z"/><path color="#831626" d="M5358,864l23,-45 -23,-3 -22,59z"/><path class="m" d="M5358,864l23,-45 24,-17 26,10 -25,-33 -24,-23 -24,19 -22,46 -22,71 22,-17z"/>
<path color="#60431f" d="M6357,1027l12,75 -23,-52 -12,-79z"/><path color="#60401c" d="M6345,944l12,83 -23,-56 -12,-86z"/><path color="#5f3d18" d="M6332,856l13,88 -23,-59 -13,-87z"/><path color="#60431f" d="M6379,1083l13,68 -23,-49 -12,-75z"/><path color="#60401c" d="M6368,1002l11,81 -22,-56 -12,-83z"/><path color="#5f3d18" d="M6356,915l12,87 -23,-58 -13,-88z"/><path class="m" d="M6356,915l12,87 11,81 13,68 -23,-49 -23,-52 -12,-79 -12,-86 -13,-87 23,58z"/>
<path color="#5e3a14" d="M6320,770l12,86 -23,-58 -13,-82z"/><path color="#5e3710" d="M6306,692l14,78 -24,-54 -15,-70z"/><path color="#5d340d" d="M6291,628l15,64 -25,-46 -15,-54z"/><path color="#5e3a14" d="M6343,826l13,89 -24,-59 -12,-86z"/><path color="#5e3710" d="M6330,743l13,83 -23,-56 -14,-78z"/><path color="#5d340d" d="M6316,671l14,72 -24,-51 -15,-64z"/><path class="m" d="M6316,671l14,72 13,83 13,89 -24,-59 -23,-58 -13,-82 -15,-70 -15,-54 25,36z"/>
<path color="#5c3109" d="M6275,584l16,44 -25,-36 -17,-32z"/><path color="#5d3c12" d="M6257,563l18,21 -26,-24 -18,-8z"/><path color="#f8d165" d="M6238,568l19,-5 -26,-11 -20,18z"/><path color="#5c3109" d="M6301,615l15,56 -25,-43 -16,-44z"/><path color="#5d3c12" d="M6284,582l17,33 -26,-31 -18,-21z"/><path color="#ffee6d" d="M6265,573l19,9 -27,-19 -19,5z"/><path class="m" d="M6265,573l19,9 17,33 15,56 -25,-43 -25,-36 -17,-32 -18,-8 -20,18 27,-2z"/>
<path color="#a49d4c" d="M6218,597l20,-29 -27,2 -21,42z"/><path color="#8c8538" d="M6197,650l21,-53 -28,15 -21,62z"/><path color="#837c2d" d="M6175,723l22,-73 -28,24 -22,79z"/><path color="#cbc260" d="M6246,590l19,-17 -27,-5 -20,29z"/><path color="#938c3c" d="M6225,632l21,-42 -28,7 -21,53z"/><path color="#86802f" d="M6203,696l22,-64 -28,18 -22,73z"/><path class="m" d="M6203,696l22,-64 21,-42 19,-17 -27,-5 -27,2 -21,42 -21,62 -22,79 28,-30z"/>
<path color="#7e7825" d="M6152,809l23,-86 -28,30 -22,90z"/><path color="#7c751e" d="M6130,903l22,-94 -27,34 -22,92z"/><path color="#7c7517" d="M6107,997l23,-94 -27,32 -22,90z"/><path color="#807925" d="M6180,777l23,-81 -28,27 -23,86z"/><path color="#7d761e" d="M6157,869l23,-92 -28,32 -22,94z"/><path color="#7c7417" d="M6135,966l22,-97 -27,34 -23,94z"/><path class="m" d="M6135,966l22,-97 23,-92 23,-81 -28,27 -28,30 -22,90 -22,92 -22,90 26,-28z"/>
<path color="#72781c" d="M6086,1087l21,-90 -26,28 -21,81z"/><path color="#617e2a" d="M6064,1165l22,-78 -26,19 -21,67z"/><path color="#568937" d="M6044,1228l20,-63 -25,8 -20,50z"/><path color="#70761c" d="M6112,1061l23,-95 -28,31 -21,90z"/><path color="#5e7a28" d="M6090,1149l22,-88 -26,26 -22,78z"/><path color="#508132" d="M6069,1223l21,-74 -26,16 -20,63z"/><path class="m" d="M6069,1223l21,-74 22,-88 23,-95 -28,31 -26,28 -21,81 -21,67 -20,50 25,5z"/>
<path color="#6db44d" d="M6024,1271l20,-43 -25,-5 -20,30z"/><path color="#cfffa3" d="M6004,1295l20,-24 -25,-18 -19,10z"/><path color="#b3ff8b" d="M5985,1298l19,-3 -24,-32 -19,-9z"/><path color="#528d36" d="M6048,1280l21,-57 -25,5 -20,43z"/><path color="#7dd85d" d="M6028,1317l20,-37 -24,-9 -20,24z"/><path color="#ceffa7" d="M6009,1333l19,-16 -24,-22 -19,3z"/><path class="m" d="M6009,1333l19,-16 20,-37 21,-57 -25,5 -25,-5 -20,30 -19,10 -19,-9 24,44z"/>
<path color="#71ff56" d="M5966,1283l19,15 -24,-44 -19,-25z"/><path color="#51ef40" d="M5947,1252l19,31 -24,-54 -19,-36z"/><path color="#54e16f" d="M5928,1211l19,41 -24,-59 -19,-42z"/><path color="#86ff6a" d="M5990,1329l19,4 -24,-35 -19,-15z"/><path color="#56f945" d="M5971,1307l19,22 -24,-46 -19,-31z"/><path color="#54e36f" d="M5952,1270l19,37 -24,-55 -19,-41z"/><path class="m" d="M5952,1270l19,37 19,22 19,4 -24,-35 -24,-44 -19,-25 -19,-36 -19,-42 24,60z"/>
<path color="#67dbbf" d="M5908,1166l20,45 -24,-60 -20,-40z"/><path color="#73d8f9" d="M5888,1123l20,43 -24,-55 -20,-32z"/><path color="#6cd7ff" d="M5868,1090l20,33 -24,-44 -20,-19z"/><path color="#65d8bb" d="M5932,1224l20,46 -24,-59 -20,-45z"/><path color="#2a505d" d="M5913,1176l19,48 -24,-58 -20,-43z"/><path color="#254d5c" d="M5893,1131l20,45 -25,-53 -20,-33z"/><path class="m" d="M5893,1131l20,45 19,48 20,46 -24,-59 -24,-60 -20,-40 -20,-32 -20,-19 24,30z"/>
<path color="#66d8ff" d="M5847,1071l21,19 -24,-30 -21,-1z"/><path color="#47a5d4" d="M5826,1069l21,2 -24,-12 -21,16z"/><path color="#276c92" d="M5805,1086l21,-17 -24,6 -21,31z"/><path color="#5ac6f6" d="M5872,1096l21,35 -25,-41 -21,-19z"/><path color="#51c2fa" d="M5851,1077l21,19 -25,-25 -21,-2z"/><path color="#3691c3" d="M5830,1076l21,1 -25,-8 -21,17z"/><path class="m" d="M5830,1076l21,1 21,19 21,35 -25,-41 -24,-30 -21,-1 -21,16 -21,31 24,-20z"/>
<path color="#1a587e" d="M5784,1118l21,-32 -24,20 -21,43z"/><path color="#285278" d="M5763,1160l21,-42 -24,31 -21,47z"/><path color="#434e76" d="M5741,1206l22,-46 -24,36 -21,45z"/><path color="#1d6189" d="M5809,1094l21,-18 -25,10 -21,32z"/><path color="#2a547c" d="M5787,1126l22,-32 -25,24 -21,42z"/><path color="#434f77" d="M5766,1168l21,-42 -24,34 -22,46z"/><path class="m" d="M5766,1168l21,-42 22,-32 21,-18 -25,10 -24,20 -21,43 -21,47 -21,45 23,-35z"/>
<path color="#534b78" d="M5720,1248l21,-42 -23,35 -21,35z"/><path color="#50487c" d="M5699,1281l21,-33 -23,28 -21,21z"/><path color="#5b5099" d="M5677,1298l22,-17 -23,16 -22,3z"/><path color="#514975" d="M5744,1213l22,-45 -25,38 -21,42z"/><path color="#4c4476" d="M5723,1254l21,-41 -24,35 -21,33z"/><path color="#49417c" d="M5701,1284l22,-30 -24,27 -22,17z"/><path class="m" d="M5701,1284l22,-30 21,-41 22,-45 -25,38 -23,35 -21,35 -21,21 -22,3 23,-2z"/>
<path color="#2d2754" d="M5655,1297l22,1 -23,2 -22,-18z"/><path color="#282253" d="M5633,1275l22,22 -23,-15 -23,-37z"/><path color="#221c51" d="M5610,1234l23,41 -24,-30 -24,-54z"/><path color="#554a9e" d="M5679,1298l22,-14 -24,14 -22,-1z"/><path color="#282253" d="M5657,1293l22,5 -24,-1 -22,-22z"/><path color="#221c51" d="M5634,1268l23,25 -24,-18 -23,-41z"/><path class="m" d="M5634,1268l23,25 22,5 22,-14 -24,14 -23,2 -22,-18 -23,-37 -24,-54 25,43z"/>
<path color="#30204c" d="M5585,1177l25,57 -25,-43 -24,-68z"/><path color="#492842" d="M5561,1108l24,69 -24,-54 -26,-76z"/><path color="#5a2b38" d="M5535,1034l26,74 -26,-61 -25,-76z"/><path color="#30204c" d="M5610,1224l24,44 -24,-34 -25,-57z"/><path color="#492842" d="M5586,1166l24,58 -25,-47 -24,-69z"/><path color="#5a2b38" d="M5560,1097l26,69 -25,-58 -26,-74z"/><path class="m" d="M5560,1097l26,69 24,58 24,44 -24,-34 -25,-43 -24,-68 -26,-76 -25,-76 25,63z"/>
<path color="#582532" d="M5509,962l26,72 -25,-63 -27,-69z"/><path color="#57202c" d="M5482,900l27,62 -26,-60 -26,-55z"/><path color="#e64c6b" d="M5456,853l26,47 -25,-53 -26,-35z"/><path color="#582532" d="M5535,1026l25,71 -25,-63 -26,-72z"/><path color="#57202c" d="M5508,958l27,68 -26,-64 -27,-62z"/><path color="#dc4765" d="M5482,903l26,55 -26,-58 -26,-47z"/><path class="m" d="M5482,903l26,55 27,68 25,71 -25,-63 -25,-63 -27,-69 -26,-55 -26,-35 25,41z"/>
<path color="#ff5274" d="M5430,830l26,23 -25,-41 -26,-10z"/><path color="#ff5e7f" d="M5405,832l25,-2 -25,-28 -24,17z"/><path color="#a32034" d="M5381,862l24,-30 -24,-13 -23,45z"/><path color="#f54565" d="M5455,867l27,36 -26,-50 -26,-23z"/><path color="#ff567a" d="M5430,855l25,12 -25,-37 -25,2z"/><path color="#ed3d57" d="M5405,869l25,-14 -25,-23 -24,30z"/><path class="m" d="M5405,869l25,-14 25,12 27,36 -26,-50 -25,-41 -26,-10 -24,17 -23,45 23,-2z"/>
<path color="#60431f" d="M6403,1136l12,61 -23,-46 -13,-68z"/><path color="#60401c" d="M6391,1060l12,76 -24,-53 -11,-81z"/><path color="#5f3d18" d="M6379,975l12,85 -23,-58 -12,-87z"/><path color="#60431f" d="M6426,1186l13,53 -24,-42 -12,-61z"/><path color="#60401c" d="M6414,1116l12,70 -23,-50 -12,-76z"/><path color="#5f3d18" d="M6403,1035l11,81 -23,-56 -12,-85z"/><path class="m" d="M6403,1035l11,81 12,70 13,53 -24,-42 -23,-46 -13,-68 -11,-81 -12,-87 23,60z"/>
<path color="#5e3a14" d="M6367,886l12,89 -23,-60 -13,-89z"/><path color="#5e3710" d="M6355,798l12,88 -24,-60 -13,-83z"/><path color="#5d340d" d="M6341,718l14,80 -25,-55 -14,-72z"/><path color="#5e3a14" d="M6391,946l12,89 -24,-60 -12,-89z"/><path color="#5e3710" d="M6379,856l12,90 -24,-60 -12,-88z"/><path color="#5d340d" d="M6366,771l13,85 -24,-58 -14,-80z"/><path class="m" d="M6366,771l13,85 12,90 12,89 -24,-60 -23,-60 -13,-89 -13,-83 -14,-72 25,47z"/>
<path color="#5c3109" d="M6327,653l14,65 -25,-47 -15,-56z"/><path color="#5d3c12" d="M6310,607l17,46 -26,-38 -17,-33z"/><path color="#5f4f21" d="M6293,585l17,22 -26,-25 -19,-9z"/><path color="#5c3109" d="M6352,697l14,74 -25,-53 -14,-65z"/><path color="#5d3c12" d="M6337,640l15,57 -25,-44 -17,-46z"/><path color="#5f4f21" d="M6320,605l17,35 -27,-33 -17,-22z"/><path class="m" d="M6320,605l17,35 15,57 14,74 -25,-53 -25,-47 -15,-56 -17,-33 -19,-9 28,12z"/>
<path color="#fffb7e" d="M6274,589l19,-4 -28,-12 -19,17z"/><path color="#a7a046" d="M6253,619l21,-30 -28,1 -21,42z"/><path color="#8c8531" d="M6231,672l22,-53 -28,13 -22,64z"/><path color="#ffff86" d="M6302,596l18,9 -27,-20 -19,4z"/><path color="#d0c65a" d="M6282,612l20,-16 -28,-7 -21,30z"/><path color="#948d35" d="M6260,655l22,-43 -29,7 -22,53z"/><path class="m" d="M6260,655l22,-43 20,-16 18,9 -27,-20 -28,-12 -19,17 -21,42 -22,64 28,-24z"/>
<path color="#837c26" d="M6209,746l22,-74 -28,24 -23,81z"/><path color="#7e771e" d="M6186,835l23,-89 -29,31 -23,92z"/><path color="#7c7417" d="M6163,932l23,-97 -29,34 -22,97z"/><path color="#867f28" d="M6238,720l22,-65 -29,17 -22,74z"/><path color="#80781f" d="M6215,803l23,-83 -29,26 -23,89z"/><path color="#7c7517" d="M6191,898l24,-95 -29,32 -23,97z"/><path class="m" d="M6191,898l24,-95 23,-83 22,-65 -29,17 -28,24 -23,81 -23,92 -22,97 28,-34z"/>
<path color="#6f751b" d="M6140,1031l23,-99 -28,34 -23,95z"/><path color="#5c7827" d="M6117,1126l23,-95 -28,30 -22,88z"/><path color="#4c7c30" d="M6095,1210l22,-84 -27,23 -21,74z"/><path color="#6f741b" d="M6168,998l23,-100 -28,34 -23,99z"/><path color="#5b7626" d="M6145,1098l23,-100 -28,33 -23,95z"/><path color="#4a792e" d="M6122,1190l23,-92 -28,28 -22,84z"/><path class="m" d="M6122,1190l23,-92 23,-100 23,-100 -28,34 -28,34 -23,95 -22,88 -21,74 26,-13z"/>
<path color="#4a8230" d="M6074,1279l21,-69 -26,13 -21,57z"/><path color="#539a3b" d="M6053,1330l21,-51 -26,1 -20,37z"/><path color="#93ff75" d="M6033,1359l20,-29 -25,-13 -19,16z"/><path color="#467c2d" d="M6100,1270l22,-80 -27,20 -21,69z"/><path color="#45852f" d="M6079,1333l21,-63 -26,9 -21,51z"/><path color="#57ae42" d="M6058,1376l21,-43 -26,-3 -20,29z"/><path class="m" d="M6058,1376l21,-43 21,-63 22,-80 -27,20 -26,13 -21,57 -20,37 -19,16 24,26z"/>
<path color="#abff8d" d="M6014,1368l19,-9 -24,-26 -19,-4z"/><path color="#61ff4f" d="M5995,1356l19,12 -24,-39 -19,-22z"/><path color="#57e973" d="M5976,1327l19,29 -24,-49 -19,-37z"/><path color="#a6ff8c" d="M6038,1398l20,-22 -25,-17 -19,9z"/><path color="#7aff67" d="M6019,1398l19,0 -24,-30 -19,-12z"/><path color="#5ef67b" d="M6000,1379l19,19 -24,-42 -19,-29z"/><path class="m" d="M6000,1379l19,19 19,0 20,-22 -25,-17 -24,-26 -19,-4 -19,-22 -19,-37 24,57z"/>
<path color="#65d7bb" d="M5956,1284l20,43 -24,-57 -20,-46z"/><path color="#2a505d" d="M5937,1233l19,51 -24,-60 -19,-48z"/><path color="#254d5c" d="M5917,1181l20,52 -24,-57 -20,-45z"/><path color="#67dbbe" d="M5981,1342l19,37 -24,-52 -20,-43z"/><path color="#2a505d" d="M5962,1293l19,49 -25,-58 -19,-51z"/><path color="#254d5c" d="M5942,1237l20,56 -25,-60 -20,-52z"/><path class="m" d="M5942,1237l20,56 19,49 19,37 -24,-52 -24,-57 -20,-46 -19,-48 -20,-45 24,50z"/>
<path color="#20495b" d="M5897,1134l20,47 -24,-50 -21,-35z"/><path color="#1b465b" d="M5876,1099l21,35 -25,-38 -21,-19z"/><path color="#3eade9" d="M5855,1080l21,19 -25,-22 -21,-1z"/><path color="#20495b" d="M5922,1182l20,55 -25,-56 -20,-47z"/><path color="#1b465b" d="M5902,1133l20,49 -25,-48 -21,-35z"/><path color="#17425a" d="M5881,1098l21,35 -26,-34 -21,-19z"/><path class="m" d="M5881,1098l21,35 20,49 20,55 -25,-56 -24,-50 -21,-35 -21,-19 -21,-1 25,4z"/>
<path color="#277fb4" d="M5834,1080l21,0 -25,-4 -21,18z"/><path color="#2d5a84" d="M5812,1099l22,-19 -25,14 -22,32z"/><path color="#45517a" d="M5790,1132l22,-33 -25,27 -21,42z"/><path color="#123f5a" d="M5859,1080l22,18 -26,-18 -21,0z"/><path color="#3a73a8" d="M5838,1082l21,-2 -25,0 -22,19z"/><path color="#495581" d="M5816,1102l22,-20 -26,17 -22,33z"/><path class="m" d="M5816,1102l22,-20 21,-2 22,18 -26,-18 -25,-4 -21,18 -22,32 -21,42 24,-36z"/>
<path color="#514975" d="M5768,1175l22,-43 -24,36 -22,45z"/><path color="#4a4273" d="M5747,1219l21,-44 -24,38 -21,41z"/><path color="#453d75" d="M5725,1259l22,-40 -24,35 -22,30z"/><path color="#534b78" d="M5794,1137l22,-35 -26,30 -22,43z"/><path color="#4a4273" d="M5772,1180l22,-43 -26,38 -21,44z"/><path color="#433b71" d="M5749,1225l23,-45 -25,39 -22,40z"/><path class="m" d="M5749,1225l23,-45 22,-43 22,-35 -26,30 -24,36 -22,45 -21,41 -22,30 24,-25z"/>
<path color="#433a7d" d="M5703,1286l22,-27 -24,25 -22,14z"/><path color="#2e2760" d="M5681,1298l22,-12 -24,12 -22,-5z"/><path color="#221c51" d="M5658,1290l23,8 -24,-5 -23,-25z"/><path color="#3e3674" d="M5727,1263l22,-38 -24,34 -22,27z"/><path color="#3e3581" d="M5705,1289l22,-26 -24,23 -22,12z"/><path color="#483ca7" d="M5683,1298l22,-9 -24,9 -23,-8z"/><path class="m" d="M5683,1298l22,-9 22,-26 22,-38 -24,34 -24,25 -22,14 -22,-5 -23,-25 24,22z"/>
<path color="#30204c" d="M5635,1262l23,28 -24,-22 -24,-44z"/><path color="#492842" d="M5611,1216l24,46 -25,-38 -24,-58z"/><path color="#5a2b38" d="M5586,1157l25,59 -25,-50 -26,-69z"/><path color="#30204c" d="M5660,1288l23,10 -25,-8 -23,-28z"/><path color="#492842" d="M5636,1258l24,30 -25,-26 -24,-46z"/><path color="#5a2b38" d="M5612,1211l24,47 -25,-42 -25,-59z"/><path class="m" d="M5612,1211l24,47 24,30 23,10 -25,-8 -24,-22 -24,-44 -24,-58 -26,-69 26,60z"/>
<path color="#582532" d="M5560,1090l26,67 -26,-60 -25,-71z"/><path color="#57202c" d="M5534,1022l26,68 -25,-64 -27,-68z"/><path color="#d74562" d="M5508,961l26,61 -26,-64 -26,-55z"/><path color="#582532" d="M5586,1152l26,59 -26,-54 -26,-67z"/><path color="#57202c" d="M5561,1087l25,65 -26,-62 -26,-68z"/><path color="#d44461" d="M5534,1023l27,64 -27,-65 -26,-61z"/><path class="m" d="M5534,1023l27,64 25,65 26,59 -26,-54 -26,-60 -25,-71 -27,-68 -26,-55 26,58z"/>
<path color="#e63e5d" d="M5481,914l27,47 -26,-58 -27,-36z"/><path color="#ff4263" d="M5455,888l26,26 -26,-47 -25,-12z"/><path color="#ff587a" d="M5429,887l26,1 -25,-33 -25,14z"/><path color="#dd3b58" d="M5508,969l26,54 -26,-62 -27,-47z"/><path color="#f43756" d="M5481,931l27,38 -27,-55 -26,-26z"/><path color="#ff4769" d="M5455,916l26,15 -26,-43 -26,-1z"/><path class="m" d="M5455,916l26,15 27,38 26,54 -26,-62 -26,-58 -27,-36 -25,-12 -25,14 24,18z"/>
<path color="#60431f" d="M6450,1232l13,44 -24,-37 -13,-53z"/><path color="#60401c" d="M6438,1170l12,62 -24,-46 -12,-70z"/><path color="#5f3d18" d="M6426,1093l12,77 -24,-54 -11,-81z"/><path color="#60431f" d="M6474,1275l14,34 -25,-33 -13,-44z"/><path color="#60401c" d="M6462,1221l12,54 -24,-43 -12,-62z"/><path color="#5f3d18" d="M6450,1151l12,70 -24,-51 -12,-77z"/><path class="m" d="M6450,1151l12,70 12,54 14,34 -25,-33 -24,-37 -13,-53 -12,-70 -11,-81 23,58z"/>
<path color="#5e3a14" d="M6415,1007l11,86 -23,-58 -12,-89z"/><path color="#5e3710" d="M6403,917l12,90 -24,-61 -12,-90z"/><path color="#5d340d" d="M6391,827l12,90 -24,-61 -13,-85z"/><path color="#5e3a14" d="M6439,1068l11,83 -24,-58 -11,-86z"/><path color="#5e3710" d="M6427,978l12,90 -24,-61 -12,-90z"/><path color="#5d340d" d="M6416,887l11,91 -24,-61 -12,-90z"/><path class="m" d="M6416,887l11,91 12,90 11,83 -24,-58 -23,-58 -12,-89 -12,-90 -13,-85 25,56z"/>
<path color="#5c3109" d="M6378,746l13,81 -25,-56 -14,-74z"/><path color="#5d3c12" d="M6363,680l15,66 -26,-49 -15,-57z"/><path color="#5f4f21" d="M6347,633l16,47 -26,-40 -17,-35z"/><path color="#5c3109" d="M6403,800l13,87 -25,-60 -13,-81z"/><path color="#5d3c12" d="M6390,725l13,75 -25,-54 -15,-66z"/><path color="#5f4f21" d="M6374,667l16,58 -27,-45 -16,-47z"/><path class="m" d="M6374,667l16,58 13,75 13,87 -25,-60 -25,-56 -14,-74 -15,-57 -17,-35 27,28z"/>
<path color="#605c29" d="M6330,610l17,23 -27,-28 -18,-9z"/><path color="#ffff75" d="M6310,613l20,-3 -28,-14 -20,16z"/><path color="#aaa140" d="M6289,643l21,-30 -28,-1 -22,43z"/><path color="#605c29" d="M6358,631l16,36 -27,-34 -17,-23z"/><path color="#ffff78" d="M6339,621l19,10 -28,-21 -20,3z"/><path color="#d3c952" d="M6319,637l20,-16 -29,-8 -21,30z"/><path class="m" d="M6319,637l20,-16 19,10 16,36 -27,-34 -27,-28 -18,-9 -20,16 -22,43 29,-12z"/>
<path color="#8c842a" d="M6267,697l22,-54 -29,12 -22,65z"/><path color="#827b20" d="M6244,772l23,-75 -29,23 -23,83z"/><path color="#7d7618" d="M6220,863l24,-91 -29,31 -24,95z"/><path color="#948c2e" d="M6297,680l22,-43 -30,6 -22,54z"/><path color="#867e21" d="M6274,746l23,-66 -30,17 -23,75z"/><path color="#7f7818" d="M6250,831l24,-85 -30,26 -24,91z"/><path class="m" d="M6250,831l24,-85 23,-66 22,-43 -30,6 -29,12 -22,65 -23,83 -24,95 29,-35z"/>
<path color="#6f751b" d="M6197,964l23,-101 -29,35 -23,100z"/><path color="#5a7626" d="M6173,1066l24,-102 -29,34 -23,100z"/><path color="#49772d" d="M6150,1165l23,-99 -28,32 -23,92z"/><path color="#70751c" d="M6226,928l24,-97 -30,32 -23,101z"/><path color="#5a7526" d="M6202,1032l24,-104 -29,36 -24,102z"/><path color="#48762d" d="M6178,1135l24,-103 -29,34 -23,99z"/><path class="m" d="M6178,1135l24,-103 24,-104 24,-97 -30,32 -29,35 -23,100 -23,100 -23,92 28,-25z"/>
<path color="#44792b" d="M6127,1254l23,-89 -28,25 -22,80z"/><path color="#407d2b" d="M6105,1328l22,-74 -27,16 -21,63z"/><path color="#418a2f" d="M6084,1384l21,-56 -26,5 -21,43z"/><path color="#42762a" d="M6155,1232l23,-97 -28,30 -23,89z"/><path color="#3d7929" d="M6132,1316l23,-84 -28,22 -22,74z"/><path color="#3a8029" d="M6110,1384l22,-68 -27,12 -21,56z"/><path class="m" d="M6110,1384l22,-68 23,-84 23,-97 -28,30 -28,25 -22,80 -21,63 -21,43 26,8z"/>
<path color="#66d553" d="M6064,1419l20,-35 -26,-8 -20,22z"/><path color="#9aff86" d="M6044,1432l20,-13 -26,-21 -19,0z"/><path color="#6dff8c" d="M6024,1424l20,8 -25,-34 -19,-19z"/><path color="#439a34" d="M6089,1432l21,-48 -26,0 -20,35z"/><path color="#7cff6c" d="M6069,1458l20,-26 -25,-13 -20,13z"/><path color="#89ffaa" d="M6049,1462l20,-4 -25,-26 -20,-8z"/><path class="m" d="M6049,1462l20,-4 20,-26 21,-48 -26,0 -26,-8 -20,22 -19,0 -19,-19 24,45z"/>
<path color="#6ce3c6" d="M6005,1396l19,28 -24,-45 -19,-37z"/><path color="#2a505d" d="M5986,1352l19,44 -24,-54 -19,-49z"/><path color="#254d5c" d="M5967,1297l19,55 -24,-59 -20,-56z"/><path color="#75f3d4" d="M6030,1444l19,18 -25,-38 -19,-28z"/><path color="#6fd1f1" d="M6011,1408l19,36 -25,-48 -19,-44z"/><path color="#254d5c" d="M5992,1357l19,51 -25,-56 -19,-55z"/><path class="m" d="M5992,1357l19,51 19,36 19,18 -25,-38 -24,-45 -19,-37 -19,-49 -20,-56 25,60z"/>
<path color="#20495b" d="M5947,1237l20,60 -25,-60 -20,-55z"/><path color="#1b465b" d="M5927,1179l20,58 -25,-55 -20,-49z"/><path color="#17425a" d="M5907,1129l20,50 -25,-46 -21,-35z"/><path color="#20495b" d="M5973,1296l19,61 -25,-60 -20,-60z"/><path color="#1b465b" d="M5953,1232l20,64 -26,-59 -20,-58z"/><path color="#17425a" d="M5933,1172l20,60 -26,-53 -20,-50z"/><path class="m" d="M5933,1172l20,60 20,64 19,61 -25,-60 -25,-60 -20,-55 -20,-49 -21,-35 26,31z"/>
<path color="#123f5a" d="M5885,1094l22,35 -26,-31 -22,-18z"/><path color="#1e3d5a" d="M5864,1078l21,16 -26,-14 -21,2z"/><path color="#59689d" d="M5842,1082l22,-4 -26,4 -22,20z"/><path color="#123f5a" d="M5912,1122l21,50 -26,-43 -22,-35z"/><path color="#1e3d5a" d="M5890,1088l22,34 -27,-28 -21,-16z"/><path color="#323b5a" d="M5868,1074l22,14 -26,-10 -22,4z"/><path class="m" d="M5868,1074l22,14 22,34 21,50 -26,-43 -26,-31 -22,-18 -21,2 -22,20 26,-20z"/>
<path color="#574f7d" d="M5819,1104l23,-22 -26,20 -22,35z"/><path color="#4b4375" d="M5797,1141l22,-37 -25,33 -22,43z"/><path color="#433b71" d="M5775,1185l22,-44 -25,39 -23,45z"/><path color="#665c93" d="M5846,1081l22,-7 -26,8 -23,22z"/><path color="#4e467a" d="M5823,1106l23,-25 -27,23 -22,37z"/><path color="#433b72" d="M5800,1145l23,-39 -26,35 -22,44z"/><path class="m" d="M5800,1145l23,-39 23,-25 22,-7 -26,8 -26,20 -22,35 -22,43 -23,45 26,-40z"/>
<path color="#3c3470" d="M5752,1230l23,-45 -26,40 -22,38z"/><path color="#382f73" d="M5730,1268l22,-38 -25,33 -22,26z"/><path color="#392f86" d="M5707,1293l23,-25 -25,21 -22,9z"/><path color="#3b346f" d="M5778,1191l22,-46 -25,40 -23,45z"/><path color="#352d6f" d="M5755,1237l23,-46 -26,39 -22,38z"/><path color="#312873" d="M5732,1275l23,-38 -25,31 -23,25z"/><path class="m" d="M5732,1275l23,-38 23,-46 22,-46 -25,40 -26,40 -22,38 -22,26 -22,9 24,-5z"/>
<path color="#6a47a4" d="M5684,1300l23,-7 -24,5 -23,-10z"/><path color="#492842" d="M5661,1288l23,12 -24,-12 -24,-30z"/><path color="#5a2b38" d="M5637,1257l24,31 -25,-30 -24,-47z"/><path color="#553985" d="M5710,1299l22,-24 -25,18 -23,7z"/><path color="#ad619d" d="M5686,1305l24,-6 -26,1 -23,-12z"/><path color="#e87293" d="M5663,1292l23,13 -25,-17 -24,-31z"/><path class="m" d="M5663,1292l23,13 24,-6 22,-24 -25,18 -24,5 -23,-10 -24,-30 -24,-47 25,46z"/>
<path color="#582532" d="M5612,1210l25,47 -25,-46 -26,-59z"/><path color="#57202c" d="M5587,1152l25,58 -26,-58 -25,-65z"/><path color="#d34461" d="M5561,1090l26,62 -26,-65 -27,-64z"/><path color="#df6181" d="M5638,1260l25,32 -26,-35 -25,-47z"/><path color="#d85270" d="M5613,1213l25,47 -26,-50 -25,-58z"/><path color="#d64562" d="M5588,1157l25,56 -26,-61 -26,-62z"/><path class="m" d="M5588,1157l25,56 25,47 25,32 -26,-35 -25,-46 -26,-59 -25,-65 -27,-64 27,67z"/>
<path color="#d83956" d="M5534,1031l27,59 -27,-67 -26,-54z"/><path color="#e6314f" d="M5508,984l26,47 -26,-62 -27,-38z"/><path color="#ff3353" d="M5481,955l27,29 -27,-53 -26,-15z"/><path color="#d73955" d="M5561,1098l27,59 -27,-67 -27,-59z"/><path color="#df2f4c" d="M5535,1045l26,53 -27,-67 -26,-47z"/><path color="#f32a48" d="M5508,1006l27,39 -27,-61 -27,-29z"/><path class="m" d="M5508,1006l27,39 26,53 27,59 -27,-67 -27,-67 -26,-54 -27,-38 -26,-15 26,39z"/>
<path color="#60431f" d="M6499,1313l15,24 -26,-28 -14,-34z"/><path color="#60401c" d="M6486,1268l13,45 -25,-38 -12,-54z"/><path color="#5f3d18" d="M6474,1205l12,63 -24,-47 -12,-70z"/><path color="#60431f" d="M6525,1346l15,13 -26,-22 -15,-24z"/><path color="#60401c" d="M6511,1311l14,35 -26,-33 -13,-45z"/><path color="#5f3d18" d="M6499,1257l12,54 -25,-43 -12,-63z"/><path class="m" d="M6499,1257l12,54 14,35 15,13 -26,-22 -26,-28 -14,-34 -12,-54 -12,-70 24,54z"/>
<path color="#5e3a14" d="M6463,1128l11,77 -24,-54 -11,-83z"/><path color="#5e3710" d="M6452,1041l11,87 -24,-60 -12,-90z"/><path color="#5d340d" d="M6440,949l12,92 -25,-63 -11,-91z"/><path color="#5e3a14" d="M6487,1186l12,71 -25,-52 -11,-77z"/><path color="#5e3710" d="M6476,1103l11,83 -24,-58 -11,-87z"/><path color="#5d340d" d="M6465,1012l11,91 -24,-62 -12,-92z"/><path class="m" d="M6465,1012l11,91 11,83 12,71 -25,-52 -24,-54 -11,-83 -12,-90 -11,-91 24,62z"/>
<path color="#5c3109" d="M6429,858l11,91 -24,-62 -13,-87z"/><path color="#5d3c12" d="M6416,776l13,82 -26,-58 -13,-75z"/><path color="#5f4f21" d="M6401,708l15,68 -26,-51 -16,-58z"/><path color="#5c3109" d="M6454,919l11,93 -25,-63 -11,-91z"/><path color="#5d3c12" d="M6442,831l12,88 -25,-61 -13,-82z"/><path color="#5f4f21" d="M6428,754l14,77 -26,-55 -15,-68z"/><path class="m" d="M6428,754l14,77 12,88 11,93 -25,-63 -24,-62 -13,-87 -13,-75 -16,-58 27,41z"/>
<path color="#605c29" d="M6385,660l16,48 -27,-41 -16,-36z"/><path color="#605b24" d="M6368,636l17,24 -27,-29 -19,-10z"/><path color="#ffff6b" d="M6348,639l20,-3 -29,-15 -20,16z"/><path color="#605c29" d="M6413,695l15,59 -27,-46 -16,-48z"/><path color="#605b24" d="M6396,658l17,37 -28,-35 -17,-24z"/><path color="#ffff6a" d="M6378,647l18,11 -28,-22 -20,3z"/><path class="m" d="M6378,647l18,11 17,37 15,59 -27,-46 -27,-41 -16,-36 -19,-10 -20,16 29,2z"/>
<path color="#aba339" d="M6327,669l21,-30 -29,-2 -22,43z"/><path color="#8c8424" d="M6304,724l23,-55 -30,11 -23,66z"/><path color="#827a19" d="M6281,801l23,-77 -30,22 -24,85z"/><path color="#d6cb4a" d="M6357,664l21,-17 -30,-8 -21,30z"/><path color="#948c27" d="M6335,707l22,-43 -30,5 -23,55z"/><path color="#867e1b" d="M6311,775l24,-68 -31,17 -23,77z"/><path class="m" d="M6311,775l24,-68 22,-43 21,-17 -30,-8 -29,-2 -22,43 -23,66 -24,85 31,-30z"/>
<path color="#71771c" d="M6256,894l25,-93 -31,30 -24,97z"/><path color="#5a7626" d="M6232,997l24,-103 -30,34 -24,104z"/><path color="#48762d" d="M6207,1102l25,-105 -30,35 -24,103z"/><path color="#73781d" d="M6287,861l24,-86 -30,26 -25,93z"/><path color="#5b7727" d="M6262,961l25,-100 -31,33 -24,103z"/><path color="#48762d" d="M6237,1067l25,-106 -30,36 -25,105z"/><path class="m" d="M6237,1067l25,-106 25,-100 24,-86 -30,26 -31,30 -24,97 -24,104 -24,103 29,-33z"/>
<path color="#41752a" d="M6183,1205l24,-103 -29,33 -23,97z"/><path color="#3b7628" d="M6160,1298l23,-93 -28,27 -23,84z"/><path color="#377a26" d="M6137,1376l23,-78 -28,18 -22,68z"/><path color="#417429" d="M6213,1174l24,-107 -30,35 -24,103z"/><path color="#3a7427" d="M6189,1274l24,-100 -30,31 -23,93z"/><path color="#357625" d="M6165,1362l24,-88 -29,24 -23,78z"/><path class="m" d="M6165,1362l24,-88 24,-100 24,-107 -30,35 -29,33 -23,97 -23,84 -22,68 27,-8z"/>
<path color="#368328" d="M6116,1436l21,-60 -27,8 -21,48z"/><path color="#49b53d" d="M6095,1475l21,-39 -27,-4 -20,26z"/><path color="#9dffbc" d="M6075,1492l20,-17 -26,-17 -20,4z"/><path color="#317b24" d="M6143,1433l22,-71 -28,14 -21,60z"/><path color="#348d2b" d="M6121,1485l22,-52 -27,3 -21,39z"/><path color="#70ec87" d="M6101,1515l20,-30 -26,-10 -20,17z"/><path class="m" d="M6101,1515l20,-30 22,-52 22,-71 -28,14 -27,8 -21,48 -20,26 -20,4 26,30z"/>
<path color="#87ffec" d="M6055,1486l20,6 -26,-30 -19,-18z"/><path color="#75dbfc" d="M6036,1460l19,26 -25,-42 -19,-36z"/><path color="#254d5c" d="M6017,1415l19,45 -25,-52 -19,-51z"/><path color="#a6ffff" d="M6081,1521l20,-6 -26,-23 -20,-6z"/><path color="#80ebff" d="M6061,1506l20,15 -26,-35 -19,-26z"/><path color="#254d5c" d="M6042,1470l19,36 -25,-46 -19,-45z"/><path class="m" d="M6042,1470l19,36 20,15 20,-6 -26,-23 -26,-30 -19,-18 -19,-36 -19,-51 25,58z"/>
<path color="#20495b" d="M5998,1357l19,58 -25,-58 -19,-61z"/><path color="#1b465b" d="M5978,1291l20,66 -25,-61 -20,-64z"/><path color="#17425a" d="M5959,1224l19,67 -25,-59 -20,-60z"/><path color="#20495b" d="M6023,1418l19,52 -25,-55 -19,-58z"/><path color="#1b465b" d="M6004,1353l19,65 -25,-61 -20,-66z"/><path color="#17425a" d="M5985,1282l19,71 -26,-62 -19,-67z"/><path class="m" d="M5985,1282l19,71 19,65 19,52 -25,-55 -25,-58 -19,-61 -20,-64 -20,-60 26,52z"/>
<path color="#123f5a" d="M5938,1162l21,62 -26,-52 -21,-50z"/><path color="#1e3d5a" d="M5917,1112l21,50 -26,-40 -22,-34z"/><path color="#323b5a" d="M5895,1081l22,31 -27,-24 -22,-14z"/><path color="#123f5a" d="M5964,1212l21,70 -26,-58 -21,-62z"/><path color="#1e3d5a" d="M5944,1150l20,62 -26,-50 -21,-50z"/><path color="#323b5a" d="M5922,1101l22,49 -27,-38 -22,-31z"/><path class="m" d="M5922,1101l22,49 20,62 21,70 -26,-58 -26,-52 -21,-50 -22,-34 -22,-14 27,7z"/>
<path color="#423b5f" d="M5873,1069l22,12 -27,-7 -22,7z"/><path color="#584f89" d="M5850,1080l23,-11 -27,12 -23,25z"/><path color="#463e76" d="M5827,1108l23,-28 -27,26 -23,39z"/><path color="#3e3859" d="M5900,1072l22,29 -27,-20 -22,-12z"/><path color="#413a65" d="M5877,1065l23,7 -27,-3 -23,11z"/><path color="#4c4380" d="M5854,1080l23,-15 -27,15 -23,28z"/><path class="m" d="M5854,1080l23,-15 23,7 22,29 -27,-20 -27,-7 -22,7 -23,25 -23,39 27,-37z"/>
<path color="#3c3470" d="M5804,1150l23,-42 -27,37 -22,46z"/><path color="#342d6d" d="M5781,1199l23,-49 -26,41 -23,46z"/><path color="#2f266e" d="M5758,1246l23,-47 -26,38 -23,38z"/><path color="#3e3673" d="M5831,1113l23,-33 -27,28 -23,42z"/><path color="#352d6e" d="M5808,1158l23,-45 -27,37 -23,49z"/><path color="#2e266c" d="M5784,1209l24,-51 -27,41 -23,47z"/><path class="m" d="M5784,1209l24,-51 23,-45 23,-33 -27,28 -27,37 -22,46 -23,46 -23,38 26,-29z"/>
<path color="#462f6d" d="M5735,1284l23,-38 -26,29 -22,24z"/><path color="#894d7d" d="M5712,1308l23,-24 -25,15 -24,6z"/><path color="#e77394" d="M5689,1313l23,-5 -26,-3 -23,-13z"/><path color="#422c67" d="M5761,1258l23,-49 -26,37 -23,38z"/><path color="#6c3c62" d="M5738,1297l23,-39 -26,26 -23,24z"/><path color="#b65b75" d="M5714,1320l24,-23 -26,11 -23,5z"/><path class="m" d="M5714,1320l24,-23 23,-39 23,-49 -26,37 -26,29 -22,24 -24,6 -23,-13 26,21z"/>
<path color="#ed698a" d="M5665,1299l24,14 -26,-21 -25,-32z"/><path color="#e25676" d="M5640,1267l25,32 -27,-39 -25,-47z"/><path color="#db4765" d="M5615,1221l25,46 -27,-54 -25,-56z"/><path color="#f77092" d="M5691,1325l23,-5 -25,-7 -24,-14z"/><path color="#f35f80" d="M5666,1311l25,14 -26,-26 -25,-32z"/><path color="#e64b6a" d="M5641,1279l25,32 -26,-44 -25,-46z"/><path class="m" d="M5641,1279l25,32 25,14 23,-5 -25,-7 -26,-21 -25,-32 -25,-47 -25,-56 27,64z"/>
<path color="#d93956" d="M5589,1167l26,54 -27,-64 -27,-59z"/><path color="#dc2e4a" d="M5562,1113l27,54 -28,-69 -26,-53z"/><path color="#e72543" d="M5535,1066l27,47 -27,-68 -27,-39z"/><path color="#de3b59" d="M5616,1235l25,44 -26,-58 -26,-54z"/><path color="#dd2e4b" d="M5590,1184l26,51 -27,-68 -27,-54z"/><path color="#e22440" d="M5563,1134l27,50 -28,-71 -27,-47z"/><path class="m" d="M5563,1134l27,50 26,51 25,44 -26,-58 -27,-64 -27,-59 -26,-53 -27,-39 27,60z"/>
<path color="#ffcd68" d="M6551,1374l16,2 -27,-17 -15,-13z"/><path color="#60401c" d="M6536,1350l15,24 -26,-28 -14,-35z"/><path color="#5f3d18" d="M6523,1305l13,45 -25,-39 -12,-54z"/><path color="#ffe37d" d="M6578,1397l17,-9 -28,-12 -16,-2z"/><path color="#60401c" d="M6562,1384l16,13 -27,-23 -15,-24z"/><path color="#5f3d18" d="M6549,1349l13,35 -26,-34 -13,-45z"/><path class="m" d="M6549,1349l13,35 16,13 17,-9 -28,-12 -27,-17 -15,-13 -14,-35 -12,-54 24,48z"/>
<path color="#5e3a14" d="M6512,1242l11,63 -24,-48 -12,-71z"/><path color="#5e3710" d="M6501,1164l11,78 -25,-56 -11,-83z"/><path color="#5d340d" d="M6490,1075l11,89 -25,-61 -11,-91z"/><path color="#5e3a14" d="M6537,1294l12,55 -26,-44 -11,-63z"/><path color="#5e3710" d="M6525,1223l12,71 -25,-52 -11,-78z"/><path color="#5d340d" d="M6515,1138l10,85 -24,-59 -11,-89z"/><path class="m" d="M6515,1138l10,85 12,71 12,55 -26,-44 -24,-48 -12,-71 -11,-83 -11,-91 25,63z"/>
<path color="#5c3109" d="M6479,982l11,93 -25,-63 -11,-93z"/><path color="#5d3c12" d="M6467,890l12,92 -25,-63 -12,-88z"/><path color="#5f4f21" d="M6455,806l12,84 -25,-59 -14,-77z"/><path color="#5c3109" d="M6504,1046l11,92 -25,-63 -11,-93z"/><path color="#5d3c12" d="M6493,952l11,94 -25,-64 -12,-92z"/><path color="#5f4f21" d="M6481,863l12,89 -26,-62 -12,-84z"/><path class="m" d="M6481,863l12,89 11,94 11,92 -25,-63 -25,-63 -11,-93 -12,-88 -14,-77 27,52z"/>
<path color="#605c29" d="M6441,737l14,69 -27,-52 -15,-59z"/><path color="#605b24" d="M6425,688l16,49 -28,-42 -17,-37z"/><path color="#5f5a1f" d="M6407,664l18,24 -29,-30 -18,-11z"/><path color="#605c29" d="M6468,785l13,78 -26,-57 -14,-69z"/><path color="#605b24" d="M6453,725l15,60 -27,-48 -16,-49z"/><path color="#5f5a1f" d="M6437,687l16,38 -28,-37 -18,-24z"/><path class="m" d="M6437,687l16,38 15,60 13,78 -26,-57 -27,-52 -15,-59 -17,-37 -18,-11 29,17z"/>
<path color="#ffff60" d="M6387,666l20,-2 -29,-17 -21,17z"/><path color="#aca331" d="M6366,697l21,-31 -30,-2 -22,43z"/><path color="#8b831d" d="M6343,753l23,-56 -31,10 -24,68z"/><path color="#ffff5c" d="M6418,676l19,11 -30,-23 -20,2z"/><path color="#d7cc41" d="M6397,693l21,-17 -31,-10 -21,31z"/><path color="#948c20" d="M6374,737l23,-44 -31,4 -23,56z"/><path class="m" d="M6374,737l23,-44 21,-17 19,11 -30,-23 -29,-17 -21,17 -22,43 -24,68 32,-22z"/>
<path color="#757b1e" d="M6318,831l25,-78 -32,22 -24,86z"/><path color="#5c7827" d="M6293,926l25,-95 -31,30 -25,100z"/><path color="#48762d" d="M6268,1031l25,-105 -31,35 -25,106z"/><path color="#797f1f" d="M6350,805l24,-68 -31,16 -25,78z"/><path color="#5d7a28" d="M6325,893l25,-88 -32,26 -25,95z"/><path color="#49772e" d="M6300,995l25,-102 -32,33 -25,105z"/><path class="m" d="M6300,995l25,-102 25,-88 24,-68 -31,16 -32,22 -24,86 -25,100 -25,106 31,-36z"/>
<path color="#417429" d="M6243,1140l25,-109 -31,36 -24,107z"/><path color="#3a7326" d="M6218,1245l25,-105 -30,34 -24,100z"/><path color="#347424" d="M6194,1342l24,-97 -29,29 -24,88z"/><path color="#417429" d="M6274,1104l26,-109 -32,36 -25,109z"/><path color="#397226" d="M6249,1213l25,-109 -31,36 -25,105z"/><path color="#337223" d="M6224,1316l25,-103 -31,32 -24,97z"/><path class="m" d="M6224,1316l25,-103 25,-109 26,-109 -32,36 -31,36 -24,107 -24,100 -24,88 29,-20z"/>
<path color="#2f7722" d="M6171,1423l23,-81 -29,20 -22,71z"/><path color="#2c7f23" d="M6149,1487l22,-64 -28,10 -22,52z"/><path color="#47a659" d="M6127,1529l22,-42 -28,-2 -20,30z"/><path color="#2d7421" d="M6200,1407l24,-91 -30,26 -23,81z"/><path color="#287820" d="M6177,1482l23,-75 -29,16 -22,64z"/><path color="#358644" d="M6155,1537l22,-55 -28,5 -22,42z"/><path class="m" d="M6155,1537l22,-55 23,-75 24,-91 -30,26 -29,20 -22,71 -22,52 -20,30 26,14z"/>
<path color="#a9ffff" d="M6107,1549l20,-20 -26,-14 -20,6z"/><path color="#94ffff" d="M6087,1546l20,3 -26,-28 -20,-15z"/><path color="#67cff8" d="M6068,1520l19,26 -26,-40 -19,-36z"/><path color="#73d1ba" d="M6134,1569l21,-32 -28,-8 -20,20z"/><path color="#b2ffff" d="M6113,1578l21,-9 -27,-20 -20,-3z"/><path color="#72e0ff" d="M6094,1564l19,14 -26,-32 -19,-26z"/><path class="m" d="M6094,1564l19,14 21,-9 21,-32 -28,-8 -26,-14 -20,6 -20,-15 -19,-36 26,50z"/>
<path color="#20495b" d="M6049,1475l19,45 -26,-50 -19,-52z"/><path color="#1b465b" d="M6030,1415l19,60 -26,-57 -19,-65z"/><path color="#17425a" d="M6011,1344l19,71 -26,-62 -19,-71z"/><path color="#20495b" d="M6075,1529l19,35 -26,-44 -19,-45z"/><path color="#1b465b" d="M6056,1475l19,54 -26,-54 -19,-60z"/><path color="#17425a" d="M6037,1408l19,67 -26,-60 -19,-71z"/><path class="m" d="M6037,1408l19,67 19,54 19,35 -26,-44 -26,-50 -19,-52 -19,-65 -19,-71 26,62z"/>
<path color="#123f5a" d="M5991,1269l20,75 -26,-62 -21,-70z"/><path color="#1e3d5a" d="M5971,1197l20,72 -27,-57 -20,-62z"/><path color="#323b5a" d="M5950,1135l21,62 -27,-47 -22,-49z"/><path color="#123f5a" d="M6017,1331l20,77 -26,-64 -20,-75z"/><path color="#1e3d5a" d="M5998,1253l19,78 -26,-62 -20,-72z"/><path color="#323b5a" d="M5977,1181l21,72 -27,-56 -21,-62z"/><path class="m" d="M5977,1181l21,72 19,78 20,77 -26,-64 -26,-62 -21,-70 -20,-62 -22,-49 28,34z"/>
<path color="#3e3859" d="M5928,1089l22,46 -28,-34 -22,-29z"/><path color="#383257" d="M5905,1064l23,25 -28,-17 -23,-7z"/><path color="#3f376a" d="M5882,1062l23,2 -28,1 -23,15z"/><path color="#3e3859" d="M5956,1120l21,61 -27,-46 -22,-46z"/><path color="#383257" d="M5933,1078l23,42 -28,-31 -23,-25z"/><path color="#332d56" d="M5911,1058l22,20 -28,-14 -23,-2z"/><path class="m" d="M5911,1058l22,20 23,42 21,61 -27,-46 -28,-34 -22,-29 -23,-7 -23,15 28,-18z"/>
<path color="#42397a" d="M5859,1082l23,-20 -28,18 -23,33z"/><path color="#362e71" d="M5835,1119l24,-37 -28,31 -23,45z"/><path color="#2e266c" d="M5812,1169l23,-50 -27,39 -24,51z"/><path color="#514696" d="M5887,1061l24,-3 -29,4 -23,20z"/><path color="#393177" d="M5863,1087l24,-26 -28,21 -24,37z"/><path color="#2f276e" d="M5839,1130l24,-43 -28,32 -23,50z"/><path class="m" d="M5839,1130l24,-43 24,-26 24,-3 -29,4 -28,18 -23,33 -23,45 -24,51 28,-40z"/>
<path color="#402b65" d="M5788,1223l24,-54 -28,40 -23,49z"/><path color="#65385c" d="M5764,1274l24,-51 -27,35 -23,39z"/><path color="#894357" d="M5741,1314l23,-40 -26,23 -24,23z"/><path color="#402b64" d="M5815,1184l24,-54 -27,39 -24,54z"/><path color="#623659" d="M5791,1242l24,-58 -27,39 -24,51z"/><path color="#7e3e50" d="M5768,1295l23,-53 -27,32 -23,40z"/><path class="m" d="M5768,1295l23,-53 24,-58 24,-54 -27,39 -28,40 -23,49 -23,39 -24,23 27,-6z"/>
<path color="#c35974" d="M5717,1338l24,-24 -27,6 -23,5z"/><path color="#ff6d8f" d="M5693,1343l24,-5 -26,-13 -25,-14z"/><path color="#fa5576" d="M5668,1328l25,15 -27,-32 -25,-32z"/><path color="#8e3f53" d="M5744,1336l24,-41 -27,19 -24,24z"/><path color="#d25874" d="M5720,1360l24,-24 -27,2 -24,5z"/><path color="#ff688c" d="M5695,1365l25,-5 -27,-17 -25,-15z"/><path class="m" d="M5695,1365l25,-5 24,-24 24,-41 -27,19 -27,6 -23,5 -25,-14 -25,-32 27,49z"/>
<path color="#ea405f" d="M5643,1297l25,31 -27,-49 -25,-44z"/><path color="#e2304d" d="M5617,1254l26,43 -27,-62 -26,-51z"/><path color="#e12440" d="M5591,1206l26,48 -27,-70 -27,-50z"/><path color="#ff4b6c" d="M5670,1351l25,14 -27,-37 -25,-31z"/><path color="#ee3553" d="M5645,1321l25,30 -27,-54 -26,-43z"/><path color="#e62542" d="M5619,1280l26,41 -28,-67 -26,-48z"/><path class="m" d="M5619,1280l26,41 25,30 25,14 -27,-37 -27,-49 -25,-44 -26,-51 -27,-50 28,72z"/></g>
<path fill="none" stroke="#777" stroke-width="0.5" d="M563.1,184.4L659.3,140.6M561.1,90L666.9,57.8M490.6,49.8L586.4,29.1M563.1,184.4L498,129M561.1,90L490.6,49.8M666.9,57.8L586.4,29.1M563.1,184.4L561.1,90M498,129L490.6,49.8M659.3,140.6L666.9,57.8"/>
<text x="582.8" y="183.9" text-anchor="middle" class="t3">−2</text><text x="614.4" y="168.5" text-anchor="middle" class="t3">0</text><text x="643.5" y="155.6" text-anchor="middle" class="t3">2</text><text x="614.8" y="177.9" text-anchor="middle" class="n3"><tspan font-style="italic">x</tspan></text><text x="556.4" y="188.1" text-anchor="middle" class="t3">−2</text><text x="537.7" y="172.2" text-anchor="middle" class="t3">−1</text><text x="523.1" y="158.9" text-anchor="middle" class="t3">0</text><text x="508.5" y="145.7" text-anchor="middle" class="t3">1</text><text x="495.1" y="134.5" text-anchor="middle" class="t3">2</text><text x="515.2" y="161.8" text-anchor="middle" class="n3"><tspan font-style="italic">t</tspan></text><text x="668.4" y="133.8" text-anchor="middle" class="t3">−0.5</text><text x="667.8" y="105.9" text-anchor="middle" class="t3">0.0</text><text x="671" y="76.6" text-anchor="middle" class="t3">0.5</text><text x="679" y="110.3" text-anchor="middle" class="n3"><tspan font-style="italic">Im</tspan>[q]</text><path fill="none" stroke="#111" stroke-width="0.6" d="M563.1,184.4L659.3,140.6M581.4,176.1L579.4,174.5M615.2,160.7L613,159.3M645.4,147L643.2,145.7M563.1,184.4L562,183.6M566.8,182.7L565.8,181.8M570.5,181L569.5,180.2M574.2,179.4L573.2,178.5M577.9,177.7L576.8,176.9M581.4,176.1L580.4,175.2M585,174.5L583.9,173.6M588.5,172.9L587.4,172M592,171.3L590.9,170.5M595.4,169.7L594.3,168.9M598.8,168.2L597.7,167.4M602.1,166.7L601,165.9M605.5,165.1L604.4,164.4M608.7,163.7L607.6,162.9M612,162.2L610.9,161.4M615.2,160.7L614.1,160M618.4,159.3L617.2,158.5M621.5,157.8L620.4,157.1M624.6,156.4L623.5,155.7M627.7,155L626.5,154.3M630.7,153.7L629.6,152.9M633.7,152.3L632.6,151.6M636.7,150.9L635.5,150.2M639.6,149.6L638.5,148.9M642.5,148.3L641.4,147.6M645.4,147L644.2,146.3M648.2,145.7L647.1,145M651.1,144.4L649.9,143.7M653.8,143.1L652.7,142.5M656.6,141.9L655.5,141.2M659.3,140.6L658.2,140M563.1,184.4L498,129M563.1,184.4L565.9,183.2M544,168.2L546.7,167M527,153.7L529.6,152.7M511.7,140.7L514.3,139.8M498,129L500.5,128.2M563.1,184.4L564.5,183.8M559,181L560.5,180.4M555.1,177.7L556.6,177.1M551.3,174.5L552.8,173.8M547.6,171.3L549,170.7M544,168.2L545.4,167.6M540.4,165.1L541.8,164.6M536.9,162.2L538.3,161.6M533.5,159.3L534.9,158.7M530.2,156.5L531.6,155.9M527,153.7L528.3,153.2M523.8,151L525.2,150.5M520.7,148.3L522,147.8M517.6,145.7L519,145.2M514.6,143.2L516,142.7M511.7,140.7L513.1,140.2M508.8,138.3L510.2,137.8M506,135.9L507.4,135.4M503.3,133.5L504.6,133.1M500.6,131.2L501.9,130.8M498,129L499.3,128.6M659.3,140.6L666.9,57.8M660.5,128.4L658.2,127.2M662.9,101.1L660.6,100M665.6,72.1L663.2,71.2M659.5,138.8L658.3,138.2M660,133.6L658.8,133M660.5,128.4L659.3,127.8M660.9,123.1L659.8,122.4M661.4,117.7L660.2,117.1M661.9,112.2L660.7,111.6M662.4,106.7L661.2,106.1M662.9,101.1L661.7,100.6M663.5,95.5L662.2,94.9M664,89.7L662.8,89.2M664.5,83.9L663.3,83.4M665.1,78.1L663.8,77.5M665.6,72.1L664.3,71.6M666.2,66.1L664.9,65.6M666.7,60L665.4,59.5"/>
<text x="578.3" y="26.8" text-anchor="middle" class="t3t" style="font-size:6.1px">Figure (<tspan font-style="italic">c</tspan>)</text>
</svg>
</body></html>
